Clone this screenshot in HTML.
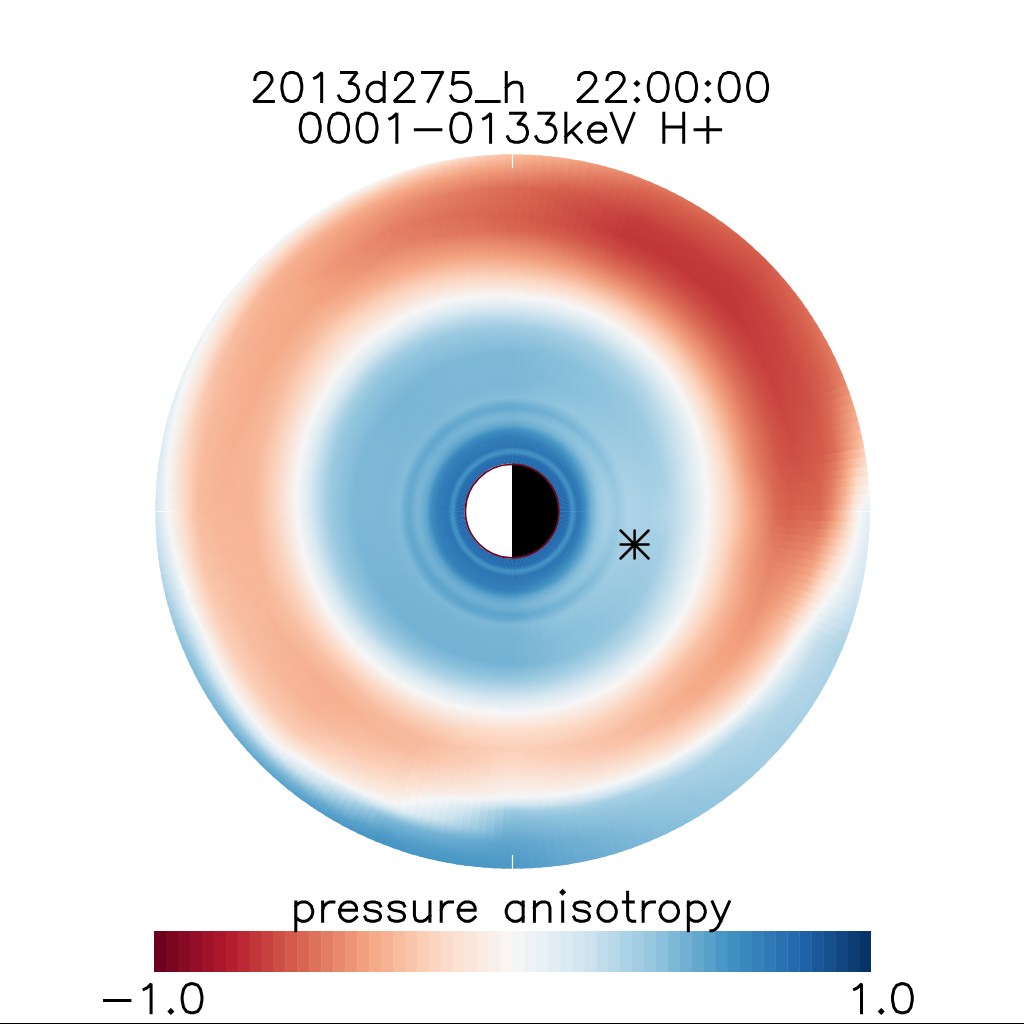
<!DOCTYPE html><html><head><meta charset="utf-8"><style>html,body{margin:0;padding:0;background:#fff;width:1024px;height:1024px;overflow:hidden}svg{display:block}</style></head><body><svg width="1024" height="1024" viewBox="0 0 1024 1024"><defs><radialGradient id="g0" gradientUnits="userSpaceOnUse" cx="512.6" cy="511.5" r="358.3"><stop offset="0.1273" stop-color="#2166ac"/><stop offset="0.1552" stop-color="#266daf"/><stop offset="0.1663" stop-color="#4292c3"/><stop offset="0.1719" stop-color="#3d8bbf"/><stop offset="0.1803" stop-color="#2c74b3"/><stop offset="0.1915" stop-color="#317bb7"/><stop offset="0.2054" stop-color="#4594c4"/><stop offset="0.2194" stop-color="#71b0d3"/><stop offset="0.2389" stop-color="#97c8e0"/><stop offset="0.2640" stop-color="#a8d0e4"/><stop offset="0.2919" stop-color="#9ccae1"/><stop offset="0.3226" stop-color="#aed3e6"/><stop offset="0.3812" stop-color="#a9d1e5"/><stop offset="0.4510" stop-color="#bcdaea"/><stop offset="0.5431" stop-color="#f7f6f6"/><stop offset="0.6073" stop-color="#fcd4bf"/><stop offset="0.6659" stop-color="#f2a07e"/><stop offset="0.7385" stop-color="#d96853"/><stop offset="0.7748" stop-color="#d65f4d"/><stop offset="0.8613" stop-color="#da6954"/><stop offset="0.8892" stop-color="#e6866a"/><stop offset="0.9171" stop-color="#f6af8f"/><stop offset="0.9366" stop-color="#fbcdb5"/><stop offset="0.9506" stop-color="#fbe3d5"/><stop offset="0.9701" stop-color="#f8f4f3"/><stop offset="0.9813" stop-color="#f2f5f6"/><stop offset="0.9980" stop-color="#e9f0f4"/></radialGradient><radialGradient id="g1" gradientUnits="userSpaceOnUse" cx="512.6" cy="511.5" r="358.3"><stop offset="0.1273" stop-color="#2166ac"/><stop offset="0.1552" stop-color="#266daf"/><stop offset="0.1663" stop-color="#4292c3"/><stop offset="0.1719" stop-color="#3d8bbf"/><stop offset="0.1803" stop-color="#2c74b3"/><stop offset="0.1915" stop-color="#317bb7"/><stop offset="0.2054" stop-color="#4594c4"/><stop offset="0.2194" stop-color="#71b0d3"/><stop offset="0.2389" stop-color="#97c8df"/><stop offset="0.2640" stop-color="#a7d0e4"/><stop offset="0.2919" stop-color="#9bcae1"/><stop offset="0.3226" stop-color="#aed3e6"/><stop offset="0.3812" stop-color="#a8d0e4"/><stop offset="0.4426" stop-color="#b7d8e9"/><stop offset="0.5431" stop-color="#f7f7f7"/><stop offset="0.6073" stop-color="#fcd4bf"/><stop offset="0.6631" stop-color="#f2a17f"/><stop offset="0.7357" stop-color="#d96853"/><stop offset="0.7748" stop-color="#d45d4c"/><stop offset="0.8585" stop-color="#d86651"/><stop offset="0.8864" stop-color="#e37d63"/><stop offset="0.9199" stop-color="#f5ab8a"/><stop offset="0.9394" stop-color="#fac9b0"/><stop offset="0.9534" stop-color="#fce0d0"/><stop offset="0.9757" stop-color="#f8f0eb"/><stop offset="0.9925" stop-color="#f5f6f7"/><stop offset="0.9980" stop-color="#f2f5f6"/></radialGradient><radialGradient id="g2" gradientUnits="userSpaceOnUse" cx="512.6" cy="511.5" r="358.3"><stop offset="0.1273" stop-color="#2166ac"/><stop offset="0.1552" stop-color="#266daf"/><stop offset="0.1663" stop-color="#4292c3"/><stop offset="0.1719" stop-color="#3d8bbf"/><stop offset="0.1803" stop-color="#2c74b3"/><stop offset="0.1915" stop-color="#317bb7"/><stop offset="0.2054" stop-color="#4494c3"/><stop offset="0.2194" stop-color="#70afd2"/><stop offset="0.2389" stop-color="#96c7df"/><stop offset="0.2640" stop-color="#a7d0e4"/><stop offset="0.2919" stop-color="#9bc9e0"/><stop offset="0.3226" stop-color="#add3e6"/><stop offset="0.3840" stop-color="#a8d0e4"/><stop offset="0.4371" stop-color="#b4d6e8"/><stop offset="0.5459" stop-color="#f7f6f5"/><stop offset="0.6073" stop-color="#fcd4bf"/><stop offset="0.6631" stop-color="#f29f7e"/><stop offset="0.7357" stop-color="#d96752"/><stop offset="0.7748" stop-color="#d35b4b"/><stop offset="0.8585" stop-color="#d7634f"/><stop offset="0.8920" stop-color="#e37e64"/><stop offset="0.9283" stop-color="#f5ae8d"/><stop offset="0.9590" stop-color="#fcdfcd"/><stop offset="0.9980" stop-color="#f8f4f1"/></radialGradient><radialGradient id="g3" gradientUnits="userSpaceOnUse" cx="512.6" cy="511.5" r="358.3"><stop offset="0.1273" stop-color="#2166ac"/><stop offset="0.1552" stop-color="#266daf"/><stop offset="0.1663" stop-color="#4292c3"/><stop offset="0.1719" stop-color="#3d8bbf"/><stop offset="0.1803" stop-color="#2c74b3"/><stop offset="0.1915" stop-color="#317bb7"/><stop offset="0.2054" stop-color="#4493c3"/><stop offset="0.2194" stop-color="#6fafd2"/><stop offset="0.2389" stop-color="#96c7df"/><stop offset="0.2640" stop-color="#a7cfe4"/><stop offset="0.2919" stop-color="#9ac9e0"/><stop offset="0.3226" stop-color="#add3e6"/><stop offset="0.3840" stop-color="#a7d0e4"/><stop offset="0.4343" stop-color="#b1d5e7"/><stop offset="0.5459" stop-color="#f7f6f6"/><stop offset="0.6073" stop-color="#fcd4bf"/><stop offset="0.6631" stop-color="#f19e7c"/><stop offset="0.7357" stop-color="#d86651"/><stop offset="0.7776" stop-color="#d25949"/><stop offset="0.8585" stop-color="#d6614d"/><stop offset="0.8948" stop-color="#e27a61"/><stop offset="0.9311" stop-color="#f5a987"/><stop offset="0.9646" stop-color="#fddcc8"/><stop offset="0.9980" stop-color="#f9ede5"/></radialGradient><radialGradient id="g4" gradientUnits="userSpaceOnUse" cx="512.6" cy="511.5" r="358.3"><stop offset="0.1273" stop-color="#2166ac"/><stop offset="0.1552" stop-color="#266daf"/><stop offset="0.1663" stop-color="#4292c3"/><stop offset="0.1719" stop-color="#3d8bbf"/><stop offset="0.1803" stop-color="#2c74b3"/><stop offset="0.1915" stop-color="#317bb7"/><stop offset="0.2054" stop-color="#4393c3"/><stop offset="0.2194" stop-color="#6eaed2"/><stop offset="0.2389" stop-color="#95c7df"/><stop offset="0.2640" stop-color="#a6cfe4"/><stop offset="0.2919" stop-color="#9ac9e0"/><stop offset="0.3226" stop-color="#acd2e6"/><stop offset="0.3840" stop-color="#a7d0e4"/><stop offset="0.4315" stop-color="#aed3e6"/><stop offset="0.5459" stop-color="#f7f7f6"/><stop offset="0.6073" stop-color="#fcd4be"/><stop offset="0.6631" stop-color="#f09c7b"/><stop offset="0.7301" stop-color="#d96853"/><stop offset="0.7748" stop-color="#d15749"/><stop offset="0.8501" stop-color="#d45c4b"/><stop offset="0.8892" stop-color="#dd7059"/><stop offset="0.9227" stop-color="#ec9475"/><stop offset="0.9394" stop-color="#f5ac8b"/><stop offset="0.9701" stop-color="#fcd5bf"/><stop offset="0.9980" stop-color="#fbe6d9"/></radialGradient><radialGradient id="g5" gradientUnits="userSpaceOnUse" cx="512.6" cy="511.5" r="358.3"><stop offset="0.1273" stop-color="#2166ac"/><stop offset="0.1552" stop-color="#266daf"/><stop offset="0.1663" stop-color="#4292c3"/><stop offset="0.1719" stop-color="#3d8bbf"/><stop offset="0.1803" stop-color="#2c74b3"/><stop offset="0.1915" stop-color="#317bb6"/><stop offset="0.2054" stop-color="#4393c3"/><stop offset="0.2194" stop-color="#6eaed2"/><stop offset="0.2389" stop-color="#95c7df"/><stop offset="0.2640" stop-color="#a6cfe4"/><stop offset="0.2919" stop-color="#99c9e0"/><stop offset="0.3226" stop-color="#acd2e5"/><stop offset="0.3868" stop-color="#a6cfe4"/><stop offset="0.4315" stop-color="#add3e6"/><stop offset="0.5180" stop-color="#e6eff4"/><stop offset="0.5487" stop-color="#f7f6f5"/><stop offset="0.6073" stop-color="#fcd4be"/><stop offset="0.6603" stop-color="#f19d7c"/><stop offset="0.7078" stop-color="#df755d"/><stop offset="0.7580" stop-color="#d2594a"/><stop offset="0.8111" stop-color="#d05447"/><stop offset="0.8725" stop-color="#d6614e"/><stop offset="0.9087" stop-color="#e17a61"/><stop offset="0.9422" stop-color="#f4a683"/><stop offset="0.9757" stop-color="#fbccb4"/><stop offset="0.9980" stop-color="#fcdecd"/></radialGradient><radialGradient id="g6" gradientUnits="userSpaceOnUse" cx="512.6" cy="511.5" r="358.3"><stop offset="0.1273" stop-color="#2166ac"/><stop offset="0.1552" stop-color="#266daf"/><stop offset="0.1663" stop-color="#4292c3"/><stop offset="0.1719" stop-color="#3d8bbf"/><stop offset="0.1803" stop-color="#2c74b3"/><stop offset="0.1915" stop-color="#307ab6"/><stop offset="0.2054" stop-color="#4392c3"/><stop offset="0.2222" stop-color="#73b1d3"/><stop offset="0.2389" stop-color="#95c6df"/><stop offset="0.2640" stop-color="#a5cfe4"/><stop offset="0.2919" stop-color="#99c8e0"/><stop offset="0.3226" stop-color="#acd2e5"/><stop offset="0.3896" stop-color="#a6cfe4"/><stop offset="0.4287" stop-color="#aad1e5"/><stop offset="0.5068" stop-color="#dfecf3"/><stop offset="0.5487" stop-color="#f7f6f5"/><stop offset="0.6073" stop-color="#fcd4be"/><stop offset="0.6603" stop-color="#f09b7b"/><stop offset="0.6994" stop-color="#e17961"/><stop offset="0.7552" stop-color="#d2594a"/><stop offset="0.8027" stop-color="#ce5146"/><stop offset="0.8752" stop-color="#d55e4c"/><stop offset="0.9115" stop-color="#df745c"/><stop offset="0.9534" stop-color="#f5a886"/><stop offset="0.9980" stop-color="#fcd4be"/></radialGradient><radialGradient id="g7" gradientUnits="userSpaceOnUse" cx="512.6" cy="511.5" r="358.3"><stop offset="0.1273" stop-color="#2166ac"/><stop offset="0.1552" stop-color="#266daf"/><stop offset="0.1663" stop-color="#4292c3"/><stop offset="0.1719" stop-color="#3d8bbf"/><stop offset="0.1803" stop-color="#2c74b3"/><stop offset="0.1915" stop-color="#307ab6"/><stop offset="0.2054" stop-color="#4292c3"/><stop offset="0.2222" stop-color="#72b1d3"/><stop offset="0.2389" stop-color="#94c6df"/><stop offset="0.2640" stop-color="#a5cfe3"/><stop offset="0.2919" stop-color="#98c8e0"/><stop offset="0.3226" stop-color="#abd2e5"/><stop offset="0.3924" stop-color="#a5cfe3"/><stop offset="0.4287" stop-color="#a8d0e4"/><stop offset="0.5013" stop-color="#dbeaf2"/><stop offset="0.5487" stop-color="#f7f6f6"/><stop offset="0.6073" stop-color="#fcd4be"/><stop offset="0.6603" stop-color="#ef9a79"/><stop offset="0.6938" stop-color="#e27c62"/><stop offset="0.7524" stop-color="#d25849"/><stop offset="0.7999" stop-color="#cd4e45"/><stop offset="0.8836" stop-color="#d55d4c"/><stop offset="0.9143" stop-color="#dc6d57"/><stop offset="0.9729" stop-color="#f6ae8e"/><stop offset="0.9980" stop-color="#fac7ad"/></radialGradient><radialGradient id="g8" gradientUnits="userSpaceOnUse" cx="512.6" cy="511.5" r="358.3"><stop offset="0.1273" stop-color="#2166ac"/><stop offset="0.1552" stop-color="#266daf"/><stop offset="0.1663" stop-color="#4292c3"/><stop offset="0.1719" stop-color="#3d8bbf"/><stop offset="0.1803" stop-color="#2c74b3"/><stop offset="0.1915" stop-color="#307ab6"/><stop offset="0.2054" stop-color="#4292c2"/><stop offset="0.2222" stop-color="#71b0d3"/><stop offset="0.2389" stop-color="#93c6de"/><stop offset="0.2640" stop-color="#a4cee3"/><stop offset="0.2919" stop-color="#97c8e0"/><stop offset="0.3226" stop-color="#abd1e5"/><stop offset="0.3924" stop-color="#a4cee3"/><stop offset="0.4287" stop-color="#a7d0e4"/><stop offset="0.5068" stop-color="#ddebf2"/><stop offset="0.5515" stop-color="#f7f6f5"/><stop offset="0.6073" stop-color="#fcd5bf"/><stop offset="0.6603" stop-color="#ef9b7a"/><stop offset="0.6966" stop-color="#e17a61"/><stop offset="0.7524" stop-color="#d25849"/><stop offset="0.7999" stop-color="#cc4d44"/><stop offset="0.8808" stop-color="#d35a4a"/><stop offset="0.9143" stop-color="#db6b55"/><stop offset="0.9813" stop-color="#f6af8f"/><stop offset="0.9980" stop-color="#f8bfa3"/></radialGradient><radialGradient id="g9" gradientUnits="userSpaceOnUse" cx="512.6" cy="511.5" r="358.3"><stop offset="0.1273" stop-color="#2166ac"/><stop offset="0.1552" stop-color="#266daf"/><stop offset="0.1663" stop-color="#4292c3"/><stop offset="0.1719" stop-color="#3d8bbf"/><stop offset="0.1803" stop-color="#2c74b3"/><stop offset="0.1915" stop-color="#307ab6"/><stop offset="0.2054" stop-color="#4291c2"/><stop offset="0.2250" stop-color="#75b3d4"/><stop offset="0.2417" stop-color="#95c7df"/><stop offset="0.2640" stop-color="#a3cee3"/><stop offset="0.2919" stop-color="#96c7df"/><stop offset="0.3226" stop-color="#aad1e5"/><stop offset="0.3924" stop-color="#a3cee3"/><stop offset="0.4315" stop-color="#a8d0e4"/><stop offset="0.5124" stop-color="#dfecf3"/><stop offset="0.5515" stop-color="#f7f6f6"/><stop offset="0.6073" stop-color="#fcd5bf"/><stop offset="0.6603" stop-color="#f09b7b"/><stop offset="0.6966" stop-color="#e17a61"/><stop offset="0.7552" stop-color="#d15749"/><stop offset="0.8027" stop-color="#cc4b43"/><stop offset="0.8836" stop-color="#d3594a"/><stop offset="0.9171" stop-color="#da6a54"/><stop offset="0.9869" stop-color="#f5ad8c"/><stop offset="0.9980" stop-color="#f7b799"/></radialGradient><radialGradient id="g10" gradientUnits="userSpaceOnUse" cx="512.6" cy="511.5" r="358.3"><stop offset="0.1273" stop-color="#2166ac"/><stop offset="0.1552" stop-color="#266daf"/><stop offset="0.1663" stop-color="#4292c3"/><stop offset="0.1719" stop-color="#3d8bbf"/><stop offset="0.1803" stop-color="#2c74b3"/><stop offset="0.1915" stop-color="#307ab6"/><stop offset="0.2082" stop-color="#4896c5"/><stop offset="0.2250" stop-color="#74b2d4"/><stop offset="0.2417" stop-color="#94c6df"/><stop offset="0.2640" stop-color="#a2cde3"/><stop offset="0.2919" stop-color="#95c7df"/><stop offset="0.3226" stop-color="#a9d1e5"/><stop offset="0.3924" stop-color="#a2cde3"/><stop offset="0.4315" stop-color="#a6cfe4"/><stop offset="0.5236" stop-color="#e5eef4"/><stop offset="0.5543" stop-color="#f7f6f5"/><stop offset="0.6073" stop-color="#fcd5c0"/><stop offset="0.6603" stop-color="#f09c7b"/><stop offset="0.6994" stop-color="#e17960"/><stop offset="0.7552" stop-color="#d15648"/><stop offset="0.8027" stop-color="#cb4a43"/><stop offset="0.8836" stop-color="#d25749"/><stop offset="0.9199" stop-color="#da6853"/><stop offset="0.9925" stop-color="#f5aa89"/><stop offset="0.9980" stop-color="#f6af8f"/></radialGradient><radialGradient id="g11" gradientUnits="userSpaceOnUse" cx="512.6" cy="511.5" r="358.3"><stop offset="0.1273" stop-color="#2166ac"/><stop offset="0.1552" stop-color="#266daf"/><stop offset="0.1663" stop-color="#4292c3"/><stop offset="0.1719" stop-color="#3d8bbf"/><stop offset="0.1803" stop-color="#2c74b3"/><stop offset="0.1943" stop-color="#337db8"/><stop offset="0.2082" stop-color="#4695c4"/><stop offset="0.2250" stop-color="#72b1d3"/><stop offset="0.2417" stop-color="#93c6de"/><stop offset="0.2640" stop-color="#a1cde2"/><stop offset="0.2919" stop-color="#94c6df"/><stop offset="0.3226" stop-color="#a8d0e4"/><stop offset="0.3896" stop-color="#a2cde2"/><stop offset="0.4315" stop-color="#a5cfe4"/><stop offset="0.5515" stop-color="#f6f6f7"/><stop offset="0.6045" stop-color="#fdd9c4"/><stop offset="0.6603" stop-color="#f09d7c"/><stop offset="0.6994" stop-color="#e17960"/><stop offset="0.7552" stop-color="#d15648"/><stop offset="0.8027" stop-color="#ca4842"/><stop offset="0.8836" stop-color="#d15548"/><stop offset="0.9255" stop-color="#da6954"/><stop offset="0.9980" stop-color="#f4a785"/></radialGradient><radialGradient id="g12" gradientUnits="userSpaceOnUse" cx="512.6" cy="511.5" r="358.3"><stop offset="0.1273" stop-color="#2166ac"/><stop offset="0.1552" stop-color="#266daf"/><stop offset="0.1663" stop-color="#4292c3"/><stop offset="0.1719" stop-color="#3d8bbf"/><stop offset="0.1803" stop-color="#2c74b3"/><stop offset="0.1943" stop-color="#337db8"/><stop offset="0.2082" stop-color="#4594c4"/><stop offset="0.2277" stop-color="#77b4d5"/><stop offset="0.2417" stop-color="#92c5de"/><stop offset="0.2640" stop-color="#a1cce2"/><stop offset="0.2919" stop-color="#94c6de"/><stop offset="0.3226" stop-color="#a7d0e4"/><stop offset="0.3896" stop-color="#a1cce2"/><stop offset="0.4315" stop-color="#a4cee3"/><stop offset="0.4929" stop-color="#d0e4f0"/><stop offset="0.5571" stop-color="#f7f6f5"/><stop offset="0.6073" stop-color="#fcd6c1"/><stop offset="0.6603" stop-color="#f19e7c"/><stop offset="0.7022" stop-color="#e0785f"/><stop offset="0.7552" stop-color="#d15648"/><stop offset="0.8027" stop-color="#ca4741"/><stop offset="0.8836" stop-color="#d05347"/><stop offset="0.9339" stop-color="#da6a55"/><stop offset="0.9980" stop-color="#f19e7c"/></radialGradient><radialGradient id="g13" gradientUnits="userSpaceOnUse" cx="512.6" cy="511.5" r="358.3"><stop offset="0.1273" stop-color="#2166ac"/><stop offset="0.1552" stop-color="#266daf"/><stop offset="0.1663" stop-color="#4292c3"/><stop offset="0.1719" stop-color="#3d8bbf"/><stop offset="0.1803" stop-color="#2c74b3"/><stop offset="0.1943" stop-color="#327db8"/><stop offset="0.2082" stop-color="#4494c3"/><stop offset="0.2305" stop-color="#7cb7d7"/><stop offset="0.2445" stop-color="#94c6df"/><stop offset="0.2668" stop-color="#a0cce2"/><stop offset="0.2919" stop-color="#93c5de"/><stop offset="0.3198" stop-color="#a7cfe4"/><stop offset="0.3924" stop-color="#a0cce2"/><stop offset="0.4343" stop-color="#a4cee3"/><stop offset="0.4929" stop-color="#cde3ef"/><stop offset="0.5571" stop-color="#f7f6f6"/><stop offset="0.6073" stop-color="#fcd6c1"/><stop offset="0.6603" stop-color="#f19e7d"/><stop offset="0.7022" stop-color="#e0785f"/><stop offset="0.7580" stop-color="#d05447"/><stop offset="0.8055" stop-color="#c94540"/><stop offset="0.8864" stop-color="#cf5246"/><stop offset="0.9422" stop-color="#da6a55"/><stop offset="0.9980" stop-color="#ec9475"/></radialGradient><radialGradient id="g14" gradientUnits="userSpaceOnUse" cx="512.6" cy="511.5" r="358.3"><stop offset="0.1273" stop-color="#2166ac"/><stop offset="0.1552" stop-color="#266daf"/><stop offset="0.1663" stop-color="#4292c3"/><stop offset="0.1719" stop-color="#3d8bbf"/><stop offset="0.1803" stop-color="#2c74b3"/><stop offset="0.1943" stop-color="#327db8"/><stop offset="0.2082" stop-color="#4393c3"/><stop offset="0.2305" stop-color="#7bb6d6"/><stop offset="0.2445" stop-color="#93c5de"/><stop offset="0.2668" stop-color="#9fcce2"/><stop offset="0.2919" stop-color="#92c5de"/><stop offset="0.3198" stop-color="#a6cfe4"/><stop offset="0.3924" stop-color="#9fcce2"/><stop offset="0.4343" stop-color="#a3cee3"/><stop offset="0.4901" stop-color="#c9e1ee"/><stop offset="0.5599" stop-color="#f7f6f5"/><stop offset="0.6073" stop-color="#fcd7c2"/><stop offset="0.6603" stop-color="#f19f7e"/><stop offset="0.7022" stop-color="#e17860"/><stop offset="0.7580" stop-color="#d05347"/><stop offset="0.8055" stop-color="#c84440"/><stop offset="0.8864" stop-color="#ce5045"/><stop offset="0.9506" stop-color="#da6954"/><stop offset="0.9980" stop-color="#e8896d"/></radialGradient><radialGradient id="g15" gradientUnits="userSpaceOnUse" cx="512.6" cy="511.5" r="358.3"><stop offset="0.1273" stop-color="#2166ac"/><stop offset="0.1552" stop-color="#266daf"/><stop offset="0.1663" stop-color="#4292c3"/><stop offset="0.1719" stop-color="#3d8bbf"/><stop offset="0.1803" stop-color="#2c74b3"/><stop offset="0.1943" stop-color="#327db8"/><stop offset="0.2082" stop-color="#4392c3"/><stop offset="0.2361" stop-color="#86bdda"/><stop offset="0.2529" stop-color="#99c9e0"/><stop offset="0.2696" stop-color="#9dcbe1"/><stop offset="0.2919" stop-color="#90c4dd"/><stop offset="0.3198" stop-color="#a5cfe3"/><stop offset="0.3924" stop-color="#9ecbe1"/><stop offset="0.4343" stop-color="#a2cde3"/><stop offset="0.4901" stop-color="#c7e0ed"/><stop offset="0.5599" stop-color="#f7f7f6"/><stop offset="0.6101" stop-color="#fcd4bf"/><stop offset="0.6631" stop-color="#f19d7c"/><stop offset="0.7078" stop-color="#df755d"/><stop offset="0.7580" stop-color="#d05347"/><stop offset="0.8055" stop-color="#c8433f"/><stop offset="0.8836" stop-color="#cd4e44"/><stop offset="0.9534" stop-color="#d96652"/><stop offset="0.9980" stop-color="#e58368"/></radialGradient><radialGradient id="g16" gradientUnits="userSpaceOnUse" cx="512.6" cy="511.5" r="358.3"><stop offset="0.1273" stop-color="#2166ac"/><stop offset="0.1552" stop-color="#266daf"/><stop offset="0.1663" stop-color="#4292c3"/><stop offset="0.1719" stop-color="#3d8bbf"/><stop offset="0.1803" stop-color="#2c74b3"/><stop offset="0.1943" stop-color="#327cb7"/><stop offset="0.2110" stop-color="#4997c5"/><stop offset="0.2389" stop-color="#89c0db"/><stop offset="0.2612" stop-color="#9dcae1"/><stop offset="0.2780" stop-color="#96c7df"/><stop offset="0.2919" stop-color="#8fc3dd"/><stop offset="0.3198" stop-color="#a4cee3"/><stop offset="0.3924" stop-color="#9dcbe1"/><stop offset="0.4343" stop-color="#a1cde2"/><stop offset="0.4901" stop-color="#c5dfec"/><stop offset="0.5627" stop-color="#f7f6f5"/><stop offset="0.6101" stop-color="#fcd6c1"/><stop offset="0.6631" stop-color="#f19f7d"/><stop offset="0.7078" stop-color="#df765e"/><stop offset="0.7580" stop-color="#d05447"/><stop offset="0.8055" stop-color="#c7433f"/><stop offset="0.8808" stop-color="#cc4b43"/><stop offset="0.9534" stop-color="#d86450"/><stop offset="0.9980" stop-color="#e48166"/></radialGradient><radialGradient id="g17" gradientUnits="userSpaceOnUse" cx="512.6" cy="511.5" r="358.3"><stop offset="0.1273" stop-color="#2166ac"/><stop offset="0.1552" stop-color="#266daf"/><stop offset="0.1663" stop-color="#4292c3"/><stop offset="0.1719" stop-color="#3d8bbf"/><stop offset="0.1803" stop-color="#2c74b3"/><stop offset="0.1943" stop-color="#327cb7"/><stop offset="0.2110" stop-color="#4896c5"/><stop offset="0.2389" stop-color="#88bfdb"/><stop offset="0.2584" stop-color="#9bc9e1"/><stop offset="0.2724" stop-color="#9ac9e0"/><stop offset="0.2919" stop-color="#8ec2dd"/><stop offset="0.3198" stop-color="#a3cee3"/><stop offset="0.3924" stop-color="#9ccae1"/><stop offset="0.4371" stop-color="#a1cde2"/><stop offset="0.4929" stop-color="#c5dfed"/><stop offset="0.5627" stop-color="#f7f7f7"/><stop offset="0.6129" stop-color="#fcd5bf"/><stop offset="0.6631" stop-color="#f2a07e"/><stop offset="0.7078" stop-color="#e0765e"/><stop offset="0.7608" stop-color="#cf5347"/><stop offset="0.8083" stop-color="#c7423f"/><stop offset="0.8808" stop-color="#cb4a43"/><stop offset="0.9562" stop-color="#d86450"/><stop offset="0.9980" stop-color="#e37e64"/></radialGradient><radialGradient id="g18" gradientUnits="userSpaceOnUse" cx="512.6" cy="511.5" r="358.3"><stop offset="0.1273" stop-color="#2166ac"/><stop offset="0.1552" stop-color="#266daf"/><stop offset="0.1663" stop-color="#4292c3"/><stop offset="0.1719" stop-color="#3d8bbf"/><stop offset="0.1803" stop-color="#2c74b3"/><stop offset="0.1943" stop-color="#327cb7"/><stop offset="0.2110" stop-color="#4695c4"/><stop offset="0.2389" stop-color="#87beda"/><stop offset="0.2584" stop-color="#9ac9e0"/><stop offset="0.2724" stop-color="#99c8e0"/><stop offset="0.2919" stop-color="#8dc2dc"/><stop offset="0.3198" stop-color="#a3cde3"/><stop offset="0.3896" stop-color="#9ccae1"/><stop offset="0.4371" stop-color="#a0cce2"/><stop offset="0.4929" stop-color="#c3deec"/><stop offset="0.5654" stop-color="#f7f6f5"/><stop offset="0.6129" stop-color="#fcd6c1"/><stop offset="0.6659" stop-color="#f19f7d"/><stop offset="0.7134" stop-color="#de735c"/><stop offset="0.7636" stop-color="#cf5146"/><stop offset="0.8111" stop-color="#c7413e"/><stop offset="0.8836" stop-color="#cb4942"/><stop offset="0.9590" stop-color="#d86450"/><stop offset="0.9980" stop-color="#e27b62"/></radialGradient><radialGradient id="g19" gradientUnits="userSpaceOnUse" cx="512.6" cy="511.5" r="358.3"><stop offset="0.1273" stop-color="#2166ac"/><stop offset="0.1552" stop-color="#266daf"/><stop offset="0.1663" stop-color="#4292c3"/><stop offset="0.1719" stop-color="#3d8bbf"/><stop offset="0.1803" stop-color="#2c74b3"/><stop offset="0.1943" stop-color="#317cb7"/><stop offset="0.2110" stop-color="#4594c4"/><stop offset="0.2389" stop-color="#86bdda"/><stop offset="0.2584" stop-color="#99c9e0"/><stop offset="0.2724" stop-color="#98c8e0"/><stop offset="0.2919" stop-color="#8cc1dc"/><stop offset="0.3198" stop-color="#a2cde3"/><stop offset="0.3896" stop-color="#9bc9e1"/><stop offset="0.4371" stop-color="#9fcce2"/><stop offset="0.4929" stop-color="#c1ddeb"/><stop offset="0.5459" stop-color="#e9f0f4"/><stop offset="0.5682" stop-color="#f7f5f4"/><stop offset="0.6157" stop-color="#fcd5bf"/><stop offset="0.6659" stop-color="#f2a07e"/><stop offset="0.7134" stop-color="#df745c"/><stop offset="0.7636" stop-color="#cf5246"/><stop offset="0.8111" stop-color="#c6403e"/><stop offset="0.8808" stop-color="#ca4741"/><stop offset="0.9590" stop-color="#d7624e"/><stop offset="0.9980" stop-color="#e17960"/></radialGradient><radialGradient id="g20" gradientUnits="userSpaceOnUse" cx="512.6" cy="511.5" r="358.3"><stop offset="0.1273" stop-color="#2166ac"/><stop offset="0.1552" stop-color="#266daf"/><stop offset="0.1663" stop-color="#4292c3"/><stop offset="0.1719" stop-color="#3d8bbf"/><stop offset="0.1803" stop-color="#2c74b3"/><stop offset="0.1943" stop-color="#317cb7"/><stop offset="0.2110" stop-color="#4494c3"/><stop offset="0.2417" stop-color="#89bfdb"/><stop offset="0.2612" stop-color="#99c9e0"/><stop offset="0.2780" stop-color="#93c5de"/><stop offset="0.2919" stop-color="#8ac0db"/><stop offset="0.3198" stop-color="#a1cde2"/><stop offset="0.3896" stop-color="#9ac9e0"/><stop offset="0.4371" stop-color="#9ecbe1"/><stop offset="0.4929" stop-color="#bfdceb"/><stop offset="0.5403" stop-color="#e4eef3"/><stop offset="0.5682" stop-color="#f7f6f5"/><stop offset="0.6157" stop-color="#fcd6c1"/><stop offset="0.6659" stop-color="#f2a27f"/><stop offset="0.7162" stop-color="#de725b"/><stop offset="0.7664" stop-color="#ce5046"/><stop offset="0.8138" stop-color="#c63f3e"/><stop offset="0.8836" stop-color="#c94741"/><stop offset="0.9618" stop-color="#d7614e"/><stop offset="0.9980" stop-color="#e0765e"/></radialGradient><radialGradient id="g21" gradientUnits="userSpaceOnUse" cx="512.6" cy="511.5" r="358.3"><stop offset="0.1273" stop-color="#2166ac"/><stop offset="0.1552" stop-color="#266daf"/><stop offset="0.1663" stop-color="#4292c3"/><stop offset="0.1719" stop-color="#3d8bbf"/><stop offset="0.1803" stop-color="#2c74b3"/><stop offset="0.1943" stop-color="#317bb7"/><stop offset="0.2110" stop-color="#4393c3"/><stop offset="0.2417" stop-color="#88beda"/><stop offset="0.2612" stop-color="#99c8e0"/><stop offset="0.2780" stop-color="#92c5de"/><stop offset="0.2919" stop-color="#89bfdb"/><stop offset="0.3198" stop-color="#a0cce2"/><stop offset="0.3896" stop-color="#99c9e0"/><stop offset="0.4371" stop-color="#9dcbe1"/><stop offset="0.4929" stop-color="#bddbea"/><stop offset="0.5431" stop-color="#e5eef4"/><stop offset="0.5710" stop-color="#f7f5f4"/><stop offset="0.6185" stop-color="#fcd5bf"/><stop offset="0.6687" stop-color="#f2a07e"/><stop offset="0.7190" stop-color="#dd715a"/><stop offset="0.7692" stop-color="#ce4f45"/><stop offset="0.8166" stop-color="#c53e3d"/><stop offset="0.8864" stop-color="#c94641"/><stop offset="0.9646" stop-color="#d6614e"/><stop offset="0.9980" stop-color="#de735c"/></radialGradient><radialGradient id="g22" gradientUnits="userSpaceOnUse" cx="512.6" cy="511.5" r="358.3"><stop offset="0.1273" stop-color="#2166ac"/><stop offset="0.1552" stop-color="#266daf"/><stop offset="0.1663" stop-color="#4292c3"/><stop offset="0.1719" stop-color="#3d8bbf"/><stop offset="0.1803" stop-color="#2c74b3"/><stop offset="0.1943" stop-color="#317bb7"/><stop offset="0.2138" stop-color="#4997c5"/><stop offset="0.2417" stop-color="#86beda"/><stop offset="0.2612" stop-color="#98c8e0"/><stop offset="0.2780" stop-color="#91c4de"/><stop offset="0.2919" stop-color="#88bfdb"/><stop offset="0.3198" stop-color="#9fcce2"/><stop offset="0.3896" stop-color="#98c8e0"/><stop offset="0.4399" stop-color="#9dcbe1"/><stop offset="0.4957" stop-color="#bedbea"/><stop offset="0.5431" stop-color="#e3eef3"/><stop offset="0.5710" stop-color="#f7f6f5"/><stop offset="0.6185" stop-color="#fcd6c1"/><stop offset="0.6687" stop-color="#f2a17f"/><stop offset="0.7190" stop-color="#de725a"/><stop offset="0.7692" stop-color="#ce4f45"/><stop offset="0.8166" stop-color="#c53e3d"/><stop offset="0.8864" stop-color="#c84540"/><stop offset="0.9673" stop-color="#d6604d"/><stop offset="0.9980" stop-color="#dd715a"/></radialGradient><radialGradient id="g23" gradientUnits="userSpaceOnUse" cx="512.6" cy="511.5" r="358.3"><stop offset="0.1273" stop-color="#2166ac"/><stop offset="0.1552" stop-color="#266daf"/><stop offset="0.1663" stop-color="#4292c3"/><stop offset="0.1719" stop-color="#3d8bbf"/><stop offset="0.1803" stop-color="#2c74b3"/><stop offset="0.1943" stop-color="#317bb7"/><stop offset="0.2138" stop-color="#4796c4"/><stop offset="0.2417" stop-color="#85bdda"/><stop offset="0.2612" stop-color="#97c7df"/><stop offset="0.2752" stop-color="#92c5de"/><stop offset="0.2919" stop-color="#87beda"/><stop offset="0.3198" stop-color="#9fcbe2"/><stop offset="0.3896" stop-color="#97c8e0"/><stop offset="0.4399" stop-color="#9ccae1"/><stop offset="0.4957" stop-color="#bcdaea"/><stop offset="0.5375" stop-color="#deebf2"/><stop offset="0.5738" stop-color="#f7f5f4"/><stop offset="0.6213" stop-color="#fcd4bf"/><stop offset="0.6715" stop-color="#f29f7e"/><stop offset="0.7245" stop-color="#dc6e58"/><stop offset="0.7776" stop-color="#cb4b43"/><stop offset="0.8250" stop-color="#c43c3c"/><stop offset="0.9032" stop-color="#ca4741"/><stop offset="0.9813" stop-color="#d86551"/><stop offset="0.9980" stop-color="#dc6e58"/></radialGradient><radialGradient id="g24" gradientUnits="userSpaceOnUse" cx="512.6" cy="511.5" r="358.3"><stop offset="0.1273" stop-color="#2166ac"/><stop offset="0.1552" stop-color="#266daf"/><stop offset="0.1663" stop-color="#4292c3"/><stop offset="0.1719" stop-color="#3d8bbf"/><stop offset="0.1803" stop-color="#2c74b3"/><stop offset="0.1970" stop-color="#337eb8"/><stop offset="0.2138" stop-color="#4695c4"/><stop offset="0.2417" stop-color="#84bcd9"/><stop offset="0.2612" stop-color="#96c7df"/><stop offset="0.2752" stop-color="#91c5de"/><stop offset="0.2919" stop-color="#86bdda"/><stop offset="0.3198" stop-color="#9ecbe1"/><stop offset="0.3896" stop-color="#97c7df"/><stop offset="0.4399" stop-color="#9bcae1"/><stop offset="0.4957" stop-color="#bad9e9"/><stop offset="0.5403" stop-color="#dfecf3"/><stop offset="0.5738" stop-color="#f7f6f6"/><stop offset="0.6213" stop-color="#fcd6c1"/><stop offset="0.6715" stop-color="#f2a17f"/><stop offset="0.7217" stop-color="#dd715a"/><stop offset="0.7748" stop-color="#cc4c44"/><stop offset="0.8222" stop-color="#c43b3c"/><stop offset="0.8948" stop-color="#c84440"/><stop offset="0.9785" stop-color="#d7614e"/><stop offset="0.9980" stop-color="#db6c56"/></radialGradient><radialGradient id="g25" gradientUnits="userSpaceOnUse" cx="512.6" cy="511.5" r="358.3"><stop offset="0.1273" stop-color="#2166ac"/><stop offset="0.1552" stop-color="#266daf"/><stop offset="0.1663" stop-color="#4292c3"/><stop offset="0.1719" stop-color="#3d8bbf"/><stop offset="0.1803" stop-color="#2c74b3"/><stop offset="0.1970" stop-color="#337eb8"/><stop offset="0.2138" stop-color="#4594c4"/><stop offset="0.2417" stop-color="#83bbd9"/><stop offset="0.2612" stop-color="#95c7df"/><stop offset="0.2752" stop-color="#90c4dd"/><stop offset="0.2919" stop-color="#85bdd9"/><stop offset="0.3198" stop-color="#9dcbe1"/><stop offset="0.3868" stop-color="#96c7df"/><stop offset="0.4399" stop-color="#9ac9e0"/><stop offset="0.4957" stop-color="#b8d8e9"/><stop offset="0.5459" stop-color="#e2edf3"/><stop offset="0.5766" stop-color="#f7f5f4"/><stop offset="0.6241" stop-color="#fcd4be"/><stop offset="0.6743" stop-color="#f19f7d"/><stop offset="0.7245" stop-color="#dd6f59"/><stop offset="0.7776" stop-color="#cb4b43"/><stop offset="0.8250" stop-color="#c33a3b"/><stop offset="0.9004" stop-color="#c84440"/><stop offset="0.9841" stop-color="#d7624e"/><stop offset="0.9980" stop-color="#da6954"/></radialGradient><radialGradient id="g26" gradientUnits="userSpaceOnUse" cx="512.6" cy="511.5" r="358.3"><stop offset="0.1273" stop-color="#2166ac"/><stop offset="0.1552" stop-color="#266daf"/><stop offset="0.1663" stop-color="#4292c3"/><stop offset="0.1719" stop-color="#3d8bbf"/><stop offset="0.1803" stop-color="#2c74b3"/><stop offset="0.1970" stop-color="#337db8"/><stop offset="0.2138" stop-color="#4393c3"/><stop offset="0.2417" stop-color="#82bbd8"/><stop offset="0.2612" stop-color="#94c6df"/><stop offset="0.2752" stop-color="#8fc3dd"/><stop offset="0.2919" stop-color="#83bcd9"/><stop offset="0.3198" stop-color="#9ccae1"/><stop offset="0.3868" stop-color="#95c6df"/><stop offset="0.4426" stop-color="#9ac9e0"/><stop offset="0.4985" stop-color="#b8d8e9"/><stop offset="0.5431" stop-color="#dfebf3"/><stop offset="0.5766" stop-color="#f7f6f6"/><stop offset="0.6241" stop-color="#fcd6c0"/><stop offset="0.6743" stop-color="#f2a17f"/><stop offset="0.7245" stop-color="#dd7059"/><stop offset="0.7776" stop-color="#cb4b43"/><stop offset="0.8250" stop-color="#c3393b"/><stop offset="0.8976" stop-color="#c7423f"/><stop offset="0.9841" stop-color="#d65f4d"/><stop offset="0.9980" stop-color="#d96652"/></radialGradient><radialGradient id="g27" gradientUnits="userSpaceOnUse" cx="512.6" cy="511.5" r="358.3"><stop offset="0.1273" stop-color="#2166ac"/><stop offset="0.1552" stop-color="#266daf"/><stop offset="0.1663" stop-color="#4292c3"/><stop offset="0.1719" stop-color="#3d8bbf"/><stop offset="0.1803" stop-color="#2c74b3"/><stop offset="0.1970" stop-color="#327db8"/><stop offset="0.2166" stop-color="#4896c5"/><stop offset="0.2417" stop-color="#81bad8"/><stop offset="0.2612" stop-color="#93c6de"/><stop offset="0.2752" stop-color="#8ec3dd"/><stop offset="0.2919" stop-color="#82bbd9"/><stop offset="0.3198" stop-color="#9bcae1"/><stop offset="0.3868" stop-color="#94c6df"/><stop offset="0.4426" stop-color="#99c8e0"/><stop offset="0.4985" stop-color="#b6d7e8"/><stop offset="0.5431" stop-color="#ddebf2"/><stop offset="0.5794" stop-color="#f7f5f4"/><stop offset="0.6268" stop-color="#fcd4be"/><stop offset="0.6771" stop-color="#f19f7d"/><stop offset="0.7273" stop-color="#dc6e58"/><stop offset="0.7831" stop-color="#ca4842"/><stop offset="0.8278" stop-color="#c2383a"/><stop offset="0.9032" stop-color="#c7423f"/><stop offset="0.9897" stop-color="#d6604d"/><stop offset="0.9980" stop-color="#d86450"/></radialGradient><radialGradient id="g28" gradientUnits="userSpaceOnUse" cx="512.6" cy="511.5" r="358.3"><stop offset="0.1273" stop-color="#2166ac"/><stop offset="0.1552" stop-color="#266daf"/><stop offset="0.1663" stop-color="#4292c3"/><stop offset="0.1719" stop-color="#3d8bbf"/><stop offset="0.1803" stop-color="#2c74b3"/><stop offset="0.1970" stop-color="#327db8"/><stop offset="0.2166" stop-color="#4795c4"/><stop offset="0.2417" stop-color="#7fb9d8"/><stop offset="0.2612" stop-color="#93c5de"/><stop offset="0.2752" stop-color="#8dc2dc"/><stop offset="0.2919" stop-color="#81bad8"/><stop offset="0.3198" stop-color="#9bc9e0"/><stop offset="0.3868" stop-color="#93c6de"/><stop offset="0.4426" stop-color="#97c8e0"/><stop offset="0.4985" stop-color="#b4d6e8"/><stop offset="0.5459" stop-color="#deebf2"/><stop offset="0.5794" stop-color="#f7f6f6"/><stop offset="0.6268" stop-color="#fcd5c0"/><stop offset="0.6771" stop-color="#f2a07e"/><stop offset="0.7245" stop-color="#dd715a"/><stop offset="0.7776" stop-color="#cc4b43"/><stop offset="0.8250" stop-color="#c2373a"/><stop offset="0.8948" stop-color="#c53e3d"/><stop offset="0.9897" stop-color="#d55d4c"/><stop offset="0.9980" stop-color="#d6614e"/></radialGradient><radialGradient id="g29" gradientUnits="userSpaceOnUse" cx="512.6" cy="511.5" r="358.3"><stop offset="0.1273" stop-color="#2166ac"/><stop offset="0.1552" stop-color="#266daf"/><stop offset="0.1663" stop-color="#4292c3"/><stop offset="0.1719" stop-color="#3d8bbf"/><stop offset="0.1803" stop-color="#2c74b3"/><stop offset="0.1970" stop-color="#327cb7"/><stop offset="0.2166" stop-color="#4594c4"/><stop offset="0.2417" stop-color="#7eb8d7"/><stop offset="0.2612" stop-color="#92c5de"/><stop offset="0.2752" stop-color="#8cc1dc"/><stop offset="0.2891" stop-color="#80b9d8"/><stop offset="0.3031" stop-color="#8ac0db"/><stop offset="0.3198" stop-color="#9ac9e0"/><stop offset="0.3868" stop-color="#92c5de"/><stop offset="0.4454" stop-color="#97c8df"/><stop offset="0.4985" stop-color="#b2d5e7"/><stop offset="0.5459" stop-color="#ddebf2"/><stop offset="0.5822" stop-color="#f7f6f5"/><stop offset="0.6268" stop-color="#fcd7c2"/><stop offset="0.6771" stop-color="#f2a17f"/><stop offset="0.7245" stop-color="#de725b"/><stop offset="0.7776" stop-color="#cc4b43"/><stop offset="0.8250" stop-color="#c13639"/><stop offset="0.8948" stop-color="#c43d3c"/><stop offset="0.9925" stop-color="#d45c4b"/><stop offset="0.9980" stop-color="#d55e4c"/></radialGradient><radialGradient id="g30" gradientUnits="userSpaceOnUse" cx="512.6" cy="511.5" r="358.3"><stop offset="0.1273" stop-color="#2166ac"/><stop offset="0.1552" stop-color="#266daf"/><stop offset="0.1663" stop-color="#4292c3"/><stop offset="0.1719" stop-color="#3d8bbf"/><stop offset="0.1803" stop-color="#2c74b3"/><stop offset="0.1970" stop-color="#327cb7"/><stop offset="0.2194" stop-color="#4a97c5"/><stop offset="0.2417" stop-color="#7db8d7"/><stop offset="0.2612" stop-color="#91c4de"/><stop offset="0.2752" stop-color="#8bc1dc"/><stop offset="0.2891" stop-color="#7fb9d7"/><stop offset="0.3031" stop-color="#89c0db"/><stop offset="0.3198" stop-color="#99c9e0"/><stop offset="0.3868" stop-color="#92c5de"/><stop offset="0.4454" stop-color="#96c7df"/><stop offset="0.4985" stop-color="#b0d4e7"/><stop offset="0.5487" stop-color="#deebf2"/><stop offset="0.5822" stop-color="#f7f6f6"/><stop offset="0.6296" stop-color="#fcd5bf"/><stop offset="0.6799" stop-color="#f19f7d"/><stop offset="0.7273" stop-color="#dd7059"/><stop offset="0.7804" stop-color="#cb4a42"/><stop offset="0.8278" stop-color="#c13539"/><stop offset="0.9004" stop-color="#c53e3d"/><stop offset="0.9953" stop-color="#d45d4b"/><stop offset="0.9980" stop-color="#d55e4c"/></radialGradient><radialGradient id="g31" gradientUnits="userSpaceOnUse" cx="512.6" cy="511.5" r="358.3"><stop offset="0.1273" stop-color="#2166ac"/><stop offset="0.1552" stop-color="#266daf"/><stop offset="0.1663" stop-color="#4292c3"/><stop offset="0.1719" stop-color="#3d8bbf"/><stop offset="0.1803" stop-color="#2c74b3"/><stop offset="0.1970" stop-color="#327cb7"/><stop offset="0.2194" stop-color="#4997c5"/><stop offset="0.2417" stop-color="#7cb7d7"/><stop offset="0.2612" stop-color="#90c4dd"/><stop offset="0.2752" stop-color="#8ac0db"/><stop offset="0.2891" stop-color="#7eb8d7"/><stop offset="0.3031" stop-color="#89bfdb"/><stop offset="0.3198" stop-color="#99c8e0"/><stop offset="0.3840" stop-color="#91c4de"/><stop offset="0.4454" stop-color="#96c7df"/><stop offset="0.4985" stop-color="#afd4e6"/><stop offset="0.5487" stop-color="#ddebf2"/><stop offset="0.5850" stop-color="#f7f5f4"/><stop offset="0.6296" stop-color="#fcd6c0"/><stop offset="0.6799" stop-color="#f2a07e"/><stop offset="0.7273" stop-color="#dd705a"/><stop offset="0.7804" stop-color="#cb4a42"/><stop offset="0.8278" stop-color="#c13539"/><stop offset="0.8976" stop-color="#c53d3d"/><stop offset="0.9897" stop-color="#d45c4b"/><stop offset="0.9980" stop-color="#d6604d"/></radialGradient><radialGradient id="g32" gradientUnits="userSpaceOnUse" cx="512.6" cy="511.5" r="358.3"><stop offset="0.1273" stop-color="#2166ac"/><stop offset="0.1552" stop-color="#266daf"/><stop offset="0.1663" stop-color="#4292c3"/><stop offset="0.1719" stop-color="#3d8bbf"/><stop offset="0.1803" stop-color="#2c74b3"/><stop offset="0.1970" stop-color="#327cb7"/><stop offset="0.2194" stop-color="#4796c5"/><stop offset="0.2417" stop-color="#7bb7d6"/><stop offset="0.2612" stop-color="#8fc3dd"/><stop offset="0.2752" stop-color="#89bfdb"/><stop offset="0.2891" stop-color="#7db8d7"/><stop offset="0.3031" stop-color="#88beda"/><stop offset="0.3198" stop-color="#98c8e0"/><stop offset="0.3840" stop-color="#90c4dd"/><stop offset="0.4454" stop-color="#95c6df"/><stop offset="0.4985" stop-color="#aed3e6"/><stop offset="0.5543" stop-color="#e1ecf3"/><stop offset="0.5850" stop-color="#f7f6f5"/><stop offset="0.6296" stop-color="#fcd7c2"/><stop offset="0.6799" stop-color="#f2a17f"/><stop offset="0.7273" stop-color="#dd715a"/><stop offset="0.7804" stop-color="#cb4a43"/><stop offset="0.8278" stop-color="#c13639"/><stop offset="0.8948" stop-color="#c43d3c"/><stop offset="0.9869" stop-color="#d45d4b"/><stop offset="0.9980" stop-color="#d7624f"/></radialGradient><radialGradient id="g33" gradientUnits="userSpaceOnUse" cx="512.6" cy="511.5" r="358.3"><stop offset="0.1273" stop-color="#2166ac"/><stop offset="0.1552" stop-color="#266daf"/><stop offset="0.1663" stop-color="#4292c3"/><stop offset="0.1719" stop-color="#3d8bbf"/><stop offset="0.1803" stop-color="#2c74b3"/><stop offset="0.1970" stop-color="#317cb7"/><stop offset="0.2194" stop-color="#4695c4"/><stop offset="0.2417" stop-color="#7ab6d6"/><stop offset="0.2612" stop-color="#8ec3dd"/><stop offset="0.2752" stop-color="#88bfdb"/><stop offset="0.2891" stop-color="#7cb7d6"/><stop offset="0.3031" stop-color="#87beda"/><stop offset="0.3171" stop-color="#96c7df"/><stop offset="0.3924" stop-color="#8fc3dd"/><stop offset="0.4482" stop-color="#95c7df"/><stop offset="0.5013" stop-color="#afd4e6"/><stop offset="0.5515" stop-color="#deebf2"/><stop offset="0.5850" stop-color="#f7f6f6"/><stop offset="0.6324" stop-color="#fcd4bf"/><stop offset="0.6827" stop-color="#f19e7d"/><stop offset="0.7273" stop-color="#dd715a"/><stop offset="0.7804" stop-color="#cb4a43"/><stop offset="0.8250" stop-color="#c13639"/><stop offset="0.8864" stop-color="#c43b3c"/><stop offset="0.9813" stop-color="#d45c4b"/><stop offset="0.9980" stop-color="#d86450"/></radialGradient><radialGradient id="g34" gradientUnits="userSpaceOnUse" cx="512.6" cy="511.5" r="358.3"><stop offset="0.1273" stop-color="#2166ac"/><stop offset="0.1552" stop-color="#266daf"/><stop offset="0.1663" stop-color="#4292c3"/><stop offset="0.1719" stop-color="#3d8bbf"/><stop offset="0.1803" stop-color="#2c74b3"/><stop offset="0.1998" stop-color="#337eb8"/><stop offset="0.2194" stop-color="#4594c4"/><stop offset="0.2417" stop-color="#7ab5d6"/><stop offset="0.2612" stop-color="#8ec2dc"/><stop offset="0.2752" stop-color="#88beda"/><stop offset="0.2891" stop-color="#7bb7d6"/><stop offset="0.3031" stop-color="#86bdda"/><stop offset="0.3171" stop-color="#96c7df"/><stop offset="0.3896" stop-color="#8ec3dd"/><stop offset="0.4454" stop-color="#93c6de"/><stop offset="0.5013" stop-color="#add3e6"/><stop offset="0.5543" stop-color="#dfecf3"/><stop offset="0.5878" stop-color="#f7f5f4"/><stop offset="0.6324" stop-color="#fcd5c0"/><stop offset="0.6827" stop-color="#f19f7d"/><stop offset="0.7273" stop-color="#de715a"/><stop offset="0.7804" stop-color="#cb4a43"/><stop offset="0.8250" stop-color="#c13639"/><stop offset="0.8864" stop-color="#c43b3c"/><stop offset="0.9785" stop-color="#d45c4b"/><stop offset="0.9980" stop-color="#d96752"/></radialGradient><radialGradient id="g35" gradientUnits="userSpaceOnUse" cx="512.6" cy="511.5" r="358.3"><stop offset="0.1273" stop-color="#2166ac"/><stop offset="0.1552" stop-color="#266daf"/><stop offset="0.1663" stop-color="#4292c3"/><stop offset="0.1719" stop-color="#3d8bbf"/><stop offset="0.1803" stop-color="#2c74b3"/><stop offset="0.1998" stop-color="#337eb8"/><stop offset="0.2222" stop-color="#4a97c5"/><stop offset="0.2417" stop-color="#79b5d5"/><stop offset="0.2612" stop-color="#8dc2dc"/><stop offset="0.2724" stop-color="#8ac0db"/><stop offset="0.2891" stop-color="#7ab6d6"/><stop offset="0.3031" stop-color="#85bdda"/><stop offset="0.3171" stop-color="#95c7df"/><stop offset="0.3896" stop-color="#8ec2dd"/><stop offset="0.4454" stop-color="#93c5de"/><stop offset="0.5013" stop-color="#acd2e5"/><stop offset="0.5543" stop-color="#deebf2"/><stop offset="0.5878" stop-color="#f7f6f5"/><stop offset="0.6324" stop-color="#fcd7c1"/><stop offset="0.6827" stop-color="#f2a07e"/><stop offset="0.7273" stop-color="#de725b"/><stop offset="0.7804" stop-color="#cb4a43"/><stop offset="0.8250" stop-color="#c13639"/><stop offset="0.8864" stop-color="#c43c3c"/><stop offset="0.9785" stop-color="#d55d4c"/><stop offset="0.9980" stop-color="#da6954"/></radialGradient><radialGradient id="g36" gradientUnits="userSpaceOnUse" cx="512.6" cy="511.5" r="358.3"><stop offset="0.1273" stop-color="#2166ac"/><stop offset="0.1552" stop-color="#266daf"/><stop offset="0.1663" stop-color="#4292c3"/><stop offset="0.1719" stop-color="#3d8bbf"/><stop offset="0.1803" stop-color="#2c74b3"/><stop offset="0.1998" stop-color="#337eb8"/><stop offset="0.2222" stop-color="#4896c5"/><stop offset="0.2417" stop-color="#78b4d5"/><stop offset="0.2612" stop-color="#8cc1dc"/><stop offset="0.2724" stop-color="#89bfdb"/><stop offset="0.2891" stop-color="#79b5d6"/><stop offset="0.3031" stop-color="#84bcd9"/><stop offset="0.3198" stop-color="#96c7df"/><stop offset="0.3812" stop-color="#8dc2dc"/><stop offset="0.4426" stop-color="#91c4de"/><stop offset="0.5013" stop-color="#abd2e5"/><stop offset="0.5599" stop-color="#e2edf3"/><stop offset="0.5878" stop-color="#f7f6f6"/><stop offset="0.6352" stop-color="#fcd4be"/><stop offset="0.6855" stop-color="#f09d7c"/><stop offset="0.7301" stop-color="#dd7059"/><stop offset="0.7831" stop-color="#ca4842"/><stop offset="0.8278" stop-color="#c13639"/><stop offset="0.8892" stop-color="#c43d3c"/><stop offset="0.9757" stop-color="#d55d4c"/><stop offset="0.9980" stop-color="#db6b55"/></radialGradient><radialGradient id="g37" gradientUnits="userSpaceOnUse" cx="512.6" cy="511.5" r="358.3"><stop offset="0.1273" stop-color="#2166ac"/><stop offset="0.1552" stop-color="#266daf"/><stop offset="0.1663" stop-color="#4292c3"/><stop offset="0.1719" stop-color="#3d8bbf"/><stop offset="0.1803" stop-color="#2c74b3"/><stop offset="0.1998" stop-color="#337db8"/><stop offset="0.2222" stop-color="#4796c4"/><stop offset="0.2417" stop-color="#77b4d5"/><stop offset="0.2612" stop-color="#8bc1dc"/><stop offset="0.2724" stop-color="#88bfdb"/><stop offset="0.2891" stop-color="#79b5d5"/><stop offset="0.3031" stop-color="#84bcd9"/><stop offset="0.3171" stop-color="#94c6df"/><stop offset="0.3868" stop-color="#8cc1dc"/><stop offset="0.4454" stop-color="#91c4de"/><stop offset="0.5040" stop-color="#acd2e5"/><stop offset="0.5571" stop-color="#dfebf2"/><stop offset="0.5906" stop-color="#f7f5f4"/><stop offset="0.6352" stop-color="#fcd5bf"/><stop offset="0.6855" stop-color="#f19e7c"/><stop offset="0.7301" stop-color="#dd7059"/><stop offset="0.7831" stop-color="#ca4942"/><stop offset="0.8278" stop-color="#c13639"/><stop offset="0.8892" stop-color="#c43d3c"/><stop offset="0.9757" stop-color="#d55f4c"/><stop offset="0.9980" stop-color="#dc6d57"/></radialGradient><radialGradient id="g38" gradientUnits="userSpaceOnUse" cx="512.6" cy="511.5" r="358.3"><stop offset="0.1273" stop-color="#2166ac"/><stop offset="0.1552" stop-color="#266daf"/><stop offset="0.1663" stop-color="#4292c3"/><stop offset="0.1719" stop-color="#3d8bbf"/><stop offset="0.1803" stop-color="#2c74b3"/><stop offset="0.1998" stop-color="#337db8"/><stop offset="0.2222" stop-color="#4695c4"/><stop offset="0.2417" stop-color="#76b3d4"/><stop offset="0.2612" stop-color="#8ac0db"/><stop offset="0.2724" stop-color="#87beda"/><stop offset="0.2891" stop-color="#78b4d5"/><stop offset="0.3031" stop-color="#83bbd9"/><stop offset="0.3171" stop-color="#93c6de"/><stop offset="0.3840" stop-color="#8bc1dc"/><stop offset="0.4454" stop-color="#90c4dd"/><stop offset="0.5040" stop-color="#abd1e5"/><stop offset="0.5599" stop-color="#e0ecf3"/><stop offset="0.5906" stop-color="#f7f6f5"/><stop offset="0.6352" stop-color="#fcd6c1"/><stop offset="0.6855" stop-color="#f19e7d"/><stop offset="0.7301" stop-color="#dd705a"/><stop offset="0.7831" stop-color="#ca4942"/><stop offset="0.8278" stop-color="#c13639"/><stop offset="0.8864" stop-color="#c43c3c"/><stop offset="0.9729" stop-color="#d55f4c"/><stop offset="0.9980" stop-color="#dc6f58"/></radialGradient><radialGradient id="g39" gradientUnits="userSpaceOnUse" cx="512.6" cy="511.5" r="358.3"><stop offset="0.1273" stop-color="#2166ac"/><stop offset="0.1552" stop-color="#266daf"/><stop offset="0.1663" stop-color="#4292c3"/><stop offset="0.1719" stop-color="#3d8bbf"/><stop offset="0.1803" stop-color="#2c74b3"/><stop offset="0.1998" stop-color="#327db8"/><stop offset="0.2222" stop-color="#4594c4"/><stop offset="0.2417" stop-color="#75b3d4"/><stop offset="0.2612" stop-color="#8ac0db"/><stop offset="0.2724" stop-color="#86beda"/><stop offset="0.2891" stop-color="#77b4d5"/><stop offset="0.3031" stop-color="#82bbd8"/><stop offset="0.3198" stop-color="#94c6df"/><stop offset="0.3785" stop-color="#8ac0db"/><stop offset="0.4426" stop-color="#8ec3dd"/><stop offset="0.5040" stop-color="#a9d1e5"/><stop offset="0.5599" stop-color="#dfecf3"/><stop offset="0.5906" stop-color="#f7f6f6"/><stop offset="0.6380" stop-color="#fcd4bd"/><stop offset="0.6883" stop-color="#f09c7b"/><stop offset="0.7329" stop-color="#dc6e58"/><stop offset="0.7859" stop-color="#ca4741"/><stop offset="0.8306" stop-color="#c13539"/><stop offset="0.8920" stop-color="#c53e3d"/><stop offset="0.9757" stop-color="#d7624e"/><stop offset="0.9980" stop-color="#dd715a"/></radialGradient><radialGradient id="g40" gradientUnits="userSpaceOnUse" cx="512.6" cy="511.5" r="358.3"><stop offset="0.1273" stop-color="#2166ac"/><stop offset="0.1552" stop-color="#266daf"/><stop offset="0.1663" stop-color="#4292c3"/><stop offset="0.1719" stop-color="#3d8bbf"/><stop offset="0.1803" stop-color="#2c74b3"/><stop offset="0.1998" stop-color="#327db8"/><stop offset="0.2222" stop-color="#4493c3"/><stop offset="0.2417" stop-color="#74b2d4"/><stop offset="0.2612" stop-color="#89bfdb"/><stop offset="0.2724" stop-color="#86bdda"/><stop offset="0.2891" stop-color="#76b3d4"/><stop offset="0.3031" stop-color="#81bad8"/><stop offset="0.3198" stop-color="#93c6de"/><stop offset="0.3785" stop-color="#8ac0db"/><stop offset="0.4454" stop-color="#8ec3dd"/><stop offset="0.5068" stop-color="#aad1e5"/><stop offset="0.5599" stop-color="#deebf2"/><stop offset="0.5934" stop-color="#f7f5f4"/><stop offset="0.6380" stop-color="#fcd5bf"/><stop offset="0.6883" stop-color="#f09c7b"/><stop offset="0.7329" stop-color="#dc6f58"/><stop offset="0.7859" stop-color="#ca4741"/><stop offset="0.8306" stop-color="#c13539"/><stop offset="0.8920" stop-color="#c53f3d"/><stop offset="0.9729" stop-color="#d7624e"/><stop offset="0.9980" stop-color="#de735c"/></radialGradient><radialGradient id="g41" gradientUnits="userSpaceOnUse" cx="512.6" cy="511.5" r="358.3"><stop offset="0.1273" stop-color="#2166ac"/><stop offset="0.1552" stop-color="#266daf"/><stop offset="0.1663" stop-color="#4292c3"/><stop offset="0.1719" stop-color="#3d8bbf"/><stop offset="0.1803" stop-color="#2c74b3"/><stop offset="0.1998" stop-color="#327cb7"/><stop offset="0.2222" stop-color="#4393c3"/><stop offset="0.2417" stop-color="#73b2d3"/><stop offset="0.2612" stop-color="#88bfdb"/><stop offset="0.2724" stop-color="#85bdda"/><stop offset="0.2891" stop-color="#75b3d4"/><stop offset="0.3031" stop-color="#80bad8"/><stop offset="0.3198" stop-color="#93c5de"/><stop offset="0.3757" stop-color="#89bfdb"/><stop offset="0.4454" stop-color="#8dc2dc"/><stop offset="0.5068" stop-color="#a9d1e5"/><stop offset="0.5627" stop-color="#e0ecf3"/><stop offset="0.5934" stop-color="#f7f6f5"/><stop offset="0.6380" stop-color="#fcd6c0"/><stop offset="0.6883" stop-color="#f19d7c"/><stop offset="0.7329" stop-color="#dd6f59"/><stop offset="0.7831" stop-color="#cb4942"/><stop offset="0.8278" stop-color="#c13639"/><stop offset="0.8836" stop-color="#c43c3c"/><stop offset="0.9701" stop-color="#d7614e"/><stop offset="0.9980" stop-color="#df755d"/></radialGradient><radialGradient id="g42" gradientUnits="userSpaceOnUse" cx="512.6" cy="511.5" r="358.3"><stop offset="0.1273" stop-color="#2166ac"/><stop offset="0.1552" stop-color="#266daf"/><stop offset="0.1663" stop-color="#4292c3"/><stop offset="0.1719" stop-color="#3d8bbf"/><stop offset="0.1803" stop-color="#2c74b3"/><stop offset="0.2026" stop-color="#347fb9"/><stop offset="0.2250" stop-color="#4896c5"/><stop offset="0.2417" stop-color="#72b1d3"/><stop offset="0.2612" stop-color="#87beda"/><stop offset="0.2724" stop-color="#84bcd9"/><stop offset="0.2891" stop-color="#74b2d4"/><stop offset="0.3031" stop-color="#7fb9d8"/><stop offset="0.3198" stop-color="#92c5de"/><stop offset="0.3757" stop-color="#88bfdb"/><stop offset="0.4454" stop-color="#8dc2dc"/><stop offset="0.5068" stop-color="#a8d0e4"/><stop offset="0.5627" stop-color="#dfecf3"/><stop offset="0.5934" stop-color="#f7f6f6"/><stop offset="0.6380" stop-color="#fcd6c1"/><stop offset="0.6883" stop-color="#f19e7c"/><stop offset="0.7301" stop-color="#de715a"/><stop offset="0.7804" stop-color="#cc4b43"/><stop offset="0.8250" stop-color="#c13639"/><stop offset="0.8780" stop-color="#c33b3b"/><stop offset="0.9673" stop-color="#d6614e"/><stop offset="0.9980" stop-color="#e0775f"/></radialGradient><radialGradient id="g43" gradientUnits="userSpaceOnUse" cx="512.6" cy="511.5" r="358.3"><stop offset="0.1273" stop-color="#2166ac"/><stop offset="0.1552" stop-color="#266daf"/><stop offset="0.1663" stop-color="#4292c3"/><stop offset="0.1719" stop-color="#3d8bbf"/><stop offset="0.1803" stop-color="#2c74b3"/><stop offset="0.2026" stop-color="#337eb8"/><stop offset="0.2250" stop-color="#4795c4"/><stop offset="0.2417" stop-color="#71b0d3"/><stop offset="0.2612" stop-color="#86beda"/><stop offset="0.2724" stop-color="#83bcd9"/><stop offset="0.2891" stop-color="#73b2d3"/><stop offset="0.3031" stop-color="#7fb9d7"/><stop offset="0.3198" stop-color="#91c5de"/><stop offset="0.3757" stop-color="#87beda"/><stop offset="0.4454" stop-color="#8cc1dc"/><stop offset="0.5096" stop-color="#a8d0e4"/><stop offset="0.5627" stop-color="#deebf2"/><stop offset="0.5961" stop-color="#f7f5f4"/><stop offset="0.6408" stop-color="#fcd4be"/><stop offset="0.6910" stop-color="#f09b7a"/><stop offset="0.7329" stop-color="#dd7059"/><stop offset="0.7831" stop-color="#cb4942"/><stop offset="0.8278" stop-color="#c13639"/><stop offset="0.8836" stop-color="#c43d3c"/><stop offset="0.9701" stop-color="#d86450"/><stop offset="0.9980" stop-color="#e17961"/></radialGradient><radialGradient id="g44" gradientUnits="userSpaceOnUse" cx="512.6" cy="511.5" r="358.3"><stop offset="0.1273" stop-color="#2166ac"/><stop offset="0.1552" stop-color="#266daf"/><stop offset="0.1663" stop-color="#4292c3"/><stop offset="0.1719" stop-color="#3d8bbf"/><stop offset="0.1803" stop-color="#2c74b3"/><stop offset="0.2026" stop-color="#337eb8"/><stop offset="0.2250" stop-color="#4595c4"/><stop offset="0.2417" stop-color="#71b0d3"/><stop offset="0.2612" stop-color="#86bdda"/><stop offset="0.2724" stop-color="#82bbd9"/><stop offset="0.2891" stop-color="#72b1d3"/><stop offset="0.3031" stop-color="#7eb8d7"/><stop offset="0.3198" stop-color="#91c4de"/><stop offset="0.3757" stop-color="#87beda"/><stop offset="0.4454" stop-color="#8bc0dc"/><stop offset="0.5096" stop-color="#a7d0e4"/><stop offset="0.5627" stop-color="#ddebf2"/><stop offset="0.5961" stop-color="#f7f6f5"/><stop offset="0.6408" stop-color="#fcd5bf"/><stop offset="0.6910" stop-color="#f09c7b"/><stop offset="0.7329" stop-color="#dd7059"/><stop offset="0.7859" stop-color="#ca4841"/><stop offset="0.8306" stop-color="#c13539"/><stop offset="0.8864" stop-color="#c53e3d"/><stop offset="0.9701" stop-color="#d86551"/><stop offset="0.9980" stop-color="#e27c62"/></radialGradient><radialGradient id="g45" gradientUnits="userSpaceOnUse" cx="512.6" cy="511.5" r="358.3"><stop offset="0.1273" stop-color="#2166ac"/><stop offset="0.1552" stop-color="#266daf"/><stop offset="0.1663" stop-color="#4292c3"/><stop offset="0.1719" stop-color="#3d8bbf"/><stop offset="0.1803" stop-color="#2c74b3"/><stop offset="0.2026" stop-color="#337eb8"/><stop offset="0.2250" stop-color="#4494c3"/><stop offset="0.2417" stop-color="#70afd2"/><stop offset="0.2612" stop-color="#85bdda"/><stop offset="0.2724" stop-color="#82bbd8"/><stop offset="0.2891" stop-color="#71b0d3"/><stop offset="0.3031" stop-color="#7db8d7"/><stop offset="0.3198" stop-color="#90c4dd"/><stop offset="0.3757" stop-color="#86bdda"/><stop offset="0.4454" stop-color="#8ac0db"/><stop offset="0.5096" stop-color="#a6cfe4"/><stop offset="0.5627" stop-color="#dceaf2"/><stop offset="0.5961" stop-color="#f7f6f6"/><stop offset="0.6408" stop-color="#fcd6c0"/><stop offset="0.6910" stop-color="#f09d7c"/><stop offset="0.7329" stop-color="#dd715a"/><stop offset="0.7831" stop-color="#cb4a43"/><stop offset="0.8278" stop-color="#c1373a"/><stop offset="0.8836" stop-color="#c53e3d"/><stop offset="0.9673" stop-color="#d96652"/><stop offset="0.9980" stop-color="#e47f65"/></radialGradient><radialGradient id="g46" gradientUnits="userSpaceOnUse" cx="512.6" cy="511.5" r="358.3"><stop offset="0.1273" stop-color="#2166ac"/><stop offset="0.1552" stop-color="#266daf"/><stop offset="0.1663" stop-color="#4292c3"/><stop offset="0.1719" stop-color="#3d8bbf"/><stop offset="0.1803" stop-color="#2c74b3"/><stop offset="0.2026" stop-color="#337db8"/><stop offset="0.2250" stop-color="#4393c3"/><stop offset="0.2417" stop-color="#6fafd2"/><stop offset="0.2612" stop-color="#84bcd9"/><stop offset="0.2724" stop-color="#81bad8"/><stop offset="0.2891" stop-color="#71b0d3"/><stop offset="0.3031" stop-color="#7cb7d7"/><stop offset="0.3198" stop-color="#8fc3dd"/><stop offset="0.3757" stop-color="#85bdda"/><stop offset="0.4454" stop-color="#89bfdb"/><stop offset="0.5096" stop-color="#a5cfe3"/><stop offset="0.5654" stop-color="#deebf2"/><stop offset="0.5961" stop-color="#f7f6f6"/><stop offset="0.6408" stop-color="#fcd6c1"/><stop offset="0.6910" stop-color="#f19e7d"/><stop offset="0.7329" stop-color="#de735c"/><stop offset="0.7804" stop-color="#cd4e45"/><stop offset="0.8250" stop-color="#c33a3b"/><stop offset="0.8808" stop-color="#c6403e"/><stop offset="0.9590" stop-color="#d86551"/><stop offset="0.9980" stop-color="#e68469"/></radialGradient><radialGradient id="g47" gradientUnits="userSpaceOnUse" cx="512.6" cy="511.5" r="358.3"><stop offset="0.1273" stop-color="#2166ac"/><stop offset="0.1552" stop-color="#266daf"/><stop offset="0.1663" stop-color="#4292c3"/><stop offset="0.1719" stop-color="#3d8bbf"/><stop offset="0.1803" stop-color="#2c74b3"/><stop offset="0.2026" stop-color="#327db8"/><stop offset="0.2250" stop-color="#4392c3"/><stop offset="0.2417" stop-color="#6eaed2"/><stop offset="0.2612" stop-color="#83bcd9"/><stop offset="0.2724" stop-color="#80bad8"/><stop offset="0.2891" stop-color="#70afd2"/><stop offset="0.3031" stop-color="#7bb7d6"/><stop offset="0.3198" stop-color="#8ec3dd"/><stop offset="0.3757" stop-color="#84bcd9"/><stop offset="0.4454" stop-color="#88bfdb"/><stop offset="0.5096" stop-color="#a4cee3"/><stop offset="0.5654" stop-color="#deebf2"/><stop offset="0.5961" stop-color="#f7f7f6"/><stop offset="0.6436" stop-color="#fcd4be"/><stop offset="0.6938" stop-color="#f09c7b"/><stop offset="0.7385" stop-color="#dd715a"/><stop offset="0.7859" stop-color="#cc4d44"/><stop offset="0.8278" stop-color="#c43d3c"/><stop offset="0.8864" stop-color="#c84540"/><stop offset="0.9590" stop-color="#da6954"/><stop offset="0.9980" stop-color="#e8896c"/></radialGradient><radialGradient id="g48" gradientUnits="userSpaceOnUse" cx="512.6" cy="511.5" r="358.3"><stop offset="0.1273" stop-color="#2166ac"/><stop offset="0.1552" stop-color="#266daf"/><stop offset="0.1663" stop-color="#4292c3"/><stop offset="0.1719" stop-color="#3d8bbf"/><stop offset="0.1803" stop-color="#2c74b3"/><stop offset="0.2026" stop-color="#327db8"/><stop offset="0.2250" stop-color="#4292c2"/><stop offset="0.2417" stop-color="#6daed1"/><stop offset="0.2612" stop-color="#82bbd9"/><stop offset="0.2724" stop-color="#7fb9d8"/><stop offset="0.2891" stop-color="#6fafd2"/><stop offset="0.3031" stop-color="#7ab6d6"/><stop offset="0.3198" stop-color="#8ec2dd"/><stop offset="0.3757" stop-color="#83bcd9"/><stop offset="0.4454" stop-color="#87beda"/><stop offset="0.5096" stop-color="#a4cee3"/><stop offset="0.5654" stop-color="#deebf2"/><stop offset="0.5961" stop-color="#f7f7f7"/><stop offset="0.6436" stop-color="#fcd4bf"/><stop offset="0.6938" stop-color="#f19e7d"/><stop offset="0.7385" stop-color="#de735b"/><stop offset="0.7831" stop-color="#ce5146"/><stop offset="0.8250" stop-color="#c6403e"/><stop offset="0.8836" stop-color="#c94641"/><stop offset="0.9422" stop-color="#d7634f"/><stop offset="0.9953" stop-color="#e98b6e"/><stop offset="0.9980" stop-color="#ea8e70"/></radialGradient><radialGradient id="g49" gradientUnits="userSpaceOnUse" cx="512.6" cy="511.5" r="358.3"><stop offset="0.1273" stop-color="#2166ac"/><stop offset="0.1552" stop-color="#266daf"/><stop offset="0.1663" stop-color="#4292c3"/><stop offset="0.1719" stop-color="#3d8bbf"/><stop offset="0.1803" stop-color="#2c74b3"/><stop offset="0.2054" stop-color="#347fb9"/><stop offset="0.2250" stop-color="#4291c2"/><stop offset="0.2417" stop-color="#6cadd1"/><stop offset="0.2612" stop-color="#82bbd8"/><stop offset="0.2724" stop-color="#7eb9d7"/><stop offset="0.2891" stop-color="#6eaed2"/><stop offset="0.3003" stop-color="#76b3d4"/><stop offset="0.3198" stop-color="#8dc2dc"/><stop offset="0.3757" stop-color="#83bbd9"/><stop offset="0.4454" stop-color="#87beda"/><stop offset="0.5124" stop-color="#a5cfe3"/><stop offset="0.5654" stop-color="#ddebf2"/><stop offset="0.5961" stop-color="#f7f7f7"/><stop offset="0.6436" stop-color="#fcd5c0"/><stop offset="0.6938" stop-color="#f2a07e"/><stop offset="0.7413" stop-color="#de725b"/><stop offset="0.7859" stop-color="#ce5146"/><stop offset="0.8278" stop-color="#c7423f"/><stop offset="0.8920" stop-color="#cc4c43"/><stop offset="0.9506" stop-color="#db6c56"/><stop offset="0.9980" stop-color="#ec9374"/></radialGradient><radialGradient id="g50" gradientUnits="userSpaceOnUse" cx="512.6" cy="511.5" r="358.3"><stop offset="0.1273" stop-color="#2166ac"/><stop offset="0.1552" stop-color="#266daf"/><stop offset="0.1663" stop-color="#4292c3"/><stop offset="0.1719" stop-color="#3d8bbf"/><stop offset="0.1803" stop-color="#2c74b3"/><stop offset="0.2054" stop-color="#337eb8"/><stop offset="0.2277" stop-color="#4695c4"/><stop offset="0.2417" stop-color="#6bacd1"/><stop offset="0.2612" stop-color="#81bad8"/><stop offset="0.2724" stop-color="#7eb8d7"/><stop offset="0.2891" stop-color="#6daed1"/><stop offset="0.3003" stop-color="#75b3d4"/><stop offset="0.3198" stop-color="#8cc1dc"/><stop offset="0.3757" stop-color="#82bbd8"/><stop offset="0.4454" stop-color="#86bdda"/><stop offset="0.5124" stop-color="#a4cee3"/><stop offset="0.5627" stop-color="#dae9f2"/><stop offset="0.5989" stop-color="#f7f6f5"/><stop offset="0.6436" stop-color="#fcd6c1"/><stop offset="0.6966" stop-color="#f19e7d"/><stop offset="0.7497" stop-color="#dc6d57"/><stop offset="0.7943" stop-color="#cd4e45"/><stop offset="0.8390" stop-color="#c84540"/><stop offset="0.9032" stop-color="#cf5247"/><stop offset="0.9562" stop-color="#de735c"/><stop offset="0.9980" stop-color="#ee9878"/></radialGradient><radialGradient id="g51" gradientUnits="userSpaceOnUse" cx="512.6" cy="511.5" r="358.3"><stop offset="0.1273" stop-color="#2166ac"/><stop offset="0.1552" stop-color="#266daf"/><stop offset="0.1663" stop-color="#4292c3"/><stop offset="0.1719" stop-color="#3d8bbf"/><stop offset="0.1803" stop-color="#2c74b3"/><stop offset="0.2054" stop-color="#337eb8"/><stop offset="0.2277" stop-color="#4594c4"/><stop offset="0.2417" stop-color="#6aacd0"/><stop offset="0.2612" stop-color="#80bad8"/><stop offset="0.2724" stop-color="#7db8d7"/><stop offset="0.2891" stop-color="#6cadd1"/><stop offset="0.3003" stop-color="#74b2d4"/><stop offset="0.3171" stop-color="#8ac0db"/><stop offset="0.3812" stop-color="#81bad8"/><stop offset="0.4482" stop-color="#86bdda"/><stop offset="0.5124" stop-color="#a3cee3"/><stop offset="0.5654" stop-color="#dceaf2"/><stop offset="0.5989" stop-color="#f7f6f5"/><stop offset="0.6464" stop-color="#fcd3bd"/><stop offset="0.6966" stop-color="#f2a07e"/><stop offset="0.7552" stop-color="#db6b55"/><stop offset="0.7999" stop-color="#cd4e45"/><stop offset="0.8473" stop-color="#ca4842"/><stop offset="0.9087" stop-color="#d25849"/><stop offset="0.9785" stop-color="#e88a6d"/><stop offset="0.9980" stop-color="#f09d7c"/></radialGradient><radialGradient id="g52" gradientUnits="userSpaceOnUse" cx="512.6" cy="511.5" r="358.3"><stop offset="0.1273" stop-color="#2166ac"/><stop offset="0.1552" stop-color="#266daf"/><stop offset="0.1663" stop-color="#4292c3"/><stop offset="0.1719" stop-color="#3d8bbf"/><stop offset="0.1803" stop-color="#2c74b3"/><stop offset="0.2054" stop-color="#337eb8"/><stop offset="0.2277" stop-color="#4493c3"/><stop offset="0.2417" stop-color="#69abd0"/><stop offset="0.2612" stop-color="#7fb9d8"/><stop offset="0.2724" stop-color="#7cb7d6"/><stop offset="0.2891" stop-color="#6bacd1"/><stop offset="0.3003" stop-color="#73b1d3"/><stop offset="0.3171" stop-color="#89c0db"/><stop offset="0.3812" stop-color="#80bad8"/><stop offset="0.4482" stop-color="#85bdda"/><stop offset="0.5124" stop-color="#a3cde3"/><stop offset="0.5682" stop-color="#deebf2"/><stop offset="0.5989" stop-color="#f7f6f5"/><stop offset="0.6464" stop-color="#fcd4be"/><stop offset="0.6994" stop-color="#f19e7d"/><stop offset="0.7692" stop-color="#d7624f"/><stop offset="0.8111" stop-color="#cd4d44"/><stop offset="0.8697" stop-color="#cd4e45"/><stop offset="0.9143" stop-color="#d55e4c"/><stop offset="0.9869" stop-color="#ee9777"/><stop offset="0.9980" stop-color="#f3a27f"/></radialGradient><radialGradient id="g53" gradientUnits="userSpaceOnUse" cx="512.6" cy="511.5" r="358.3"><stop offset="0.1273" stop-color="#2166ac"/><stop offset="0.1552" stop-color="#266daf"/><stop offset="0.1663" stop-color="#4292c3"/><stop offset="0.1719" stop-color="#3d8bbf"/><stop offset="0.1803" stop-color="#2c74b3"/><stop offset="0.2054" stop-color="#337db8"/><stop offset="0.2277" stop-color="#4393c3"/><stop offset="0.2417" stop-color="#69abd0"/><stop offset="0.2612" stop-color="#7eb9d7"/><stop offset="0.2724" stop-color="#7bb7d6"/><stop offset="0.2891" stop-color="#6aacd0"/><stop offset="0.3003" stop-color="#72b1d3"/><stop offset="0.3171" stop-color="#89bfdb"/><stop offset="0.3812" stop-color="#7fb9d8"/><stop offset="0.4482" stop-color="#84bcd9"/><stop offset="0.5124" stop-color="#a2cde3"/><stop offset="0.5682" stop-color="#deebf2"/><stop offset="0.5989" stop-color="#f7f6f6"/><stop offset="0.6464" stop-color="#fcd5bf"/><stop offset="0.6994" stop-color="#f2a07e"/><stop offset="0.7720" stop-color="#d7624f"/><stop offset="0.8111" stop-color="#ce5045"/><stop offset="0.8752" stop-color="#cf5247"/><stop offset="0.9143" stop-color="#d6614d"/><stop offset="0.9869" stop-color="#f09b7b"/><stop offset="0.9980" stop-color="#f4a684"/></radialGradient><radialGradient id="g54" gradientUnits="userSpaceOnUse" cx="512.6" cy="511.5" r="358.3"><stop offset="0.1273" stop-color="#2166ac"/><stop offset="0.1552" stop-color="#266daf"/><stop offset="0.1663" stop-color="#4292c3"/><stop offset="0.1719" stop-color="#3d8bbf"/><stop offset="0.1803" stop-color="#2c74b3"/><stop offset="0.2054" stop-color="#327db8"/><stop offset="0.2277" stop-color="#4292c2"/><stop offset="0.2417" stop-color="#68aad0"/><stop offset="0.2612" stop-color="#7eb8d7"/><stop offset="0.2724" stop-color="#7ab6d6"/><stop offset="0.2891" stop-color="#69abd0"/><stop offset="0.3003" stop-color="#71b0d3"/><stop offset="0.3171" stop-color="#88bfdb"/><stop offset="0.3812" stop-color="#7fb9d7"/><stop offset="0.4482" stop-color="#83bcd9"/><stop offset="0.5124" stop-color="#a1cde2"/><stop offset="0.5515" stop-color="#cee3ef"/><stop offset="0.5989" stop-color="#f7f6f6"/><stop offset="0.6464" stop-color="#fcd6c0"/><stop offset="0.6994" stop-color="#f3a27f"/><stop offset="0.7748" stop-color="#d7624f"/><stop offset="0.8111" stop-color="#cf5246"/><stop offset="0.8780" stop-color="#d15648"/><stop offset="0.9143" stop-color="#d76350"/><stop offset="0.9925" stop-color="#f4a683"/><stop offset="0.9980" stop-color="#f5aa88"/></radialGradient><radialGradient id="g55" gradientUnits="userSpaceOnUse" cx="512.6" cy="511.5" r="358.3"><stop offset="0.1273" stop-color="#2166ac"/><stop offset="0.1552" stop-color="#266daf"/><stop offset="0.1663" stop-color="#4292c3"/><stop offset="0.1719" stop-color="#3d8bbf"/><stop offset="0.1803" stop-color="#2c74b3"/><stop offset="0.2082" stop-color="#347fb9"/><stop offset="0.2277" stop-color="#4291c2"/><stop offset="0.2417" stop-color="#67aacf"/><stop offset="0.2612" stop-color="#7db8d7"/><stop offset="0.2724" stop-color="#7ab6d6"/><stop offset="0.2891" stop-color="#69abd0"/><stop offset="0.3003" stop-color="#71b0d3"/><stop offset="0.3171" stop-color="#87beda"/><stop offset="0.3533" stop-color="#7fb9d8"/><stop offset="0.4426" stop-color="#81bad8"/><stop offset="0.5124" stop-color="#a0cce2"/><stop offset="0.5515" stop-color="#cde3ef"/><stop offset="0.5989" stop-color="#f7f7f6"/><stop offset="0.6492" stop-color="#fcd3bd"/><stop offset="0.7022" stop-color="#f2a17f"/><stop offset="0.7831" stop-color="#d55f4c"/><stop offset="0.8194" stop-color="#d05447"/><stop offset="0.8976" stop-color="#d45d4b"/><stop offset="0.9478" stop-color="#e48167"/><stop offset="0.9953" stop-color="#f5ac8a"/><stop offset="0.9980" stop-color="#f5ae8d"/></radialGradient><radialGradient id="g56" gradientUnits="userSpaceOnUse" cx="512.6" cy="511.5" r="358.3"><stop offset="0.1273" stop-color="#2166ac"/><stop offset="0.1552" stop-color="#266daf"/><stop offset="0.1663" stop-color="#4292c3"/><stop offset="0.1719" stop-color="#3d8bbf"/><stop offset="0.1803" stop-color="#2c74b3"/><stop offset="0.2082" stop-color="#337eb8"/><stop offset="0.2277" stop-color="#4191c2"/><stop offset="0.2417" stop-color="#66a9cf"/><stop offset="0.2612" stop-color="#7cb7d7"/><stop offset="0.2724" stop-color="#79b5d5"/><stop offset="0.2891" stop-color="#68aad0"/><stop offset="0.3003" stop-color="#70afd2"/><stop offset="0.3171" stop-color="#86beda"/><stop offset="0.3505" stop-color="#7fb9d8"/><stop offset="0.4426" stop-color="#80bad8"/><stop offset="0.5124" stop-color="#a0cce2"/><stop offset="0.5515" stop-color="#cde3ef"/><stop offset="0.5989" stop-color="#f7f7f7"/><stop offset="0.6492" stop-color="#fcd4be"/><stop offset="0.7050" stop-color="#f29f7e"/><stop offset="0.7831" stop-color="#d6614e"/><stop offset="0.8194" stop-color="#d15749"/><stop offset="0.8976" stop-color="#d65f4d"/><stop offset="0.9394" stop-color="#e37e64"/><stop offset="0.9925" stop-color="#f5ad8c"/><stop offset="0.9980" stop-color="#f6b292"/></radialGradient><radialGradient id="g57" gradientUnits="userSpaceOnUse" cx="512.6" cy="511.5" r="358.3"><stop offset="0.1273" stop-color="#2166ac"/><stop offset="0.1552" stop-color="#266daf"/><stop offset="0.1663" stop-color="#4292c3"/><stop offset="0.1719" stop-color="#3d8bbf"/><stop offset="0.1803" stop-color="#2c74b3"/><stop offset="0.2082" stop-color="#337eb8"/><stop offset="0.2277" stop-color="#4190c1"/><stop offset="0.2417" stop-color="#65a8cf"/><stop offset="0.2612" stop-color="#7bb7d6"/><stop offset="0.2724" stop-color="#78b4d5"/><stop offset="0.2891" stop-color="#67aacf"/><stop offset="0.3003" stop-color="#6fafd2"/><stop offset="0.3171" stop-color="#86bdda"/><stop offset="0.3505" stop-color="#7fb9d7"/><stop offset="0.4426" stop-color="#7fb9d8"/><stop offset="0.5124" stop-color="#9fcbe2"/><stop offset="0.5487" stop-color="#c8e0ed"/><stop offset="0.5989" stop-color="#f7f7f7"/><stop offset="0.6492" stop-color="#fcd5bf"/><stop offset="0.7050" stop-color="#f2a17f"/><stop offset="0.7831" stop-color="#d7634f"/><stop offset="0.8194" stop-color="#d3594a"/><stop offset="0.9004" stop-color="#d7634f"/><stop offset="0.9562" stop-color="#eb9072"/><stop offset="0.9925" stop-color="#f6b191"/><stop offset="0.9980" stop-color="#f7b697"/></radialGradient><radialGradient id="g58" gradientUnits="userSpaceOnUse" cx="512.6" cy="511.5" r="358.3"><stop offset="0.1273" stop-color="#2166ac"/><stop offset="0.1552" stop-color="#266daf"/><stop offset="0.1663" stop-color="#4292c3"/><stop offset="0.1719" stop-color="#3d8bbf"/><stop offset="0.1803" stop-color="#2c74b3"/><stop offset="0.2082" stop-color="#337db8"/><stop offset="0.2277" stop-color="#408fc1"/><stop offset="0.2417" stop-color="#64a8ce"/><stop offset="0.2612" stop-color="#7bb6d6"/><stop offset="0.2724" stop-color="#77b4d5"/><stop offset="0.2891" stop-color="#66a9cf"/><stop offset="0.3003" stop-color="#6eaed2"/><stop offset="0.3171" stop-color="#85bdda"/><stop offset="0.3505" stop-color="#7eb8d7"/><stop offset="0.4426" stop-color="#7fb9d7"/><stop offset="0.5124" stop-color="#9ecbe1"/><stop offset="0.5487" stop-color="#c7e0ed"/><stop offset="0.5906" stop-color="#f0f4f6"/><stop offset="0.6017" stop-color="#f7f6f5"/><stop offset="0.6520" stop-color="#fcd3bd"/><stop offset="0.7078" stop-color="#f2a07e"/><stop offset="0.7859" stop-color="#d76350"/><stop offset="0.8222" stop-color="#d45c4b"/><stop offset="0.9032" stop-color="#d96752"/><stop offset="0.9813" stop-color="#f5ab8a"/><stop offset="0.9980" stop-color="#f7ba9c"/></radialGradient><radialGradient id="g59" gradientUnits="userSpaceOnUse" cx="512.6" cy="511.5" r="358.3"><stop offset="0.1273" stop-color="#2166ac"/><stop offset="0.1552" stop-color="#266daf"/><stop offset="0.1663" stop-color="#4292c3"/><stop offset="0.1719" stop-color="#3d8bbf"/><stop offset="0.1803" stop-color="#2c74b3"/><stop offset="0.2110" stop-color="#347fb9"/><stop offset="0.2277" stop-color="#408fc1"/><stop offset="0.2333" stop-color="#4d99c6"/><stop offset="0.2417" stop-color="#63a7ce"/><stop offset="0.2612" stop-color="#7ab6d6"/><stop offset="0.2724" stop-color="#76b3d5"/><stop offset="0.2891" stop-color="#65a9cf"/><stop offset="0.3003" stop-color="#6daed1"/><stop offset="0.3171" stop-color="#84bcd9"/><stop offset="0.3505" stop-color="#7db8d7"/><stop offset="0.4426" stop-color="#7eb8d7"/><stop offset="0.5124" stop-color="#9dcbe1"/><stop offset="0.5487" stop-color="#c6e0ed"/><stop offset="0.5822" stop-color="#e8f0f4"/><stop offset="0.6017" stop-color="#f7f6f5"/><stop offset="0.6520" stop-color="#fcd4be"/><stop offset="0.7078" stop-color="#f3a280"/><stop offset="0.7859" stop-color="#d86551"/><stop offset="0.8222" stop-color="#d55f4c"/><stop offset="0.9032" stop-color="#da6954"/><stop offset="0.9785" stop-color="#f5ad8c"/><stop offset="0.9980" stop-color="#f8bda1"/></radialGradient><radialGradient id="g60" gradientUnits="userSpaceOnUse" cx="512.6" cy="511.5" r="358.3"><stop offset="0.1273" stop-color="#2166ac"/><stop offset="0.1552" stop-color="#266daf"/><stop offset="0.1663" stop-color="#4292c3"/><stop offset="0.1719" stop-color="#3d8bbf"/><stop offset="0.1803" stop-color="#2c74b3"/><stop offset="0.2110" stop-color="#337eb8"/><stop offset="0.2277" stop-color="#3f8ec1"/><stop offset="0.2333" stop-color="#4c99c6"/><stop offset="0.2417" stop-color="#63a7ce"/><stop offset="0.2612" stop-color="#79b5d6"/><stop offset="0.2724" stop-color="#76b3d4"/><stop offset="0.2891" stop-color="#65a8ce"/><stop offset="0.3003" stop-color="#6dadd1"/><stop offset="0.3171" stop-color="#84bcd9"/><stop offset="0.3505" stop-color="#7db7d7"/><stop offset="0.4426" stop-color="#7db8d7"/><stop offset="0.5124" stop-color="#9ccae1"/><stop offset="0.5487" stop-color="#c5dfed"/><stop offset="0.5738" stop-color="#e0ecf3"/><stop offset="0.6017" stop-color="#f7f6f6"/><stop offset="0.6520" stop-color="#fcd5bf"/><stop offset="0.7106" stop-color="#f2a27f"/><stop offset="0.7859" stop-color="#d96753"/><stop offset="0.8222" stop-color="#d6614e"/><stop offset="0.9032" stop-color="#db6c56"/><stop offset="0.9729" stop-color="#f5ab8a"/><stop offset="0.9980" stop-color="#f9c2a7"/></radialGradient><radialGradient id="g61" gradientUnits="userSpaceOnUse" cx="512.6" cy="511.5" r="358.3"><stop offset="0.1273" stop-color="#2166ac"/><stop offset="0.1552" stop-color="#266daf"/><stop offset="0.1663" stop-color="#4292c3"/><stop offset="0.1719" stop-color="#3d8bbf"/><stop offset="0.1803" stop-color="#2c74b3"/><stop offset="0.2110" stop-color="#337eb8"/><stop offset="0.2277" stop-color="#3f8ec1"/><stop offset="0.2333" stop-color="#4c99c6"/><stop offset="0.2417" stop-color="#63a7ce"/><stop offset="0.2612" stop-color="#79b5d6"/><stop offset="0.2724" stop-color="#76b3d4"/><stop offset="0.2891" stop-color="#65a8ce"/><stop offset="0.3003" stop-color="#6dadd1"/><stop offset="0.3171" stop-color="#84bcd9"/><stop offset="0.3505" stop-color="#7db7d7"/><stop offset="0.4426" stop-color="#7db8d7"/><stop offset="0.5124" stop-color="#9ccae1"/><stop offset="0.5487" stop-color="#c4deec"/><stop offset="0.5766" stop-color="#e2edf3"/><stop offset="0.6045" stop-color="#f7f5f4"/><stop offset="0.6548" stop-color="#fcd4be"/><stop offset="0.7134" stop-color="#f2a17f"/><stop offset="0.7859" stop-color="#da6a55"/><stop offset="0.8250" stop-color="#d7634f"/><stop offset="0.9032" stop-color="#dc6e58"/><stop offset="0.9590" stop-color="#f2a17f"/><stop offset="0.9980" stop-color="#fac8af"/></radialGradient><radialGradient id="g62" gradientUnits="userSpaceOnUse" cx="512.6" cy="511.5" r="358.3"><stop offset="0.1273" stop-color="#2166ac"/><stop offset="0.1552" stop-color="#266daf"/><stop offset="0.1663" stop-color="#4292c3"/><stop offset="0.1719" stop-color="#3d8bbf"/><stop offset="0.1803" stop-color="#2c74b3"/><stop offset="0.2110" stop-color="#337eb8"/><stop offset="0.2277" stop-color="#3f8ec1"/><stop offset="0.2333" stop-color="#4c99c6"/><stop offset="0.2417" stop-color="#63a7ce"/><stop offset="0.2612" stop-color="#79b5d6"/><stop offset="0.2724" stop-color="#76b3d4"/><stop offset="0.2891" stop-color="#65a8ce"/><stop offset="0.3003" stop-color="#6dadd1"/><stop offset="0.3171" stop-color="#84bcd9"/><stop offset="0.3505" stop-color="#7db7d7"/><stop offset="0.4426" stop-color="#7db8d7"/><stop offset="0.5124" stop-color="#9bcae1"/><stop offset="0.5459" stop-color="#bfdceb"/><stop offset="0.5710" stop-color="#dceaf2"/><stop offset="0.6045" stop-color="#f7f6f5"/><stop offset="0.6575" stop-color="#fcd3bd"/><stop offset="0.7162" stop-color="#f2a07e"/><stop offset="0.7859" stop-color="#db6c56"/><stop offset="0.8250" stop-color="#d86551"/><stop offset="0.9004" stop-color="#dd6f59"/><stop offset="0.9422" stop-color="#ec9274"/><stop offset="0.9729" stop-color="#f6b191"/><stop offset="0.9980" stop-color="#fbceb6"/></radialGradient><radialGradient id="g63" gradientUnits="userSpaceOnUse" cx="512.6" cy="511.5" r="358.3"><stop offset="0.1273" stop-color="#2166ac"/><stop offset="0.1552" stop-color="#266daf"/><stop offset="0.1663" stop-color="#4292c3"/><stop offset="0.1719" stop-color="#3d8bbf"/><stop offset="0.1803" stop-color="#2c74b3"/><stop offset="0.2110" stop-color="#337eb8"/><stop offset="0.2277" stop-color="#3f8ec1"/><stop offset="0.2333" stop-color="#4c99c6"/><stop offset="0.2417" stop-color="#63a7ce"/><stop offset="0.2612" stop-color="#79b5d6"/><stop offset="0.2724" stop-color="#76b3d4"/><stop offset="0.2891" stop-color="#65a8ce"/><stop offset="0.3003" stop-color="#6dadd1"/><stop offset="0.3171" stop-color="#84bcd9"/><stop offset="0.3505" stop-color="#7db7d7"/><stop offset="0.4426" stop-color="#7db8d7"/><stop offset="0.5124" stop-color="#9bc9e0"/><stop offset="0.5459" stop-color="#bddbea"/><stop offset="0.5682" stop-color="#d8e8f1"/><stop offset="0.6045" stop-color="#f7f7f6"/><stop offset="0.6603" stop-color="#fbd2bb"/><stop offset="0.7190" stop-color="#f2a07e"/><stop offset="0.7887" stop-color="#dc6d57"/><stop offset="0.8334" stop-color="#d96752"/><stop offset="0.9032" stop-color="#de735c"/><stop offset="0.9534" stop-color="#f2a07e"/><stop offset="0.9841" stop-color="#f9c1a5"/><stop offset="0.9980" stop-color="#fcd3bd"/></radialGradient><radialGradient id="g64" gradientUnits="userSpaceOnUse" cx="512.6" cy="511.5" r="358.3"><stop offset="0.1273" stop-color="#2166ac"/><stop offset="0.1552" stop-color="#266daf"/><stop offset="0.1663" stop-color="#4292c3"/><stop offset="0.1719" stop-color="#3d8bbf"/><stop offset="0.1803" stop-color="#2c74b3"/><stop offset="0.2110" stop-color="#337eb8"/><stop offset="0.2277" stop-color="#3f8ec1"/><stop offset="0.2333" stop-color="#4c99c6"/><stop offset="0.2417" stop-color="#63a7ce"/><stop offset="0.2612" stop-color="#79b5d6"/><stop offset="0.2724" stop-color="#76b3d4"/><stop offset="0.2891" stop-color="#65a8ce"/><stop offset="0.3003" stop-color="#6dadd1"/><stop offset="0.3171" stop-color="#84bcd9"/><stop offset="0.3505" stop-color="#7db7d7"/><stop offset="0.4426" stop-color="#7db8d7"/><stop offset="0.5124" stop-color="#9ac9e0"/><stop offset="0.5459" stop-color="#bcdaea"/><stop offset="0.5710" stop-color="#dae9f2"/><stop offset="0.6073" stop-color="#f7f6f5"/><stop offset="0.6603" stop-color="#fcd4be"/><stop offset="0.7190" stop-color="#f3a280"/><stop offset="0.7887" stop-color="#dd7059"/><stop offset="0.8334" stop-color="#da6954"/><stop offset="0.9004" stop-color="#df745d"/><stop offset="0.9450" stop-color="#ef9979"/><stop offset="0.9729" stop-color="#f7b698"/><stop offset="0.9980" stop-color="#fdd9c4"/></radialGradient><radialGradient id="g65" gradientUnits="userSpaceOnUse" cx="512.6" cy="511.5" r="358.3"><stop offset="0.1273" stop-color="#2166ac"/><stop offset="0.1552" stop-color="#266daf"/><stop offset="0.1663" stop-color="#4292c3"/><stop offset="0.1719" stop-color="#3d8bbf"/><stop offset="0.1803" stop-color="#2c74b3"/><stop offset="0.2110" stop-color="#337eb8"/><stop offset="0.2277" stop-color="#3f8ec1"/><stop offset="0.2333" stop-color="#4c99c6"/><stop offset="0.2417" stop-color="#63a7ce"/><stop offset="0.2612" stop-color="#79b5d6"/><stop offset="0.2724" stop-color="#76b3d4"/><stop offset="0.2891" stop-color="#65a8ce"/><stop offset="0.3003" stop-color="#6dadd1"/><stop offset="0.3171" stop-color="#84bcd9"/><stop offset="0.3505" stop-color="#7db7d7"/><stop offset="0.4426" stop-color="#7db8d7"/><stop offset="0.5152" stop-color="#9bcae1"/><stop offset="0.5487" stop-color="#bedbeb"/><stop offset="0.5710" stop-color="#d9e9f1"/><stop offset="0.6073" stop-color="#f7f6f6"/><stop offset="0.6631" stop-color="#fcd3bd"/><stop offset="0.7217" stop-color="#f2a17f"/><stop offset="0.7887" stop-color="#de725b"/><stop offset="0.8362" stop-color="#db6b55"/><stop offset="0.9004" stop-color="#e0775f"/><stop offset="0.9450" stop-color="#f09b7b"/><stop offset="0.9729" stop-color="#f7b99c"/><stop offset="0.9980" stop-color="#fdddca"/></radialGradient><radialGradient id="g66" gradientUnits="userSpaceOnUse" cx="512.6" cy="511.5" r="358.3"><stop offset="0.1273" stop-color="#2166ac"/><stop offset="0.1552" stop-color="#266daf"/><stop offset="0.1663" stop-color="#4292c3"/><stop offset="0.1719" stop-color="#3d8bbf"/><stop offset="0.1803" stop-color="#2c74b3"/><stop offset="0.2110" stop-color="#337eb8"/><stop offset="0.2277" stop-color="#3f8ec1"/><stop offset="0.2333" stop-color="#4c99c6"/><stop offset="0.2417" stop-color="#63a7ce"/><stop offset="0.2612" stop-color="#79b5d6"/><stop offset="0.2724" stop-color="#76b3d4"/><stop offset="0.2891" stop-color="#65a8ce"/><stop offset="0.3003" stop-color="#6dadd1"/><stop offset="0.3171" stop-color="#84bcd9"/><stop offset="0.3505" stop-color="#7db7d7"/><stop offset="0.4454" stop-color="#7eb8d7"/><stop offset="0.5180" stop-color="#9ccae1"/><stop offset="0.5515" stop-color="#c0ddeb"/><stop offset="0.5738" stop-color="#dae9f2"/><stop offset="0.6073" stop-color="#f7f7f7"/><stop offset="0.6659" stop-color="#fbd2bb"/><stop offset="0.7245" stop-color="#f2a17f"/><stop offset="0.7915" stop-color="#de735c"/><stop offset="0.8418" stop-color="#db6d57"/><stop offset="0.9032" stop-color="#e27b62"/><stop offset="0.9506" stop-color="#f3a481"/><stop offset="0.9813" stop-color="#fac8ae"/><stop offset="0.9953" stop-color="#fcdecc"/><stop offset="0.9980" stop-color="#fce0cf"/></radialGradient><radialGradient id="g67" gradientUnits="userSpaceOnUse" cx="512.6" cy="511.5" r="358.3"><stop offset="0.1273" stop-color="#2166ac"/><stop offset="0.1552" stop-color="#266daf"/><stop offset="0.1663" stop-color="#4292c3"/><stop offset="0.1719" stop-color="#3d8bbf"/><stop offset="0.1803" stop-color="#2c74b3"/><stop offset="0.2110" stop-color="#337eb8"/><stop offset="0.2277" stop-color="#3f8ec1"/><stop offset="0.2333" stop-color="#4c99c6"/><stop offset="0.2417" stop-color="#63a7ce"/><stop offset="0.2612" stop-color="#79b5d6"/><stop offset="0.2724" stop-color="#76b3d4"/><stop offset="0.2891" stop-color="#65a8ce"/><stop offset="0.3003" stop-color="#6dadd1"/><stop offset="0.3171" stop-color="#84bcd9"/><stop offset="0.3505" stop-color="#7db7d7"/><stop offset="0.4454" stop-color="#7db8d7"/><stop offset="0.5180" stop-color="#9bcae1"/><stop offset="0.5515" stop-color="#bfdceb"/><stop offset="0.5766" stop-color="#dceaf2"/><stop offset="0.6101" stop-color="#f7f6f5"/><stop offset="0.6659" stop-color="#fcd4be"/><stop offset="0.7245" stop-color="#f3a380"/><stop offset="0.7915" stop-color="#df765e"/><stop offset="0.8418" stop-color="#dc6e58"/><stop offset="0.9032" stop-color="#e37d63"/><stop offset="0.9478" stop-color="#f3a380"/><stop offset="0.9785" stop-color="#fac6ad"/><stop offset="0.9925" stop-color="#fcdecc"/><stop offset="0.9980" stop-color="#fbe3d4"/></radialGradient><radialGradient id="g68" gradientUnits="userSpaceOnUse" cx="512.6" cy="511.5" r="358.3"><stop offset="0.1273" stop-color="#2166ac"/><stop offset="0.1552" stop-color="#266daf"/><stop offset="0.1663" stop-color="#4292c3"/><stop offset="0.1719" stop-color="#3d8bbf"/><stop offset="0.1803" stop-color="#2c74b3"/><stop offset="0.2110" stop-color="#337eb8"/><stop offset="0.2277" stop-color="#3f8ec1"/><stop offset="0.2333" stop-color="#4c99c6"/><stop offset="0.2417" stop-color="#63a7ce"/><stop offset="0.2612" stop-color="#79b5d6"/><stop offset="0.2724" stop-color="#76b3d4"/><stop offset="0.2891" stop-color="#65a8ce"/><stop offset="0.3003" stop-color="#6dadd1"/><stop offset="0.3171" stop-color="#84bcd9"/><stop offset="0.3505" stop-color="#7db7d7"/><stop offset="0.4454" stop-color="#7db8d7"/><stop offset="0.5180" stop-color="#9bc9e0"/><stop offset="0.5515" stop-color="#bddbea"/><stop offset="0.5738" stop-color="#d9e9f1"/><stop offset="0.6101" stop-color="#f7f6f6"/><stop offset="0.6687" stop-color="#fcd3bd"/><stop offset="0.7273" stop-color="#f3a280"/><stop offset="0.7943" stop-color="#e0775e"/><stop offset="0.8445" stop-color="#dd705a"/><stop offset="0.9032" stop-color="#e48065"/><stop offset="0.9506" stop-color="#f4a785"/><stop offset="0.9785" stop-color="#facab1"/><stop offset="0.9925" stop-color="#fce1d1"/><stop offset="0.9980" stop-color="#fbe6d9"/></radialGradient><radialGradient id="g69" gradientUnits="userSpaceOnUse" cx="512.6" cy="511.5" r="358.3"><stop offset="0.1273" stop-color="#2166ac"/><stop offset="0.1552" stop-color="#266daf"/><stop offset="0.1663" stop-color="#4292c3"/><stop offset="0.1719" stop-color="#3d8bbf"/><stop offset="0.1803" stop-color="#2c74b3"/><stop offset="0.2110" stop-color="#337eb8"/><stop offset="0.2277" stop-color="#3f8ec1"/><stop offset="0.2333" stop-color="#4c99c6"/><stop offset="0.2417" stop-color="#63a7ce"/><stop offset="0.2612" stop-color="#79b5d6"/><stop offset="0.2724" stop-color="#76b3d4"/><stop offset="0.2891" stop-color="#65a8ce"/><stop offset="0.3003" stop-color="#6dadd1"/><stop offset="0.3171" stop-color="#84bcd9"/><stop offset="0.3505" stop-color="#7db7d7"/><stop offset="0.4454" stop-color="#7db8d7"/><stop offset="0.5180" stop-color="#9ac9e0"/><stop offset="0.5515" stop-color="#bcdaea"/><stop offset="0.5766" stop-color="#dae9f2"/><stop offset="0.6129" stop-color="#f7f6f4"/><stop offset="0.6715" stop-color="#fcd2bc"/><stop offset="0.7273" stop-color="#f4a481"/><stop offset="0.7943" stop-color="#e17960"/><stop offset="0.8445" stop-color="#de725b"/><stop offset="0.9032" stop-color="#e58267"/><stop offset="0.9478" stop-color="#f4a684"/><stop offset="0.9785" stop-color="#fbcdb5"/><stop offset="0.9925" stop-color="#fbe3d5"/><stop offset="0.9980" stop-color="#fae9de"/></radialGradient><radialGradient id="g70" gradientUnits="userSpaceOnUse" cx="512.6" cy="511.5" r="358.3"><stop offset="0.1273" stop-color="#2166ac"/><stop offset="0.1552" stop-color="#266daf"/><stop offset="0.1663" stop-color="#4292c3"/><stop offset="0.1719" stop-color="#3d8bbf"/><stop offset="0.1803" stop-color="#2c74b3"/><stop offset="0.2110" stop-color="#337eb8"/><stop offset="0.2277" stop-color="#3f8ec1"/><stop offset="0.2333" stop-color="#4c99c6"/><stop offset="0.2417" stop-color="#63a7ce"/><stop offset="0.2612" stop-color="#79b5d6"/><stop offset="0.2724" stop-color="#76b3d4"/><stop offset="0.2891" stop-color="#65a8ce"/><stop offset="0.3003" stop-color="#6dadd1"/><stop offset="0.3171" stop-color="#84bcd9"/><stop offset="0.3505" stop-color="#7db7d7"/><stop offset="0.4454" stop-color="#7db8d7"/><stop offset="0.5208" stop-color="#9bc9e1"/><stop offset="0.5543" stop-color="#bedbeb"/><stop offset="0.5766" stop-color="#d9e9f1"/><stop offset="0.6129" stop-color="#f7f6f6"/><stop offset="0.6715" stop-color="#fcd4be"/><stop offset="0.7301" stop-color="#f3a481"/><stop offset="0.7971" stop-color="#e17a61"/><stop offset="0.8473" stop-color="#df745c"/><stop offset="0.9032" stop-color="#e68569"/><stop offset="0.9478" stop-color="#f5a886"/><stop offset="0.9757" stop-color="#facbb3"/><stop offset="0.9925" stop-color="#fbe6da"/><stop offset="0.9980" stop-color="#f9ece4"/></radialGradient><radialGradient id="g71" gradientUnits="userSpaceOnUse" cx="512.6" cy="511.5" r="358.3"><stop offset="0.1273" stop-color="#2166ac"/><stop offset="0.1552" stop-color="#266daf"/><stop offset="0.1663" stop-color="#4292c3"/><stop offset="0.1719" stop-color="#3d8bbf"/><stop offset="0.1803" stop-color="#2c74b3"/><stop offset="0.2110" stop-color="#337eb8"/><stop offset="0.2277" stop-color="#3f8ec1"/><stop offset="0.2333" stop-color="#4c99c6"/><stop offset="0.2417" stop-color="#63a7ce"/><stop offset="0.2612" stop-color="#79b5d6"/><stop offset="0.2724" stop-color="#76b3d4"/><stop offset="0.2891" stop-color="#65a8ce"/><stop offset="0.3003" stop-color="#6dadd1"/><stop offset="0.3171" stop-color="#84bcd9"/><stop offset="0.3505" stop-color="#7db7d7"/><stop offset="0.4454" stop-color="#7db8d7"/><stop offset="0.5208" stop-color="#9ac9e0"/><stop offset="0.5543" stop-color="#bddbea"/><stop offset="0.5766" stop-color="#d8e8f1"/><stop offset="0.6129" stop-color="#f7f7f7"/><stop offset="0.6743" stop-color="#fcd3bd"/><stop offset="0.7301" stop-color="#f4a582"/><stop offset="0.7999" stop-color="#e27c62"/><stop offset="0.8501" stop-color="#e0765e"/><stop offset="0.9059" stop-color="#e8896c"/><stop offset="0.9450" stop-color="#f4a785"/><stop offset="0.9729" stop-color="#facab1"/><stop offset="0.9953" stop-color="#f9ece4"/><stop offset="0.9980" stop-color="#f9efe9"/></radialGradient><radialGradient id="g72" gradientUnits="userSpaceOnUse" cx="512.6" cy="511.5" r="358.3"><stop offset="0.1273" stop-color="#2166ac"/><stop offset="0.1552" stop-color="#266daf"/><stop offset="0.1663" stop-color="#4292c3"/><stop offset="0.1719" stop-color="#3d8bbf"/><stop offset="0.1803" stop-color="#2c74b3"/><stop offset="0.2110" stop-color="#337eb8"/><stop offset="0.2277" stop-color="#3f8ec1"/><stop offset="0.2333" stop-color="#4c99c6"/><stop offset="0.2417" stop-color="#63a7ce"/><stop offset="0.2612" stop-color="#79b5d6"/><stop offset="0.2724" stop-color="#76b3d4"/><stop offset="0.2891" stop-color="#65a8ce"/><stop offset="0.3003" stop-color="#6dadd1"/><stop offset="0.3171" stop-color="#84bcd9"/><stop offset="0.3505" stop-color="#7db7d7"/><stop offset="0.4482" stop-color="#7eb8d7"/><stop offset="0.5236" stop-color="#9bcae1"/><stop offset="0.5571" stop-color="#bfdceb"/><stop offset="0.5822" stop-color="#dceaf2"/><stop offset="0.6157" stop-color="#f7f6f5"/><stop offset="0.6771" stop-color="#fcd2bc"/><stop offset="0.7329" stop-color="#f4a582"/><stop offset="0.8027" stop-color="#e37d63"/><stop offset="0.8501" stop-color="#e0785f"/><stop offset="0.9059" stop-color="#e98b6e"/><stop offset="0.9450" stop-color="#f5a987"/><stop offset="0.9701" stop-color="#fac9af"/><stop offset="0.9897" stop-color="#fae7dc"/><stop offset="0.9980" stop-color="#f8f2ee"/></radialGradient><radialGradient id="g73" gradientUnits="userSpaceOnUse" cx="512.6" cy="511.5" r="358.3"><stop offset="0.1273" stop-color="#2166ac"/><stop offset="0.1552" stop-color="#266daf"/><stop offset="0.1663" stop-color="#4292c3"/><stop offset="0.1719" stop-color="#3d8bbf"/><stop offset="0.1803" stop-color="#2c74b3"/><stop offset="0.2110" stop-color="#337eb8"/><stop offset="0.2277" stop-color="#3f8ec1"/><stop offset="0.2333" stop-color="#4c99c6"/><stop offset="0.2417" stop-color="#63a7ce"/><stop offset="0.2612" stop-color="#79b5d6"/><stop offset="0.2724" stop-color="#76b3d4"/><stop offset="0.2891" stop-color="#65a8ce"/><stop offset="0.3003" stop-color="#6dadd1"/><stop offset="0.3171" stop-color="#84bcd9"/><stop offset="0.3505" stop-color="#7db7d7"/><stop offset="0.4482" stop-color="#7db8d7"/><stop offset="0.5236" stop-color="#9ac9e0"/><stop offset="0.5571" stop-color="#bddbea"/><stop offset="0.5794" stop-color="#d9e9f1"/><stop offset="0.6157" stop-color="#f7f7f6"/><stop offset="0.6771" stop-color="#fcd4be"/><stop offset="0.7329" stop-color="#f4a684"/><stop offset="0.8055" stop-color="#e37e64"/><stop offset="0.8529" stop-color="#e17a61"/><stop offset="0.9059" stop-color="#ea8e70"/><stop offset="0.9450" stop-color="#f5aa89"/><stop offset="0.9701" stop-color="#facbb3"/><stop offset="0.9925" stop-color="#f9eee7"/><stop offset="0.9980" stop-color="#f8f4f3"/></radialGradient><radialGradient id="g74" gradientUnits="userSpaceOnUse" cx="512.6" cy="511.5" r="358.3"><stop offset="0.1273" stop-color="#2166ac"/><stop offset="0.1552" stop-color="#266daf"/><stop offset="0.1663" stop-color="#4292c3"/><stop offset="0.1719" stop-color="#3d8bbf"/><stop offset="0.1803" stop-color="#2c74b3"/><stop offset="0.2110" stop-color="#337eb8"/><stop offset="0.2277" stop-color="#3f8ec1"/><stop offset="0.2333" stop-color="#4c99c6"/><stop offset="0.2417" stop-color="#63a7ce"/><stop offset="0.2612" stop-color="#79b5d6"/><stop offset="0.2724" stop-color="#76b3d4"/><stop offset="0.2891" stop-color="#65a8ce"/><stop offset="0.3003" stop-color="#6dadd1"/><stop offset="0.3171" stop-color="#84bcd9"/><stop offset="0.3505" stop-color="#7db7d7"/><stop offset="0.4482" stop-color="#7db8d7"/><stop offset="0.5264" stop-color="#9bc9e1"/><stop offset="0.5599" stop-color="#c0dceb"/><stop offset="0.5822" stop-color="#dae9f2"/><stop offset="0.6185" stop-color="#f7f6f5"/><stop offset="0.6799" stop-color="#fcd3bd"/><stop offset="0.7329" stop-color="#f4a886"/><stop offset="0.8083" stop-color="#e48065"/><stop offset="0.8529" stop-color="#e27c63"/><stop offset="0.9059" stop-color="#eb9072"/><stop offset="0.9422" stop-color="#f5a988"/><stop offset="0.9646" stop-color="#f9c5ab"/><stop offset="0.9869" stop-color="#fae8dd"/><stop offset="0.9980" stop-color="#f6f7f7"/></radialGradient><radialGradient id="g75" gradientUnits="userSpaceOnUse" cx="512.6" cy="511.5" r="358.3"><stop offset="0.1273" stop-color="#2166ac"/><stop offset="0.1552" stop-color="#266daf"/><stop offset="0.1663" stop-color="#4292c3"/><stop offset="0.1719" stop-color="#3d8bbf"/><stop offset="0.1803" stop-color="#2c74b3"/><stop offset="0.2110" stop-color="#337eb8"/><stop offset="0.2277" stop-color="#3f8ec1"/><stop offset="0.2333" stop-color="#4c99c6"/><stop offset="0.2417" stop-color="#63a7ce"/><stop offset="0.2612" stop-color="#79b5d6"/><stop offset="0.2724" stop-color="#76b3d4"/><stop offset="0.2891" stop-color="#64a8ce"/><stop offset="0.3003" stop-color="#6dadd1"/><stop offset="0.3171" stop-color="#84bcd9"/><stop offset="0.3505" stop-color="#7cb7d7"/><stop offset="0.4482" stop-color="#7db8d7"/><stop offset="0.5264" stop-color="#9ac9e0"/><stop offset="0.5599" stop-color="#bfdceb"/><stop offset="0.5822" stop-color="#dae9f2"/><stop offset="0.6185" stop-color="#f7f6f6"/><stop offset="0.6799" stop-color="#fcd5bf"/><stop offset="0.7329" stop-color="#f5a988"/><stop offset="0.8083" stop-color="#e58267"/><stop offset="0.8529" stop-color="#e37e64"/><stop offset="0.9087" stop-color="#ed9475"/><stop offset="0.9422" stop-color="#f5ab8a"/><stop offset="0.9646" stop-color="#fac7ad"/><stop offset="0.9869" stop-color="#fae9df"/><stop offset="0.9953" stop-color="#f7f6f5"/><stop offset="0.9980" stop-color="#f4f6f6"/></radialGradient><radialGradient id="g76" gradientUnits="userSpaceOnUse" cx="512.6" cy="511.5" r="358.3"><stop offset="0.1273" stop-color="#2166ac"/><stop offset="0.1552" stop-color="#266daf"/><stop offset="0.1663" stop-color="#4292c3"/><stop offset="0.1719" stop-color="#3d8bbf"/><stop offset="0.1803" stop-color="#2c74b3"/><stop offset="0.2110" stop-color="#337eb8"/><stop offset="0.2277" stop-color="#3f8ec0"/><stop offset="0.2333" stop-color="#4c99c6"/><stop offset="0.2417" stop-color="#62a7ce"/><stop offset="0.2612" stop-color="#79b5d5"/><stop offset="0.2724" stop-color="#75b3d4"/><stop offset="0.2891" stop-color="#64a8ce"/><stop offset="0.3003" stop-color="#6cadd1"/><stop offset="0.3171" stop-color="#83bcd9"/><stop offset="0.3505" stop-color="#7cb7d7"/><stop offset="0.4482" stop-color="#7db8d7"/><stop offset="0.5264" stop-color="#9ac9e0"/><stop offset="0.5599" stop-color="#bedbeb"/><stop offset="0.5822" stop-color="#d9e9f2"/><stop offset="0.6185" stop-color="#f7f6f6"/><stop offset="0.6827" stop-color="#fcd3bd"/><stop offset="0.7357" stop-color="#f5a987"/><stop offset="0.8083" stop-color="#e68469"/><stop offset="0.8557" stop-color="#e58267"/><stop offset="0.9115" stop-color="#ee9878"/><stop offset="0.9422" stop-color="#f5ac8b"/><stop offset="0.9673" stop-color="#fbcdb5"/><stop offset="0.9897" stop-color="#f9eee8"/><stop offset="0.9953" stop-color="#f7f6f5"/><stop offset="0.9980" stop-color="#f4f6f6"/></radialGradient><radialGradient id="g77" gradientUnits="userSpaceOnUse" cx="512.6" cy="511.5" r="358.3"><stop offset="0.1273" stop-color="#2166ac"/><stop offset="0.1552" stop-color="#266daf"/><stop offset="0.1663" stop-color="#4292c3"/><stop offset="0.1719" stop-color="#3d8bbf"/><stop offset="0.1803" stop-color="#2c74b3"/><stop offset="0.2110" stop-color="#337eb8"/><stop offset="0.2277" stop-color="#3f8ec0"/><stop offset="0.2333" stop-color="#4b98c6"/><stop offset="0.2417" stop-color="#62a7ce"/><stop offset="0.2612" stop-color="#79b5d5"/><stop offset="0.2724" stop-color="#75b3d4"/><stop offset="0.2891" stop-color="#64a8ce"/><stop offset="0.3003" stop-color="#6cadd1"/><stop offset="0.3171" stop-color="#83bcd9"/><stop offset="0.3505" stop-color="#7cb7d6"/><stop offset="0.4482" stop-color="#7db7d7"/><stop offset="0.5264" stop-color="#99c9e0"/><stop offset="0.5599" stop-color="#bedbea"/><stop offset="0.5822" stop-color="#d9e9f1"/><stop offset="0.6185" stop-color="#f7f7f6"/><stop offset="0.6827" stop-color="#fcd4be"/><stop offset="0.7357" stop-color="#f5ab89"/><stop offset="0.8055" stop-color="#e7886b"/><stop offset="0.8529" stop-color="#e68469"/><stop offset="0.9115" stop-color="#ef9a79"/><stop offset="0.9422" stop-color="#f5ae8d"/><stop offset="0.9673" stop-color="#fbcfb7"/><stop offset="0.9897" stop-color="#f9eee8"/><stop offset="0.9953" stop-color="#f7f6f6"/><stop offset="0.9980" stop-color="#f4f5f6"/></radialGradient><radialGradient id="g78" gradientUnits="userSpaceOnUse" cx="512.6" cy="511.5" r="358.3"><stop offset="0.1273" stop-color="#2166ac"/><stop offset="0.1552" stop-color="#266daf"/><stop offset="0.1663" stop-color="#4292c3"/><stop offset="0.1719" stop-color="#3d8bbf"/><stop offset="0.1803" stop-color="#2c74b3"/><stop offset="0.2110" stop-color="#337eb8"/><stop offset="0.2277" stop-color="#3f8dc0"/><stop offset="0.2333" stop-color="#4b98c6"/><stop offset="0.2417" stop-color="#62a6cd"/><stop offset="0.2612" stop-color="#78b5d5"/><stop offset="0.2724" stop-color="#75b3d4"/><stop offset="0.2891" stop-color="#64a8ce"/><stop offset="0.3003" stop-color="#6cadd1"/><stop offset="0.3171" stop-color="#83bbd9"/><stop offset="0.3505" stop-color="#7cb7d6"/><stop offset="0.4482" stop-color="#7cb7d7"/><stop offset="0.5264" stop-color="#99c8e0"/><stop offset="0.5571" stop-color="#b9d9e9"/><stop offset="0.5822" stop-color="#d9e9f1"/><stop offset="0.6213" stop-color="#f7f5f4"/><stop offset="0.6855" stop-color="#fcd3bd"/><stop offset="0.7357" stop-color="#f5ac8b"/><stop offset="0.8027" stop-color="#e98b6e"/><stop offset="0.8529" stop-color="#e7876b"/><stop offset="0.9115" stop-color="#f09b7b"/><stop offset="0.9394" stop-color="#f5ad8c"/><stop offset="0.9646" stop-color="#faccb3"/><stop offset="0.9897" stop-color="#f9efe9"/><stop offset="0.9953" stop-color="#f7f6f6"/><stop offset="0.9980" stop-color="#f3f5f6"/></radialGradient><radialGradient id="g79" gradientUnits="userSpaceOnUse" cx="512.6" cy="511.5" r="358.3"><stop offset="0.1273" stop-color="#2166ac"/><stop offset="0.1552" stop-color="#266daf"/><stop offset="0.1663" stop-color="#4292c3"/><stop offset="0.1719" stop-color="#3d8bbf"/><stop offset="0.1803" stop-color="#2c74b3"/><stop offset="0.2110" stop-color="#337eb8"/><stop offset="0.2277" stop-color="#3f8dc0"/><stop offset="0.2333" stop-color="#4b98c6"/><stop offset="0.2417" stop-color="#61a6cd"/><stop offset="0.2612" stop-color="#78b5d5"/><stop offset="0.2724" stop-color="#75b2d4"/><stop offset="0.2891" stop-color="#63a7ce"/><stop offset="0.3003" stop-color="#6badd1"/><stop offset="0.3171" stop-color="#83bbd9"/><stop offset="0.3505" stop-color="#7bb7d6"/><stop offset="0.4482" stop-color="#7cb7d7"/><stop offset="0.5264" stop-color="#98c8e0"/><stop offset="0.5571" stop-color="#b9d9e9"/><stop offset="0.5822" stop-color="#d9e9f1"/><stop offset="0.6213" stop-color="#f7f6f4"/><stop offset="0.6855" stop-color="#fcd4be"/><stop offset="0.7357" stop-color="#f5ad8d"/><stop offset="0.7999" stop-color="#ea8e70"/><stop offset="0.8501" stop-color="#e8896d"/><stop offset="0.9115" stop-color="#f19d7c"/><stop offset="0.9394" stop-color="#f6ae8e"/><stop offset="0.9646" stop-color="#fbcdb6"/><stop offset="0.9897" stop-color="#f9efe9"/><stop offset="0.9953" stop-color="#f7f7f6"/><stop offset="0.9980" stop-color="#f3f5f6"/></radialGradient><radialGradient id="g80" gradientUnits="userSpaceOnUse" cx="512.6" cy="511.5" r="358.3"><stop offset="0.1273" stop-color="#2166ac"/><stop offset="0.1552" stop-color="#266daf"/><stop offset="0.1663" stop-color="#4292c3"/><stop offset="0.1719" stop-color="#3d8bbf"/><stop offset="0.1803" stop-color="#2c74b3"/><stop offset="0.2110" stop-color="#337eb8"/><stop offset="0.2277" stop-color="#3e8dc0"/><stop offset="0.2333" stop-color="#4a98c6"/><stop offset="0.2417" stop-color="#61a6cd"/><stop offset="0.2612" stop-color="#78b4d5"/><stop offset="0.2724" stop-color="#74b2d4"/><stop offset="0.2891" stop-color="#63a7ce"/><stop offset="0.3003" stop-color="#6bacd1"/><stop offset="0.3171" stop-color="#82bbd9"/><stop offset="0.3478" stop-color="#7cb7d7"/><stop offset="0.4399" stop-color="#7ab6d6"/><stop offset="0.5152" stop-color="#93c5de"/><stop offset="0.5431" stop-color="#a7d0e4"/><stop offset="0.5822" stop-color="#d8e8f1"/><stop offset="0.6213" stop-color="#f7f6f5"/><stop offset="0.6883" stop-color="#fcd3bc"/><stop offset="0.7357" stop-color="#f6af8f"/><stop offset="0.7943" stop-color="#ec9273"/><stop offset="0.8473" stop-color="#e98c6f"/><stop offset="0.9087" stop-color="#f19e7c"/><stop offset="0.9366" stop-color="#f5ad8c"/><stop offset="0.9618" stop-color="#facbb2"/><stop offset="0.9869" stop-color="#f9ece3"/><stop offset="0.9953" stop-color="#f7f7f7"/><stop offset="0.9980" stop-color="#f3f5f6"/></radialGradient><radialGradient id="g81" gradientUnits="userSpaceOnUse" cx="512.6" cy="511.5" r="358.3"><stop offset="0.1273" stop-color="#2166ac"/><stop offset="0.1552" stop-color="#266daf"/><stop offset="0.1663" stop-color="#4292c3"/><stop offset="0.1719" stop-color="#3d8bbf"/><stop offset="0.1803" stop-color="#2c74b3"/><stop offset="0.2110" stop-color="#337db8"/><stop offset="0.2277" stop-color="#3e8dc0"/><stop offset="0.2333" stop-color="#4a97c5"/><stop offset="0.2417" stop-color="#61a6cd"/><stop offset="0.2612" stop-color="#78b4d5"/><stop offset="0.2724" stop-color="#74b2d4"/><stop offset="0.2891" stop-color="#63a7ce"/><stop offset="0.3003" stop-color="#6bacd1"/><stop offset="0.3171" stop-color="#82bbd9"/><stop offset="0.3478" stop-color="#7cb7d6"/><stop offset="0.4399" stop-color="#7ab6d6"/><stop offset="0.5152" stop-color="#92c5de"/><stop offset="0.5431" stop-color="#a6cfe4"/><stop offset="0.5822" stop-color="#d8e8f1"/><stop offset="0.6213" stop-color="#f7f6f5"/><stop offset="0.6883" stop-color="#fcd4be"/><stop offset="0.7385" stop-color="#f6af8f"/><stop offset="0.7943" stop-color="#ed9475"/><stop offset="0.8473" stop-color="#ea8f71"/><stop offset="0.9115" stop-color="#f2a17f"/><stop offset="0.9366" stop-color="#f6ae8e"/><stop offset="0.9618" stop-color="#fbccb4"/><stop offset="0.9897" stop-color="#f9f0eb"/><stop offset="0.9953" stop-color="#f7f7f7"/><stop offset="0.9980" stop-color="#f3f5f6"/></radialGradient><radialGradient id="g82" gradientUnits="userSpaceOnUse" cx="512.6" cy="511.5" r="358.3"><stop offset="0.1273" stop-color="#2166ac"/><stop offset="0.1552" stop-color="#266daf"/><stop offset="0.1663" stop-color="#4292c3"/><stop offset="0.1719" stop-color="#3d8bbf"/><stop offset="0.1803" stop-color="#2c74b3"/><stop offset="0.2110" stop-color="#337db8"/><stop offset="0.2277" stop-color="#3e8dc0"/><stop offset="0.2333" stop-color="#4a97c5"/><stop offset="0.2417" stop-color="#60a6cd"/><stop offset="0.2612" stop-color="#77b4d5"/><stop offset="0.2724" stop-color="#74b2d4"/><stop offset="0.2891" stop-color="#62a7ce"/><stop offset="0.3003" stop-color="#6bacd1"/><stop offset="0.3171" stop-color="#82bbd8"/><stop offset="0.3478" stop-color="#7cb7d6"/><stop offset="0.4399" stop-color="#7ab6d6"/><stop offset="0.5152" stop-color="#92c5de"/><stop offset="0.5431" stop-color="#a6cfe4"/><stop offset="0.5850" stop-color="#dae9f2"/><stop offset="0.6213" stop-color="#f7f6f5"/><stop offset="0.6883" stop-color="#fcd5bf"/><stop offset="0.7385" stop-color="#f6b090"/><stop offset="0.7915" stop-color="#ee9778"/><stop offset="0.8445" stop-color="#eb9173"/><stop offset="0.9115" stop-color="#f3a380"/><stop offset="0.9366" stop-color="#f6b090"/><stop offset="0.9618" stop-color="#fbceb7"/><stop offset="0.9897" stop-color="#f8f0eb"/><stop offset="0.9953" stop-color="#f7f7f7"/><stop offset="0.9980" stop-color="#f2f5f6"/></radialGradient><radialGradient id="g83" gradientUnits="userSpaceOnUse" cx="512.6" cy="511.5" r="358.3"><stop offset="0.1273" stop-color="#2166ac"/><stop offset="0.1552" stop-color="#266daf"/><stop offset="0.1663" stop-color="#4292c3"/><stop offset="0.1719" stop-color="#3d8bbf"/><stop offset="0.1803" stop-color="#2c74b3"/><stop offset="0.2138" stop-color="#347fb9"/><stop offset="0.2277" stop-color="#3e8cc0"/><stop offset="0.2361" stop-color="#529dc8"/><stop offset="0.2473" stop-color="#68abd0"/><stop offset="0.2640" stop-color="#78b5d5"/><stop offset="0.2780" stop-color="#6dadd1"/><stop offset="0.2891" stop-color="#62a7ce"/><stop offset="0.3003" stop-color="#6aacd0"/><stop offset="0.3171" stop-color="#82bbd8"/><stop offset="0.3478" stop-color="#7bb7d6"/><stop offset="0.4399" stop-color="#7ab6d6"/><stop offset="0.5152" stop-color="#92c5de"/><stop offset="0.5431" stop-color="#a5cfe3"/><stop offset="0.5850" stop-color="#dae9f2"/><stop offset="0.6213" stop-color="#f7f6f6"/><stop offset="0.6910" stop-color="#fcd4be"/><stop offset="0.7385" stop-color="#f6b292"/><stop offset="0.7915" stop-color="#ef9a79"/><stop offset="0.8473" stop-color="#ed9475"/><stop offset="0.9199" stop-color="#f4a785"/><stop offset="0.9422" stop-color="#f7b698"/><stop offset="0.9757" stop-color="#fce1d0"/><stop offset="0.9953" stop-color="#f6f7f7"/><stop offset="0.9980" stop-color="#f2f5f6"/></radialGradient><radialGradient id="g84" gradientUnits="userSpaceOnUse" cx="512.6" cy="511.5" r="358.3"><stop offset="0.1273" stop-color="#2166ac"/><stop offset="0.1552" stop-color="#266daf"/><stop offset="0.1663" stop-color="#4292c3"/><stop offset="0.1719" stop-color="#3d8bbf"/><stop offset="0.1803" stop-color="#2c74b3"/><stop offset="0.2138" stop-color="#347fb9"/><stop offset="0.2277" stop-color="#3e8cbf"/><stop offset="0.2361" stop-color="#529cc8"/><stop offset="0.2473" stop-color="#68aad0"/><stop offset="0.2640" stop-color="#78b4d5"/><stop offset="0.2780" stop-color="#6cadd1"/><stop offset="0.2891" stop-color="#62a7ce"/><stop offset="0.3003" stop-color="#6aacd0"/><stop offset="0.3171" stop-color="#81bad8"/><stop offset="0.3478" stop-color="#7bb6d6"/><stop offset="0.4399" stop-color="#79b5d6"/><stop offset="0.5152" stop-color="#91c5de"/><stop offset="0.5431" stop-color="#a5cee3"/><stop offset="0.5850" stop-color="#dae9f2"/><stop offset="0.6213" stop-color="#f7f6f6"/><stop offset="0.6910" stop-color="#fcd5bf"/><stop offset="0.7385" stop-color="#f6b394"/><stop offset="0.7915" stop-color="#f09c7b"/><stop offset="0.8473" stop-color="#ee9777"/><stop offset="0.9199" stop-color="#f5a987"/><stop offset="0.9422" stop-color="#f7b89a"/><stop offset="0.9757" stop-color="#fce1d2"/><stop offset="0.9953" stop-color="#f6f7f7"/><stop offset="0.9980" stop-color="#f2f4f6"/></radialGradient><radialGradient id="g85" gradientUnits="userSpaceOnUse" cx="512.6" cy="511.5" r="358.3"><stop offset="0.1273" stop-color="#2166ac"/><stop offset="0.1552" stop-color="#266daf"/><stop offset="0.1663" stop-color="#4292c3"/><stop offset="0.1719" stop-color="#3d8bbf"/><stop offset="0.1803" stop-color="#2c74b3"/><stop offset="0.2138" stop-color="#347fb9"/><stop offset="0.2277" stop-color="#3e8cbf"/><stop offset="0.2361" stop-color="#529cc8"/><stop offset="0.2473" stop-color="#68aad0"/><stop offset="0.2640" stop-color="#77b4d5"/><stop offset="0.2780" stop-color="#6cadd1"/><stop offset="0.2891" stop-color="#62a6cd"/><stop offset="0.3003" stop-color="#6aacd0"/><stop offset="0.3171" stop-color="#81bad8"/><stop offset="0.3478" stop-color="#7bb6d6"/><stop offset="0.4399" stop-color="#79b5d5"/><stop offset="0.5152" stop-color="#91c4de"/><stop offset="0.5431" stop-color="#a4cee3"/><stop offset="0.5850" stop-color="#d9e9f2"/><stop offset="0.6241" stop-color="#f7f5f4"/><stop offset="0.6938" stop-color="#fcd4be"/><stop offset="0.7413" stop-color="#f6b394"/><stop offset="0.7915" stop-color="#f19e7d"/><stop offset="0.8501" stop-color="#ef9a7a"/><stop offset="0.9227" stop-color="#f5ab89"/><stop offset="0.9450" stop-color="#f8bca0"/><stop offset="0.9729" stop-color="#fce0cf"/><stop offset="0.9953" stop-color="#f6f6f7"/><stop offset="0.9980" stop-color="#f1f4f6"/></radialGradient><radialGradient id="g86" gradientUnits="userSpaceOnUse" cx="512.6" cy="511.5" r="358.3"><stop offset="0.1273" stop-color="#2166ac"/><stop offset="0.1552" stop-color="#266daf"/><stop offset="0.1663" stop-color="#4292c3"/><stop offset="0.1719" stop-color="#3d8bbf"/><stop offset="0.1803" stop-color="#2c74b3"/><stop offset="0.2138" stop-color="#337eb8"/><stop offset="0.2277" stop-color="#3d8cbf"/><stop offset="0.2361" stop-color="#519cc8"/><stop offset="0.2473" stop-color="#68aacf"/><stop offset="0.2640" stop-color="#77b4d5"/><stop offset="0.2780" stop-color="#6cadd1"/><stop offset="0.2891" stop-color="#61a6cd"/><stop offset="0.3003" stop-color="#69abd0"/><stop offset="0.3171" stop-color="#81bad8"/><stop offset="0.3478" stop-color="#7bb6d6"/><stop offset="0.4399" stop-color="#79b5d5"/><stop offset="0.5152" stop-color="#91c4dd"/><stop offset="0.5431" stop-color="#a4cee3"/><stop offset="0.5850" stop-color="#d9e9f1"/><stop offset="0.6241" stop-color="#f7f6f4"/><stop offset="0.6938" stop-color="#fcd5bf"/><stop offset="0.7413" stop-color="#f7b596"/><stop offset="0.7943" stop-color="#f19f7e"/><stop offset="0.8585" stop-color="#f19e7d"/><stop offset="0.9255" stop-color="#f5ad8c"/><stop offset="0.9478" stop-color="#f9c1a6"/><stop offset="0.9729" stop-color="#fce0d0"/><stop offset="0.9953" stop-color="#f6f6f7"/><stop offset="0.9980" stop-color="#f1f4f6"/></radialGradient><radialGradient id="g87" gradientUnits="userSpaceOnUse" cx="512.6" cy="511.5" r="358.3"><stop offset="0.1273" stop-color="#2166ac"/><stop offset="0.1552" stop-color="#266daf"/><stop offset="0.1663" stop-color="#4292c3"/><stop offset="0.1719" stop-color="#3d8bbf"/><stop offset="0.1803" stop-color="#2c74b3"/><stop offset="0.2138" stop-color="#337eb8"/><stop offset="0.2277" stop-color="#3d8bbf"/><stop offset="0.2361" stop-color="#519cc8"/><stop offset="0.2473" stop-color="#67aacf"/><stop offset="0.2640" stop-color="#77b4d5"/><stop offset="0.2780" stop-color="#6cadd1"/><stop offset="0.2891" stop-color="#61a6cd"/><stop offset="0.3003" stop-color="#69abd0"/><stop offset="0.3171" stop-color="#81bad8"/><stop offset="0.3478" stop-color="#7ab6d6"/><stop offset="0.4399" stop-color="#78b5d5"/><stop offset="0.5152" stop-color="#90c4dd"/><stop offset="0.5431" stop-color="#a3cee3"/><stop offset="0.5850" stop-color="#d9e9f1"/><stop offset="0.6241" stop-color="#f7f6f5"/><stop offset="0.6966" stop-color="#fcd4be"/><stop offset="0.7413" stop-color="#f7b698"/><stop offset="0.7971" stop-color="#f2a17f"/><stop offset="0.8697" stop-color="#f3a280"/><stop offset="0.9283" stop-color="#f6b090"/><stop offset="0.9506" stop-color="#fac6ad"/><stop offset="0.9701" stop-color="#fcdfce"/><stop offset="0.9953" stop-color="#f5f6f7"/><stop offset="0.9980" stop-color="#f1f4f6"/></radialGradient><radialGradient id="g88" gradientUnits="userSpaceOnUse" cx="512.6" cy="511.5" r="358.3"><stop offset="0.1273" stop-color="#2166ac"/><stop offset="0.1552" stop-color="#266daf"/><stop offset="0.1663" stop-color="#4292c3"/><stop offset="0.1719" stop-color="#3d8bbf"/><stop offset="0.1803" stop-color="#2c74b3"/><stop offset="0.2138" stop-color="#337eb8"/><stop offset="0.2277" stop-color="#3d8bbf"/><stop offset="0.2361" stop-color="#519cc8"/><stop offset="0.2473" stop-color="#67aacf"/><stop offset="0.2640" stop-color="#77b4d5"/><stop offset="0.2780" stop-color="#6bacd1"/><stop offset="0.2891" stop-color="#61a6cd"/><stop offset="0.3003" stop-color="#69abd0"/><stop offset="0.3171" stop-color="#80bad8"/><stop offset="0.3478" stop-color="#7ab6d6"/><stop offset="0.4399" stop-color="#78b5d5"/><stop offset="0.5152" stop-color="#90c4dd"/><stop offset="0.5431" stop-color="#a3cde3"/><stop offset="0.5850" stop-color="#d8e8f1"/><stop offset="0.6241" stop-color="#f7f6f5"/><stop offset="0.6966" stop-color="#fcd5bf"/><stop offset="0.7413" stop-color="#f7b89a"/><stop offset="0.7971" stop-color="#f3a380"/><stop offset="0.8780" stop-color="#f4a683"/><stop offset="0.9283" stop-color="#f6b191"/><stop offset="0.9506" stop-color="#fac8af"/><stop offset="0.9701" stop-color="#fce0cf"/><stop offset="0.9953" stop-color="#f5f6f7"/><stop offset="0.9980" stop-color="#f1f4f6"/></radialGradient><radialGradient id="g89" gradientUnits="userSpaceOnUse" cx="512.6" cy="511.5" r="358.3"><stop offset="0.1273" stop-color="#2166ac"/><stop offset="0.1552" stop-color="#266daf"/><stop offset="0.1663" stop-color="#4292c3"/><stop offset="0.1719" stop-color="#3d8bbf"/><stop offset="0.1803" stop-color="#2c74b3"/><stop offset="0.2138" stop-color="#337eb8"/><stop offset="0.2277" stop-color="#3d8bbf"/><stop offset="0.2361" stop-color="#509bc8"/><stop offset="0.2473" stop-color="#67aacf"/><stop offset="0.2640" stop-color="#76b4d5"/><stop offset="0.2780" stop-color="#6bacd1"/><stop offset="0.2891" stop-color="#60a6cd"/><stop offset="0.3003" stop-color="#69abd0"/><stop offset="0.3171" stop-color="#80bad8"/><stop offset="0.3478" stop-color="#7ab6d6"/><stop offset="0.4399" stop-color="#78b5d5"/><stop offset="0.5152" stop-color="#8fc3dd"/><stop offset="0.5431" stop-color="#a2cde3"/><stop offset="0.5850" stop-color="#d8e8f1"/><stop offset="0.6241" stop-color="#f7f6f5"/><stop offset="0.6994" stop-color="#fcd4be"/><stop offset="0.7441" stop-color="#f7b89a"/><stop offset="0.7999" stop-color="#f4a582"/><stop offset="0.8920" stop-color="#f5aa88"/><stop offset="0.9311" stop-color="#f7b495"/><stop offset="0.9562" stop-color="#fbd1bb"/><stop offset="0.9925" stop-color="#f7f6f5"/><stop offset="0.9980" stop-color="#f0f4f6"/></radialGradient><radialGradient id="g90" gradientUnits="userSpaceOnUse" cx="512.6" cy="511.5" r="358.3"><stop offset="0.1273" stop-color="#2166ac"/><stop offset="0.1552" stop-color="#266daf"/><stop offset="0.1663" stop-color="#4292c3"/><stop offset="0.1719" stop-color="#3d8bbf"/><stop offset="0.1803" stop-color="#2c74b3"/><stop offset="0.2138" stop-color="#337eb8"/><stop offset="0.2277" stop-color="#3d8bbf"/><stop offset="0.2361" stop-color="#509bc8"/><stop offset="0.2473" stop-color="#67aacf"/><stop offset="0.2640" stop-color="#76b4d5"/><stop offset="0.2780" stop-color="#6bacd1"/><stop offset="0.2891" stop-color="#60a6cd"/><stop offset="0.3003" stop-color="#69abd0"/><stop offset="0.3171" stop-color="#80bad8"/><stop offset="0.3478" stop-color="#7ab6d6"/><stop offset="0.4399" stop-color="#78b5d5"/><stop offset="0.5152" stop-color="#8fc3dd"/><stop offset="0.5431" stop-color="#a2cde3"/><stop offset="0.5850" stop-color="#d8e8f1"/><stop offset="0.6241" stop-color="#f7f6f5"/><stop offset="0.6994" stop-color="#fcd4be"/><stop offset="0.7441" stop-color="#f7b99b"/><stop offset="0.7999" stop-color="#f4a683"/><stop offset="0.8948" stop-color="#f5ac8b"/><stop offset="0.9311" stop-color="#f7b697"/><stop offset="0.9562" stop-color="#fcd3bd"/><stop offset="0.9925" stop-color="#f7f6f5"/><stop offset="0.9980" stop-color="#f0f4f6"/></radialGradient><radialGradient id="g91" gradientUnits="userSpaceOnUse" cx="512.6" cy="511.5" r="358.3"><stop offset="0.1273" stop-color="#2166ac"/><stop offset="0.1552" stop-color="#266daf"/><stop offset="0.1663" stop-color="#4292c3"/><stop offset="0.1719" stop-color="#3d8bbf"/><stop offset="0.1803" stop-color="#2c74b3"/><stop offset="0.2138" stop-color="#337eb8"/><stop offset="0.2277" stop-color="#3d8bbf"/><stop offset="0.2361" stop-color="#519cc8"/><stop offset="0.2473" stop-color="#67aacf"/><stop offset="0.2640" stop-color="#77b4d5"/><stop offset="0.2780" stop-color="#6bacd1"/><stop offset="0.2891" stop-color="#61a6cd"/><stop offset="0.3003" stop-color="#69abd0"/><stop offset="0.3171" stop-color="#80bad8"/><stop offset="0.3478" stop-color="#7ab6d6"/><stop offset="0.4399" stop-color="#78b5d5"/><stop offset="0.5152" stop-color="#90c4dd"/><stop offset="0.5431" stop-color="#a3cee3"/><stop offset="0.5850" stop-color="#d9e9f1"/><stop offset="0.6241" stop-color="#f7f6f5"/><stop offset="0.6994" stop-color="#fcd3bd"/><stop offset="0.7441" stop-color="#f7b89b"/><stop offset="0.7999" stop-color="#f4a684"/><stop offset="0.8948" stop-color="#f5ad8c"/><stop offset="0.9283" stop-color="#f7b697"/><stop offset="0.9506" stop-color="#fbceb6"/><stop offset="0.9701" stop-color="#fbe3d4"/><stop offset="0.9925" stop-color="#f7f7f7"/><stop offset="0.9980" stop-color="#eff3f6"/></radialGradient><radialGradient id="g92" gradientUnits="userSpaceOnUse" cx="512.6" cy="511.5" r="358.3"><stop offset="0.1273" stop-color="#2166ac"/><stop offset="0.1552" stop-color="#266daf"/><stop offset="0.1663" stop-color="#4292c3"/><stop offset="0.1719" stop-color="#3d8bbf"/><stop offset="0.1803" stop-color="#2c74b3"/><stop offset="0.2138" stop-color="#337eb8"/><stop offset="0.2277" stop-color="#3d8bbf"/><stop offset="0.2361" stop-color="#519cc8"/><stop offset="0.2473" stop-color="#67aacf"/><stop offset="0.2640" stop-color="#77b4d5"/><stop offset="0.2780" stop-color="#6cadd1"/><stop offset="0.2891" stop-color="#61a6cd"/><stop offset="0.3003" stop-color="#69abd0"/><stop offset="0.3171" stop-color="#81bad8"/><stop offset="0.3478" stop-color="#7ab6d6"/><stop offset="0.4399" stop-color="#78b5d5"/><stop offset="0.5152" stop-color="#90c4dd"/><stop offset="0.5431" stop-color="#a4cee3"/><stop offset="0.5850" stop-color="#d9e9f1"/><stop offset="0.6241" stop-color="#f7f5f4"/><stop offset="0.6966" stop-color="#fcd4bf"/><stop offset="0.7413" stop-color="#f7b99c"/><stop offset="0.7999" stop-color="#f4a784"/><stop offset="0.8920" stop-color="#f5ae8d"/><stop offset="0.9283" stop-color="#f7b89a"/><stop offset="0.9534" stop-color="#fcd4be"/><stop offset="0.9925" stop-color="#f6f7f7"/><stop offset="0.9980" stop-color="#eef3f5"/></radialGradient><radialGradient id="g93" gradientUnits="userSpaceOnUse" cx="512.6" cy="511.5" r="358.3"><stop offset="0.1273" stop-color="#2166ac"/><stop offset="0.1552" stop-color="#266daf"/><stop offset="0.1663" stop-color="#4292c3"/><stop offset="0.1719" stop-color="#3d8bbf"/><stop offset="0.1803" stop-color="#2c74b3"/><stop offset="0.2138" stop-color="#337eb8"/><stop offset="0.2277" stop-color="#3d8cbf"/><stop offset="0.2361" stop-color="#519cc8"/><stop offset="0.2473" stop-color="#68aacf"/><stop offset="0.2640" stop-color="#77b4d5"/><stop offset="0.2780" stop-color="#6cadd1"/><stop offset="0.2891" stop-color="#61a6cd"/><stop offset="0.3003" stop-color="#69abd0"/><stop offset="0.3171" stop-color="#81bad8"/><stop offset="0.3478" stop-color="#7bb6d6"/><stop offset="0.4399" stop-color="#79b5d5"/><stop offset="0.5124" stop-color="#90c3dd"/><stop offset="0.5403" stop-color="#a2cde2"/><stop offset="0.5850" stop-color="#dae9f2"/><stop offset="0.6213" stop-color="#f7f7f6"/><stop offset="0.6966" stop-color="#fcd4bd"/><stop offset="0.7413" stop-color="#f7b99c"/><stop offset="0.7999" stop-color="#f4a785"/><stop offset="0.8920" stop-color="#f6af8e"/><stop offset="0.9283" stop-color="#f7ba9c"/><stop offset="0.9534" stop-color="#fcd6c1"/><stop offset="0.9925" stop-color="#f6f6f7"/><stop offset="0.9980" stop-color="#edf2f5"/></radialGradient><radialGradient id="g94" gradientUnits="userSpaceOnUse" cx="512.6" cy="511.5" r="358.3"><stop offset="0.1273" stop-color="#2166ac"/><stop offset="0.1552" stop-color="#266daf"/><stop offset="0.1663" stop-color="#4292c3"/><stop offset="0.1719" stop-color="#3d8bbf"/><stop offset="0.1803" stop-color="#2c74b3"/><stop offset="0.2138" stop-color="#347fb9"/><stop offset="0.2277" stop-color="#3e8cbf"/><stop offset="0.2361" stop-color="#529cc8"/><stop offset="0.2473" stop-color="#68aad0"/><stop offset="0.2640" stop-color="#77b4d5"/><stop offset="0.2780" stop-color="#6cadd1"/><stop offset="0.2891" stop-color="#62a6cd"/><stop offset="0.3003" stop-color="#6aacd0"/><stop offset="0.3171" stop-color="#81bad8"/><stop offset="0.3478" stop-color="#7bb6d6"/><stop offset="0.4399" stop-color="#79b5d5"/><stop offset="0.5124" stop-color="#90c4dd"/><stop offset="0.5403" stop-color="#a2cde3"/><stop offset="0.5850" stop-color="#dae9f2"/><stop offset="0.6213" stop-color="#f7f6f6"/><stop offset="0.6966" stop-color="#fcd3bc"/><stop offset="0.7413" stop-color="#f7b99b"/><stop offset="0.7999" stop-color="#f4a886"/><stop offset="0.8892" stop-color="#f6af8f"/><stop offset="0.9255" stop-color="#f7ba9c"/><stop offset="0.9506" stop-color="#fcd5bf"/><stop offset="0.9925" stop-color="#f5f6f7"/><stop offset="0.9980" stop-color="#edf2f5"/></radialGradient><radialGradient id="g95" gradientUnits="userSpaceOnUse" cx="512.6" cy="511.5" r="358.3"><stop offset="0.1273" stop-color="#2166ac"/><stop offset="0.1552" stop-color="#266daf"/><stop offset="0.1663" stop-color="#4292c3"/><stop offset="0.1719" stop-color="#3d8bbf"/><stop offset="0.1803" stop-color="#2c74b3"/><stop offset="0.2138" stop-color="#347fb9"/><stop offset="0.2277" stop-color="#3e8cbf"/><stop offset="0.2361" stop-color="#529cc8"/><stop offset="0.2473" stop-color="#68aad0"/><stop offset="0.2640" stop-color="#78b4d5"/><stop offset="0.2780" stop-color="#6cadd1"/><stop offset="0.2891" stop-color="#62a7ce"/><stop offset="0.3003" stop-color="#6aacd0"/><stop offset="0.3171" stop-color="#81bad8"/><stop offset="0.3478" stop-color="#7bb6d6"/><stop offset="0.4399" stop-color="#79b5d6"/><stop offset="0.5124" stop-color="#91c4dd"/><stop offset="0.5403" stop-color="#a3cee3"/><stop offset="0.5822" stop-color="#d8e8f1"/><stop offset="0.6213" stop-color="#f7f6f5"/><stop offset="0.6966" stop-color="#fbd2bb"/><stop offset="0.7413" stop-color="#f7b89b"/><stop offset="0.7999" stop-color="#f5a886"/><stop offset="0.8892" stop-color="#f6b091"/><stop offset="0.9255" stop-color="#f8bc9f"/><stop offset="0.9506" stop-color="#fcd7c2"/><stop offset="0.9897" stop-color="#f7f6f6"/><stop offset="0.9980" stop-color="#ecf2f5"/></radialGradient><radialGradient id="g96" gradientUnits="userSpaceOnUse" cx="512.6" cy="511.5" r="358.3"><stop offset="0.1273" stop-color="#2166ac"/><stop offset="0.1552" stop-color="#266daf"/><stop offset="0.1663" stop-color="#4292c3"/><stop offset="0.1719" stop-color="#3d8bbf"/><stop offset="0.1803" stop-color="#2c74b3"/><stop offset="0.2138" stop-color="#347fb9"/><stop offset="0.2277" stop-color="#3e8cc0"/><stop offset="0.2361" stop-color="#529dc8"/><stop offset="0.2473" stop-color="#68abd0"/><stop offset="0.2640" stop-color="#78b5d5"/><stop offset="0.2780" stop-color="#6dadd1"/><stop offset="0.2891" stop-color="#62a7ce"/><stop offset="0.3003" stop-color="#6aacd0"/><stop offset="0.3171" stop-color="#82bbd8"/><stop offset="0.3478" stop-color="#7bb7d6"/><stop offset="0.4399" stop-color="#7ab6d6"/><stop offset="0.5124" stop-color="#91c4de"/><stop offset="0.5403" stop-color="#a4cee3"/><stop offset="0.5822" stop-color="#d8e9f1"/><stop offset="0.6213" stop-color="#f7f6f5"/><stop offset="0.6938" stop-color="#fcd3bd"/><stop offset="0.7385" stop-color="#f7b99c"/><stop offset="0.7971" stop-color="#f5a987"/><stop offset="0.8808" stop-color="#f6b090"/><stop offset="0.9227" stop-color="#f8bc9f"/><stop offset="0.9478" stop-color="#fcd5c0"/><stop offset="0.9897" stop-color="#f7f7f7"/><stop offset="0.9980" stop-color="#ebf1f5"/></radialGradient><radialGradient id="g97" gradientUnits="userSpaceOnUse" cx="512.6" cy="511.5" r="358.3"><stop offset="0.1273" stop-color="#2166ac"/><stop offset="0.1552" stop-color="#266daf"/><stop offset="0.1663" stop-color="#4292c3"/><stop offset="0.1719" stop-color="#3d8bbf"/><stop offset="0.1803" stop-color="#2c74b3"/><stop offset="0.2110" stop-color="#337db8"/><stop offset="0.2277" stop-color="#3e8dc0"/><stop offset="0.2333" stop-color="#4a97c5"/><stop offset="0.2417" stop-color="#60a6cd"/><stop offset="0.2612" stop-color="#77b4d5"/><stop offset="0.2724" stop-color="#74b2d4"/><stop offset="0.2891" stop-color="#62a7ce"/><stop offset="0.3003" stop-color="#6bacd1"/><stop offset="0.3171" stop-color="#82bbd8"/><stop offset="0.3478" stop-color="#7cb7d6"/><stop offset="0.4399" stop-color="#7ab6d6"/><stop offset="0.5152" stop-color="#93c5de"/><stop offset="0.5431" stop-color="#a7d0e4"/><stop offset="0.5822" stop-color="#d9e9f1"/><stop offset="0.6213" stop-color="#f7f5f4"/><stop offset="0.6938" stop-color="#fbd2bb"/><stop offset="0.7385" stop-color="#f7b99c"/><stop offset="0.7971" stop-color="#f5aa88"/><stop offset="0.8808" stop-color="#f6b191"/><stop offset="0.9227" stop-color="#f8bda1"/><stop offset="0.9478" stop-color="#fcd8c3"/><stop offset="0.9897" stop-color="#f6f6f7"/><stop offset="0.9980" stop-color="#eaf1f5"/></radialGradient><radialGradient id="g98" gradientUnits="userSpaceOnUse" cx="512.6" cy="511.5" r="358.3"><stop offset="0.1273" stop-color="#2166ac"/><stop offset="0.1552" stop-color="#266daf"/><stop offset="0.1663" stop-color="#4292c3"/><stop offset="0.1719" stop-color="#3d8bbf"/><stop offset="0.1803" stop-color="#2c74b3"/><stop offset="0.2110" stop-color="#337db8"/><stop offset="0.2277" stop-color="#3e8dc0"/><stop offset="0.2333" stop-color="#4a97c5"/><stop offset="0.2417" stop-color="#61a6cd"/><stop offset="0.2612" stop-color="#78b4d5"/><stop offset="0.2724" stop-color="#74b2d4"/><stop offset="0.2891" stop-color="#63a7ce"/><stop offset="0.3003" stop-color="#6bacd1"/><stop offset="0.3171" stop-color="#82bbd9"/><stop offset="0.3478" stop-color="#7cb7d6"/><stop offset="0.4399" stop-color="#7ab6d6"/><stop offset="0.5152" stop-color="#93c6de"/><stop offset="0.5431" stop-color="#a8d0e4"/><stop offset="0.5822" stop-color="#d9e9f2"/><stop offset="0.6185" stop-color="#f7f7f6"/><stop offset="0.6938" stop-color="#fbd1ba"/><stop offset="0.7385" stop-color="#f7b99b"/><stop offset="0.7971" stop-color="#f5aa88"/><stop offset="0.8808" stop-color="#f6b293"/><stop offset="0.9199" stop-color="#f8bda1"/><stop offset="0.9450" stop-color="#fcd6c1"/><stop offset="0.9897" stop-color="#f5f6f7"/><stop offset="0.9980" stop-color="#e9f1f4"/></radialGradient><radialGradient id="g99" gradientUnits="userSpaceOnUse" cx="512.6" cy="511.5" r="358.3"><stop offset="0.1273" stop-color="#2166ac"/><stop offset="0.1552" stop-color="#266daf"/><stop offset="0.1663" stop-color="#4292c3"/><stop offset="0.1719" stop-color="#3d8bbf"/><stop offset="0.1803" stop-color="#2c74b3"/><stop offset="0.2110" stop-color="#337eb8"/><stop offset="0.2277" stop-color="#3e8dc0"/><stop offset="0.2333" stop-color="#4a98c6"/><stop offset="0.2417" stop-color="#61a6cd"/><stop offset="0.2612" stop-color="#78b4d5"/><stop offset="0.2724" stop-color="#74b2d4"/><stop offset="0.2891" stop-color="#63a7ce"/><stop offset="0.3003" stop-color="#6bacd1"/><stop offset="0.3171" stop-color="#82bbd9"/><stop offset="0.3478" stop-color="#7cb7d7"/><stop offset="0.4399" stop-color="#7ab6d6"/><stop offset="0.5152" stop-color="#93c6de"/><stop offset="0.5431" stop-color="#a9d1e5"/><stop offset="0.5822" stop-color="#dae9f2"/><stop offset="0.6185" stop-color="#f7f6f6"/><stop offset="0.6938" stop-color="#fbd0b9"/><stop offset="0.7357" stop-color="#f7b99c"/><stop offset="0.7971" stop-color="#f5ab89"/><stop offset="0.8780" stop-color="#f6b293"/><stop offset="0.9199" stop-color="#f8bfa3"/><stop offset="0.9590" stop-color="#fbe3d5"/><stop offset="0.9897" stop-color="#f4f6f6"/><stop offset="0.9980" stop-color="#e9f0f4"/></radialGradient><radialGradient id="g100" gradientUnits="userSpaceOnUse" cx="512.6" cy="511.5" r="358.3"><stop offset="0.1273" stop-color="#2166ac"/><stop offset="0.1552" stop-color="#266daf"/><stop offset="0.1663" stop-color="#4292c3"/><stop offset="0.1719" stop-color="#3d8bbf"/><stop offset="0.1803" stop-color="#2c74b3"/><stop offset="0.2110" stop-color="#337eb8"/><stop offset="0.2277" stop-color="#3f8dc0"/><stop offset="0.2333" stop-color="#4b98c6"/><stop offset="0.2417" stop-color="#61a6cd"/><stop offset="0.2612" stop-color="#78b5d5"/><stop offset="0.2724" stop-color="#75b2d4"/><stop offset="0.2891" stop-color="#63a7ce"/><stop offset="0.3003" stop-color="#6badd1"/><stop offset="0.3171" stop-color="#83bbd9"/><stop offset="0.3505" stop-color="#7bb7d6"/><stop offset="0.4482" stop-color="#7cb7d7"/><stop offset="0.5236" stop-color="#98c8e0"/><stop offset="0.5543" stop-color="#b8d8e9"/><stop offset="0.5794" stop-color="#d8e8f1"/><stop offset="0.6185" stop-color="#f7f6f5"/><stop offset="0.6910" stop-color="#fbd1ba"/><stop offset="0.7329" stop-color="#f8ba9d"/><stop offset="0.7943" stop-color="#f5ab8a"/><stop offset="0.8752" stop-color="#f6b394"/><stop offset="0.9199" stop-color="#f9c1a5"/><stop offset="0.9562" stop-color="#fbe3d4"/><stop offset="0.9869" stop-color="#f7f7f7"/><stop offset="0.9980" stop-color="#e8f0f4"/></radialGradient><radialGradient id="g101" gradientUnits="userSpaceOnUse" cx="512.6" cy="511.5" r="358.3"><stop offset="0.1273" stop-color="#2166ac"/><stop offset="0.1552" stop-color="#266daf"/><stop offset="0.1663" stop-color="#4292c3"/><stop offset="0.1719" stop-color="#3d8bbf"/><stop offset="0.1803" stop-color="#2c74b3"/><stop offset="0.2110" stop-color="#337eb8"/><stop offset="0.2277" stop-color="#3f8dc0"/><stop offset="0.2333" stop-color="#4b98c6"/><stop offset="0.2417" stop-color="#62a6cd"/><stop offset="0.2612" stop-color="#78b5d5"/><stop offset="0.2724" stop-color="#75b3d4"/><stop offset="0.2891" stop-color="#64a8ce"/><stop offset="0.3003" stop-color="#6cadd1"/><stop offset="0.3171" stop-color="#83bbd9"/><stop offset="0.3505" stop-color="#7cb7d6"/><stop offset="0.4482" stop-color="#7db7d7"/><stop offset="0.5236" stop-color="#99c8e0"/><stop offset="0.5543" stop-color="#b9d9e9"/><stop offset="0.5794" stop-color="#d8e9f1"/><stop offset="0.6185" stop-color="#f7f6f5"/><stop offset="0.6910" stop-color="#fbd0b9"/><stop offset="0.7329" stop-color="#f7ba9c"/><stop offset="0.7943" stop-color="#f5ac8a"/><stop offset="0.8725" stop-color="#f6b394"/><stop offset="0.9171" stop-color="#f9c0a5"/><stop offset="0.9562" stop-color="#fbe4d6"/><stop offset="0.9869" stop-color="#f6f6f7"/><stop offset="0.9980" stop-color="#e7eff4"/></radialGradient><radialGradient id="g102" gradientUnits="userSpaceOnUse" cx="512.6" cy="511.5" r="358.3"><stop offset="0.1273" stop-color="#2166ac"/><stop offset="0.1552" stop-color="#266daf"/><stop offset="0.1663" stop-color="#4292c3"/><stop offset="0.1719" stop-color="#3d8bbf"/><stop offset="0.1803" stop-color="#2c74b3"/><stop offset="0.2110" stop-color="#337eb8"/><stop offset="0.2277" stop-color="#3f8ec0"/><stop offset="0.2333" stop-color="#4b98c6"/><stop offset="0.2417" stop-color="#62a7ce"/><stop offset="0.2612" stop-color="#79b5d5"/><stop offset="0.2724" stop-color="#75b3d4"/><stop offset="0.2891" stop-color="#64a8ce"/><stop offset="0.3003" stop-color="#6cadd1"/><stop offset="0.3171" stop-color="#83bcd9"/><stop offset="0.3505" stop-color="#7cb7d6"/><stop offset="0.4482" stop-color="#7db8d7"/><stop offset="0.5236" stop-color="#99c9e0"/><stop offset="0.5543" stop-color="#b9d9e9"/><stop offset="0.5794" stop-color="#d9e9f1"/><stop offset="0.6185" stop-color="#f7f5f4"/><stop offset="0.6910" stop-color="#fbcfb8"/><stop offset="0.7329" stop-color="#f7b99c"/><stop offset="0.7943" stop-color="#f5ac8b"/><stop offset="0.8725" stop-color="#f7b495"/><stop offset="0.9171" stop-color="#f9c2a7"/><stop offset="0.9534" stop-color="#fbe3d5"/><stop offset="0.9869" stop-color="#f5f6f7"/><stop offset="0.9980" stop-color="#e6eff4"/></radialGradient><radialGradient id="g103" gradientUnits="userSpaceOnUse" cx="512.6" cy="511.5" r="358.3"><stop offset="0.1273" stop-color="#2166ac"/><stop offset="0.1552" stop-color="#266daf"/><stop offset="0.1663" stop-color="#4292c3"/><stop offset="0.1719" stop-color="#3d8bbf"/><stop offset="0.1803" stop-color="#2c74b3"/><stop offset="0.2110" stop-color="#337eb8"/><stop offset="0.2277" stop-color="#3f8ec0"/><stop offset="0.2333" stop-color="#4c99c6"/><stop offset="0.2417" stop-color="#62a7ce"/><stop offset="0.2612" stop-color="#79b5d5"/><stop offset="0.2724" stop-color="#75b3d4"/><stop offset="0.2891" stop-color="#64a8ce"/><stop offset="0.3003" stop-color="#6cadd1"/><stop offset="0.3171" stop-color="#83bcd9"/><stop offset="0.3505" stop-color="#7cb7d7"/><stop offset="0.4482" stop-color="#7db8d7"/><stop offset="0.5236" stop-color="#9ac9e0"/><stop offset="0.5571" stop-color="#bedbeb"/><stop offset="0.5794" stop-color="#d9e9f2"/><stop offset="0.6157" stop-color="#f7f7f6"/><stop offset="0.6883" stop-color="#fbd0b9"/><stop offset="0.7301" stop-color="#f7ba9d"/><stop offset="0.7943" stop-color="#f5ac8c"/><stop offset="0.8725" stop-color="#f7b596"/><stop offset="0.9171" stop-color="#f9c3a9"/><stop offset="0.9506" stop-color="#fbe2d4"/><stop offset="0.9841" stop-color="#f7f7f7"/><stop offset="0.9980" stop-color="#e5eff4"/></radialGradient><radialGradient id="g104" gradientUnits="userSpaceOnUse" cx="512.6" cy="511.5" r="358.3"><stop offset="0.1273" stop-color="#2166ac"/><stop offset="0.1552" stop-color="#266daf"/><stop offset="0.1663" stop-color="#4292c3"/><stop offset="0.1719" stop-color="#3d8bbf"/><stop offset="0.1803" stop-color="#2c74b3"/><stop offset="0.2110" stop-color="#337eb8"/><stop offset="0.2277" stop-color="#3f8ec1"/><stop offset="0.2333" stop-color="#4c99c6"/><stop offset="0.2417" stop-color="#63a7ce"/><stop offset="0.2612" stop-color="#79b5d6"/><stop offset="0.2724" stop-color="#76b3d4"/><stop offset="0.2891" stop-color="#64a8ce"/><stop offset="0.3003" stop-color="#6dadd1"/><stop offset="0.3171" stop-color="#84bcd9"/><stop offset="0.3505" stop-color="#7cb7d7"/><stop offset="0.4482" stop-color="#7db8d7"/><stop offset="0.5236" stop-color="#9ac9e0"/><stop offset="0.5571" stop-color="#bfdceb"/><stop offset="0.5822" stop-color="#dceaf2"/><stop offset="0.6157" stop-color="#f7f6f6"/><stop offset="0.6883" stop-color="#fbcfb8"/><stop offset="0.7301" stop-color="#f7b99c"/><stop offset="0.7943" stop-color="#f5ad8c"/><stop offset="0.8725" stop-color="#f7b698"/><stop offset="0.9171" stop-color="#f9c5ab"/><stop offset="0.9506" stop-color="#fbe4d6"/><stop offset="0.9841" stop-color="#f6f6f7"/><stop offset="0.9980" stop-color="#e5eef4"/></radialGradient><radialGradient id="g105" gradientUnits="userSpaceOnUse" cx="512.6" cy="511.5" r="358.3"><stop offset="0.1273" stop-color="#2166ac"/><stop offset="0.1552" stop-color="#266daf"/><stop offset="0.1663" stop-color="#4292c3"/><stop offset="0.1719" stop-color="#3d8bbf"/><stop offset="0.1803" stop-color="#2c74b3"/><stop offset="0.2110" stop-color="#337eb8"/><stop offset="0.2277" stop-color="#3f8ec1"/><stop offset="0.2333" stop-color="#4c99c6"/><stop offset="0.2417" stop-color="#63a7ce"/><stop offset="0.2612" stop-color="#79b5d6"/><stop offset="0.2724" stop-color="#76b3d4"/><stop offset="0.2891" stop-color="#65a8ce"/><stop offset="0.3003" stop-color="#6dadd1"/><stop offset="0.3171" stop-color="#84bcd9"/><stop offset="0.3505" stop-color="#7db7d7"/><stop offset="0.4482" stop-color="#7eb8d7"/><stop offset="0.5236" stop-color="#9bc9e1"/><stop offset="0.5571" stop-color="#c0dceb"/><stop offset="0.5794" stop-color="#dbeaf2"/><stop offset="0.6157" stop-color="#f7f6f5"/><stop offset="0.6883" stop-color="#fbceb7"/><stop offset="0.7273" stop-color="#f7ba9d"/><stop offset="0.7915" stop-color="#f5ad8d"/><stop offset="0.8697" stop-color="#f7b698"/><stop offset="0.9171" stop-color="#fac6ad"/><stop offset="0.9478" stop-color="#fbe3d4"/><stop offset="0.9841" stop-color="#f5f6f7"/><stop offset="0.9980" stop-color="#e4eef3"/></radialGradient><radialGradient id="g106" gradientUnits="userSpaceOnUse" cx="512.6" cy="511.5" r="358.3"><stop offset="0.1273" stop-color="#2166ac"/><stop offset="0.1552" stop-color="#266daf"/><stop offset="0.1663" stop-color="#4292c3"/><stop offset="0.1719" stop-color="#3d8bbf"/><stop offset="0.1803" stop-color="#2c74b3"/><stop offset="0.2110" stop-color="#337eb8"/><stop offset="0.2277" stop-color="#3f8ec1"/><stop offset="0.2333" stop-color="#4c99c6"/><stop offset="0.2417" stop-color="#63a7ce"/><stop offset="0.2612" stop-color="#79b5d6"/><stop offset="0.2724" stop-color="#76b3d4"/><stop offset="0.2891" stop-color="#65a8ce"/><stop offset="0.3003" stop-color="#6dadd1"/><stop offset="0.3171" stop-color="#84bcd9"/><stop offset="0.3505" stop-color="#7db7d7"/><stop offset="0.4454" stop-color="#7db8d7"/><stop offset="0.5208" stop-color="#9ac9e0"/><stop offset="0.5543" stop-color="#bedbea"/><stop offset="0.5766" stop-color="#d9e9f1"/><stop offset="0.6157" stop-color="#f7f5f4"/><stop offset="0.6855" stop-color="#fbd0b8"/><stop offset="0.7273" stop-color="#f7b99c"/><stop offset="0.7943" stop-color="#f5ae8d"/><stop offset="0.8725" stop-color="#f7b799"/><stop offset="0.9171" stop-color="#fac8af"/><stop offset="0.9506" stop-color="#fbe5d8"/><stop offset="0.9813" stop-color="#f6f7f7"/><stop offset="0.9980" stop-color="#e2edf3"/></radialGradient><radialGradient id="g107" gradientUnits="userSpaceOnUse" cx="512.6" cy="511.5" r="358.3"><stop offset="0.1273" stop-color="#2166ac"/><stop offset="0.1552" stop-color="#266daf"/><stop offset="0.1663" stop-color="#4292c3"/><stop offset="0.1719" stop-color="#3d8bbf"/><stop offset="0.1803" stop-color="#2c74b3"/><stop offset="0.2110" stop-color="#337eb8"/><stop offset="0.2277" stop-color="#3f8ec1"/><stop offset="0.2333" stop-color="#4c99c6"/><stop offset="0.2417" stop-color="#63a7ce"/><stop offset="0.2612" stop-color="#79b5d6"/><stop offset="0.2724" stop-color="#76b3d4"/><stop offset="0.2891" stop-color="#65a8ce"/><stop offset="0.3003" stop-color="#6dadd1"/><stop offset="0.3171" stop-color="#84bcd9"/><stop offset="0.3505" stop-color="#7db7d7"/><stop offset="0.4454" stop-color="#7db8d7"/><stop offset="0.5208" stop-color="#9bc9e0"/><stop offset="0.5543" stop-color="#bfdceb"/><stop offset="0.5794" stop-color="#dceaf2"/><stop offset="0.6129" stop-color="#f7f6f6"/><stop offset="0.6855" stop-color="#fbcfb8"/><stop offset="0.7273" stop-color="#f7b99c"/><stop offset="0.7943" stop-color="#f6ae8e"/><stop offset="0.8752" stop-color="#f7b89a"/><stop offset="0.9171" stop-color="#facab1"/><stop offset="0.9478" stop-color="#fbe4d7"/><stop offset="0.9813" stop-color="#f5f6f7"/><stop offset="0.9980" stop-color="#e1edf3"/></radialGradient><radialGradient id="g108" gradientUnits="userSpaceOnUse" cx="512.6" cy="511.5" r="358.3"><stop offset="0.1273" stop-color="#2166ac"/><stop offset="0.1552" stop-color="#266daf"/><stop offset="0.1663" stop-color="#4292c3"/><stop offset="0.1719" stop-color="#3d8bbf"/><stop offset="0.1803" stop-color="#2c74b3"/><stop offset="0.2110" stop-color="#337eb8"/><stop offset="0.2277" stop-color="#3f8ec1"/><stop offset="0.2333" stop-color="#4c99c6"/><stop offset="0.2417" stop-color="#63a7ce"/><stop offset="0.2612" stop-color="#79b5d6"/><stop offset="0.2724" stop-color="#76b3d4"/><stop offset="0.2891" stop-color="#65a8ce"/><stop offset="0.3003" stop-color="#6dadd1"/><stop offset="0.3171" stop-color="#84bcd9"/><stop offset="0.3505" stop-color="#7db7d7"/><stop offset="0.4454" stop-color="#7db8d7"/><stop offset="0.5180" stop-color="#99c9e0"/><stop offset="0.5487" stop-color="#b9d9e9"/><stop offset="0.5738" stop-color="#d8e8f1"/><stop offset="0.6129" stop-color="#f7f6f5"/><stop offset="0.6855" stop-color="#fbceb7"/><stop offset="0.7273" stop-color="#f7b99b"/><stop offset="0.7943" stop-color="#f6af8e"/><stop offset="0.8752" stop-color="#f7b89a"/><stop offset="0.9171" stop-color="#facbb3"/><stop offset="0.9506" stop-color="#fbe7db"/><stop offset="0.9785" stop-color="#f6f7f7"/><stop offset="0.9980" stop-color="#e0ecf3"/></radialGradient><radialGradient id="g109" gradientUnits="userSpaceOnUse" cx="512.6" cy="511.5" r="358.3"><stop offset="0.1273" stop-color="#2166ac"/><stop offset="0.1552" stop-color="#266daf"/><stop offset="0.1663" stop-color="#4292c3"/><stop offset="0.1719" stop-color="#3d8bbf"/><stop offset="0.1803" stop-color="#2c74b3"/><stop offset="0.2110" stop-color="#337eb8"/><stop offset="0.2277" stop-color="#3f8ec1"/><stop offset="0.2333" stop-color="#4c99c6"/><stop offset="0.2417" stop-color="#63a7ce"/><stop offset="0.2612" stop-color="#79b5d6"/><stop offset="0.2724" stop-color="#76b3d4"/><stop offset="0.2891" stop-color="#65a8ce"/><stop offset="0.3003" stop-color="#6dadd1"/><stop offset="0.3171" stop-color="#84bcd9"/><stop offset="0.3505" stop-color="#7db7d7"/><stop offset="0.4454" stop-color="#7db8d7"/><stop offset="0.5180" stop-color="#9ac9e0"/><stop offset="0.5515" stop-color="#bedbeb"/><stop offset="0.5738" stop-color="#d9e9f1"/><stop offset="0.6129" stop-color="#f7f5f4"/><stop offset="0.6827" stop-color="#fbcfb8"/><stop offset="0.7273" stop-color="#f7b89b"/><stop offset="0.7971" stop-color="#f6af8f"/><stop offset="0.8780" stop-color="#f7b99c"/><stop offset="0.9171" stop-color="#fbcdb5"/><stop offset="0.9478" stop-color="#fbe6d9"/><stop offset="0.9785" stop-color="#f5f6f7"/><stop offset="0.9980" stop-color="#deebf2"/></radialGradient><radialGradient id="g110" gradientUnits="userSpaceOnUse" cx="512.6" cy="511.5" r="358.3"><stop offset="0.1273" stop-color="#2166ac"/><stop offset="0.1552" stop-color="#266daf"/><stop offset="0.1663" stop-color="#4292c3"/><stop offset="0.1719" stop-color="#3d8bbf"/><stop offset="0.1803" stop-color="#2c74b3"/><stop offset="0.2110" stop-color="#337eb8"/><stop offset="0.2277" stop-color="#3f8ec1"/><stop offset="0.2333" stop-color="#4c99c6"/><stop offset="0.2417" stop-color="#63a7ce"/><stop offset="0.2612" stop-color="#79b5d6"/><stop offset="0.2724" stop-color="#76b3d4"/><stop offset="0.2891" stop-color="#65a8ce"/><stop offset="0.3003" stop-color="#6dadd1"/><stop offset="0.3171" stop-color="#84bcd9"/><stop offset="0.3505" stop-color="#7db7d7"/><stop offset="0.4454" stop-color="#7db8d7"/><stop offset="0.5180" stop-color="#9bcae1"/><stop offset="0.5515" stop-color="#bfdceb"/><stop offset="0.5766" stop-color="#dceaf2"/><stop offset="0.6101" stop-color="#f7f6f6"/><stop offset="0.6827" stop-color="#fbcfb7"/><stop offset="0.7273" stop-color="#f7b89a"/><stop offset="0.7999" stop-color="#f6b08f"/><stop offset="0.8780" stop-color="#f7b99c"/><stop offset="0.9171" stop-color="#fbcfb7"/><stop offset="0.9562" stop-color="#f9ece4"/><stop offset="0.9757" stop-color="#f6f7f7"/><stop offset="0.9980" stop-color="#ddebf2"/></radialGradient><radialGradient id="g111" gradientUnits="userSpaceOnUse" cx="512.6" cy="511.5" r="358.3"><stop offset="0.1273" stop-color="#2166ac"/><stop offset="0.1552" stop-color="#266daf"/><stop offset="0.1663" stop-color="#4292c3"/><stop offset="0.1719" stop-color="#3d8bbf"/><stop offset="0.1803" stop-color="#2c74b3"/><stop offset="0.2110" stop-color="#337eb8"/><stop offset="0.2277" stop-color="#3f8ec1"/><stop offset="0.2333" stop-color="#4c99c6"/><stop offset="0.2417" stop-color="#63a7ce"/><stop offset="0.2612" stop-color="#79b5d6"/><stop offset="0.2724" stop-color="#76b3d4"/><stop offset="0.2891" stop-color="#65a8ce"/><stop offset="0.3003" stop-color="#6dadd1"/><stop offset="0.3171" stop-color="#84bcd9"/><stop offset="0.3505" stop-color="#7db7d7"/><stop offset="0.4454" stop-color="#7db8d7"/><stop offset="0.5180" stop-color="#9ccae1"/><stop offset="0.5515" stop-color="#c1ddeb"/><stop offset="0.5738" stop-color="#dbeaf2"/><stop offset="0.6101" stop-color="#f7f6f5"/><stop offset="0.6799" stop-color="#fbd0b9"/><stop offset="0.7273" stop-color="#f7b79a"/><stop offset="0.7999" stop-color="#f6b090"/><stop offset="0.8780" stop-color="#f7ba9c"/><stop offset="0.9171" stop-color="#fbd0b9"/><stop offset="0.9562" stop-color="#f9ece5"/><stop offset="0.9757" stop-color="#f5f6f7"/><stop offset="0.9980" stop-color="#dceaf2"/></radialGradient><radialGradient id="g112" gradientUnits="userSpaceOnUse" cx="512.6" cy="511.5" r="358.3"><stop offset="0.1273" stop-color="#2166ac"/><stop offset="0.1552" stop-color="#266daf"/><stop offset="0.1663" stop-color="#4292c3"/><stop offset="0.1719" stop-color="#3d8bbf"/><stop offset="0.1803" stop-color="#2c74b3"/><stop offset="0.2110" stop-color="#337eb8"/><stop offset="0.2277" stop-color="#3f8ec1"/><stop offset="0.2333" stop-color="#4c99c6"/><stop offset="0.2417" stop-color="#63a7ce"/><stop offset="0.2612" stop-color="#79b5d6"/><stop offset="0.2724" stop-color="#76b3d4"/><stop offset="0.2891" stop-color="#65a8ce"/><stop offset="0.3003" stop-color="#6dadd1"/><stop offset="0.3171" stop-color="#84bcd9"/><stop offset="0.3505" stop-color="#7db7d7"/><stop offset="0.4454" stop-color="#7eb8d7"/><stop offset="0.5152" stop-color="#9ac9e0"/><stop offset="0.5487" stop-color="#bedbeb"/><stop offset="0.5710" stop-color="#d9e9f1"/><stop offset="0.6101" stop-color="#f7f5f4"/><stop offset="0.6799" stop-color="#fbcfb8"/><stop offset="0.7273" stop-color="#f7b799"/><stop offset="0.8027" stop-color="#f6b091"/><stop offset="0.8780" stop-color="#f7ba9d"/><stop offset="0.9171" stop-color="#fbd2bb"/><stop offset="0.9729" stop-color="#f6f7f7"/><stop offset="0.9980" stop-color="#dae9f2"/></radialGradient><radialGradient id="g113" gradientUnits="userSpaceOnUse" cx="512.6" cy="511.5" r="358.3"><stop offset="0.1273" stop-color="#2166ac"/><stop offset="0.1552" stop-color="#266daf"/><stop offset="0.1663" stop-color="#4292c3"/><stop offset="0.1719" stop-color="#3d8bbf"/><stop offset="0.1803" stop-color="#2c74b3"/><stop offset="0.2110" stop-color="#337eb8"/><stop offset="0.2277" stop-color="#3f8ec1"/><stop offset="0.2333" stop-color="#4c99c6"/><stop offset="0.2417" stop-color="#63a7ce"/><stop offset="0.2612" stop-color="#79b5d6"/><stop offset="0.2724" stop-color="#76b3d4"/><stop offset="0.2891" stop-color="#65a8ce"/><stop offset="0.3003" stop-color="#6dadd1"/><stop offset="0.3171" stop-color="#84bcd9"/><stop offset="0.3505" stop-color="#7db7d7"/><stop offset="0.4426" stop-color="#7db8d7"/><stop offset="0.5152" stop-color="#9bcae1"/><stop offset="0.5487" stop-color="#bfdceb"/><stop offset="0.5738" stop-color="#dceaf2"/><stop offset="0.6073" stop-color="#f7f6f6"/><stop offset="0.6799" stop-color="#fbceb7"/><stop offset="0.7273" stop-color="#f7b799"/><stop offset="0.8055" stop-color="#f6b191"/><stop offset="0.8780" stop-color="#f8ba9d"/><stop offset="0.9171" stop-color="#fcd3bd"/><stop offset="0.9729" stop-color="#f5f6f7"/><stop offset="0.9980" stop-color="#d9e9f1"/></radialGradient><radialGradient id="g114" gradientUnits="userSpaceOnUse" cx="512.6" cy="511.5" r="358.3"><stop offset="0.1273" stop-color="#2166ac"/><stop offset="0.1552" stop-color="#266daf"/><stop offset="0.1663" stop-color="#4292c3"/><stop offset="0.1719" stop-color="#3d8bbf"/><stop offset="0.1803" stop-color="#2c74b3"/><stop offset="0.2110" stop-color="#337eb8"/><stop offset="0.2277" stop-color="#3f8ec1"/><stop offset="0.2333" stop-color="#4c99c6"/><stop offset="0.2417" stop-color="#63a7ce"/><stop offset="0.2612" stop-color="#79b5d6"/><stop offset="0.2724" stop-color="#76b3d4"/><stop offset="0.2891" stop-color="#65a8ce"/><stop offset="0.3003" stop-color="#6dadd1"/><stop offset="0.3171" stop-color="#84bcd9"/><stop offset="0.3505" stop-color="#7db7d7"/><stop offset="0.4426" stop-color="#7db8d7"/><stop offset="0.5124" stop-color="#9ac9e0"/><stop offset="0.5459" stop-color="#bddbea"/><stop offset="0.5682" stop-color="#d8e8f1"/><stop offset="0.6073" stop-color="#f7f6f5"/><stop offset="0.6771" stop-color="#fbcfb8"/><stop offset="0.7273" stop-color="#f7b698"/><stop offset="0.8083" stop-color="#f6b292"/><stop offset="0.8780" stop-color="#f8ba9d"/><stop offset="0.9171" stop-color="#fcd5bf"/><stop offset="0.9701" stop-color="#f6f7f7"/><stop offset="0.9980" stop-color="#d8e8f1"/></radialGradient><radialGradient id="g115" gradientUnits="userSpaceOnUse" cx="512.6" cy="511.5" r="358.3"><stop offset="0.1273" stop-color="#2166ac"/><stop offset="0.1552" stop-color="#266daf"/><stop offset="0.1663" stop-color="#4292c3"/><stop offset="0.1719" stop-color="#3d8bbf"/><stop offset="0.1803" stop-color="#2c74b3"/><stop offset="0.2110" stop-color="#337eb8"/><stop offset="0.2277" stop-color="#3f8ec1"/><stop offset="0.2333" stop-color="#4c99c6"/><stop offset="0.2417" stop-color="#63a7ce"/><stop offset="0.2612" stop-color="#79b5d6"/><stop offset="0.2724" stop-color="#76b3d4"/><stop offset="0.2891" stop-color="#65a8ce"/><stop offset="0.3003" stop-color="#6dadd1"/><stop offset="0.3171" stop-color="#84bcd9"/><stop offset="0.3505" stop-color="#7db7d7"/><stop offset="0.4426" stop-color="#7db8d7"/><stop offset="0.5124" stop-color="#9ac9e0"/><stop offset="0.5459" stop-color="#bedbeb"/><stop offset="0.5682" stop-color="#d9e9f2"/><stop offset="0.6073" stop-color="#f7f5f4"/><stop offset="0.6771" stop-color="#fbcfb7"/><stop offset="0.7273" stop-color="#f7b697"/><stop offset="0.8138" stop-color="#f6b293"/><stop offset="0.8780" stop-color="#f8bb9e"/><stop offset="0.9143" stop-color="#fcd4be"/><stop offset="0.9701" stop-color="#f5f6f7"/><stop offset="0.9980" stop-color="#d6e7f1"/></radialGradient><radialGradient id="g116" gradientUnits="userSpaceOnUse" cx="512.6" cy="511.5" r="358.3"><stop offset="0.1273" stop-color="#2166ac"/><stop offset="0.1552" stop-color="#266daf"/><stop offset="0.1663" stop-color="#4292c3"/><stop offset="0.1719" stop-color="#3d8bbf"/><stop offset="0.1803" stop-color="#2c74b3"/><stop offset="0.2110" stop-color="#337eb8"/><stop offset="0.2277" stop-color="#3f8ec1"/><stop offset="0.2333" stop-color="#4c99c6"/><stop offset="0.2417" stop-color="#63a7ce"/><stop offset="0.2612" stop-color="#79b5d6"/><stop offset="0.2724" stop-color="#76b3d4"/><stop offset="0.2891" stop-color="#65a8ce"/><stop offset="0.3003" stop-color="#6dadd1"/><stop offset="0.3171" stop-color="#84bcd9"/><stop offset="0.3505" stop-color="#7db7d7"/><stop offset="0.4426" stop-color="#7db8d7"/><stop offset="0.5124" stop-color="#9bcae1"/><stop offset="0.5459" stop-color="#c0dceb"/><stop offset="0.5682" stop-color="#dae9f2"/><stop offset="0.6045" stop-color="#f7f6f6"/><stop offset="0.6743" stop-color="#fbd0b9"/><stop offset="0.7245" stop-color="#f7b698"/><stop offset="0.8083" stop-color="#f6b293"/><stop offset="0.8780" stop-color="#f8bb9e"/><stop offset="0.9143" stop-color="#fcd6c0"/><stop offset="0.9673" stop-color="#f6f7f7"/><stop offset="0.9980" stop-color="#d5e7f1"/></radialGradient><radialGradient id="g117" gradientUnits="userSpaceOnUse" cx="512.6" cy="511.5" r="358.3"><stop offset="0.1273" stop-color="#2166ac"/><stop offset="0.1552" stop-color="#266daf"/><stop offset="0.1663" stop-color="#4292c3"/><stop offset="0.1719" stop-color="#3d8bbf"/><stop offset="0.1803" stop-color="#2c74b3"/><stop offset="0.2110" stop-color="#337eb8"/><stop offset="0.2277" stop-color="#3f8ec1"/><stop offset="0.2333" stop-color="#4c99c6"/><stop offset="0.2417" stop-color="#63a7ce"/><stop offset="0.2612" stop-color="#79b5d6"/><stop offset="0.2724" stop-color="#76b3d4"/><stop offset="0.2891" stop-color="#65a8ce"/><stop offset="0.3003" stop-color="#6dadd1"/><stop offset="0.3171" stop-color="#84bcd9"/><stop offset="0.3505" stop-color="#7db7d7"/><stop offset="0.4426" stop-color="#7db8d7"/><stop offset="0.5124" stop-color="#9ccae1"/><stop offset="0.5459" stop-color="#c1ddeb"/><stop offset="0.5682" stop-color="#dbeaf2"/><stop offset="0.6045" stop-color="#f7f6f5"/><stop offset="0.6743" stop-color="#fbcfb8"/><stop offset="0.7273" stop-color="#f7b596"/><stop offset="0.8250" stop-color="#f6b495"/><stop offset="0.8780" stop-color="#f8bb9e"/><stop offset="0.9143" stop-color="#fcd7c2"/><stop offset="0.9673" stop-color="#f5f6f7"/><stop offset="0.9980" stop-color="#d4e6f0"/></radialGradient><radialGradient id="g118" gradientUnits="userSpaceOnUse" cx="512.6" cy="511.5" r="358.3"><stop offset="0.1273" stop-color="#2166ac"/><stop offset="0.1552" stop-color="#266daf"/><stop offset="0.1663" stop-color="#4292c3"/><stop offset="0.1719" stop-color="#3d8bbf"/><stop offset="0.1803" stop-color="#2c74b3"/><stop offset="0.2110" stop-color="#337eb8"/><stop offset="0.2277" stop-color="#3f8ec1"/><stop offset="0.2333" stop-color="#4c99c6"/><stop offset="0.2417" stop-color="#63a7ce"/><stop offset="0.2612" stop-color="#79b5d6"/><stop offset="0.2724" stop-color="#76b3d4"/><stop offset="0.2891" stop-color="#65a8ce"/><stop offset="0.3003" stop-color="#6dadd1"/><stop offset="0.3171" stop-color="#84bcd9"/><stop offset="0.3505" stop-color="#7db7d7"/><stop offset="0.4426" stop-color="#7db8d7"/><stop offset="0.5124" stop-color="#9ccae1"/><stop offset="0.5487" stop-color="#c6dfed"/><stop offset="0.5766" stop-color="#e3eef3"/><stop offset="0.6045" stop-color="#f7f5f4"/><stop offset="0.6743" stop-color="#fbceb7"/><stop offset="0.7273" stop-color="#f7b596"/><stop offset="0.8362" stop-color="#f7b597"/><stop offset="0.8780" stop-color="#f8bb9f"/><stop offset="0.9115" stop-color="#fcd6c0"/><stop offset="0.9646" stop-color="#f7f7f7"/><stop offset="0.9980" stop-color="#d2e6f0"/></radialGradient><radialGradient id="g119" gradientUnits="userSpaceOnUse" cx="512.6" cy="511.5" r="358.3"><stop offset="0.1273" stop-color="#2166ac"/><stop offset="0.1552" stop-color="#266daf"/><stop offset="0.1663" stop-color="#4292c3"/><stop offset="0.1719" stop-color="#3d8bbf"/><stop offset="0.1803" stop-color="#2c74b3"/><stop offset="0.2110" stop-color="#337eb8"/><stop offset="0.2277" stop-color="#3f8ec1"/><stop offset="0.2333" stop-color="#4c99c6"/><stop offset="0.2417" stop-color="#63a7ce"/><stop offset="0.2612" stop-color="#79b5d6"/><stop offset="0.2724" stop-color="#76b3d4"/><stop offset="0.2891" stop-color="#65a8ce"/><stop offset="0.3003" stop-color="#6dadd1"/><stop offset="0.3171" stop-color="#84bcd9"/><stop offset="0.3505" stop-color="#7db7d7"/><stop offset="0.4426" stop-color="#7db8d7"/><stop offset="0.5124" stop-color="#9dcae1"/><stop offset="0.5487" stop-color="#c7e0ed"/><stop offset="0.5850" stop-color="#ebf1f5"/><stop offset="0.6045" stop-color="#f7f5f4"/><stop offset="0.6715" stop-color="#fbcfb8"/><stop offset="0.7245" stop-color="#f7b596"/><stop offset="0.8278" stop-color="#f7b596"/><stop offset="0.8780" stop-color="#f8bc9f"/><stop offset="0.9115" stop-color="#fcd7c2"/><stop offset="0.9646" stop-color="#f6f6f7"/><stop offset="0.9980" stop-color="#d1e5f0"/></radialGradient><radialGradient id="g120" gradientUnits="userSpaceOnUse" cx="512.6" cy="511.5" r="358.3"><stop offset="0.1273" stop-color="#2166ac"/><stop offset="0.1552" stop-color="#266daf"/><stop offset="0.1663" stop-color="#4292c3"/><stop offset="0.1719" stop-color="#3d8bbf"/><stop offset="0.1803" stop-color="#2c74b3"/><stop offset="0.2110" stop-color="#337eb8"/><stop offset="0.2277" stop-color="#3f8ec1"/><stop offset="0.2333" stop-color="#4c99c6"/><stop offset="0.2417" stop-color="#63a7ce"/><stop offset="0.2612" stop-color="#79b5d6"/><stop offset="0.2724" stop-color="#76b3d4"/><stop offset="0.2891" stop-color="#64a8ce"/><stop offset="0.3003" stop-color="#6dadd1"/><stop offset="0.3171" stop-color="#84bcd9"/><stop offset="0.3505" stop-color="#7cb7d7"/><stop offset="0.4426" stop-color="#7db8d7"/><stop offset="0.5124" stop-color="#9dcbe1"/><stop offset="0.5487" stop-color="#c9e1ee"/><stop offset="0.5961" stop-color="#f5f6f7"/><stop offset="0.6296" stop-color="#fae7dc"/><stop offset="0.6855" stop-color="#fac7ad"/><stop offset="0.7301" stop-color="#f6b394"/><stop offset="0.8669" stop-color="#f7b99b"/><stop offset="0.8920" stop-color="#fac6ac"/><stop offset="0.9255" stop-color="#fce2d3"/><stop offset="0.9618" stop-color="#f6f7f7"/><stop offset="0.9980" stop-color="#cde3ef"/></radialGradient><radialGradient id="g121" gradientUnits="userSpaceOnUse" cx="512.6" cy="511.5" r="358.3"><stop offset="0.1273" stop-color="#2166ac"/><stop offset="0.1552" stop-color="#266daf"/><stop offset="0.1663" stop-color="#4292c3"/><stop offset="0.1719" stop-color="#3d8bbf"/><stop offset="0.1803" stop-color="#2c74b3"/><stop offset="0.2110" stop-color="#337eb8"/><stop offset="0.2277" stop-color="#3f8ec0"/><stop offset="0.2333" stop-color="#4c99c6"/><stop offset="0.2417" stop-color="#62a7ce"/><stop offset="0.2612" stop-color="#79b5d5"/><stop offset="0.2724" stop-color="#75b3d4"/><stop offset="0.2891" stop-color="#64a8ce"/><stop offset="0.3003" stop-color="#6cadd1"/><stop offset="0.3171" stop-color="#83bcd9"/><stop offset="0.3505" stop-color="#7cb7d7"/><stop offset="0.4426" stop-color="#7db8d7"/><stop offset="0.5096" stop-color="#9ccae1"/><stop offset="0.5459" stop-color="#c6dfed"/><stop offset="0.5738" stop-color="#e3eef3"/><stop offset="0.6017" stop-color="#f7f5f4"/><stop offset="0.6687" stop-color="#fbd0b8"/><stop offset="0.7245" stop-color="#f7b596"/><stop offset="0.8250" stop-color="#f7b698"/><stop offset="0.8780" stop-color="#f8bea2"/><stop offset="0.9255" stop-color="#fbe3d5"/><stop offset="0.9590" stop-color="#f6f6f7"/><stop offset="0.9953" stop-color="#cee3ef"/><stop offset="0.9980" stop-color="#c8e1ee"/></radialGradient><radialGradient id="g122" gradientUnits="userSpaceOnUse" cx="512.6" cy="511.5" r="358.3"><stop offset="0.1273" stop-color="#2166ac"/><stop offset="0.1552" stop-color="#266daf"/><stop offset="0.1663" stop-color="#4292c3"/><stop offset="0.1719" stop-color="#3d8bbf"/><stop offset="0.1803" stop-color="#2c74b3"/><stop offset="0.2110" stop-color="#337eb8"/><stop offset="0.2277" stop-color="#3f8ec0"/><stop offset="0.2333" stop-color="#4b98c6"/><stop offset="0.2417" stop-color="#62a7ce"/><stop offset="0.2612" stop-color="#79b5d5"/><stop offset="0.2724" stop-color="#75b3d4"/><stop offset="0.2891" stop-color="#64a8ce"/><stop offset="0.3003" stop-color="#6cadd1"/><stop offset="0.3171" stop-color="#83bcd9"/><stop offset="0.3505" stop-color="#7cb7d6"/><stop offset="0.4399" stop-color="#7cb7d7"/><stop offset="0.5068" stop-color="#9bc9e0"/><stop offset="0.5403" stop-color="#c0dceb"/><stop offset="0.5627" stop-color="#dae9f2"/><stop offset="0.5989" stop-color="#f7f6f6"/><stop offset="0.6687" stop-color="#fbcfb7"/><stop offset="0.7245" stop-color="#f7b596"/><stop offset="0.8222" stop-color="#f7b698"/><stop offset="0.8752" stop-color="#f8bea2"/><stop offset="0.9032" stop-color="#fcd5bf"/><stop offset="0.9562" stop-color="#f5f6f7"/><stop offset="0.9925" stop-color="#cee4ef"/><stop offset="0.9980" stop-color="#c4deec"/></radialGradient><radialGradient id="g123" gradientUnits="userSpaceOnUse" cx="512.6" cy="511.5" r="358.3"><stop offset="0.1273" stop-color="#2166ac"/><stop offset="0.1552" stop-color="#266daf"/><stop offset="0.1663" stop-color="#4292c3"/><stop offset="0.1719" stop-color="#3d8bbf"/><stop offset="0.1803" stop-color="#2c74b3"/><stop offset="0.2110" stop-color="#337eb8"/><stop offset="0.2277" stop-color="#3f8dc0"/><stop offset="0.2333" stop-color="#4b98c6"/><stop offset="0.2417" stop-color="#62a6cd"/><stop offset="0.2612" stop-color="#78b5d5"/><stop offset="0.2724" stop-color="#75b3d4"/><stop offset="0.2891" stop-color="#64a8ce"/><stop offset="0.3003" stop-color="#6cadd1"/><stop offset="0.3171" stop-color="#83bbd9"/><stop offset="0.3505" stop-color="#7cb7d6"/><stop offset="0.4399" stop-color="#7cb7d7"/><stop offset="0.5068" stop-color="#9bcae1"/><stop offset="0.5403" stop-color="#c1ddeb"/><stop offset="0.5627" stop-color="#dbeaf2"/><stop offset="0.5989" stop-color="#f7f6f5"/><stop offset="0.6687" stop-color="#fbceb7"/><stop offset="0.7245" stop-color="#f7b596"/><stop offset="0.8194" stop-color="#f7b799"/><stop offset="0.8752" stop-color="#f8c0a4"/><stop offset="0.9032" stop-color="#fcd7c2"/><stop offset="0.9534" stop-color="#f5f6f7"/><stop offset="0.9925" stop-color="#c9e1ee"/><stop offset="0.9980" stop-color="#bfdceb"/></radialGradient><radialGradient id="g124" gradientUnits="userSpaceOnUse" cx="512.6" cy="511.5" r="358.3"><stop offset="0.1273" stop-color="#2166ac"/><stop offset="0.1552" stop-color="#266daf"/><stop offset="0.1663" stop-color="#4292c3"/><stop offset="0.1719" stop-color="#3d8bbf"/><stop offset="0.1803" stop-color="#2c74b3"/><stop offset="0.2110" stop-color="#337eb8"/><stop offset="0.2277" stop-color="#3f8dc0"/><stop offset="0.2333" stop-color="#4b98c6"/><stop offset="0.2417" stop-color="#61a6cd"/><stop offset="0.2612" stop-color="#78b5d5"/><stop offset="0.2724" stop-color="#75b2d4"/><stop offset="0.2891" stop-color="#63a7ce"/><stop offset="0.3003" stop-color="#6badd1"/><stop offset="0.3171" stop-color="#83bbd9"/><stop offset="0.3505" stop-color="#7bb7d6"/><stop offset="0.4399" stop-color="#7cb7d6"/><stop offset="0.5068" stop-color="#9ccae1"/><stop offset="0.5431" stop-color="#c6dfed"/><stop offset="0.5710" stop-color="#e3eef3"/><stop offset="0.5989" stop-color="#f7f5f4"/><stop offset="0.6659" stop-color="#fbcfb8"/><stop offset="0.7245" stop-color="#f7b597"/><stop offset="0.8138" stop-color="#f7b799"/><stop offset="0.8752" stop-color="#f9c1a6"/><stop offset="0.9227" stop-color="#fbe6d9"/><stop offset="0.9506" stop-color="#f5f6f7"/><stop offset="0.9897" stop-color="#c9e1ee"/><stop offset="0.9980" stop-color="#bad9e9"/></radialGradient><radialGradient id="g125" gradientUnits="userSpaceOnUse" cx="512.6" cy="511.5" r="358.3"><stop offset="0.1273" stop-color="#2166ac"/><stop offset="0.1552" stop-color="#266daf"/><stop offset="0.1663" stop-color="#4292c3"/><stop offset="0.1719" stop-color="#3d8bbf"/><stop offset="0.1803" stop-color="#2c74b3"/><stop offset="0.2110" stop-color="#337eb8"/><stop offset="0.2277" stop-color="#3e8dc0"/><stop offset="0.2333" stop-color="#4a98c6"/><stop offset="0.2417" stop-color="#61a6cd"/><stop offset="0.2612" stop-color="#78b4d5"/><stop offset="0.2724" stop-color="#74b2d4"/><stop offset="0.2891" stop-color="#63a7ce"/><stop offset="0.3003" stop-color="#6bacd1"/><stop offset="0.3171" stop-color="#82bbd9"/><stop offset="0.3478" stop-color="#7cb7d7"/><stop offset="0.4343" stop-color="#7ab6d6"/><stop offset="0.4985" stop-color="#97c7df"/><stop offset="0.5292" stop-color="#b4d6e8"/><stop offset="0.5571" stop-color="#d8e8f1"/><stop offset="0.5961" stop-color="#f7f6f6"/><stop offset="0.6659" stop-color="#fbceb7"/><stop offset="0.7245" stop-color="#f7b597"/><stop offset="0.8111" stop-color="#f7b799"/><stop offset="0.8752" stop-color="#f9c2a8"/><stop offset="0.9199" stop-color="#fbe5d9"/><stop offset="0.9478" stop-color="#f5f6f7"/><stop offset="0.9869" stop-color="#c8e0ed"/><stop offset="0.9980" stop-color="#b5d7e8"/></radialGradient><radialGradient id="g126" gradientUnits="userSpaceOnUse" cx="512.6" cy="511.5" r="358.3"><stop offset="0.1273" stop-color="#2166ac"/><stop offset="0.1552" stop-color="#266daf"/><stop offset="0.1663" stop-color="#4292c3"/><stop offset="0.1719" stop-color="#3d8bbf"/><stop offset="0.1803" stop-color="#2c74b3"/><stop offset="0.2110" stop-color="#337db8"/><stop offset="0.2277" stop-color="#3e8dc0"/><stop offset="0.2333" stop-color="#4a97c5"/><stop offset="0.2417" stop-color="#61a6cd"/><stop offset="0.2612" stop-color="#78b4d5"/><stop offset="0.2724" stop-color="#74b2d4"/><stop offset="0.2891" stop-color="#63a7ce"/><stop offset="0.3003" stop-color="#6bacd1"/><stop offset="0.3171" stop-color="#82bbd9"/><stop offset="0.3478" stop-color="#7cb7d6"/><stop offset="0.4343" stop-color="#7ab6d6"/><stop offset="0.4957" stop-color="#96c7df"/><stop offset="0.5264" stop-color="#b2d5e7"/><stop offset="0.5571" stop-color="#d8e8f1"/><stop offset="0.5961" stop-color="#f7f6f5"/><stop offset="0.6631" stop-color="#fbcfb8"/><stop offset="0.7217" stop-color="#f7b698"/><stop offset="0.7943" stop-color="#f7b698"/><stop offset="0.8752" stop-color="#f9c4a9"/><stop offset="0.9199" stop-color="#fae7db"/><stop offset="0.9450" stop-color="#f5f6f7"/><stop offset="0.9841" stop-color="#c7e0ed"/><stop offset="0.9980" stop-color="#b1d5e7"/></radialGradient><radialGradient id="g127" gradientUnits="userSpaceOnUse" cx="512.6" cy="511.5" r="358.3"><stop offset="0.1273" stop-color="#2166ac"/><stop offset="0.1552" stop-color="#266daf"/><stop offset="0.1663" stop-color="#4292c3"/><stop offset="0.1719" stop-color="#3d8bbf"/><stop offset="0.1803" stop-color="#2c74b3"/><stop offset="0.2110" stop-color="#337db8"/><stop offset="0.2277" stop-color="#3e8dc0"/><stop offset="0.2333" stop-color="#4a97c5"/><stop offset="0.2417" stop-color="#60a6cd"/><stop offset="0.2612" stop-color="#77b4d5"/><stop offset="0.2724" stop-color="#74b2d4"/><stop offset="0.2891" stop-color="#62a7ce"/><stop offset="0.3003" stop-color="#6bacd1"/><stop offset="0.3171" stop-color="#82bbd8"/><stop offset="0.3478" stop-color="#7cb7d6"/><stop offset="0.4343" stop-color="#7ab6d6"/><stop offset="0.4957" stop-color="#96c7df"/><stop offset="0.5264" stop-color="#b3d6e7"/><stop offset="0.5571" stop-color="#d9e9f2"/><stop offset="0.5961" stop-color="#f7f5f4"/><stop offset="0.6631" stop-color="#fbcfb7"/><stop offset="0.7245" stop-color="#f7b597"/><stop offset="0.8083" stop-color="#f7b89a"/><stop offset="0.8752" stop-color="#f9c5ab"/><stop offset="0.9171" stop-color="#fbe6da"/><stop offset="0.9422" stop-color="#f6f6f7"/><stop offset="0.9813" stop-color="#c6dfed"/><stop offset="0.9980" stop-color="#acd2e5"/></radialGradient><radialGradient id="g128" gradientUnits="userSpaceOnUse" cx="512.6" cy="511.5" r="358.3"><stop offset="0.1273" stop-color="#2166ac"/><stop offset="0.1552" stop-color="#266daf"/><stop offset="0.1663" stop-color="#4292c3"/><stop offset="0.1719" stop-color="#3d8bbf"/><stop offset="0.1803" stop-color="#2c74b3"/><stop offset="0.2138" stop-color="#347fb9"/><stop offset="0.2277" stop-color="#3e8cc0"/><stop offset="0.2361" stop-color="#529dc8"/><stop offset="0.2473" stop-color="#68abd0"/><stop offset="0.2640" stop-color="#78b5d5"/><stop offset="0.2780" stop-color="#6dadd1"/><stop offset="0.2891" stop-color="#62a7ce"/><stop offset="0.3003" stop-color="#6aacd0"/><stop offset="0.3171" stop-color="#82bbd8"/><stop offset="0.3478" stop-color="#7bb7d6"/><stop offset="0.4343" stop-color="#7ab6d6"/><stop offset="0.4957" stop-color="#96c7df"/><stop offset="0.5264" stop-color="#b4d6e8"/><stop offset="0.5543" stop-color="#d8e8f1"/><stop offset="0.5934" stop-color="#f7f6f6"/><stop offset="0.6603" stop-color="#fbcfb8"/><stop offset="0.7217" stop-color="#f7b698"/><stop offset="0.7943" stop-color="#f7b799"/><stop offset="0.8725" stop-color="#f9c5ab"/><stop offset="0.9143" stop-color="#fbe6d9"/><stop offset="0.9394" stop-color="#f7f7f7"/><stop offset="0.9785" stop-color="#c5dfed"/><stop offset="0.9980" stop-color="#a7d0e4"/></radialGradient><radialGradient id="g129" gradientUnits="userSpaceOnUse" cx="512.6" cy="511.5" r="358.3"><stop offset="0.1273" stop-color="#2166ac"/><stop offset="0.1552" stop-color="#266daf"/><stop offset="0.1663" stop-color="#4292c3"/><stop offset="0.1719" stop-color="#3d8bbf"/><stop offset="0.1803" stop-color="#2c74b3"/><stop offset="0.2138" stop-color="#347fb9"/><stop offset="0.2277" stop-color="#3e8cbf"/><stop offset="0.2361" stop-color="#529cc8"/><stop offset="0.2473" stop-color="#68aad0"/><stop offset="0.2640" stop-color="#78b4d5"/><stop offset="0.2780" stop-color="#6cadd1"/><stop offset="0.2891" stop-color="#62a7ce"/><stop offset="0.3003" stop-color="#6aacd0"/><stop offset="0.3171" stop-color="#81bad8"/><stop offset="0.3478" stop-color="#7bb6d6"/><stop offset="0.4315" stop-color="#79b5d5"/><stop offset="0.4901" stop-color="#93c6de"/><stop offset="0.5208" stop-color="#aed3e6"/><stop offset="0.5543" stop-color="#d8e8f1"/><stop offset="0.5934" stop-color="#f7f6f5"/><stop offset="0.6603" stop-color="#fbcfb7"/><stop offset="0.7217" stop-color="#f7b698"/><stop offset="0.7943" stop-color="#f7b799"/><stop offset="0.8725" stop-color="#fac7ad"/><stop offset="0.9171" stop-color="#fae9df"/><stop offset="0.9366" stop-color="#f7f7f7"/><stop offset="0.9729" stop-color="#c8e0ed"/><stop offset="0.9980" stop-color="#a2cde3"/></radialGradient><radialGradient id="g130" gradientUnits="userSpaceOnUse" cx="512.6" cy="511.5" r="358.3"><stop offset="0.1273" stop-color="#2166ac"/><stop offset="0.1552" stop-color="#266daf"/><stop offset="0.1663" stop-color="#4292c3"/><stop offset="0.1719" stop-color="#3d8bbf"/><stop offset="0.1803" stop-color="#2c74b3"/><stop offset="0.2138" stop-color="#347fb9"/><stop offset="0.2277" stop-color="#3e8cbf"/><stop offset="0.2361" stop-color="#529cc8"/><stop offset="0.2473" stop-color="#68aad0"/><stop offset="0.2640" stop-color="#77b4d5"/><stop offset="0.2780" stop-color="#6cadd1"/><stop offset="0.2891" stop-color="#62a6cd"/><stop offset="0.3003" stop-color="#6aacd0"/><stop offset="0.3171" stop-color="#81bad8"/><stop offset="0.3478" stop-color="#7bb6d6"/><stop offset="0.4315" stop-color="#79b5d5"/><stop offset="0.4873" stop-color="#92c5de"/><stop offset="0.5180" stop-color="#acd2e5"/><stop offset="0.5543" stop-color="#d9e9f2"/><stop offset="0.5934" stop-color="#f7f5f4"/><stop offset="0.6575" stop-color="#fbd0b8"/><stop offset="0.7162" stop-color="#f7b89a"/><stop offset="0.7692" stop-color="#f7b597"/><stop offset="0.8641" stop-color="#f9c5ab"/><stop offset="0.8864" stop-color="#fcd3bc"/><stop offset="0.9366" stop-color="#f5f6f7"/><stop offset="0.9701" stop-color="#c7e0ed"/><stop offset="0.9980" stop-color="#9dcbe1"/></radialGradient><radialGradient id="g131" gradientUnits="userSpaceOnUse" cx="512.6" cy="511.5" r="358.3"><stop offset="0.1273" stop-color="#2166ac"/><stop offset="0.1552" stop-color="#266daf"/><stop offset="0.1663" stop-color="#4292c3"/><stop offset="0.1719" stop-color="#3d8bbf"/><stop offset="0.1803" stop-color="#2c74b3"/><stop offset="0.2138" stop-color="#337eb8"/><stop offset="0.2277" stop-color="#3d8cbf"/><stop offset="0.2361" stop-color="#519cc8"/><stop offset="0.2473" stop-color="#68aacf"/><stop offset="0.2640" stop-color="#77b4d5"/><stop offset="0.2780" stop-color="#6cadd1"/><stop offset="0.2891" stop-color="#61a6cd"/><stop offset="0.3003" stop-color="#69abd0"/><stop offset="0.3171" stop-color="#81bad8"/><stop offset="0.3478" stop-color="#7bb6d6"/><stop offset="0.4315" stop-color="#79b5d5"/><stop offset="0.4873" stop-color="#92c5de"/><stop offset="0.5180" stop-color="#add3e6"/><stop offset="0.5515" stop-color="#d7e8f1"/><stop offset="0.5906" stop-color="#f7f6f6"/><stop offset="0.6575" stop-color="#fbcfb7"/><stop offset="0.7162" stop-color="#f7b89a"/><stop offset="0.7720" stop-color="#f7b698"/><stop offset="0.8641" stop-color="#fac6ac"/><stop offset="0.8864" stop-color="#fcd4be"/><stop offset="0.9339" stop-color="#f6f7f7"/><stop offset="0.9646" stop-color="#cce3ef"/><stop offset="0.9925" stop-color="#a0cce2"/><stop offset="0.9980" stop-color="#99c8e0"/></radialGradient><radialGradient id="g132" gradientUnits="userSpaceOnUse" cx="512.6" cy="511.5" r="358.3"><stop offset="0.1273" stop-color="#2166ac"/><stop offset="0.1552" stop-color="#266daf"/><stop offset="0.1663" stop-color="#4292c3"/><stop offset="0.1719" stop-color="#3d8bbf"/><stop offset="0.1803" stop-color="#2c74b3"/><stop offset="0.2138" stop-color="#337eb8"/><stop offset="0.2277" stop-color="#3d8bbf"/><stop offset="0.2361" stop-color="#519cc8"/><stop offset="0.2473" stop-color="#67aacf"/><stop offset="0.2640" stop-color="#77b4d5"/><stop offset="0.2780" stop-color="#6cadd1"/><stop offset="0.2891" stop-color="#61a6cd"/><stop offset="0.3003" stop-color="#69abd0"/><stop offset="0.3171" stop-color="#81bad8"/><stop offset="0.3478" stop-color="#7ab6d6"/><stop offset="0.4315" stop-color="#78b5d5"/><stop offset="0.4873" stop-color="#92c5de"/><stop offset="0.5180" stop-color="#aed3e6"/><stop offset="0.5515" stop-color="#d8e8f1"/><stop offset="0.5906" stop-color="#f7f6f5"/><stop offset="0.6520" stop-color="#fbd2bb"/><stop offset="0.6938" stop-color="#f8bea2"/><stop offset="0.7413" stop-color="#f7b596"/><stop offset="0.8278" stop-color="#f8bea2"/><stop offset="0.8752" stop-color="#fbcdb5"/><stop offset="0.9199" stop-color="#f9efe9"/><stop offset="0.9311" stop-color="#f7f7f7"/><stop offset="0.9618" stop-color="#cde3ef"/><stop offset="0.9841" stop-color="#a6cfe4"/><stop offset="0.9980" stop-color="#94c6df"/></radialGradient><radialGradient id="g133" gradientUnits="userSpaceOnUse" cx="512.6" cy="511.5" r="358.3"><stop offset="0.1273" stop-color="#2166ac"/><stop offset="0.1552" stop-color="#266daf"/><stop offset="0.1663" stop-color="#4292c3"/><stop offset="0.1719" stop-color="#3d8bbf"/><stop offset="0.1803" stop-color="#2c74b3"/><stop offset="0.2138" stop-color="#337eb8"/><stop offset="0.2277" stop-color="#3d8bbf"/><stop offset="0.2361" stop-color="#519cc8"/><stop offset="0.2473" stop-color="#67aacf"/><stop offset="0.2640" stop-color="#77b4d5"/><stop offset="0.2780" stop-color="#6bacd1"/><stop offset="0.2891" stop-color="#61a6cd"/><stop offset="0.3003" stop-color="#69abd0"/><stop offset="0.3171" stop-color="#80bad8"/><stop offset="0.3478" stop-color="#7ab6d6"/><stop offset="0.4315" stop-color="#78b5d5"/><stop offset="0.4873" stop-color="#93c5de"/><stop offset="0.5180" stop-color="#afd4e6"/><stop offset="0.5515" stop-color="#d9e9f1"/><stop offset="0.5906" stop-color="#f7f5f4"/><stop offset="0.6548" stop-color="#fbcfb7"/><stop offset="0.7078" stop-color="#f7ba9c"/><stop offset="0.7580" stop-color="#f7b597"/><stop offset="0.8445" stop-color="#f9c3a8"/><stop offset="0.8780" stop-color="#fbd0b9"/><stop offset="0.9283" stop-color="#f7f6f6"/><stop offset="0.9590" stop-color="#cee3ef"/><stop offset="0.9813" stop-color="#a4cee3"/><stop offset="0.9980" stop-color="#8ec3dd"/></radialGradient><radialGradient id="g134" gradientUnits="userSpaceOnUse" cx="512.6" cy="511.5" r="358.3"><stop offset="0.1273" stop-color="#2166ac"/><stop offset="0.1552" stop-color="#266daf"/><stop offset="0.1663" stop-color="#4292c3"/><stop offset="0.1719" stop-color="#3d8bbf"/><stop offset="0.1803" stop-color="#2c74b3"/><stop offset="0.2138" stop-color="#337eb8"/><stop offset="0.2277" stop-color="#3d8bbf"/><stop offset="0.2361" stop-color="#509bc8"/><stop offset="0.2473" stop-color="#67aacf"/><stop offset="0.2640" stop-color="#76b4d5"/><stop offset="0.2780" stop-color="#6bacd1"/><stop offset="0.2891" stop-color="#60a6cd"/><stop offset="0.3003" stop-color="#69abd0"/><stop offset="0.3171" stop-color="#80bad8"/><stop offset="0.3478" stop-color="#7ab6d6"/><stop offset="0.4315" stop-color="#78b4d5"/><stop offset="0.4873" stop-color="#93c5de"/><stop offset="0.5180" stop-color="#b0d4e7"/><stop offset="0.5487" stop-color="#d7e8f1"/><stop offset="0.5878" stop-color="#f7f6f6"/><stop offset="0.6492" stop-color="#fbd2bb"/><stop offset="0.6855" stop-color="#f9c0a5"/><stop offset="0.7385" stop-color="#f7b597"/><stop offset="0.8194" stop-color="#f8bea2"/><stop offset="0.8752" stop-color="#fbcfb8"/><stop offset="0.9255" stop-color="#f7f5f4"/><stop offset="0.9506" stop-color="#d8e8f1"/><stop offset="0.9785" stop-color="#a2cde3"/><stop offset="0.9980" stop-color="#88bfdb"/></radialGradient><radialGradient id="g135" gradientUnits="userSpaceOnUse" cx="512.6" cy="511.5" r="358.3"><stop offset="0.1273" stop-color="#2166ac"/><stop offset="0.1552" stop-color="#266daf"/><stop offset="0.1663" stop-color="#4292c3"/><stop offset="0.1719" stop-color="#3d8bbf"/><stop offset="0.1803" stop-color="#2c74b3"/><stop offset="0.2138" stop-color="#337eb8"/><stop offset="0.2277" stop-color="#3d8bbf"/><stop offset="0.2361" stop-color="#509bc7"/><stop offset="0.2473" stop-color="#66a9cf"/><stop offset="0.2640" stop-color="#76b3d4"/><stop offset="0.2780" stop-color="#6bacd1"/><stop offset="0.2891" stop-color="#60a5cd"/><stop offset="0.3003" stop-color="#68abd0"/><stop offset="0.3171" stop-color="#80bad8"/><stop offset="0.3478" stop-color="#7ab6d6"/><stop offset="0.4315" stop-color="#78b4d5"/><stop offset="0.4873" stop-color="#93c6de"/><stop offset="0.5180" stop-color="#b1d5e7"/><stop offset="0.5487" stop-color="#d8e8f1"/><stop offset="0.5878" stop-color="#f7f6f5"/><stop offset="0.6492" stop-color="#fbd1ba"/><stop offset="0.6855" stop-color="#f8c0a4"/><stop offset="0.7385" stop-color="#f7b596"/><stop offset="0.8194" stop-color="#f8bea2"/><stop offset="0.8752" stop-color="#fbd0b9"/><stop offset="0.9255" stop-color="#f7f6f6"/><stop offset="0.9534" stop-color="#d2e5f0"/><stop offset="0.9757" stop-color="#a2cde3"/><stop offset="0.9980" stop-color="#84bcd9"/></radialGradient><radialGradient id="g136" gradientUnits="userSpaceOnUse" cx="512.6" cy="511.5" r="358.3"><stop offset="0.1273" stop-color="#2166ac"/><stop offset="0.1552" stop-color="#266daf"/><stop offset="0.1663" stop-color="#4292c3"/><stop offset="0.1719" stop-color="#3d8bbf"/><stop offset="0.1803" stop-color="#2c74b3"/><stop offset="0.2138" stop-color="#337eb8"/><stop offset="0.2277" stop-color="#3d8bbf"/><stop offset="0.2361" stop-color="#509bc7"/><stop offset="0.2473" stop-color="#66a9cf"/><stop offset="0.2640" stop-color="#76b3d4"/><stop offset="0.2780" stop-color="#6aacd0"/><stop offset="0.2891" stop-color="#60a5cd"/><stop offset="0.3003" stop-color="#68aad0"/><stop offset="0.3171" stop-color="#80b9d8"/><stop offset="0.3478" stop-color="#79b5d6"/><stop offset="0.4315" stop-color="#77b4d5"/><stop offset="0.4873" stop-color="#94c6de"/><stop offset="0.5180" stop-color="#b2d5e7"/><stop offset="0.5459" stop-color="#d6e7f1"/><stop offset="0.5878" stop-color="#f7f5f4"/><stop offset="0.6492" stop-color="#fbd0b9"/><stop offset="0.6855" stop-color="#f8bfa3"/><stop offset="0.7385" stop-color="#f7b496"/><stop offset="0.8194" stop-color="#f8bea2"/><stop offset="0.8752" stop-color="#fbd0ba"/><stop offset="0.9255" stop-color="#f7f6f6"/><stop offset="0.9534" stop-color="#d1e5f0"/><stop offset="0.9757" stop-color="#a0cce2"/><stop offset="0.9980" stop-color="#81bad8"/></radialGradient><radialGradient id="g137" gradientUnits="userSpaceOnUse" cx="512.6" cy="511.5" r="358.3"><stop offset="0.1273" stop-color="#2166ac"/><stop offset="0.1552" stop-color="#266daf"/><stop offset="0.1663" stop-color="#4292c3"/><stop offset="0.1719" stop-color="#3d8bbf"/><stop offset="0.1803" stop-color="#2c74b3"/><stop offset="0.2138" stop-color="#337db8"/><stop offset="0.2277" stop-color="#3c8abf"/><stop offset="0.2361" stop-color="#4f9bc7"/><stop offset="0.2473" stop-color="#66a9cf"/><stop offset="0.2640" stop-color="#76b3d4"/><stop offset="0.2780" stop-color="#6aacd0"/><stop offset="0.2891" stop-color="#5fa5cd"/><stop offset="0.3003" stop-color="#68aad0"/><stop offset="0.3171" stop-color="#7fb9d8"/><stop offset="0.3478" stop-color="#79b5d5"/><stop offset="0.4315" stop-color="#77b4d5"/><stop offset="0.4873" stop-color="#94c6df"/><stop offset="0.5180" stop-color="#b3d6e7"/><stop offset="0.5487" stop-color="#d9e9f2"/><stop offset="0.5850" stop-color="#f7f7f6"/><stop offset="0.6464" stop-color="#fbd1bb"/><stop offset="0.6827" stop-color="#f8bfa3"/><stop offset="0.7357" stop-color="#f6b495"/><stop offset="0.8166" stop-color="#f8bda1"/><stop offset="0.8725" stop-color="#fbcfb7"/><stop offset="0.9227" stop-color="#f8f4f2"/><stop offset="0.9339" stop-color="#eef3f5"/><stop offset="0.9562" stop-color="#c9e1ee"/><stop offset="0.9757" stop-color="#9ecbe1"/><stop offset="0.9980" stop-color="#7fb9d7"/></radialGradient><radialGradient id="g138" gradientUnits="userSpaceOnUse" cx="512.6" cy="511.5" r="358.3"><stop offset="0.1273" stop-color="#2166ac"/><stop offset="0.1552" stop-color="#266daf"/><stop offset="0.1663" stop-color="#4292c3"/><stop offset="0.1719" stop-color="#3d8bbf"/><stop offset="0.1803" stop-color="#2c74b3"/><stop offset="0.2166" stop-color="#347fb9"/><stop offset="0.2277" stop-color="#3c8abe"/><stop offset="0.2361" stop-color="#4f9ac7"/><stop offset="0.2445" stop-color="#61a6cd"/><stop offset="0.2612" stop-color="#74b2d4"/><stop offset="0.2724" stop-color="#71b0d3"/><stop offset="0.2891" stop-color="#5fa5cd"/><stop offset="0.3003" stop-color="#67aacf"/><stop offset="0.3171" stop-color="#7fb9d8"/><stop offset="0.3478" stop-color="#79b5d5"/><stop offset="0.4315" stop-color="#77b4d5"/><stop offset="0.4873" stop-color="#94c6df"/><stop offset="0.5208" stop-color="#b7d8e9"/><stop offset="0.5459" stop-color="#d7e8f1"/><stop offset="0.5850" stop-color="#f7f6f5"/><stop offset="0.6464" stop-color="#fbd0b9"/><stop offset="0.6827" stop-color="#f8bea2"/><stop offset="0.7357" stop-color="#f6b394"/><stop offset="0.8166" stop-color="#f8bda1"/><stop offset="0.8725" stop-color="#fbcfb8"/><stop offset="0.9255" stop-color="#f7f6f6"/><stop offset="0.9506" stop-color="#d5e7f1"/><stop offset="0.9757" stop-color="#9ccae1"/><stop offset="0.9980" stop-color="#7cb7d6"/></radialGradient><radialGradient id="g139" gradientUnits="userSpaceOnUse" cx="512.6" cy="511.5" r="358.3"><stop offset="0.1273" stop-color="#2166ac"/><stop offset="0.1552" stop-color="#266daf"/><stop offset="0.1663" stop-color="#4292c3"/><stop offset="0.1719" stop-color="#3d8bbf"/><stop offset="0.1803" stop-color="#2c74b3"/><stop offset="0.2166" stop-color="#347fb9"/><stop offset="0.2277" stop-color="#3c8abe"/><stop offset="0.2333" stop-color="#4594c4"/><stop offset="0.2417" stop-color="#5da3cc"/><stop offset="0.2612" stop-color="#74b2d4"/><stop offset="0.2724" stop-color="#71b0d3"/><stop offset="0.2891" stop-color="#5fa5cd"/><stop offset="0.3003" stop-color="#67aacf"/><stop offset="0.3171" stop-color="#7fb9d7"/><stop offset="0.3478" stop-color="#78b5d5"/><stop offset="0.4287" stop-color="#76b3d4"/><stop offset="0.4789" stop-color="#8fc3dd"/><stop offset="0.5124" stop-color="#add3e6"/><stop offset="0.5459" stop-color="#d8e8f1"/><stop offset="0.5850" stop-color="#f7f6f5"/><stop offset="0.6436" stop-color="#fbd2bb"/><stop offset="0.6799" stop-color="#f8bea2"/><stop offset="0.7329" stop-color="#f6b394"/><stop offset="0.8138" stop-color="#f8bca0"/><stop offset="0.8725" stop-color="#fbcfb8"/><stop offset="0.9255" stop-color="#f7f6f6"/><stop offset="0.9506" stop-color="#d4e6f1"/><stop offset="0.9729" stop-color="#9fcce2"/><stop offset="0.9980" stop-color="#79b5d6"/></radialGradient><radialGradient id="g140" gradientUnits="userSpaceOnUse" cx="512.6" cy="511.5" r="358.3"><stop offset="0.1273" stop-color="#2166ac"/><stop offset="0.1552" stop-color="#266daf"/><stop offset="0.1663" stop-color="#4292c3"/><stop offset="0.1719" stop-color="#3d8bbf"/><stop offset="0.1803" stop-color="#2c74b3"/><stop offset="0.2166" stop-color="#337eb8"/><stop offset="0.2277" stop-color="#3c8abe"/><stop offset="0.2333" stop-color="#4594c4"/><stop offset="0.2417" stop-color="#5da3cc"/><stop offset="0.2612" stop-color="#74b2d4"/><stop offset="0.2724" stop-color="#70b0d3"/><stop offset="0.2891" stop-color="#5fa4cc"/><stop offset="0.3003" stop-color="#67aacf"/><stop offset="0.3171" stop-color="#7fb9d7"/><stop offset="0.3478" stop-color="#78b5d5"/><stop offset="0.4287" stop-color="#76b3d4"/><stop offset="0.4761" stop-color="#8ec2dd"/><stop offset="0.5096" stop-color="#abd2e5"/><stop offset="0.5431" stop-color="#d6e7f1"/><stop offset="0.5822" stop-color="#f7f7f7"/><stop offset="0.6408" stop-color="#fcd3bd"/><stop offset="0.6743" stop-color="#f8bfa4"/><stop offset="0.7273" stop-color="#f6b393"/><stop offset="0.8055" stop-color="#f8ba9d"/><stop offset="0.8697" stop-color="#fbceb6"/><stop offset="0.9171" stop-color="#f9f0eb"/><stop offset="0.9283" stop-color="#f5f6f7"/><stop offset="0.9534" stop-color="#cde3ef"/><stop offset="0.9729" stop-color="#9dcae1"/><stop offset="0.9980" stop-color="#76b4d5"/></radialGradient><radialGradient id="g141" gradientUnits="userSpaceOnUse" cx="512.6" cy="511.5" r="358.3"><stop offset="0.1273" stop-color="#2166ac"/><stop offset="0.1552" stop-color="#266daf"/><stop offset="0.1663" stop-color="#4292c3"/><stop offset="0.1719" stop-color="#3d8bbf"/><stop offset="0.1803" stop-color="#2c74b3"/><stop offset="0.2166" stop-color="#337eb8"/><stop offset="0.2277" stop-color="#3c89be"/><stop offset="0.2333" stop-color="#4594c4"/><stop offset="0.2417" stop-color="#5ca3cc"/><stop offset="0.2612" stop-color="#74b2d4"/><stop offset="0.2724" stop-color="#70b0d2"/><stop offset="0.2891" stop-color="#5ea4cc"/><stop offset="0.3003" stop-color="#67aacf"/><stop offset="0.3171" stop-color="#7eb9d7"/><stop offset="0.3478" stop-color="#78b5d5"/><stop offset="0.4287" stop-color="#76b3d4"/><stop offset="0.4761" stop-color="#8ec2dd"/><stop offset="0.5096" stop-color="#acd2e5"/><stop offset="0.5459" stop-color="#d9e9f2"/><stop offset="0.5822" stop-color="#f7f6f6"/><stop offset="0.6408" stop-color="#fbd2bb"/><stop offset="0.6743" stop-color="#f8bfa3"/><stop offset="0.7245" stop-color="#f6b293"/><stop offset="0.7999" stop-color="#f7b99b"/><stop offset="0.8697" stop-color="#fbceb6"/><stop offset="0.9171" stop-color="#f9f0eb"/><stop offset="0.9283" stop-color="#f5f6f7"/><stop offset="0.9534" stop-color="#cce2ef"/><stop offset="0.9729" stop-color="#9bc9e0"/><stop offset="0.9980" stop-color="#74b2d4"/></radialGradient><radialGradient id="g142" gradientUnits="userSpaceOnUse" cx="512.6" cy="511.5" r="358.3"><stop offset="0.1273" stop-color="#2166ac"/><stop offset="0.1552" stop-color="#266daf"/><stop offset="0.1663" stop-color="#4292c3"/><stop offset="0.1719" stop-color="#3d8bbf"/><stop offset="0.1803" stop-color="#2c74b3"/><stop offset="0.2166" stop-color="#337eb8"/><stop offset="0.2277" stop-color="#3c89be"/><stop offset="0.2333" stop-color="#4494c3"/><stop offset="0.2417" stop-color="#5ca3cc"/><stop offset="0.2612" stop-color="#73b2d4"/><stop offset="0.2724" stop-color="#70afd2"/><stop offset="0.2891" stop-color="#5ea4cc"/><stop offset="0.3003" stop-color="#66a9cf"/><stop offset="0.3171" stop-color="#7eb8d7"/><stop offset="0.3478" stop-color="#78b4d5"/><stop offset="0.4287" stop-color="#75b3d4"/><stop offset="0.4761" stop-color="#8ec3dd"/><stop offset="0.5096" stop-color="#acd2e6"/><stop offset="0.5431" stop-color="#d7e8f1"/><stop offset="0.5822" stop-color="#f7f6f5"/><stop offset="0.6380" stop-color="#fcd3bd"/><stop offset="0.6715" stop-color="#f8bfa3"/><stop offset="0.7217" stop-color="#f6b292"/><stop offset="0.7971" stop-color="#f7b89a"/><stop offset="0.8669" stop-color="#fbccb4"/><stop offset="0.9143" stop-color="#f9eee7"/><stop offset="0.9283" stop-color="#f5f6f7"/><stop offset="0.9506" stop-color="#d2e6f0"/><stop offset="0.9729" stop-color="#99c8e0"/><stop offset="0.9980" stop-color="#71b0d3"/></radialGradient><radialGradient id="g143" gradientUnits="userSpaceOnUse" cx="512.6" cy="511.5" r="358.3"><stop offset="0.1273" stop-color="#2166ac"/><stop offset="0.1552" stop-color="#266daf"/><stop offset="0.1663" stop-color="#4292c3"/><stop offset="0.1719" stop-color="#3d8bbf"/><stop offset="0.1803" stop-color="#2c74b3"/><stop offset="0.2166" stop-color="#337eb8"/><stop offset="0.2277" stop-color="#3b89be"/><stop offset="0.2333" stop-color="#4494c3"/><stop offset="0.2417" stop-color="#5ca3cb"/><stop offset="0.2612" stop-color="#73b1d3"/><stop offset="0.2724" stop-color="#70afd2"/><stop offset="0.2891" stop-color="#5ea4cc"/><stop offset="0.3003" stop-color="#66a9cf"/><stop offset="0.3171" stop-color="#7eb8d7"/><stop offset="0.3478" stop-color="#77b4d5"/><stop offset="0.4287" stop-color="#75b3d4"/><stop offset="0.4761" stop-color="#8ec3dd"/><stop offset="0.5096" stop-color="#add3e6"/><stop offset="0.5431" stop-color="#d8e8f1"/><stop offset="0.5822" stop-color="#f7f6f5"/><stop offset="0.6380" stop-color="#fcd2bc"/><stop offset="0.6715" stop-color="#f8bea2"/><stop offset="0.7217" stop-color="#f6b192"/><stop offset="0.7971" stop-color="#f7b89a"/><stop offset="0.8669" stop-color="#fbccb4"/><stop offset="0.9143" stop-color="#f9eee7"/><stop offset="0.9283" stop-color="#f5f6f7"/><stop offset="0.9506" stop-color="#d2e5f0"/><stop offset="0.9729" stop-color="#97c7df"/><stop offset="0.9980" stop-color="#6eaed2"/></radialGradient><radialGradient id="g144" gradientUnits="userSpaceOnUse" cx="512.6" cy="511.5" r="358.3"><stop offset="0.1273" stop-color="#2166ac"/><stop offset="0.1552" stop-color="#266daf"/><stop offset="0.1663" stop-color="#4292c3"/><stop offset="0.1719" stop-color="#3d8bbf"/><stop offset="0.1803" stop-color="#2c74b3"/><stop offset="0.2166" stop-color="#337eb8"/><stop offset="0.2277" stop-color="#3b89be"/><stop offset="0.2333" stop-color="#4493c3"/><stop offset="0.2417" stop-color="#5ba2cb"/><stop offset="0.2612" stop-color="#73b1d3"/><stop offset="0.2724" stop-color="#6fafd2"/><stop offset="0.2891" stop-color="#5da4cc"/><stop offset="0.3003" stop-color="#66a9cf"/><stop offset="0.3171" stop-color="#7eb8d7"/><stop offset="0.3478" stop-color="#77b4d5"/><stop offset="0.4287" stop-color="#75b3d4"/><stop offset="0.4761" stop-color="#8fc3dd"/><stop offset="0.5096" stop-color="#aed3e6"/><stop offset="0.5403" stop-color="#d6e7f1"/><stop offset="0.5794" stop-color="#f7f7f7"/><stop offset="0.6352" stop-color="#fcd4be"/><stop offset="0.6687" stop-color="#f8bfa3"/><stop offset="0.7190" stop-color="#f6b191"/><stop offset="0.7943" stop-color="#f7b799"/><stop offset="0.8669" stop-color="#fbcdb5"/><stop offset="0.9143" stop-color="#f9eee7"/><stop offset="0.9283" stop-color="#f5f6f7"/><stop offset="0.9506" stop-color="#d1e5f0"/><stop offset="0.9701" stop-color="#9ac9e0"/><stop offset="0.9953" stop-color="#6fafd2"/><stop offset="0.9980" stop-color="#6cadd1"/></radialGradient><radialGradient id="g145" gradientUnits="userSpaceOnUse" cx="512.6" cy="511.5" r="358.3"><stop offset="0.1273" stop-color="#2166ac"/><stop offset="0.1552" stop-color="#266daf"/><stop offset="0.1663" stop-color="#4292c3"/><stop offset="0.1719" stop-color="#3d8bbf"/><stop offset="0.1803" stop-color="#2c74b3"/><stop offset="0.2166" stop-color="#337db8"/><stop offset="0.2277" stop-color="#3b88be"/><stop offset="0.2333" stop-color="#4393c3"/><stop offset="0.2417" stop-color="#5ba2cb"/><stop offset="0.2612" stop-color="#73b1d3"/><stop offset="0.2724" stop-color="#6fafd2"/><stop offset="0.2891" stop-color="#5da4cc"/><stop offset="0.3003" stop-color="#65a9cf"/><stop offset="0.3171" stop-color="#7db8d7"/><stop offset="0.3478" stop-color="#77b4d5"/><stop offset="0.4287" stop-color="#75b3d4"/><stop offset="0.4761" stop-color="#8fc3dd"/><stop offset="0.5096" stop-color="#afd4e6"/><stop offset="0.5403" stop-color="#d7e8f1"/><stop offset="0.5794" stop-color="#f7f6f6"/><stop offset="0.6352" stop-color="#fcd3bc"/><stop offset="0.6687" stop-color="#f8bea2"/><stop offset="0.7190" stop-color="#f6b090"/><stop offset="0.7943" stop-color="#f7b799"/><stop offset="0.8641" stop-color="#facbb3"/><stop offset="0.9115" stop-color="#f9ece4"/><stop offset="0.9283" stop-color="#f5f6f7"/><stop offset="0.9506" stop-color="#d0e5f0"/><stop offset="0.9701" stop-color="#98c8e0"/><stop offset="0.9953" stop-color="#6cadd1"/><stop offset="0.9980" stop-color="#69abd0"/></radialGradient><radialGradient id="g146" gradientUnits="userSpaceOnUse" cx="512.6" cy="511.5" r="358.3"><stop offset="0.1273" stop-color="#2166ac"/><stop offset="0.1552" stop-color="#266daf"/><stop offset="0.1663" stop-color="#4292c3"/><stop offset="0.1719" stop-color="#3d8bbf"/><stop offset="0.1803" stop-color="#2c74b3"/><stop offset="0.2194" stop-color="#347fb9"/><stop offset="0.2333" stop-color="#4393c3"/><stop offset="0.2417" stop-color="#5ba2cb"/><stop offset="0.2612" stop-color="#72b1d3"/><stop offset="0.2724" stop-color="#6fafd2"/><stop offset="0.2891" stop-color="#5da3cc"/><stop offset="0.3003" stop-color="#65a9cf"/><stop offset="0.3171" stop-color="#7db8d7"/><stop offset="0.3478" stop-color="#77b4d5"/><stop offset="0.4287" stop-color="#75b2d4"/><stop offset="0.4761" stop-color="#8fc3dd"/><stop offset="0.5096" stop-color="#b0d4e7"/><stop offset="0.5403" stop-color="#d7e8f1"/><stop offset="0.5794" stop-color="#f7f6f5"/><stop offset="0.6352" stop-color="#fbd2bb"/><stop offset="0.6687" stop-color="#f8bda1"/><stop offset="0.7190" stop-color="#f6af8f"/><stop offset="0.7943" stop-color="#f7b698"/><stop offset="0.8641" stop-color="#facbb3"/><stop offset="0.9115" stop-color="#f9ece4"/><stop offset="0.9283" stop-color="#f5f6f7"/><stop offset="0.9506" stop-color="#cfe4f0"/><stop offset="0.9701" stop-color="#96c7df"/><stop offset="0.9925" stop-color="#6daed1"/><stop offset="0.9980" stop-color="#66a9cf"/></radialGradient><radialGradient id="g147" gradientUnits="userSpaceOnUse" cx="512.6" cy="511.5" r="358.3"><stop offset="0.1273" stop-color="#2166ac"/><stop offset="0.1552" stop-color="#266daf"/><stop offset="0.1663" stop-color="#4292c3"/><stop offset="0.1719" stop-color="#3d8bbf"/><stop offset="0.1803" stop-color="#2c74b3"/><stop offset="0.2194" stop-color="#337eb8"/><stop offset="0.2305" stop-color="#3f8dc0"/><stop offset="0.2361" stop-color="#4c99c6"/><stop offset="0.2445" stop-color="#5fa5cd"/><stop offset="0.2612" stop-color="#72b1d3"/><stop offset="0.2724" stop-color="#6eafd2"/><stop offset="0.2891" stop-color="#5da3cc"/><stop offset="0.3003" stop-color="#65a8cf"/><stop offset="0.3171" stop-color="#7db8d7"/><stop offset="0.3478" stop-color="#76b4d5"/><stop offset="0.4287" stop-color="#74b2d4"/><stop offset="0.4761" stop-color="#8fc3dd"/><stop offset="0.5096" stop-color="#b1d5e7"/><stop offset="0.5403" stop-color="#d8e8f1"/><stop offset="0.5794" stop-color="#f7f6f4"/><stop offset="0.6324" stop-color="#fcd3bd"/><stop offset="0.6631" stop-color="#f8bfa3"/><stop offset="0.7134" stop-color="#f6af8f"/><stop offset="0.7859" stop-color="#f7b596"/><stop offset="0.8613" stop-color="#facab1"/><stop offset="0.9087" stop-color="#faeae1"/><stop offset="0.9283" stop-color="#f5f6f7"/><stop offset="0.9506" stop-color="#cee4ef"/><stop offset="0.9701" stop-color="#95c6df"/><stop offset="0.9897" stop-color="#6fafd2"/><stop offset="0.9980" stop-color="#63a8ce"/></radialGradient><radialGradient id="g148" gradientUnits="userSpaceOnUse" cx="512.6" cy="511.5" r="358.3"><stop offset="0.1273" stop-color="#2166ac"/><stop offset="0.1552" stop-color="#266daf"/><stop offset="0.1663" stop-color="#4292c3"/><stop offset="0.1719" stop-color="#3d8bbf"/><stop offset="0.1803" stop-color="#2c74b3"/><stop offset="0.2194" stop-color="#337eb8"/><stop offset="0.2305" stop-color="#3e8dc0"/><stop offset="0.2445" stop-color="#5fa4cc"/><stop offset="0.2612" stop-color="#72b1d3"/><stop offset="0.2724" stop-color="#6eaed2"/><stop offset="0.2891" stop-color="#5ca3cc"/><stop offset="0.3003" stop-color="#65a8ce"/><stop offset="0.3171" stop-color="#7db7d7"/><stop offset="0.3478" stop-color="#76b3d4"/><stop offset="0.4287" stop-color="#74b2d4"/><stop offset="0.4761" stop-color="#90c4dd"/><stop offset="0.5096" stop-color="#b1d5e7"/><stop offset="0.5375" stop-color="#d6e7f1"/><stop offset="0.5766" stop-color="#f7f7f6"/><stop offset="0.6324" stop-color="#fcd2bc"/><stop offset="0.6631" stop-color="#f8bea2"/><stop offset="0.7134" stop-color="#f6ae8e"/><stop offset="0.7887" stop-color="#f7b596"/><stop offset="0.8641" stop-color="#facbb3"/><stop offset="0.9115" stop-color="#f9ece4"/><stop offset="0.9283" stop-color="#f5f6f7"/><stop offset="0.9478" stop-color="#d4e7f1"/><stop offset="0.9729" stop-color="#8bc1dc"/><stop offset="0.9953" stop-color="#64a8ce"/><stop offset="0.9980" stop-color="#61a6cd"/></radialGradient><radialGradient id="g149" gradientUnits="userSpaceOnUse" cx="512.6" cy="511.5" r="358.3"><stop offset="0.1273" stop-color="#2166ac"/><stop offset="0.1552" stop-color="#266daf"/><stop offset="0.1663" stop-color="#4292c3"/><stop offset="0.1719" stop-color="#3d8bbf"/><stop offset="0.1803" stop-color="#2c74b3"/><stop offset="0.2194" stop-color="#337eb8"/><stop offset="0.2305" stop-color="#3e8dc0"/><stop offset="0.2445" stop-color="#5ea4cc"/><stop offset="0.2612" stop-color="#72b0d3"/><stop offset="0.2724" stop-color="#6eaed2"/><stop offset="0.2891" stop-color="#5ca3cc"/><stop offset="0.3003" stop-color="#64a8ce"/><stop offset="0.3171" stop-color="#7cb7d7"/><stop offset="0.3478" stop-color="#76b3d4"/><stop offset="0.4287" stop-color="#74b2d4"/><stop offset="0.4761" stop-color="#90c4dd"/><stop offset="0.5096" stop-color="#b2d5e7"/><stop offset="0.5375" stop-color="#d7e8f1"/><stop offset="0.5766" stop-color="#f7f6f6"/><stop offset="0.6296" stop-color="#fcd4be"/><stop offset="0.6603" stop-color="#f8bea2"/><stop offset="0.7106" stop-color="#f6ae8e"/><stop offset="0.7831" stop-color="#f6b394"/><stop offset="0.8613" stop-color="#facab1"/><stop offset="0.9059" stop-color="#fae8de"/><stop offset="0.9283" stop-color="#f5f6f7"/><stop offset="0.9478" stop-color="#d4e6f1"/><stop offset="0.9729" stop-color="#88bfdb"/><stop offset="0.9953" stop-color="#61a6cd"/><stop offset="0.9980" stop-color="#5ea4cc"/></radialGradient><radialGradient id="g150" gradientUnits="userSpaceOnUse" cx="512.6" cy="511.5" r="358.3"><stop offset="0.1273" stop-color="#2166ac"/><stop offset="0.1552" stop-color="#266daf"/><stop offset="0.1663" stop-color="#4292c3"/><stop offset="0.1719" stop-color="#3d8bbf"/><stop offset="0.1803" stop-color="#2c74b3"/><stop offset="0.2194" stop-color="#337eb8"/><stop offset="0.2305" stop-color="#3e8dc0"/><stop offset="0.2445" stop-color="#5ea4cc"/><stop offset="0.2612" stop-color="#71b0d3"/><stop offset="0.2724" stop-color="#6eaed2"/><stop offset="0.2891" stop-color="#5ca3cb"/><stop offset="0.3003" stop-color="#64a8ce"/><stop offset="0.3171" stop-color="#7cb7d7"/><stop offset="0.3478" stop-color="#76b3d4"/><stop offset="0.4287" stop-color="#74b2d4"/><stop offset="0.4761" stop-color="#90c4dd"/><stop offset="0.5096" stop-color="#b3d6e7"/><stop offset="0.5375" stop-color="#d7e8f1"/><stop offset="0.5766" stop-color="#f7f6f5"/><stop offset="0.6296" stop-color="#fcd3bd"/><stop offset="0.6603" stop-color="#f8bea2"/><stop offset="0.7106" stop-color="#f6ae8e"/><stop offset="0.7831" stop-color="#f7b495"/><stop offset="0.8613" stop-color="#faccb3"/><stop offset="0.9087" stop-color="#f9ece4"/><stop offset="0.9255" stop-color="#f5f6f7"/><stop offset="0.9478" stop-color="#d2e5f0"/><stop offset="0.9729" stop-color="#85bdda"/><stop offset="0.9953" stop-color="#5fa5cd"/><stop offset="0.9980" stop-color="#5ca3cb"/></radialGradient><radialGradient id="g151" gradientUnits="userSpaceOnUse" cx="512.6" cy="511.5" r="358.3"><stop offset="0.1273" stop-color="#2166ac"/><stop offset="0.1552" stop-color="#266daf"/><stop offset="0.1663" stop-color="#4292c3"/><stop offset="0.1719" stop-color="#3d8bbf"/><stop offset="0.1803" stop-color="#2c74b3"/><stop offset="0.2194" stop-color="#337eb8"/><stop offset="0.2305" stop-color="#3e8dc0"/><stop offset="0.2445" stop-color="#5ea4cc"/><stop offset="0.2612" stop-color="#71b0d3"/><stop offset="0.2724" stop-color="#6eaed2"/><stop offset="0.2891" stop-color="#5ca3cb"/><stop offset="0.3003" stop-color="#64a8ce"/><stop offset="0.3171" stop-color="#7cb7d7"/><stop offset="0.3478" stop-color="#76b3d4"/><stop offset="0.4287" stop-color="#74b2d4"/><stop offset="0.4761" stop-color="#91c4de"/><stop offset="0.5096" stop-color="#b4d6e8"/><stop offset="0.5375" stop-color="#d8e8f1"/><stop offset="0.5766" stop-color="#f7f6f5"/><stop offset="0.6296" stop-color="#fcd3bd"/><stop offset="0.6603" stop-color="#f8bea2"/><stop offset="0.7106" stop-color="#f6af8f"/><stop offset="0.7831" stop-color="#f7b698"/><stop offset="0.8585" stop-color="#fbcdb6"/><stop offset="0.9032" stop-color="#f9ebe3"/><stop offset="0.9199" stop-color="#f5f6f7"/><stop offset="0.9422" stop-color="#d8e8f1"/><stop offset="0.9562" stop-color="#b1d5e7"/><stop offset="0.9757" stop-color="#7bb7d6"/><stop offset="0.9980" stop-color="#5aa2cb"/></radialGradient><radialGradient id="g152" gradientUnits="userSpaceOnUse" cx="512.6" cy="511.5" r="358.3"><stop offset="0.1273" stop-color="#2166ac"/><stop offset="0.1552" stop-color="#266daf"/><stop offset="0.1663" stop-color="#4292c3"/><stop offset="0.1719" stop-color="#3d8bbf"/><stop offset="0.1803" stop-color="#2c74b3"/><stop offset="0.2194" stop-color="#337eb8"/><stop offset="0.2305" stop-color="#3e8dc0"/><stop offset="0.2445" stop-color="#5ea4cc"/><stop offset="0.2612" stop-color="#71b0d3"/><stop offset="0.2724" stop-color="#6eaed2"/><stop offset="0.2891" stop-color="#5ca3cb"/><stop offset="0.3003" stop-color="#64a8ce"/><stop offset="0.3171" stop-color="#7cb7d7"/><stop offset="0.3478" stop-color="#76b3d4"/><stop offset="0.4259" stop-color="#73b1d3"/><stop offset="0.4678" stop-color="#8bc1dc"/><stop offset="0.5040" stop-color="#aed3e6"/><stop offset="0.5347" stop-color="#d6e7f1"/><stop offset="0.5766" stop-color="#f7f5f4"/><stop offset="0.6296" stop-color="#fcd3bd"/><stop offset="0.6603" stop-color="#f8bea3"/><stop offset="0.7078" stop-color="#f6b090"/><stop offset="0.7776" stop-color="#f7b799"/><stop offset="0.8557" stop-color="#fbcfb8"/><stop offset="0.8948" stop-color="#fae8dd"/><stop offset="0.9143" stop-color="#f6f6f7"/><stop offset="0.9422" stop-color="#d3e6f0"/><stop offset="0.9757" stop-color="#78b4d5"/><stop offset="0.9980" stop-color="#58a1ca"/></radialGradient><radialGradient id="g153" gradientUnits="userSpaceOnUse" cx="512.6" cy="511.5" r="358.3"><stop offset="0.1273" stop-color="#2166ac"/><stop offset="0.1552" stop-color="#266daf"/><stop offset="0.1663" stop-color="#4292c3"/><stop offset="0.1719" stop-color="#3d8bbf"/><stop offset="0.1803" stop-color="#2c74b3"/><stop offset="0.2194" stop-color="#337eb8"/><stop offset="0.2305" stop-color="#3e8dc0"/><stop offset="0.2445" stop-color="#5ea4cc"/><stop offset="0.2612" stop-color="#71b0d3"/><stop offset="0.2724" stop-color="#6eaed2"/><stop offset="0.2891" stop-color="#5ca3cb"/><stop offset="0.3003" stop-color="#64a8ce"/><stop offset="0.3171" stop-color="#7cb7d7"/><stop offset="0.3478" stop-color="#76b3d4"/><stop offset="0.4259" stop-color="#73b1d3"/><stop offset="0.4678" stop-color="#8bc1dc"/><stop offset="0.5040" stop-color="#aed3e6"/><stop offset="0.5347" stop-color="#d6e8f1"/><stop offset="0.5738" stop-color="#f7f7f6"/><stop offset="0.6296" stop-color="#fcd3bd"/><stop offset="0.6631" stop-color="#f8bda1"/><stop offset="0.7078" stop-color="#f6b191"/><stop offset="0.7748" stop-color="#f7b89a"/><stop offset="0.8529" stop-color="#fbd1ba"/><stop offset="0.8920" stop-color="#fae8de"/><stop offset="0.9087" stop-color="#f7f7f7"/><stop offset="0.9394" stop-color="#d3e6f0"/><stop offset="0.9757" stop-color="#74b2d4"/><stop offset="0.9980" stop-color="#57a0ca"/></radialGradient><radialGradient id="g154" gradientUnits="userSpaceOnUse" cx="512.6" cy="511.5" r="358.3"><stop offset="0.1273" stop-color="#2166ac"/><stop offset="0.1552" stop-color="#266daf"/><stop offset="0.1663" stop-color="#4292c3"/><stop offset="0.1719" stop-color="#3d8bbf"/><stop offset="0.1803" stop-color="#2c74b3"/><stop offset="0.2194" stop-color="#337eb8"/><stop offset="0.2305" stop-color="#3e8dc0"/><stop offset="0.2445" stop-color="#5ea4cc"/><stop offset="0.2612" stop-color="#71b0d3"/><stop offset="0.2724" stop-color="#6eaed2"/><stop offset="0.2891" stop-color="#5ca3cb"/><stop offset="0.3003" stop-color="#64a8ce"/><stop offset="0.3171" stop-color="#7cb7d7"/><stop offset="0.3478" stop-color="#76b3d4"/><stop offset="0.4259" stop-color="#73b2d3"/><stop offset="0.4678" stop-color="#8cc1dc"/><stop offset="0.5040" stop-color="#afd4e6"/><stop offset="0.5347" stop-color="#d7e8f1"/><stop offset="0.5738" stop-color="#f7f6f6"/><stop offset="0.6296" stop-color="#fcd3bd"/><stop offset="0.6659" stop-color="#f8bca0"/><stop offset="0.7106" stop-color="#f6b191"/><stop offset="0.7804" stop-color="#f8bb9e"/><stop offset="0.8529" stop-color="#fcd4bf"/><stop offset="0.8892" stop-color="#fae9de"/><stop offset="0.9059" stop-color="#f6f6f7"/><stop offset="0.9394" stop-color="#cce2ee"/><stop offset="0.9757" stop-color="#71b0d3"/><stop offset="0.9980" stop-color="#559ec9"/></radialGradient><radialGradient id="g155" gradientUnits="userSpaceOnUse" cx="512.6" cy="511.5" r="358.3"><stop offset="0.1273" stop-color="#2166ac"/><stop offset="0.1552" stop-color="#266daf"/><stop offset="0.1663" stop-color="#4292c3"/><stop offset="0.1719" stop-color="#3d8bbf"/><stop offset="0.1803" stop-color="#2c74b3"/><stop offset="0.2194" stop-color="#337eb8"/><stop offset="0.2305" stop-color="#3e8dc0"/><stop offset="0.2445" stop-color="#5ea4cc"/><stop offset="0.2612" stop-color="#71b0d3"/><stop offset="0.2724" stop-color="#6eaed2"/><stop offset="0.2891" stop-color="#5ca3cb"/><stop offset="0.3003" stop-color="#64a8ce"/><stop offset="0.3171" stop-color="#7cb7d7"/><stop offset="0.3478" stop-color="#76b3d4"/><stop offset="0.4259" stop-color="#73b2d3"/><stop offset="0.4678" stop-color="#8cc1dc"/><stop offset="0.5040" stop-color="#b0d4e7"/><stop offset="0.5347" stop-color="#d7e8f1"/><stop offset="0.5738" stop-color="#f7f6f5"/><stop offset="0.6296" stop-color="#fcd3bc"/><stop offset="0.6659" stop-color="#f8bda0"/><stop offset="0.7078" stop-color="#f6b293"/><stop offset="0.7748" stop-color="#f8bb9f"/><stop offset="0.8501" stop-color="#fcd6c1"/><stop offset="0.8864" stop-color="#fae9df"/><stop offset="0.9032" stop-color="#f5f6f7"/><stop offset="0.9366" stop-color="#cae1ee"/><stop offset="0.9757" stop-color="#6daed1"/><stop offset="0.9980" stop-color="#539dc9"/></radialGradient><radialGradient id="g156" gradientUnits="userSpaceOnUse" cx="512.6" cy="511.5" r="358.3"><stop offset="0.1273" stop-color="#2166ac"/><stop offset="0.1552" stop-color="#266daf"/><stop offset="0.1663" stop-color="#4292c3"/><stop offset="0.1719" stop-color="#3d8bbf"/><stop offset="0.1803" stop-color="#2c74b3"/><stop offset="0.2194" stop-color="#337eb8"/><stop offset="0.2305" stop-color="#3e8dc0"/><stop offset="0.2445" stop-color="#5ea4cc"/><stop offset="0.2612" stop-color="#71b0d3"/><stop offset="0.2724" stop-color="#6eaed2"/><stop offset="0.2891" stop-color="#5ca3cb"/><stop offset="0.3003" stop-color="#64a8ce"/><stop offset="0.3171" stop-color="#7cb7d7"/><stop offset="0.3478" stop-color="#76b3d4"/><stop offset="0.4259" stop-color="#73b2d3"/><stop offset="0.4678" stop-color="#8dc2dc"/><stop offset="0.5040" stop-color="#b1d5e7"/><stop offset="0.5347" stop-color="#d8e8f1"/><stop offset="0.5738" stop-color="#f7f6f5"/><stop offset="0.6324" stop-color="#fbd0b9"/><stop offset="0.6743" stop-color="#f7b99c"/><stop offset="0.7162" stop-color="#f6b394"/><stop offset="0.7915" stop-color="#f9c2a7"/><stop offset="0.8613" stop-color="#fcdecc"/><stop offset="0.8864" stop-color="#faebe2"/><stop offset="0.9004" stop-color="#f5f6f7"/><stop offset="0.9339" stop-color="#c6e0ed"/><stop offset="0.9646" stop-color="#80bad8"/><stop offset="0.9813" stop-color="#62a7ce"/><stop offset="0.9980" stop-color="#529cc8"/></radialGradient><radialGradient id="g157" gradientUnits="userSpaceOnUse" cx="512.6" cy="511.5" r="358.3"><stop offset="0.1273" stop-color="#2166ac"/><stop offset="0.1552" stop-color="#266daf"/><stop offset="0.1663" stop-color="#4292c3"/><stop offset="0.1719" stop-color="#3d8bbf"/><stop offset="0.1803" stop-color="#2c74b3"/><stop offset="0.2194" stop-color="#337eb8"/><stop offset="0.2305" stop-color="#3e8dc0"/><stop offset="0.2445" stop-color="#5ea4cc"/><stop offset="0.2612" stop-color="#71b0d3"/><stop offset="0.2724" stop-color="#6eaed2"/><stop offset="0.2891" stop-color="#5ca3cb"/><stop offset="0.3003" stop-color="#64a8ce"/><stop offset="0.3171" stop-color="#7cb7d7"/><stop offset="0.3478" stop-color="#76b3d4"/><stop offset="0.4259" stop-color="#73b2d3"/><stop offset="0.4678" stop-color="#8dc2dc"/><stop offset="0.5040" stop-color="#b2d5e7"/><stop offset="0.5320" stop-color="#d6e7f1"/><stop offset="0.5738" stop-color="#f7f5f4"/><stop offset="0.6324" stop-color="#fbd0b9"/><stop offset="0.6743" stop-color="#f7ba9c"/><stop offset="0.7162" stop-color="#f6b495"/><stop offset="0.7887" stop-color="#f9c3a8"/><stop offset="0.8641" stop-color="#fce1d1"/><stop offset="0.8864" stop-color="#f9ede6"/><stop offset="0.8976" stop-color="#f5f6f7"/><stop offset="0.9394" stop-color="#b3d6e7"/><stop offset="0.9729" stop-color="#6bacd1"/><stop offset="0.9980" stop-color="#509bc7"/></radialGradient><radialGradient id="g158" gradientUnits="userSpaceOnUse" cx="512.6" cy="511.5" r="358.3"><stop offset="0.1273" stop-color="#2166ac"/><stop offset="0.1552" stop-color="#266daf"/><stop offset="0.1663" stop-color="#4292c3"/><stop offset="0.1719" stop-color="#3d8bbf"/><stop offset="0.1803" stop-color="#2c74b3"/><stop offset="0.2194" stop-color="#337eb8"/><stop offset="0.2305" stop-color="#3e8dc0"/><stop offset="0.2445" stop-color="#5ea4cc"/><stop offset="0.2612" stop-color="#71b0d3"/><stop offset="0.2724" stop-color="#6eaed2"/><stop offset="0.2891" stop-color="#5ca3cb"/><stop offset="0.3003" stop-color="#64a8ce"/><stop offset="0.3171" stop-color="#7cb7d7"/><stop offset="0.3478" stop-color="#76b3d4"/><stop offset="0.4259" stop-color="#73b2d4"/><stop offset="0.4678" stop-color="#8ec2dc"/><stop offset="0.5040" stop-color="#b2d5e7"/><stop offset="0.5320" stop-color="#d7e8f1"/><stop offset="0.5710" stop-color="#f7f7f6"/><stop offset="0.6324" stop-color="#fbd0b9"/><stop offset="0.6771" stop-color="#f7b99b"/><stop offset="0.7190" stop-color="#f7b596"/><stop offset="0.7943" stop-color="#fac7ad"/><stop offset="0.8725" stop-color="#fbe6db"/><stop offset="0.8892" stop-color="#f8f2ef"/><stop offset="0.8948" stop-color="#f5f6f7"/><stop offset="0.9506" stop-color="#95c7df"/><stop offset="0.9729" stop-color="#67aacf"/><stop offset="0.9980" stop-color="#4e9ac7"/></radialGradient><radialGradient id="g159" gradientUnits="userSpaceOnUse" cx="512.6" cy="511.5" r="358.3"><stop offset="0.1273" stop-color="#2166ac"/><stop offset="0.1552" stop-color="#266daf"/><stop offset="0.1663" stop-color="#4292c3"/><stop offset="0.1719" stop-color="#3d8bbf"/><stop offset="0.1803" stop-color="#2c74b3"/><stop offset="0.2194" stop-color="#337eb8"/><stop offset="0.2305" stop-color="#3e8dc0"/><stop offset="0.2445" stop-color="#5ea4cc"/><stop offset="0.2612" stop-color="#71b0d3"/><stop offset="0.2724" stop-color="#6eaed2"/><stop offset="0.2891" stop-color="#5ca3cb"/><stop offset="0.3003" stop-color="#64a8ce"/><stop offset="0.3171" stop-color="#7cb7d7"/><stop offset="0.3478" stop-color="#76b3d4"/><stop offset="0.4259" stop-color="#73b2d4"/><stop offset="0.4678" stop-color="#8ec2dd"/><stop offset="0.5040" stop-color="#b3d6e7"/><stop offset="0.5320" stop-color="#d7e8f1"/><stop offset="0.5710" stop-color="#f7f6f6"/><stop offset="0.6352" stop-color="#fbceb7"/><stop offset="0.6799" stop-color="#f7b89a"/><stop offset="0.7245" stop-color="#f7b698"/><stop offset="0.8027" stop-color="#fbccb4"/><stop offset="0.8725" stop-color="#fae8de"/><stop offset="0.8920" stop-color="#f6f7f7"/><stop offset="0.9311" stop-color="#b0d4e7"/><stop offset="0.9562" stop-color="#82bbd8"/><stop offset="0.9757" stop-color="#60a5cd"/><stop offset="0.9980" stop-color="#4d99c6"/></radialGradient><radialGradient id="g160" gradientUnits="userSpaceOnUse" cx="512.6" cy="511.5" r="358.3"><stop offset="0.1273" stop-color="#2166ac"/><stop offset="0.1552" stop-color="#266daf"/><stop offset="0.1663" stop-color="#4292c3"/><stop offset="0.1719" stop-color="#3d8bbf"/><stop offset="0.1803" stop-color="#2c74b3"/><stop offset="0.2194" stop-color="#337eb8"/><stop offset="0.2305" stop-color="#3e8dc0"/><stop offset="0.2445" stop-color="#5ea4cc"/><stop offset="0.2612" stop-color="#71b0d3"/><stop offset="0.2724" stop-color="#6eaed2"/><stop offset="0.2891" stop-color="#5ca3cb"/><stop offset="0.3003" stop-color="#64a8ce"/><stop offset="0.3171" stop-color="#7cb7d7"/><stop offset="0.3478" stop-color="#76b3d4"/><stop offset="0.4259" stop-color="#73b2d4"/><stop offset="0.4650" stop-color="#8cc1dc"/><stop offset="0.5013" stop-color="#b0d4e7"/><stop offset="0.5320" stop-color="#d8e8f1"/><stop offset="0.5710" stop-color="#f7f6f5"/><stop offset="0.6324" stop-color="#fbd0b9"/><stop offset="0.6799" stop-color="#f7b89b"/><stop offset="0.7245" stop-color="#f7b799"/><stop offset="0.8027" stop-color="#fbceb7"/><stop offset="0.8697" stop-color="#fae9df"/><stop offset="0.8864" stop-color="#f8f4f2"/><stop offset="0.8920" stop-color="#f3f5f6"/><stop offset="0.9143" stop-color="#c6dfed"/><stop offset="0.9283" stop-color="#abd2e5"/><stop offset="0.9534" stop-color="#80bad8"/><stop offset="0.9757" stop-color="#5ca3cc"/><stop offset="0.9980" stop-color="#4b98c6"/></radialGradient><radialGradient id="g161" gradientUnits="userSpaceOnUse" cx="512.6" cy="511.5" r="358.3"><stop offset="0.1273" stop-color="#2166ac"/><stop offset="0.1552" stop-color="#266daf"/><stop offset="0.1663" stop-color="#4292c3"/><stop offset="0.1719" stop-color="#3d8bbf"/><stop offset="0.1803" stop-color="#2c74b3"/><stop offset="0.2194" stop-color="#337eb8"/><stop offset="0.2305" stop-color="#3e8dc0"/><stop offset="0.2445" stop-color="#5ea4cc"/><stop offset="0.2612" stop-color="#71b0d3"/><stop offset="0.2724" stop-color="#6eaed2"/><stop offset="0.2891" stop-color="#5ca3cb"/><stop offset="0.3003" stop-color="#64a8ce"/><stop offset="0.3171" stop-color="#7cb7d7"/><stop offset="0.3478" stop-color="#76b3d4"/><stop offset="0.4259" stop-color="#73b2d4"/><stop offset="0.4650" stop-color="#8cc2dc"/><stop offset="0.5013" stop-color="#b1d5e7"/><stop offset="0.5320" stop-color="#d8e8f1"/><stop offset="0.5710" stop-color="#f7f6f5"/><stop offset="0.6324" stop-color="#fbd0b9"/><stop offset="0.6799" stop-color="#f7b99b"/><stop offset="0.7245" stop-color="#f7b89b"/><stop offset="0.8027" stop-color="#fbd0b9"/><stop offset="0.8697" stop-color="#faebe2"/><stop offset="0.8892" stop-color="#f4f6f6"/><stop offset="0.9087" stop-color="#cee3ef"/><stop offset="0.9227" stop-color="#a9d1e5"/><stop offset="0.9506" stop-color="#7eb8d7"/><stop offset="0.9757" stop-color="#59a1ca"/><stop offset="0.9980" stop-color="#4997c5"/></radialGradient><radialGradient id="g162" gradientUnits="userSpaceOnUse" cx="512.6" cy="511.5" r="358.3"><stop offset="0.1273" stop-color="#2166ac"/><stop offset="0.1552" stop-color="#266daf"/><stop offset="0.1663" stop-color="#4292c3"/><stop offset="0.1719" stop-color="#3d8bbf"/><stop offset="0.1803" stop-color="#2c74b3"/><stop offset="0.2194" stop-color="#337eb8"/><stop offset="0.2305" stop-color="#3e8dc0"/><stop offset="0.2445" stop-color="#5ea4cc"/><stop offset="0.2612" stop-color="#71b0d3"/><stop offset="0.2724" stop-color="#6eaed2"/><stop offset="0.2891" stop-color="#5ca3cb"/><stop offset="0.3003" stop-color="#64a8ce"/><stop offset="0.3171" stop-color="#7cb7d7"/><stop offset="0.3478" stop-color="#76b3d4"/><stop offset="0.4259" stop-color="#73b2d4"/><stop offset="0.4650" stop-color="#8dc2dc"/><stop offset="0.5013" stop-color="#b2d5e7"/><stop offset="0.5292" stop-color="#d6e7f1"/><stop offset="0.5710" stop-color="#f7f5f4"/><stop offset="0.6324" stop-color="#fbd0b9"/><stop offset="0.6799" stop-color="#f7b99b"/><stop offset="0.7245" stop-color="#f7b99c"/><stop offset="0.8027" stop-color="#fcd3bc"/><stop offset="0.8669" stop-color="#faebe3"/><stop offset="0.8864" stop-color="#f5f6f7"/><stop offset="0.9059" stop-color="#cfe4ef"/><stop offset="0.9199" stop-color="#a6cfe4"/><stop offset="0.9701" stop-color="#5ba2cb"/><stop offset="0.9980" stop-color="#4896c5"/></radialGradient><radialGradient id="g163" gradientUnits="userSpaceOnUse" cx="512.6" cy="511.5" r="358.3"><stop offset="0.1273" stop-color="#2166ac"/><stop offset="0.1552" stop-color="#266daf"/><stop offset="0.1663" stop-color="#4292c3"/><stop offset="0.1719" stop-color="#3d8bbf"/><stop offset="0.1803" stop-color="#2c74b3"/><stop offset="0.2194" stop-color="#337eb8"/><stop offset="0.2305" stop-color="#3e8dc0"/><stop offset="0.2445" stop-color="#5ea4cc"/><stop offset="0.2612" stop-color="#71b0d3"/><stop offset="0.2724" stop-color="#6eaed2"/><stop offset="0.2891" stop-color="#5ca3cb"/><stop offset="0.3003" stop-color="#64a8ce"/><stop offset="0.3171" stop-color="#7cb7d7"/><stop offset="0.3478" stop-color="#76b3d4"/><stop offset="0.4259" stop-color="#73b2d4"/><stop offset="0.4650" stop-color="#8dc2dc"/><stop offset="0.5013" stop-color="#b3d6e7"/><stop offset="0.5292" stop-color="#d7e8f1"/><stop offset="0.5682" stop-color="#f7f7f6"/><stop offset="0.6324" stop-color="#fbd0b9"/><stop offset="0.6799" stop-color="#f7b99c"/><stop offset="0.7245" stop-color="#f8ba9d"/><stop offset="0.8027" stop-color="#fcd5bf"/><stop offset="0.8641" stop-color="#f9ece3"/><stop offset="0.8836" stop-color="#f6f7f7"/><stop offset="0.9032" stop-color="#d1e5f0"/><stop offset="0.9199" stop-color="#9ccae1"/><stop offset="0.9646" stop-color="#5ca3cc"/><stop offset="0.9953" stop-color="#4795c4"/><stop offset="0.9980" stop-color="#4695c4"/></radialGradient><radialGradient id="g164" gradientUnits="userSpaceOnUse" cx="512.6" cy="511.5" r="358.3"><stop offset="0.1273" stop-color="#2166ac"/><stop offset="0.1552" stop-color="#266daf"/><stop offset="0.1663" stop-color="#4292c3"/><stop offset="0.1719" stop-color="#3d8bbf"/><stop offset="0.1803" stop-color="#2c74b3"/><stop offset="0.2194" stop-color="#337eb8"/><stop offset="0.2305" stop-color="#3e8dc0"/><stop offset="0.2445" stop-color="#5ea4cc"/><stop offset="0.2612" stop-color="#71b0d3"/><stop offset="0.2724" stop-color="#6eaed2"/><stop offset="0.2891" stop-color="#5ca3cb"/><stop offset="0.3003" stop-color="#64a8ce"/><stop offset="0.3171" stop-color="#7cb7d7"/><stop offset="0.3478" stop-color="#76b3d4"/><stop offset="0.4259" stop-color="#73b2d4"/><stop offset="0.4650" stop-color="#8ec2dd"/><stop offset="0.5013" stop-color="#b4d6e8"/><stop offset="0.5292" stop-color="#d7e8f1"/><stop offset="0.5682" stop-color="#f7f6f6"/><stop offset="0.6352" stop-color="#fbceb7"/><stop offset="0.6827" stop-color="#f7b99b"/><stop offset="0.7301" stop-color="#f8bca0"/><stop offset="0.8418" stop-color="#fbe4d6"/><stop offset="0.8836" stop-color="#f3f5f6"/><stop offset="0.9004" stop-color="#d3e6f0"/><stop offset="0.9171" stop-color="#9ac9e0"/><stop offset="0.9283" stop-color="#82bbd8"/><stop offset="0.9701" stop-color="#529dc8"/><stop offset="0.9980" stop-color="#4494c3"/></radialGradient><radialGradient id="g165" gradientUnits="userSpaceOnUse" cx="512.6" cy="511.5" r="358.3"><stop offset="0.1273" stop-color="#2166ac"/><stop offset="0.1552" stop-color="#266daf"/><stop offset="0.1663" stop-color="#4292c3"/><stop offset="0.1719" stop-color="#3d8bbf"/><stop offset="0.1803" stop-color="#2c74b3"/><stop offset="0.2194" stop-color="#337eb8"/><stop offset="0.2305" stop-color="#3e8dc0"/><stop offset="0.2445" stop-color="#5ea4cc"/><stop offset="0.2612" stop-color="#71b0d3"/><stop offset="0.2724" stop-color="#6eaed2"/><stop offset="0.2891" stop-color="#5ca3cb"/><stop offset="0.3003" stop-color="#64a8ce"/><stop offset="0.3171" stop-color="#7cb7d7"/><stop offset="0.3478" stop-color="#76b3d4"/><stop offset="0.4259" stop-color="#73b2d4"/><stop offset="0.4650" stop-color="#8ec3dd"/><stop offset="0.5013" stop-color="#b4d6e8"/><stop offset="0.5292" stop-color="#d8e8f1"/><stop offset="0.5682" stop-color="#f7f6f5"/><stop offset="0.6352" stop-color="#fbceb7"/><stop offset="0.6827" stop-color="#f7ba9c"/><stop offset="0.7301" stop-color="#f8bea2"/><stop offset="0.8334" stop-color="#fbe4d6"/><stop offset="0.8780" stop-color="#f5f6f7"/><stop offset="0.8948" stop-color="#dbeaf2"/><stop offset="0.9032" stop-color="#c3deec"/><stop offset="0.9199" stop-color="#8bc1dc"/><stop offset="0.9311" stop-color="#77b4d5"/><stop offset="0.9701" stop-color="#509bc7"/><stop offset="0.9980" stop-color="#4493c3"/></radialGradient><radialGradient id="g166" gradientUnits="userSpaceOnUse" cx="512.6" cy="511.5" r="358.3"><stop offset="0.1273" stop-color="#2166ac"/><stop offset="0.1552" stop-color="#266daf"/><stop offset="0.1663" stop-color="#4292c3"/><stop offset="0.1719" stop-color="#3d8bbf"/><stop offset="0.1803" stop-color="#2c74b3"/><stop offset="0.2194" stop-color="#337eb8"/><stop offset="0.2305" stop-color="#3e8dc0"/><stop offset="0.2445" stop-color="#5ea4cc"/><stop offset="0.2612" stop-color="#71b0d3"/><stop offset="0.2724" stop-color="#6eaed2"/><stop offset="0.2891" stop-color="#5ca3cb"/><stop offset="0.3003" stop-color="#64a8ce"/><stop offset="0.3171" stop-color="#7cb7d7"/><stop offset="0.3478" stop-color="#76b3d4"/><stop offset="0.4259" stop-color="#73b2d4"/><stop offset="0.4650" stop-color="#8ec3dd"/><stop offset="0.5013" stop-color="#b5d7e8"/><stop offset="0.5292" stop-color="#d8e8f1"/><stop offset="0.5682" stop-color="#f7f6f5"/><stop offset="0.6352" stop-color="#fbcfb7"/><stop offset="0.6799" stop-color="#f8bc9f"/><stop offset="0.7245" stop-color="#f8c0a4"/><stop offset="0.7943" stop-color="#fddbc6"/><stop offset="0.8697" stop-color="#f5f6f7"/><stop offset="0.8892" stop-color="#e1edf3"/><stop offset="0.8976" stop-color="#d1e5f0"/><stop offset="0.9199" stop-color="#88bfdb"/><stop offset="0.9311" stop-color="#75b3d4"/><stop offset="0.9701" stop-color="#509bc7"/><stop offset="0.9980" stop-color="#4494c3"/></radialGradient><radialGradient id="g167" gradientUnits="userSpaceOnUse" cx="512.6" cy="511.5" r="358.3"><stop offset="0.1273" stop-color="#2166ac"/><stop offset="0.1552" stop-color="#266daf"/><stop offset="0.1663" stop-color="#4292c3"/><stop offset="0.1719" stop-color="#3d8bbf"/><stop offset="0.1803" stop-color="#2c74b3"/><stop offset="0.2194" stop-color="#337eb8"/><stop offset="0.2305" stop-color="#3e8dc0"/><stop offset="0.2445" stop-color="#5ea4cc"/><stop offset="0.2612" stop-color="#71b0d3"/><stop offset="0.2724" stop-color="#6eaed2"/><stop offset="0.2891" stop-color="#5ca3cb"/><stop offset="0.3003" stop-color="#64a8ce"/><stop offset="0.3171" stop-color="#7cb7d7"/><stop offset="0.3478" stop-color="#76b3d4"/><stop offset="0.4259" stop-color="#73b2d4"/><stop offset="0.4650" stop-color="#8fc3dd"/><stop offset="0.5013" stop-color="#b5d7e8"/><stop offset="0.5264" stop-color="#d6e7f1"/><stop offset="0.5682" stop-color="#f7f6f5"/><stop offset="0.6352" stop-color="#fbcfb8"/><stop offset="0.6799" stop-color="#f8bea1"/><stop offset="0.7273" stop-color="#f9c3a9"/><stop offset="0.8083" stop-color="#fbe2d3"/><stop offset="0.8585" stop-color="#f6f7f7"/><stop offset="0.8864" stop-color="#e0ecf3"/><stop offset="0.8976" stop-color="#cae1ee"/><stop offset="0.9199" stop-color="#85bdda"/><stop offset="0.9339" stop-color="#70b0d2"/><stop offset="0.9757" stop-color="#4d99c6"/><stop offset="0.9980" stop-color="#4594c4"/></radialGradient><radialGradient id="g168" gradientUnits="userSpaceOnUse" cx="512.6" cy="511.5" r="358.3"><stop offset="0.1273" stop-color="#2166ac"/><stop offset="0.1552" stop-color="#266daf"/><stop offset="0.1663" stop-color="#4292c3"/><stop offset="0.1719" stop-color="#3d8bbf"/><stop offset="0.1803" stop-color="#2c74b3"/><stop offset="0.2194" stop-color="#337eb8"/><stop offset="0.2305" stop-color="#3e8dc0"/><stop offset="0.2445" stop-color="#5ea4cc"/><stop offset="0.2612" stop-color="#71b0d3"/><stop offset="0.2724" stop-color="#6eaed2"/><stop offset="0.2891" stop-color="#5ca3cb"/><stop offset="0.3003" stop-color="#64a8ce"/><stop offset="0.3171" stop-color="#7cb7d7"/><stop offset="0.3478" stop-color="#76b3d4"/><stop offset="0.4259" stop-color="#73b2d4"/><stop offset="0.4650" stop-color="#8fc3dd"/><stop offset="0.5013" stop-color="#b6d7e8"/><stop offset="0.5264" stop-color="#d6e8f1"/><stop offset="0.5682" stop-color="#f7f5f4"/><stop offset="0.6352" stop-color="#fbd0b9"/><stop offset="0.6799" stop-color="#f8bfa4"/><stop offset="0.7273" stop-color="#fac6ac"/><stop offset="0.8083" stop-color="#fbe5d8"/><stop offset="0.8473" stop-color="#f6f6f7"/><stop offset="0.8864" stop-color="#dae9f2"/><stop offset="0.8948" stop-color="#cbe2ee"/><stop offset="0.9227" stop-color="#7cb7d7"/><stop offset="0.9618" stop-color="#559fc9"/><stop offset="0.9980" stop-color="#4594c4"/></radialGradient><radialGradient id="g169" gradientUnits="userSpaceOnUse" cx="512.6" cy="511.5" r="358.3"><stop offset="0.1273" stop-color="#2166ac"/><stop offset="0.1552" stop-color="#266daf"/><stop offset="0.1663" stop-color="#4292c3"/><stop offset="0.1719" stop-color="#3d8bbf"/><stop offset="0.1803" stop-color="#2c74b3"/><stop offset="0.2194" stop-color="#337eb8"/><stop offset="0.2305" stop-color="#3e8dc0"/><stop offset="0.2445" stop-color="#5ea4cc"/><stop offset="0.2612" stop-color="#71b0d3"/><stop offset="0.2724" stop-color="#6eaed2"/><stop offset="0.2891" stop-color="#5ca3cb"/><stop offset="0.3003" stop-color="#64a8ce"/><stop offset="0.3171" stop-color="#7cb7d7"/><stop offset="0.3478" stop-color="#76b3d4"/><stop offset="0.4259" stop-color="#74b2d4"/><stop offset="0.4650" stop-color="#8fc3dd"/><stop offset="0.5013" stop-color="#b7d8e8"/><stop offset="0.5292" stop-color="#d9e9f2"/><stop offset="0.5654" stop-color="#f7f7f6"/><stop offset="0.6352" stop-color="#fbd0b9"/><stop offset="0.6799" stop-color="#f9c1a6"/><stop offset="0.7301" stop-color="#facab1"/><stop offset="0.8055" stop-color="#fbe6db"/><stop offset="0.8362" stop-color="#f5f6f7"/><stop offset="0.8864" stop-color="#d5e7f1"/><stop offset="0.9004" stop-color="#b4d6e8"/><stop offset="0.9227" stop-color="#79b5d6"/><stop offset="0.9618" stop-color="#559ec9"/><stop offset="0.9980" stop-color="#4695c4"/></radialGradient><radialGradient id="g170" gradientUnits="userSpaceOnUse" cx="512.6" cy="511.5" r="358.3"><stop offset="0.1273" stop-color="#2166ac"/><stop offset="0.1552" stop-color="#266daf"/><stop offset="0.1663" stop-color="#4292c3"/><stop offset="0.1719" stop-color="#3d8bbf"/><stop offset="0.1803" stop-color="#2c74b3"/><stop offset="0.2194" stop-color="#337eb8"/><stop offset="0.2305" stop-color="#3e8dc0"/><stop offset="0.2445" stop-color="#5ea4cc"/><stop offset="0.2612" stop-color="#71b0d3"/><stop offset="0.2724" stop-color="#6eaed2"/><stop offset="0.2891" stop-color="#5ca3cb"/><stop offset="0.3003" stop-color="#64a8ce"/><stop offset="0.3171" stop-color="#7cb7d7"/><stop offset="0.3478" stop-color="#76b3d4"/><stop offset="0.4259" stop-color="#74b2d4"/><stop offset="0.4650" stop-color="#90c4dd"/><stop offset="0.5013" stop-color="#b7d8e9"/><stop offset="0.5264" stop-color="#d7e8f1"/><stop offset="0.5654" stop-color="#f7f7f6"/><stop offset="0.6324" stop-color="#fcd2bc"/><stop offset="0.6771" stop-color="#f9c3a8"/><stop offset="0.7217" stop-color="#facab1"/><stop offset="0.8027" stop-color="#fae7dc"/><stop offset="0.8278" stop-color="#f5f6f7"/><stop offset="0.8864" stop-color="#cee4ef"/><stop offset="0.9227" stop-color="#77b4d5"/><stop offset="0.9646" stop-color="#539dc8"/><stop offset="0.9980" stop-color="#4695c4"/></radialGradient><radialGradient id="g171" gradientUnits="userSpaceOnUse" cx="512.6" cy="511.5" r="358.3"><stop offset="0.1273" stop-color="#2166ac"/><stop offset="0.1552" stop-color="#266daf"/><stop offset="0.1663" stop-color="#4292c3"/><stop offset="0.1719" stop-color="#3d8bbf"/><stop offset="0.1803" stop-color="#2c74b3"/><stop offset="0.2194" stop-color="#337eb8"/><stop offset="0.2305" stop-color="#3e8dc0"/><stop offset="0.2445" stop-color="#5ea4cc"/><stop offset="0.2612" stop-color="#71b0d3"/><stop offset="0.2724" stop-color="#6eaed2"/><stop offset="0.2891" stop-color="#5ca3cb"/><stop offset="0.3003" stop-color="#64a8ce"/><stop offset="0.3171" stop-color="#7cb7d7"/><stop offset="0.3478" stop-color="#76b3d4"/><stop offset="0.4259" stop-color="#74b2d4"/><stop offset="0.4650" stop-color="#90c4dd"/><stop offset="0.5013" stop-color="#b8d8e9"/><stop offset="0.5264" stop-color="#d8e8f1"/><stop offset="0.5654" stop-color="#f7f6f6"/><stop offset="0.6268" stop-color="#fcd6c0"/><stop offset="0.6743" stop-color="#f9c5aa"/><stop offset="0.7162" stop-color="#facbb2"/><stop offset="0.7999" stop-color="#fae8de"/><stop offset="0.8222" stop-color="#f5f6f7"/><stop offset="0.8529" stop-color="#dfecf3"/><stop offset="0.8808" stop-color="#cee3ef"/><stop offset="0.9004" stop-color="#a7d0e4"/><stop offset="0.9227" stop-color="#74b2d4"/><stop offset="0.9646" stop-color="#529dc8"/><stop offset="0.9980" stop-color="#4795c4"/></radialGradient><radialGradient id="g172" gradientUnits="userSpaceOnUse" cx="512.6" cy="511.5" r="358.3"><stop offset="0.1273" stop-color="#2166ac"/><stop offset="0.1552" stop-color="#266daf"/><stop offset="0.1663" stop-color="#4292c3"/><stop offset="0.1719" stop-color="#3d8bbf"/><stop offset="0.1803" stop-color="#2c74b3"/><stop offset="0.2194" stop-color="#337eb8"/><stop offset="0.2305" stop-color="#3e8dc0"/><stop offset="0.2445" stop-color="#5ea4cc"/><stop offset="0.2612" stop-color="#71b0d3"/><stop offset="0.2724" stop-color="#6eaed2"/><stop offset="0.2891" stop-color="#5ca3cb"/><stop offset="0.3003" stop-color="#64a8ce"/><stop offset="0.3171" stop-color="#7cb7d7"/><stop offset="0.3478" stop-color="#76b3d4"/><stop offset="0.4259" stop-color="#74b2d4"/><stop offset="0.4678" stop-color="#93c5de"/><stop offset="0.5068" stop-color="#c0dceb"/><stop offset="0.5292" stop-color="#dae9f2"/><stop offset="0.5654" stop-color="#f7f6f5"/><stop offset="0.6241" stop-color="#fcd8c3"/><stop offset="0.6715" stop-color="#fac6ad"/><stop offset="0.7106" stop-color="#faccb4"/><stop offset="0.7971" stop-color="#fae9df"/><stop offset="0.8166" stop-color="#f6f7f7"/><stop offset="0.8445" stop-color="#dceaf2"/><stop offset="0.8752" stop-color="#c9e1ee"/><stop offset="0.8920" stop-color="#b2d5e7"/><stop offset="0.9227" stop-color="#71b0d3"/><stop offset="0.9673" stop-color="#509cc8"/><stop offset="0.9980" stop-color="#4796c4"/></radialGradient><radialGradient id="g173" gradientUnits="userSpaceOnUse" cx="512.6" cy="511.5" r="358.3"><stop offset="0.1273" stop-color="#2166ac"/><stop offset="0.1552" stop-color="#266daf"/><stop offset="0.1663" stop-color="#4292c3"/><stop offset="0.1719" stop-color="#3d8bbf"/><stop offset="0.1803" stop-color="#2c74b3"/><stop offset="0.2194" stop-color="#337eb8"/><stop offset="0.2305" stop-color="#3e8dc0"/><stop offset="0.2445" stop-color="#5ea4cc"/><stop offset="0.2612" stop-color="#71b0d3"/><stop offset="0.2724" stop-color="#6eaed2"/><stop offset="0.2891" stop-color="#5ca3cb"/><stop offset="0.3003" stop-color="#64a8ce"/><stop offset="0.3171" stop-color="#7cb7d7"/><stop offset="0.3478" stop-color="#76b3d4"/><stop offset="0.4259" stop-color="#74b2d4"/><stop offset="0.4678" stop-color="#93c6de"/><stop offset="0.5068" stop-color="#c1ddeb"/><stop offset="0.5264" stop-color="#d8e8f1"/><stop offset="0.5654" stop-color="#f7f6f5"/><stop offset="0.6213" stop-color="#fdd9c5"/><stop offset="0.6687" stop-color="#fac8af"/><stop offset="0.7050" stop-color="#fbccb4"/><stop offset="0.7943" stop-color="#faeae1"/><stop offset="0.8138" stop-color="#f5f6f7"/><stop offset="0.8418" stop-color="#d7e8f1"/><stop offset="0.8752" stop-color="#bfdceb"/><stop offset="0.8948" stop-color="#a5cfe3"/><stop offset="0.9227" stop-color="#6fafd2"/><stop offset="0.9701" stop-color="#4f9bc7"/><stop offset="0.9980" stop-color="#4896c5"/></radialGradient><radialGradient id="g174" gradientUnits="userSpaceOnUse" cx="512.6" cy="511.5" r="358.3"><stop offset="0.1273" stop-color="#2166ac"/><stop offset="0.1552" stop-color="#266daf"/><stop offset="0.1663" stop-color="#4292c3"/><stop offset="0.1719" stop-color="#3d8bbf"/><stop offset="0.1803" stop-color="#2c74b3"/><stop offset="0.2194" stop-color="#337eb8"/><stop offset="0.2305" stop-color="#3e8dc0"/><stop offset="0.2445" stop-color="#5ea4cc"/><stop offset="0.2612" stop-color="#71b0d3"/><stop offset="0.2724" stop-color="#6eaed2"/><stop offset="0.2891" stop-color="#5ca3cb"/><stop offset="0.3003" stop-color="#64a8ce"/><stop offset="0.3171" stop-color="#7cb7d7"/><stop offset="0.3478" stop-color="#76b3d4"/><stop offset="0.4259" stop-color="#74b2d4"/><stop offset="0.4678" stop-color="#94c6de"/><stop offset="0.5068" stop-color="#c1ddec"/><stop offset="0.5264" stop-color="#d9e9f1"/><stop offset="0.5654" stop-color="#f7f6f5"/><stop offset="0.6185" stop-color="#fddbc7"/><stop offset="0.6659" stop-color="#facab1"/><stop offset="0.7022" stop-color="#fbceb6"/><stop offset="0.7915" stop-color="#faebe2"/><stop offset="0.8111" stop-color="#f4f6f6"/><stop offset="0.8390" stop-color="#d2e6f0"/><stop offset="0.8864" stop-color="#aad1e5"/><stop offset="0.9115" stop-color="#7db8d7"/><stop offset="0.9283" stop-color="#67aacf"/><stop offset="0.9785" stop-color="#4c99c6"/><stop offset="0.9980" stop-color="#4896c5"/></radialGradient><radialGradient id="g175" gradientUnits="userSpaceOnUse" cx="512.6" cy="511.5" r="358.3"><stop offset="0.1273" stop-color="#2166ac"/><stop offset="0.1552" stop-color="#266daf"/><stop offset="0.1663" stop-color="#4292c3"/><stop offset="0.1719" stop-color="#3d8bbf"/><stop offset="0.1803" stop-color="#2c74b3"/><stop offset="0.2194" stop-color="#337eb8"/><stop offset="0.2305" stop-color="#3e8dc0"/><stop offset="0.2445" stop-color="#5ea4cc"/><stop offset="0.2612" stop-color="#71b0d3"/><stop offset="0.2724" stop-color="#6eaed2"/><stop offset="0.2891" stop-color="#5ca3cb"/><stop offset="0.3003" stop-color="#64a8ce"/><stop offset="0.3171" stop-color="#7cb7d7"/><stop offset="0.3478" stop-color="#76b3d4"/><stop offset="0.4259" stop-color="#74b2d4"/><stop offset="0.4706" stop-color="#96c7df"/><stop offset="0.5124" stop-color="#cae1ee"/><stop offset="0.5627" stop-color="#f7f7f7"/><stop offset="0.6157" stop-color="#fddcc9"/><stop offset="0.6659" stop-color="#facbb2"/><stop offset="0.7022" stop-color="#fbd0b9"/><stop offset="0.7887" stop-color="#f9ece4"/><stop offset="0.8083" stop-color="#f4f5f6"/><stop offset="0.8445" stop-color="#c3deec"/><stop offset="0.8892" stop-color="#9dcbe1"/><stop offset="0.9227" stop-color="#69abd0"/><stop offset="0.9729" stop-color="#4e9ac7"/><stop offset="0.9980" stop-color="#4997c5"/></radialGradient><radialGradient id="g176" gradientUnits="userSpaceOnUse" cx="512.6" cy="511.5" r="358.3"><stop offset="0.1273" stop-color="#2166ac"/><stop offset="0.1552" stop-color="#266daf"/><stop offset="0.1663" stop-color="#4292c3"/><stop offset="0.1719" stop-color="#3d8bbf"/><stop offset="0.1803" stop-color="#2c74b3"/><stop offset="0.2194" stop-color="#337eb8"/><stop offset="0.2305" stop-color="#3e8dc0"/><stop offset="0.2445" stop-color="#5ea4cc"/><stop offset="0.2612" stop-color="#71b0d3"/><stop offset="0.2724" stop-color="#6eaed2"/><stop offset="0.2891" stop-color="#5ca3cb"/><stop offset="0.3003" stop-color="#64a8ce"/><stop offset="0.3171" stop-color="#7cb7d7"/><stop offset="0.3478" stop-color="#76b3d4"/><stop offset="0.4259" stop-color="#74b2d4"/><stop offset="0.4706" stop-color="#97c7df"/><stop offset="0.5124" stop-color="#cbe2ee"/><stop offset="0.5627" stop-color="#f7f7f7"/><stop offset="0.6157" stop-color="#fddcc9"/><stop offset="0.6631" stop-color="#fbccb4"/><stop offset="0.6994" stop-color="#fbd1bb"/><stop offset="0.7887" stop-color="#f9eee7"/><stop offset="0.8055" stop-color="#f4f5f6"/><stop offset="0.8418" stop-color="#bad9e9"/><stop offset="0.8920" stop-color="#91c4de"/><stop offset="0.9227" stop-color="#66a9cf"/><stop offset="0.9757" stop-color="#4d99c6"/><stop offset="0.9980" stop-color="#4997c5"/></radialGradient><radialGradient id="g177" gradientUnits="userSpaceOnUse" cx="512.6" cy="511.5" r="358.3"><stop offset="0.1273" stop-color="#2166ac"/><stop offset="0.1552" stop-color="#266daf"/><stop offset="0.1663" stop-color="#4292c3"/><stop offset="0.1719" stop-color="#3d8bbf"/><stop offset="0.1803" stop-color="#2c74b3"/><stop offset="0.2194" stop-color="#337eb8"/><stop offset="0.2305" stop-color="#3e8dc0"/><stop offset="0.2445" stop-color="#5ea4cc"/><stop offset="0.2612" stop-color="#71b0d3"/><stop offset="0.2724" stop-color="#6eaed2"/><stop offset="0.2891" stop-color="#5ca3cb"/><stop offset="0.3003" stop-color="#64a8ce"/><stop offset="0.3171" stop-color="#7cb7d7"/><stop offset="0.3478" stop-color="#76b3d4"/><stop offset="0.4259" stop-color="#74b2d4"/><stop offset="0.4706" stop-color="#97c8df"/><stop offset="0.5124" stop-color="#cbe2ee"/><stop offset="0.5627" stop-color="#f7f7f6"/><stop offset="0.6157" stop-color="#fddcc9"/><stop offset="0.6631" stop-color="#fbcdb6"/><stop offset="0.6994" stop-color="#fcd4be"/><stop offset="0.7859" stop-color="#f9efe9"/><stop offset="0.8027" stop-color="#f4f5f6"/><stop offset="0.8278" stop-color="#c8e0ed"/><stop offset="0.8418" stop-color="#afd4e6"/><stop offset="0.8892" stop-color="#8ac0db"/><stop offset="0.9255" stop-color="#62a6ce"/><stop offset="0.9813" stop-color="#4c99c6"/><stop offset="0.9980" stop-color="#4a97c5"/></radialGradient><radialGradient id="g178" gradientUnits="userSpaceOnUse" cx="512.6" cy="511.5" r="358.3"><stop offset="0.1273" stop-color="#2166ac"/><stop offset="0.1552" stop-color="#266daf"/><stop offset="0.1663" stop-color="#4292c3"/><stop offset="0.1719" stop-color="#3d8bbf"/><stop offset="0.1803" stop-color="#2c74b3"/><stop offset="0.2194" stop-color="#337eb8"/><stop offset="0.2305" stop-color="#3e8dc0"/><stop offset="0.2445" stop-color="#5ea4cc"/><stop offset="0.2612" stop-color="#71b0d3"/><stop offset="0.2724" stop-color="#6eaed2"/><stop offset="0.2891" stop-color="#5ca3cb"/><stop offset="0.3003" stop-color="#64a8ce"/><stop offset="0.3171" stop-color="#7cb7d7"/><stop offset="0.3478" stop-color="#76b3d4"/><stop offset="0.4259" stop-color="#74b2d4"/><stop offset="0.4706" stop-color="#97c8e0"/><stop offset="0.5124" stop-color="#cce2ee"/><stop offset="0.5627" stop-color="#f7f6f6"/><stop offset="0.6129" stop-color="#fdddca"/><stop offset="0.6631" stop-color="#fbcfb7"/><stop offset="0.6994" stop-color="#fcd6c0"/><stop offset="0.7831" stop-color="#f9efea"/><stop offset="0.7999" stop-color="#f4f6f6"/><stop offset="0.8222" stop-color="#cde3ef"/><stop offset="0.8362" stop-color="#abd2e5"/><stop offset="0.9283" stop-color="#5ea4cc"/><stop offset="0.9869" stop-color="#4b98c6"/><stop offset="0.9980" stop-color="#4a98c5"/></radialGradient><radialGradient id="g179" gradientUnits="userSpaceOnUse" cx="512.6" cy="511.5" r="358.3"><stop offset="0.1273" stop-color="#2166ac"/><stop offset="0.1552" stop-color="#266daf"/><stop offset="0.1663" stop-color="#4292c3"/><stop offset="0.1719" stop-color="#3d8bbf"/><stop offset="0.1803" stop-color="#2c74b3"/><stop offset="0.2194" stop-color="#337eb8"/><stop offset="0.2305" stop-color="#3e8dc0"/><stop offset="0.2445" stop-color="#5ea4cc"/><stop offset="0.2612" stop-color="#71b0d3"/><stop offset="0.2724" stop-color="#6eaed2"/><stop offset="0.2891" stop-color="#5ca3cb"/><stop offset="0.3003" stop-color="#64a8ce"/><stop offset="0.3171" stop-color="#7cb7d7"/><stop offset="0.3478" stop-color="#76b3d4"/><stop offset="0.4259" stop-color="#74b2d4"/><stop offset="0.4706" stop-color="#98c8e0"/><stop offset="0.5236" stop-color="#d8e8f1"/><stop offset="0.5627" stop-color="#f7f6f6"/><stop offset="0.6129" stop-color="#fdddca"/><stop offset="0.6631" stop-color="#fbd0b8"/><stop offset="0.6994" stop-color="#fdd8c3"/><stop offset="0.7804" stop-color="#f8f0eb"/><stop offset="0.7971" stop-color="#f4f6f7"/><stop offset="0.8166" stop-color="#d4e6f1"/><stop offset="0.8362" stop-color="#a0cce2"/><stop offset="0.8780" stop-color="#7db7d7"/><stop offset="0.9339" stop-color="#59a1cb"/><stop offset="0.9980" stop-color="#4b98c6"/></radialGradient><radialGradient id="g180" gradientUnits="userSpaceOnUse" cx="512.6" cy="511.5" r="358.3"><stop offset="0.1273" stop-color="#2166ac"/><stop offset="0.1552" stop-color="#266daf"/><stop offset="0.1663" stop-color="#4292c3"/><stop offset="0.1719" stop-color="#3d8bbf"/><stop offset="0.1803" stop-color="#2c74b3"/><stop offset="0.2194" stop-color="#337eb8"/><stop offset="0.2305" stop-color="#3f8dc0"/><stop offset="0.2361" stop-color="#4c99c6"/><stop offset="0.2445" stop-color="#5fa5cd"/><stop offset="0.2612" stop-color="#72b1d3"/><stop offset="0.2724" stop-color="#6eafd2"/><stop offset="0.2891" stop-color="#5da3cc"/><stop offset="0.3003" stop-color="#65a8cf"/><stop offset="0.3171" stop-color="#7db8d7"/><stop offset="0.3478" stop-color="#76b4d5"/><stop offset="0.4259" stop-color="#74b2d4"/><stop offset="0.4706" stop-color="#98c8e0"/><stop offset="0.5236" stop-color="#d8e8f1"/><stop offset="0.5627" stop-color="#f7f6f6"/><stop offset="0.6129" stop-color="#fdddca"/><stop offset="0.6631" stop-color="#fbd0b9"/><stop offset="0.6994" stop-color="#fdd8c4"/><stop offset="0.7804" stop-color="#f8f1ec"/><stop offset="0.7971" stop-color="#f3f5f6"/><stop offset="0.8166" stop-color="#d2e6f0"/><stop offset="0.8334" stop-color="#a2cde3"/><stop offset="0.8473" stop-color="#90c3dd"/><stop offset="0.9087" stop-color="#65a9cf"/><stop offset="0.9729" stop-color="#4f9bc7"/><stop offset="0.9980" stop-color="#4d99c6"/></radialGradient><radialGradient id="g181" gradientUnits="userSpaceOnUse" cx="512.6" cy="511.5" r="358.3"><stop offset="0.1273" stop-color="#2166ac"/><stop offset="0.1552" stop-color="#266daf"/><stop offset="0.1663" stop-color="#4292c3"/><stop offset="0.1719" stop-color="#3d8bbf"/><stop offset="0.1803" stop-color="#2c74b3"/><stop offset="0.2166" stop-color="#337eb8"/><stop offset="0.2277" stop-color="#3c89be"/><stop offset="0.2333" stop-color="#4494c3"/><stop offset="0.2417" stop-color="#5ca3cc"/><stop offset="0.2612" stop-color="#73b2d4"/><stop offset="0.2724" stop-color="#70afd2"/><stop offset="0.2891" stop-color="#5ea4cc"/><stop offset="0.3003" stop-color="#66a9cf"/><stop offset="0.3171" stop-color="#7eb8d7"/><stop offset="0.3478" stop-color="#78b4d5"/><stop offset="0.4259" stop-color="#76b3d4"/><stop offset="0.4733" stop-color="#9ccae1"/><stop offset="0.5236" stop-color="#d9e9f1"/><stop offset="0.5627" stop-color="#f7f6f6"/><stop offset="0.6129" stop-color="#fdddca"/><stop offset="0.6631" stop-color="#fbcfb8"/><stop offset="0.6994" stop-color="#fcd7c2"/><stop offset="0.7804" stop-color="#f9f0eb"/><stop offset="0.7971" stop-color="#f4f6f6"/><stop offset="0.8194" stop-color="#cee3ef"/><stop offset="0.8362" stop-color="#a0cce2"/><stop offset="0.8641" stop-color="#84bcd9"/><stop offset="0.9283" stop-color="#5fa5cd"/><stop offset="0.9953" stop-color="#509bc8"/><stop offset="0.9980" stop-color="#509bc7"/></radialGradient><radialGradient id="g182" gradientUnits="userSpaceOnUse" cx="512.6" cy="511.5" r="358.3"><stop offset="0.1273" stop-color="#2166ac"/><stop offset="0.1552" stop-color="#266daf"/><stop offset="0.1663" stop-color="#4292c3"/><stop offset="0.1719" stop-color="#3d8bbf"/><stop offset="0.1803" stop-color="#2c74b3"/><stop offset="0.2166" stop-color="#347fb9"/><stop offset="0.2277" stop-color="#3c8abf"/><stop offset="0.2361" stop-color="#4f9bc7"/><stop offset="0.2445" stop-color="#62a6ce"/><stop offset="0.2612" stop-color="#75b2d4"/><stop offset="0.2724" stop-color="#71b0d3"/><stop offset="0.2891" stop-color="#5fa5cd"/><stop offset="0.3003" stop-color="#68aad0"/><stop offset="0.3171" stop-color="#7fb9d8"/><stop offset="0.3478" stop-color="#79b5d5"/><stop offset="0.4259" stop-color="#77b4d5"/><stop offset="0.4733" stop-color="#9dcae1"/><stop offset="0.5236" stop-color="#d9e9f1"/><stop offset="0.5627" stop-color="#f7f6f6"/><stop offset="0.6129" stop-color="#fdddca"/><stop offset="0.6631" stop-color="#fbceb7"/><stop offset="0.6994" stop-color="#fcd5bf"/><stop offset="0.7804" stop-color="#f9efea"/><stop offset="0.7971" stop-color="#f5f6f7"/><stop offset="0.8194" stop-color="#d1e5f0"/><stop offset="0.8362" stop-color="#a3cee3"/><stop offset="0.8585" stop-color="#8ac0db"/><stop offset="0.9227" stop-color="#65a8ce"/><stop offset="0.9897" stop-color="#549ec9"/><stop offset="0.9980" stop-color="#549dc9"/></radialGradient><radialGradient id="g183" gradientUnits="userSpaceOnUse" cx="512.6" cy="511.5" r="358.3"><stop offset="0.1273" stop-color="#2166ac"/><stop offset="0.1552" stop-color="#266daf"/><stop offset="0.1663" stop-color="#4292c3"/><stop offset="0.1719" stop-color="#3d8bbf"/><stop offset="0.1803" stop-color="#2c74b3"/><stop offset="0.2138" stop-color="#337eb8"/><stop offset="0.2277" stop-color="#3d8bbf"/><stop offset="0.2361" stop-color="#519cc8"/><stop offset="0.2473" stop-color="#67aacf"/><stop offset="0.2640" stop-color="#77b4d5"/><stop offset="0.2780" stop-color="#6cadd1"/><stop offset="0.2891" stop-color="#61a6cd"/><stop offset="0.3003" stop-color="#69abd0"/><stop offset="0.3171" stop-color="#81bad8"/><stop offset="0.3478" stop-color="#7ab6d6"/><stop offset="0.4259" stop-color="#78b5d5"/><stop offset="0.4761" stop-color="#a0cce2"/><stop offset="0.5236" stop-color="#d9e9f1"/><stop offset="0.5627" stop-color="#f7f6f6"/><stop offset="0.6157" stop-color="#fddcc9"/><stop offset="0.6659" stop-color="#fbcdb6"/><stop offset="0.7022" stop-color="#fcd5bf"/><stop offset="0.7831" stop-color="#f9f0eb"/><stop offset="0.7999" stop-color="#f3f5f6"/><stop offset="0.8222" stop-color="#cce2ef"/><stop offset="0.8390" stop-color="#a1cde2"/><stop offset="0.8725" stop-color="#83bbd9"/><stop offset="0.9394" stop-color="#61a6cd"/><stop offset="0.9980" stop-color="#57a0ca"/></radialGradient><radialGradient id="g184" gradientUnits="userSpaceOnUse" cx="512.6" cy="511.5" r="358.3"><stop offset="0.1273" stop-color="#2166ac"/><stop offset="0.1552" stop-color="#266daf"/><stop offset="0.1663" stop-color="#4292c3"/><stop offset="0.1719" stop-color="#3d8bbf"/><stop offset="0.1803" stop-color="#2c74b3"/><stop offset="0.2110" stop-color="#337db8"/><stop offset="0.2277" stop-color="#3e8cc0"/><stop offset="0.2333" stop-color="#4a97c5"/><stop offset="0.2417" stop-color="#60a6cd"/><stop offset="0.2612" stop-color="#77b4d5"/><stop offset="0.2724" stop-color="#74b2d4"/><stop offset="0.2891" stop-color="#62a7ce"/><stop offset="0.3003" stop-color="#6bacd1"/><stop offset="0.3171" stop-color="#82bbd8"/><stop offset="0.3478" stop-color="#7cb7d6"/><stop offset="0.4259" stop-color="#7ab6d6"/><stop offset="0.4761" stop-color="#a1cde2"/><stop offset="0.5236" stop-color="#d9e9f1"/><stop offset="0.5627" stop-color="#f7f6f6"/><stop offset="0.6157" stop-color="#fddcc9"/><stop offset="0.6659" stop-color="#fbcdb5"/><stop offset="0.7022" stop-color="#fcd3bd"/><stop offset="0.7831" stop-color="#f9efe9"/><stop offset="0.7999" stop-color="#f4f6f6"/><stop offset="0.8222" stop-color="#cfe4f0"/><stop offset="0.8390" stop-color="#a5cee3"/><stop offset="0.8641" stop-color="#8bc0dc"/><stop offset="0.9311" stop-color="#67aacf"/><stop offset="0.9980" stop-color="#5aa2cb"/></radialGradient><radialGradient id="g185" gradientUnits="userSpaceOnUse" cx="512.6" cy="511.5" r="358.3"><stop offset="0.1273" stop-color="#2166ac"/><stop offset="0.1552" stop-color="#266daf"/><stop offset="0.1663" stop-color="#4292c3"/><stop offset="0.1719" stop-color="#3d8bbf"/><stop offset="0.1803" stop-color="#2c74b3"/><stop offset="0.2110" stop-color="#337eb8"/><stop offset="0.2277" stop-color="#3f8ec0"/><stop offset="0.2333" stop-color="#4b98c6"/><stop offset="0.2417" stop-color="#62a7ce"/><stop offset="0.2612" stop-color="#79b5d5"/><stop offset="0.2724" stop-color="#75b3d4"/><stop offset="0.2891" stop-color="#64a8ce"/><stop offset="0.3003" stop-color="#6cadd1"/><stop offset="0.3171" stop-color="#83bcd9"/><stop offset="0.3505" stop-color="#7cb7d6"/><stop offset="0.4287" stop-color="#7cb7d6"/><stop offset="0.4845" stop-color="#abd2e5"/><stop offset="0.5236" stop-color="#d9e9f2"/><stop offset="0.5627" stop-color="#f7f6f6"/><stop offset="0.6157" stop-color="#fddcc9"/><stop offset="0.6659" stop-color="#faccb4"/><stop offset="0.7022" stop-color="#fbd1bb"/><stop offset="0.7831" stop-color="#f9eee8"/><stop offset="0.7999" stop-color="#f5f6f7"/><stop offset="0.8222" stop-color="#d2e6f0"/><stop offset="0.8390" stop-color="#a8d0e4"/><stop offset="0.8613" stop-color="#8fc3dd"/><stop offset="0.9283" stop-color="#6badd1"/><stop offset="0.9980" stop-color="#5ea4cc"/></radialGradient><radialGradient id="g186" gradientUnits="userSpaceOnUse" cx="512.6" cy="511.5" r="358.3"><stop offset="0.1273" stop-color="#2166ac"/><stop offset="0.1552" stop-color="#266daf"/><stop offset="0.1663" stop-color="#4292c3"/><stop offset="0.1719" stop-color="#3d8bbf"/><stop offset="0.1803" stop-color="#2c74b3"/><stop offset="0.2110" stop-color="#347fb9"/><stop offset="0.2277" stop-color="#408fc1"/><stop offset="0.2361" stop-color="#569fc9"/><stop offset="0.2473" stop-color="#6cadd1"/><stop offset="0.2640" stop-color="#7bb6d6"/><stop offset="0.2780" stop-color="#70afd2"/><stop offset="0.2919" stop-color="#66a9cf"/><stop offset="0.3198" stop-color="#86bdda"/><stop offset="0.3729" stop-color="#7bb6d6"/><stop offset="0.4315" stop-color="#7fb9d7"/><stop offset="0.4845" stop-color="#acd2e5"/><stop offset="0.5208" stop-color="#d7e8f1"/><stop offset="0.5627" stop-color="#f7f6f6"/><stop offset="0.6157" stop-color="#fddcc9"/><stop offset="0.6659" stop-color="#facbb3"/><stop offset="0.7022" stop-color="#fbd0b8"/><stop offset="0.7831" stop-color="#f9eee7"/><stop offset="0.8027" stop-color="#f3f5f6"/><stop offset="0.8250" stop-color="#cee4ef"/><stop offset="0.8418" stop-color="#a6cfe4"/><stop offset="0.8613" stop-color="#91c5de"/><stop offset="0.9283" stop-color="#6fafd2"/><stop offset="0.9980" stop-color="#61a6cd"/></radialGradient><radialGradient id="g187" gradientUnits="userSpaceOnUse" cx="512.6" cy="511.5" r="358.3"><stop offset="0.1273" stop-color="#2166ac"/><stop offset="0.1552" stop-color="#266daf"/><stop offset="0.1663" stop-color="#4292c3"/><stop offset="0.1719" stop-color="#3d8bbf"/><stop offset="0.1803" stop-color="#2c74b3"/><stop offset="0.2082" stop-color="#337eb8"/><stop offset="0.2277" stop-color="#4190c1"/><stop offset="0.2417" stop-color="#65a8cf"/><stop offset="0.2612" stop-color="#7bb7d6"/><stop offset="0.2724" stop-color="#78b4d5"/><stop offset="0.2891" stop-color="#67aacf"/><stop offset="0.3003" stop-color="#6fafd2"/><stop offset="0.3171" stop-color="#86bdda"/><stop offset="0.3505" stop-color="#7fb9d7"/><stop offset="0.4287" stop-color="#7fb9d7"/><stop offset="0.4845" stop-color="#acd2e6"/><stop offset="0.5208" stop-color="#d7e8f1"/><stop offset="0.5627" stop-color="#f7f6f6"/><stop offset="0.6185" stop-color="#fddbc7"/><stop offset="0.6687" stop-color="#facab1"/><stop offset="0.7050" stop-color="#fbcfb8"/><stop offset="0.7831" stop-color="#f9ede6"/><stop offset="0.8027" stop-color="#f4f6f6"/><stop offset="0.8250" stop-color="#d2e5f0"/><stop offset="0.8418" stop-color="#a9d1e5"/><stop offset="0.8613" stop-color="#93c6de"/><stop offset="0.9311" stop-color="#71b0d3"/><stop offset="0.9980" stop-color="#65a8cf"/></radialGradient><radialGradient id="g188" gradientUnits="userSpaceOnUse" cx="512.6" cy="511.5" r="358.3"><stop offset="0.1273" stop-color="#2166ac"/><stop offset="0.1552" stop-color="#266daf"/><stop offset="0.1663" stop-color="#4292c3"/><stop offset="0.1719" stop-color="#3d8bbf"/><stop offset="0.1803" stop-color="#2c74b3"/><stop offset="0.2082" stop-color="#347fb9"/><stop offset="0.2277" stop-color="#4191c2"/><stop offset="0.2417" stop-color="#66a9cf"/><stop offset="0.2612" stop-color="#7db7d7"/><stop offset="0.2724" stop-color="#79b5d6"/><stop offset="0.2891" stop-color="#68abd0"/><stop offset="0.3003" stop-color="#70b0d2"/><stop offset="0.3171" stop-color="#87beda"/><stop offset="0.3533" stop-color="#7fb9d8"/><stop offset="0.4287" stop-color="#80bad8"/><stop offset="0.4845" stop-color="#add3e6"/><stop offset="0.5208" stop-color="#d8e8f1"/><stop offset="0.5627" stop-color="#f7f6f6"/><stop offset="0.6185" stop-color="#fddbc7"/><stop offset="0.6687" stop-color="#fac9b0"/><stop offset="0.7050" stop-color="#fbcdb6"/><stop offset="0.7831" stop-color="#f9ece4"/><stop offset="0.8027" stop-color="#f5f6f7"/><stop offset="0.8278" stop-color="#cee3ef"/><stop offset="0.8445" stop-color="#a7d0e4"/><stop offset="0.8613" stop-color="#95c7df"/><stop offset="0.9366" stop-color="#72b1d3"/><stop offset="0.9980" stop-color="#68aad0"/></radialGradient><radialGradient id="g189" gradientUnits="userSpaceOnUse" cx="512.6" cy="511.5" r="358.3"><stop offset="0.1273" stop-color="#2166ac"/><stop offset="0.1552" stop-color="#266daf"/><stop offset="0.1663" stop-color="#4292c3"/><stop offset="0.1719" stop-color="#3d8bbf"/><stop offset="0.1803" stop-color="#2c74b3"/><stop offset="0.2054" stop-color="#337db8"/><stop offset="0.2277" stop-color="#4292c3"/><stop offset="0.2417" stop-color="#68aad0"/><stop offset="0.2612" stop-color="#7eb8d7"/><stop offset="0.2724" stop-color="#7bb6d6"/><stop offset="0.2891" stop-color="#6aacd0"/><stop offset="0.3003" stop-color="#72b1d3"/><stop offset="0.3171" stop-color="#88bfdb"/><stop offset="0.3812" stop-color="#7fb9d7"/><stop offset="0.4315" stop-color="#83bbd9"/><stop offset="0.4845" stop-color="#aed3e6"/><stop offset="0.5208" stop-color="#d8e8f1"/><stop offset="0.5627" stop-color="#f7f6f6"/><stop offset="0.6213" stop-color="#fddac5"/><stop offset="0.6715" stop-color="#fac8ae"/><stop offset="0.7050" stop-color="#faccb3"/><stop offset="0.7831" stop-color="#f9ebe3"/><stop offset="0.8055" stop-color="#f3f5f6"/><stop offset="0.8278" stop-color="#d1e5f0"/><stop offset="0.8445" stop-color="#aad1e5"/><stop offset="0.8613" stop-color="#97c8df"/><stop offset="0.9394" stop-color="#74b2d4"/><stop offset="0.9980" stop-color="#6cadd1"/></radialGradient><radialGradient id="g190" gradientUnits="userSpaceOnUse" cx="512.6" cy="511.5" r="358.3"><stop offset="0.1273" stop-color="#2166ac"/><stop offset="0.1552" stop-color="#266daf"/><stop offset="0.1663" stop-color="#4292c3"/><stop offset="0.1719" stop-color="#3d8bbf"/><stop offset="0.1803" stop-color="#2c74b3"/><stop offset="0.2054" stop-color="#337eb8"/><stop offset="0.2277" stop-color="#4393c3"/><stop offset="0.2417" stop-color="#69abd0"/><stop offset="0.2612" stop-color="#7fb9d8"/><stop offset="0.2724" stop-color="#7cb7d6"/><stop offset="0.2891" stop-color="#6bacd1"/><stop offset="0.3003" stop-color="#73b1d3"/><stop offset="0.3171" stop-color="#89c0db"/><stop offset="0.3812" stop-color="#80bad8"/><stop offset="0.4315" stop-color="#84bcd9"/><stop offset="0.4845" stop-color="#aed3e6"/><stop offset="0.5208" stop-color="#d8e8f1"/><stop offset="0.5627" stop-color="#f7f6f6"/><stop offset="0.6241" stop-color="#fdd8c3"/><stop offset="0.6743" stop-color="#fac6ad"/><stop offset="0.7078" stop-color="#facbb2"/><stop offset="0.7831" stop-color="#faebe2"/><stop offset="0.8055" stop-color="#f5f6f7"/><stop offset="0.8306" stop-color="#cde3ef"/><stop offset="0.8473" stop-color="#a8d0e4"/><stop offset="0.8641" stop-color="#97c8e0"/><stop offset="0.9422" stop-color="#77b4d5"/><stop offset="0.9980" stop-color="#6fafd2"/></radialGradient><radialGradient id="g191" gradientUnits="userSpaceOnUse" cx="512.6" cy="511.5" r="358.3"><stop offset="0.1273" stop-color="#2166ac"/><stop offset="0.1552" stop-color="#266daf"/><stop offset="0.1663" stop-color="#4292c3"/><stop offset="0.1719" stop-color="#3d8bbf"/><stop offset="0.1803" stop-color="#2c74b3"/><stop offset="0.2054" stop-color="#337eb8"/><stop offset="0.2277" stop-color="#4595c4"/><stop offset="0.2417" stop-color="#6bacd1"/><stop offset="0.2612" stop-color="#81bad8"/><stop offset="0.2724" stop-color="#7db8d7"/><stop offset="0.2891" stop-color="#6dadd1"/><stop offset="0.3003" stop-color="#74b2d4"/><stop offset="0.3171" stop-color="#8bc0db"/><stop offset="0.3812" stop-color="#82bbd8"/><stop offset="0.4315" stop-color="#85bdda"/><stop offset="0.4845" stop-color="#afd4e6"/><stop offset="0.5208" stop-color="#d8e8f1"/><stop offset="0.5627" stop-color="#f7f6f6"/><stop offset="0.6241" stop-color="#fdd8c3"/><stop offset="0.6743" stop-color="#f9c5ab"/><stop offset="0.7078" stop-color="#fac9b0"/><stop offset="0.7804" stop-color="#fae9de"/><stop offset="0.8055" stop-color="#f6f6f7"/><stop offset="0.8306" stop-color="#d1e5f0"/><stop offset="0.8473" stop-color="#aad1e5"/><stop offset="0.8613" stop-color="#9bc9e0"/><stop offset="0.9450" stop-color="#79b5d6"/><stop offset="0.9980" stop-color="#72b1d3"/></radialGradient><radialGradient id="g192" gradientUnits="userSpaceOnUse" cx="512.6" cy="511.5" r="358.3"><stop offset="0.1273" stop-color="#2166ac"/><stop offset="0.1552" stop-color="#266daf"/><stop offset="0.1663" stop-color="#4292c3"/><stop offset="0.1719" stop-color="#3d8bbf"/><stop offset="0.1803" stop-color="#2c74b3"/><stop offset="0.2026" stop-color="#327db8"/><stop offset="0.2250" stop-color="#4291c2"/><stop offset="0.2417" stop-color="#6cadd1"/><stop offset="0.2612" stop-color="#82bbd9"/><stop offset="0.2724" stop-color="#7fb9d7"/><stop offset="0.2891" stop-color="#6eaed2"/><stop offset="0.3003" stop-color="#76b3d4"/><stop offset="0.3198" stop-color="#8dc2dc"/><stop offset="0.3757" stop-color="#83bbd9"/><stop offset="0.4315" stop-color="#86beda"/><stop offset="0.4845" stop-color="#b0d4e7"/><stop offset="0.5208" stop-color="#d8e8f1"/><stop offset="0.5627" stop-color="#f7f6f6"/><stop offset="0.6268" stop-color="#fcd7c1"/><stop offset="0.6771" stop-color="#f9c4aa"/><stop offset="0.7106" stop-color="#fac8af"/><stop offset="0.7804" stop-color="#fae8dd"/><stop offset="0.8083" stop-color="#f4f6f6"/><stop offset="0.8334" stop-color="#cde3ef"/><stop offset="0.8501" stop-color="#a7d0e4"/><stop offset="0.8669" stop-color="#9ac9e0"/><stop offset="0.9506" stop-color="#7bb7d6"/><stop offset="0.9980" stop-color="#76b3d4"/></radialGradient><radialGradient id="g193" gradientUnits="userSpaceOnUse" cx="512.6" cy="511.5" r="358.3"><stop offset="0.1273" stop-color="#2166ac"/><stop offset="0.1552" stop-color="#266daf"/><stop offset="0.1663" stop-color="#4292c3"/><stop offset="0.1719" stop-color="#3d8bbf"/><stop offset="0.1803" stop-color="#2c74b3"/><stop offset="0.2026" stop-color="#327db8"/><stop offset="0.2250" stop-color="#4392c3"/><stop offset="0.2417" stop-color="#6eaed2"/><stop offset="0.2612" stop-color="#83bcd9"/><stop offset="0.2724" stop-color="#80bad8"/><stop offset="0.2891" stop-color="#70afd2"/><stop offset="0.3031" stop-color="#7bb7d6"/><stop offset="0.3198" stop-color="#8ec3dd"/><stop offset="0.3757" stop-color="#84bcd9"/><stop offset="0.4315" stop-color="#88beda"/><stop offset="0.4845" stop-color="#b1d5e7"/><stop offset="0.5208" stop-color="#d9e9f1"/><stop offset="0.5627" stop-color="#f7f6f6"/><stop offset="0.6296" stop-color="#fcd5bf"/><stop offset="0.6771" stop-color="#f9c3a8"/><stop offset="0.7078" stop-color="#f9c6ac"/><stop offset="0.7804" stop-color="#fae7dc"/><stop offset="0.8083" stop-color="#f6f6f7"/><stop offset="0.8334" stop-color="#d0e5f0"/><stop offset="0.8501" stop-color="#aad1e5"/><stop offset="0.8669" stop-color="#9ccae1"/><stop offset="0.9534" stop-color="#7eb8d7"/><stop offset="0.9980" stop-color="#79b5d6"/></radialGradient><radialGradient id="g194" gradientUnits="userSpaceOnUse" cx="512.6" cy="511.5" r="358.3"><stop offset="0.1273" stop-color="#2166ac"/><stop offset="0.1552" stop-color="#266daf"/><stop offset="0.1663" stop-color="#4292c3"/><stop offset="0.1719" stop-color="#3d8bbf"/><stop offset="0.1803" stop-color="#2c74b3"/><stop offset="0.2026" stop-color="#337eb8"/><stop offset="0.2250" stop-color="#4494c3"/><stop offset="0.2417" stop-color="#6fafd2"/><stop offset="0.2612" stop-color="#85bdd9"/><stop offset="0.2724" stop-color="#81bad8"/><stop offset="0.2891" stop-color="#71b0d3"/><stop offset="0.3031" stop-color="#7db7d7"/><stop offset="0.3198" stop-color="#90c3dd"/><stop offset="0.3757" stop-color="#85bdda"/><stop offset="0.4315" stop-color="#89bfdb"/><stop offset="0.4845" stop-color="#b1d5e7"/><stop offset="0.5208" stop-color="#d9e9f1"/><stop offset="0.5627" stop-color="#f7f6f6"/><stop offset="0.6324" stop-color="#fcd3bd"/><stop offset="0.6799" stop-color="#f9c1a6"/><stop offset="0.7106" stop-color="#f9c5ab"/><stop offset="0.7804" stop-color="#fbe6da"/><stop offset="0.8111" stop-color="#f5f6f7"/><stop offset="0.8362" stop-color="#cce2ef"/><stop offset="0.8529" stop-color="#a7d0e4"/><stop offset="0.8892" stop-color="#95c6df"/><stop offset="0.9701" stop-color="#7fb9d7"/><stop offset="0.9980" stop-color="#7db7d7"/></radialGradient><radialGradient id="g195" gradientUnits="userSpaceOnUse" cx="512.6" cy="511.5" r="358.3"><stop offset="0.1273" stop-color="#2166ac"/><stop offset="0.1552" stop-color="#266daf"/><stop offset="0.1663" stop-color="#4292c3"/><stop offset="0.1719" stop-color="#3d8bbf"/><stop offset="0.1803" stop-color="#2c74b3"/><stop offset="0.2026" stop-color="#337eb8"/><stop offset="0.2250" stop-color="#4595c4"/><stop offset="0.2417" stop-color="#71b0d3"/><stop offset="0.2612" stop-color="#86bdda"/><stop offset="0.2724" stop-color="#82bbd9"/><stop offset="0.2891" stop-color="#72b1d3"/><stop offset="0.3031" stop-color="#7eb8d7"/><stop offset="0.3198" stop-color="#91c4de"/><stop offset="0.3757" stop-color="#87beda"/><stop offset="0.4315" stop-color="#8ac0db"/><stop offset="0.4845" stop-color="#b2d5e7"/><stop offset="0.5208" stop-color="#d9e9f1"/><stop offset="0.5627" stop-color="#f7f6f6"/><stop offset="0.6352" stop-color="#fbd1bb"/><stop offset="0.6827" stop-color="#f8c0a4"/><stop offset="0.7162" stop-color="#f9c5ab"/><stop offset="0.7831" stop-color="#fae7db"/><stop offset="0.8111" stop-color="#f6f7f7"/><stop offset="0.8362" stop-color="#d0e4f0"/><stop offset="0.8529" stop-color="#abd1e5"/><stop offset="0.8864" stop-color="#98c8e0"/><stop offset="0.9729" stop-color="#81bad8"/><stop offset="0.9980" stop-color="#80b9d8"/></radialGradient><radialGradient id="g196" gradientUnits="userSpaceOnUse" cx="512.6" cy="511.5" r="358.3"><stop offset="0.1273" stop-color="#2166ac"/><stop offset="0.1552" stop-color="#266daf"/><stop offset="0.1663" stop-color="#4292c3"/><stop offset="0.1719" stop-color="#3d8bbf"/><stop offset="0.1803" stop-color="#2c74b3"/><stop offset="0.2026" stop-color="#337eb8"/><stop offset="0.2250" stop-color="#4795c4"/><stop offset="0.2417" stop-color="#71b0d3"/><stop offset="0.2612" stop-color="#86beda"/><stop offset="0.2724" stop-color="#83bcd9"/><stop offset="0.2891" stop-color="#73b2d3"/><stop offset="0.3031" stop-color="#7fb9d7"/><stop offset="0.3198" stop-color="#91c5de"/><stop offset="0.3757" stop-color="#87beda"/><stop offset="0.4315" stop-color="#8bc0dc"/><stop offset="0.4817" stop-color="#b0d4e6"/><stop offset="0.5208" stop-color="#d9e9f2"/><stop offset="0.5627" stop-color="#f7f6f5"/><stop offset="0.6352" stop-color="#fbd0b9"/><stop offset="0.6827" stop-color="#f8bfa3"/><stop offset="0.7162" stop-color="#f9c4a9"/><stop offset="0.7831" stop-color="#fbe5d9"/><stop offset="0.8138" stop-color="#f5f6f7"/><stop offset="0.8390" stop-color="#cde3ef"/><stop offset="0.8557" stop-color="#acd2e5"/><stop offset="0.8976" stop-color="#96c7df"/><stop offset="0.9813" stop-color="#83bcd9"/><stop offset="0.9980" stop-color="#82bbd9"/></radialGradient><radialGradient id="g197" gradientUnits="userSpaceOnUse" cx="512.6" cy="511.5" r="358.3"><stop offset="0.1273" stop-color="#2166ac"/><stop offset="0.1552" stop-color="#266daf"/><stop offset="0.1663" stop-color="#4292c3"/><stop offset="0.1719" stop-color="#3d8bbf"/><stop offset="0.1803" stop-color="#2c74b3"/><stop offset="0.2026" stop-color="#347fb9"/><stop offset="0.2250" stop-color="#4896c5"/><stop offset="0.2417" stop-color="#72b1d3"/><stop offset="0.2612" stop-color="#87beda"/><stop offset="0.2724" stop-color="#84bcd9"/><stop offset="0.2891" stop-color="#74b2d4"/><stop offset="0.3031" stop-color="#7fb9d8"/><stop offset="0.3198" stop-color="#92c5de"/><stop offset="0.3757" stop-color="#88bfdb"/><stop offset="0.4315" stop-color="#8cc1dc"/><stop offset="0.4817" stop-color="#b0d4e7"/><stop offset="0.5208" stop-color="#d9e9f2"/><stop offset="0.5627" stop-color="#f7f6f5"/><stop offset="0.6352" stop-color="#fbcfb8"/><stop offset="0.6827" stop-color="#f8bda1"/><stop offset="0.7162" stop-color="#f9c2a7"/><stop offset="0.7859" stop-color="#fbe6d9"/><stop offset="0.8138" stop-color="#f7f7f7"/><stop offset="0.8418" stop-color="#cbe2ee"/><stop offset="0.8557" stop-color="#b0d4e7"/><stop offset="0.8920" stop-color="#99c9e0"/><stop offset="0.9813" stop-color="#86bdda"/><stop offset="0.9980" stop-color="#85bdda"/></radialGradient><radialGradient id="g198" gradientUnits="userSpaceOnUse" cx="512.6" cy="511.5" r="358.3"><stop offset="0.1273" stop-color="#2166ac"/><stop offset="0.1552" stop-color="#266daf"/><stop offset="0.1663" stop-color="#4292c3"/><stop offset="0.1719" stop-color="#3d8bbf"/><stop offset="0.1803" stop-color="#2c74b3"/><stop offset="0.1998" stop-color="#327cb7"/><stop offset="0.2222" stop-color="#4393c3"/><stop offset="0.2417" stop-color="#73b2d3"/><stop offset="0.2612" stop-color="#88bfdb"/><stop offset="0.2724" stop-color="#85bdda"/><stop offset="0.2891" stop-color="#75b3d4"/><stop offset="0.3031" stop-color="#80bad8"/><stop offset="0.3198" stop-color="#93c5de"/><stop offset="0.3757" stop-color="#89bfdb"/><stop offset="0.4315" stop-color="#8cc2dc"/><stop offset="0.4817" stop-color="#b1d5e7"/><stop offset="0.5180" stop-color="#d7e8f1"/><stop offset="0.5627" stop-color="#f7f6f5"/><stop offset="0.6324" stop-color="#fbcfb8"/><stop offset="0.6827" stop-color="#f8bca0"/><stop offset="0.7162" stop-color="#f8c0a4"/><stop offset="0.7887" stop-color="#fbe6da"/><stop offset="0.8166" stop-color="#f5f6f7"/><stop offset="0.8445" stop-color="#c9e1ee"/><stop offset="0.8585" stop-color="#b1d5e7"/><stop offset="0.8920" stop-color="#9bcae1"/><stop offset="0.9841" stop-color="#88bfdb"/><stop offset="0.9980" stop-color="#88beda"/></radialGradient><radialGradient id="g199" gradientUnits="userSpaceOnUse" cx="512.6" cy="511.5" r="358.3"><stop offset="0.1273" stop-color="#2166ac"/><stop offset="0.1552" stop-color="#266daf"/><stop offset="0.1663" stop-color="#4292c3"/><stop offset="0.1719" stop-color="#3d8bbf"/><stop offset="0.1803" stop-color="#2c74b3"/><stop offset="0.1998" stop-color="#327db8"/><stop offset="0.2222" stop-color="#4493c3"/><stop offset="0.2417" stop-color="#74b2d4"/><stop offset="0.2612" stop-color="#89bfdb"/><stop offset="0.2724" stop-color="#86bdda"/><stop offset="0.2891" stop-color="#76b3d4"/><stop offset="0.3031" stop-color="#81bad8"/><stop offset="0.3198" stop-color="#93c6de"/><stop offset="0.3785" stop-color="#8ac0db"/><stop offset="0.4315" stop-color="#8dc2dc"/><stop offset="0.4817" stop-color="#b2d5e7"/><stop offset="0.5208" stop-color="#dae9f2"/><stop offset="0.5627" stop-color="#f7f6f5"/><stop offset="0.6296" stop-color="#fbd0b8"/><stop offset="0.6827" stop-color="#f8bb9e"/><stop offset="0.7162" stop-color="#f8bea2"/><stop offset="0.7748" stop-color="#fcdecc"/><stop offset="0.8138" stop-color="#f8f4f3"/><stop offset="0.8194" stop-color="#f4f5f6"/><stop offset="0.8473" stop-color="#c8e1ee"/><stop offset="0.8641" stop-color="#b0d4e6"/><stop offset="0.8920" stop-color="#9dcbe1"/><stop offset="0.9869" stop-color="#8bc0db"/><stop offset="0.9980" stop-color="#8ac0db"/></radialGradient><radialGradient id="g200" gradientUnits="userSpaceOnUse" cx="512.6" cy="511.5" r="358.3"><stop offset="0.1273" stop-color="#2166ac"/><stop offset="0.1552" stop-color="#266daf"/><stop offset="0.1663" stop-color="#4292c3"/><stop offset="0.1719" stop-color="#3d8bbf"/><stop offset="0.1803" stop-color="#2c74b3"/><stop offset="0.1998" stop-color="#327db8"/><stop offset="0.2222" stop-color="#4594c4"/><stop offset="0.2417" stop-color="#75b3d4"/><stop offset="0.2612" stop-color="#8ac0db"/><stop offset="0.2724" stop-color="#86beda"/><stop offset="0.2891" stop-color="#77b4d5"/><stop offset="0.3031" stop-color="#82bbd8"/><stop offset="0.3198" stop-color="#94c6df"/><stop offset="0.3785" stop-color="#8ac0db"/><stop offset="0.4315" stop-color="#8ec3dd"/><stop offset="0.4817" stop-color="#b2d5e7"/><stop offset="0.5208" stop-color="#dae9f2"/><stop offset="0.5627" stop-color="#f7f6f5"/><stop offset="0.6296" stop-color="#fbceb7"/><stop offset="0.6827" stop-color="#f7ba9d"/><stop offset="0.7190" stop-color="#f8bda1"/><stop offset="0.7692" stop-color="#fddac5"/><stop offset="0.8111" stop-color="#f8f1ec"/><stop offset="0.8194" stop-color="#f6f6f7"/><stop offset="0.8501" stop-color="#c8e0ed"/><stop offset="0.8697" stop-color="#add3e6"/><stop offset="0.8948" stop-color="#9ecbe1"/><stop offset="0.9925" stop-color="#8dc2dc"/><stop offset="0.9980" stop-color="#8dc2dc"/></radialGradient><radialGradient id="g201" gradientUnits="userSpaceOnUse" cx="512.6" cy="511.5" r="358.3"><stop offset="0.1273" stop-color="#2166ac"/><stop offset="0.1552" stop-color="#266daf"/><stop offset="0.1663" stop-color="#4292c3"/><stop offset="0.1719" stop-color="#3d8bbf"/><stop offset="0.1803" stop-color="#2c74b3"/><stop offset="0.1998" stop-color="#337db8"/><stop offset="0.2222" stop-color="#4695c4"/><stop offset="0.2417" stop-color="#76b3d4"/><stop offset="0.2612" stop-color="#8ac0db"/><stop offset="0.2724" stop-color="#87beda"/><stop offset="0.2891" stop-color="#78b4d5"/><stop offset="0.3031" stop-color="#83bbd9"/><stop offset="0.3171" stop-color="#93c6de"/><stop offset="0.3840" stop-color="#8bc1dc"/><stop offset="0.4315" stop-color="#8fc3dd"/><stop offset="0.4817" stop-color="#b3d6e7"/><stop offset="0.5208" stop-color="#dae9f2"/><stop offset="0.5627" stop-color="#f7f6f4"/><stop offset="0.6268" stop-color="#fbcfb8"/><stop offset="0.6799" stop-color="#f7b99c"/><stop offset="0.7162" stop-color="#f8ba9d"/><stop offset="0.7636" stop-color="#fcd3bd"/><stop offset="0.8138" stop-color="#f8f2ee"/><stop offset="0.8222" stop-color="#f4f6f6"/><stop offset="0.8529" stop-color="#c7e0ed"/><stop offset="0.8780" stop-color="#a8d0e4"/><stop offset="0.9422" stop-color="#95c6df"/><stop offset="0.9980" stop-color="#8fc3dd"/></radialGradient><radialGradient id="g202" gradientUnits="userSpaceOnUse" cx="512.6" cy="511.5" r="358.3"><stop offset="0.1273" stop-color="#2166ac"/><stop offset="0.1552" stop-color="#266daf"/><stop offset="0.1663" stop-color="#4292c3"/><stop offset="0.1719" stop-color="#3d8bbf"/><stop offset="0.1803" stop-color="#2c74b3"/><stop offset="0.1998" stop-color="#337db8"/><stop offset="0.2222" stop-color="#4796c4"/><stop offset="0.2417" stop-color="#77b4d5"/><stop offset="0.2612" stop-color="#8bc1dc"/><stop offset="0.2724" stop-color="#88bfdb"/><stop offset="0.2891" stop-color="#79b5d5"/><stop offset="0.3031" stop-color="#84bcd9"/><stop offset="0.3171" stop-color="#94c6df"/><stop offset="0.3868" stop-color="#8cc1dc"/><stop offset="0.4315" stop-color="#90c4dd"/><stop offset="0.4817" stop-color="#b3d6e8"/><stop offset="0.5208" stop-color="#dae9f2"/><stop offset="0.5627" stop-color="#f7f5f4"/><stop offset="0.6241" stop-color="#fbd0b9"/><stop offset="0.6799" stop-color="#f7b89a"/><stop offset="0.7162" stop-color="#f7b89b"/><stop offset="0.7608" stop-color="#fbcfb8"/><stop offset="0.8138" stop-color="#f8f0ec"/><stop offset="0.8222" stop-color="#f6f7f7"/><stop offset="0.8557" stop-color="#c7e0ed"/><stop offset="0.8808" stop-color="#a8d0e4"/><stop offset="0.9590" stop-color="#95c6df"/><stop offset="0.9980" stop-color="#92c5de"/></radialGradient><radialGradient id="g203" gradientUnits="userSpaceOnUse" cx="512.6" cy="511.5" r="358.3"><stop offset="0.1273" stop-color="#2166ac"/><stop offset="0.1552" stop-color="#266daf"/><stop offset="0.1663" stop-color="#4292c3"/><stop offset="0.1719" stop-color="#3d8bbf"/><stop offset="0.1803" stop-color="#2c74b3"/><stop offset="0.1998" stop-color="#337eb8"/><stop offset="0.2222" stop-color="#4896c5"/><stop offset="0.2417" stop-color="#78b4d5"/><stop offset="0.2612" stop-color="#8cc1dc"/><stop offset="0.2724" stop-color="#89bfdb"/><stop offset="0.2891" stop-color="#79b5d6"/><stop offset="0.3031" stop-color="#84bcd9"/><stop offset="0.3198" stop-color="#96c7df"/><stop offset="0.3812" stop-color="#8dc2dc"/><stop offset="0.4315" stop-color="#91c4dd"/><stop offset="0.4817" stop-color="#b4d6e8"/><stop offset="0.5208" stop-color="#dbeaf2"/><stop offset="0.5627" stop-color="#f7f5f4"/><stop offset="0.6241" stop-color="#fbcfb7"/><stop offset="0.6799" stop-color="#f7b799"/><stop offset="0.7162" stop-color="#f7b799"/><stop offset="0.7608" stop-color="#fbcdb5"/><stop offset="0.8138" stop-color="#f9efe9"/><stop offset="0.8250" stop-color="#f5f6f7"/><stop offset="0.8613" stop-color="#c2ddec"/><stop offset="0.8836" stop-color="#a8d0e4"/><stop offset="0.9701" stop-color="#96c7df"/><stop offset="0.9980" stop-color="#94c6df"/></radialGradient><radialGradient id="g204" gradientUnits="userSpaceOnUse" cx="512.6" cy="511.5" r="358.3"><stop offset="0.1273" stop-color="#2166ac"/><stop offset="0.1552" stop-color="#266daf"/><stop offset="0.1663" stop-color="#4292c3"/><stop offset="0.1719" stop-color="#3d8bbf"/><stop offset="0.1803" stop-color="#2c74b3"/><stop offset="0.1998" stop-color="#337eb8"/><stop offset="0.2222" stop-color="#4a97c5"/><stop offset="0.2417" stop-color="#79b5d5"/><stop offset="0.2612" stop-color="#8dc2dc"/><stop offset="0.2724" stop-color="#8ac0db"/><stop offset="0.2891" stop-color="#7ab6d6"/><stop offset="0.3031" stop-color="#85bdda"/><stop offset="0.3171" stop-color="#95c7df"/><stop offset="0.3896" stop-color="#8ec2dd"/><stop offset="0.4315" stop-color="#91c5de"/><stop offset="0.4817" stop-color="#b5d7e8"/><stop offset="0.5180" stop-color="#d9e9f1"/><stop offset="0.5599" stop-color="#f7f7f6"/><stop offset="0.6185" stop-color="#fbd2bb"/><stop offset="0.6631" stop-color="#f8bb9e"/><stop offset="0.7050" stop-color="#f6b394"/><stop offset="0.7385" stop-color="#f8bda1"/><stop offset="0.7999" stop-color="#fbe4d7"/><stop offset="0.8250" stop-color="#f7f7f7"/><stop offset="0.8613" stop-color="#c6dfed"/><stop offset="0.8836" stop-color="#a9d1e5"/><stop offset="0.9701" stop-color="#98c8e0"/><stop offset="0.9980" stop-color="#96c7df"/></radialGradient><radialGradient id="g205" gradientUnits="userSpaceOnUse" cx="512.6" cy="511.5" r="358.3"><stop offset="0.1273" stop-color="#2166ac"/><stop offset="0.1552" stop-color="#266daf"/><stop offset="0.1663" stop-color="#4292c3"/><stop offset="0.1719" stop-color="#3d8bbf"/><stop offset="0.1803" stop-color="#2c74b3"/><stop offset="0.1998" stop-color="#337eb8"/><stop offset="0.2194" stop-color="#4594c4"/><stop offset="0.2417" stop-color="#7ab5d6"/><stop offset="0.2612" stop-color="#8ec2dc"/><stop offset="0.2752" stop-color="#88beda"/><stop offset="0.2891" stop-color="#7bb7d6"/><stop offset="0.3031" stop-color="#86bdda"/><stop offset="0.3171" stop-color="#96c7df"/><stop offset="0.3896" stop-color="#8ec3dd"/><stop offset="0.4315" stop-color="#92c5de"/><stop offset="0.4817" stop-color="#b5d7e8"/><stop offset="0.5180" stop-color="#d9e9f1"/><stop offset="0.5599" stop-color="#f7f7f6"/><stop offset="0.6157" stop-color="#fcd3bd"/><stop offset="0.6492" stop-color="#f8bfa4"/><stop offset="0.6966" stop-color="#f6b292"/><stop offset="0.7301" stop-color="#f7b799"/><stop offset="0.7776" stop-color="#fcd5bf"/><stop offset="0.8194" stop-color="#f8f1ec"/><stop offset="0.8278" stop-color="#f6f6f7"/><stop offset="0.8641" stop-color="#c5dfec"/><stop offset="0.8836" stop-color="#abd2e5"/><stop offset="0.9701" stop-color="#9ac9e0"/><stop offset="0.9980" stop-color="#98c8e0"/></radialGradient><radialGradient id="g206" gradientUnits="userSpaceOnUse" cx="512.6" cy="511.5" r="358.3"><stop offset="0.1273" stop-color="#2166ac"/><stop offset="0.1552" stop-color="#266daf"/><stop offset="0.1663" stop-color="#4292c3"/><stop offset="0.1719" stop-color="#3d8bbf"/><stop offset="0.1803" stop-color="#2c74b3"/><stop offset="0.1970" stop-color="#317cb7"/><stop offset="0.2194" stop-color="#4695c4"/><stop offset="0.2417" stop-color="#7ab6d6"/><stop offset="0.2612" stop-color="#8ec3dd"/><stop offset="0.2752" stop-color="#88bfdb"/><stop offset="0.2891" stop-color="#7cb7d6"/><stop offset="0.3031" stop-color="#87beda"/><stop offset="0.3171" stop-color="#96c7df"/><stop offset="0.3924" stop-color="#8fc3dd"/><stop offset="0.4315" stop-color="#93c5de"/><stop offset="0.4817" stop-color="#b6d7e8"/><stop offset="0.5180" stop-color="#d9e9f2"/><stop offset="0.5599" stop-color="#f7f6f6"/><stop offset="0.6157" stop-color="#fcd2bc"/><stop offset="0.6492" stop-color="#f8bea2"/><stop offset="0.6966" stop-color="#f6b091"/><stop offset="0.7301" stop-color="#f7b597"/><stop offset="0.7776" stop-color="#fcd3bc"/><stop offset="0.8222" stop-color="#f8f1ee"/><stop offset="0.8306" stop-color="#f5f6f7"/><stop offset="0.8641" stop-color="#c8e1ed"/><stop offset="0.8836" stop-color="#add3e6"/><stop offset="0.9701" stop-color="#9ccae1"/><stop offset="0.9980" stop-color="#9ac9e0"/></radialGradient><radialGradient id="g207" gradientUnits="userSpaceOnUse" cx="512.6" cy="511.5" r="358.3"><stop offset="0.1273" stop-color="#2166ac"/><stop offset="0.1552" stop-color="#266daf"/><stop offset="0.1663" stop-color="#4292c3"/><stop offset="0.1719" stop-color="#3d8bbf"/><stop offset="0.1803" stop-color="#2c74b3"/><stop offset="0.1970" stop-color="#327cb7"/><stop offset="0.2194" stop-color="#4796c5"/><stop offset="0.2417" stop-color="#7bb7d6"/><stop offset="0.2612" stop-color="#8fc3dd"/><stop offset="0.2752" stop-color="#89bfdb"/><stop offset="0.2891" stop-color="#7db8d7"/><stop offset="0.3031" stop-color="#88beda"/><stop offset="0.3198" stop-color="#98c8e0"/><stop offset="0.3840" stop-color="#90c4dd"/><stop offset="0.4315" stop-color="#93c6de"/><stop offset="0.4817" stop-color="#b7d8e8"/><stop offset="0.5180" stop-color="#d9e9f2"/><stop offset="0.5599" stop-color="#f7f6f6"/><stop offset="0.6129" stop-color="#fcd4be"/><stop offset="0.6408" stop-color="#f9c1a6"/><stop offset="0.6938" stop-color="#f6af8f"/><stop offset="0.7273" stop-color="#f6b293"/><stop offset="0.7720" stop-color="#fbccb4"/><stop offset="0.8194" stop-color="#f9eee7"/><stop offset="0.8306" stop-color="#f7f7f6"/><stop offset="0.8641" stop-color="#cce2ee"/><stop offset="0.8808" stop-color="#b1d5e7"/><stop offset="0.9478" stop-color="#a0cce2"/><stop offset="0.9980" stop-color="#9dcae1"/></radialGradient><radialGradient id="g208" gradientUnits="userSpaceOnUse" cx="512.6" cy="511.5" r="358.3"><stop offset="0.1273" stop-color="#2166ac"/><stop offset="0.1552" stop-color="#266daf"/><stop offset="0.1663" stop-color="#4292c3"/><stop offset="0.1719" stop-color="#3d8bbf"/><stop offset="0.1803" stop-color="#2c74b3"/><stop offset="0.1970" stop-color="#327cb7"/><stop offset="0.2194" stop-color="#4997c5"/><stop offset="0.2417" stop-color="#7cb7d7"/><stop offset="0.2612" stop-color="#90c4dd"/><stop offset="0.2752" stop-color="#8ac0db"/><stop offset="0.2891" stop-color="#7eb8d7"/><stop offset="0.3031" stop-color="#89bfdb"/><stop offset="0.3198" stop-color="#99c8e0"/><stop offset="0.3840" stop-color="#91c4de"/><stop offset="0.4315" stop-color="#94c6df"/><stop offset="0.4817" stop-color="#b7d8e9"/><stop offset="0.5180" stop-color="#dae9f2"/><stop offset="0.5599" stop-color="#f7f6f6"/><stop offset="0.6129" stop-color="#fcd3bd"/><stop offset="0.6408" stop-color="#f8c0a4"/><stop offset="0.6966" stop-color="#f5ae8d"/><stop offset="0.7301" stop-color="#f6b191"/><stop offset="0.7776" stop-color="#fbceb7"/><stop offset="0.8278" stop-color="#f8f3f0"/><stop offset="0.8362" stop-color="#f4f6f6"/><stop offset="0.8669" stop-color="#c9e1ee"/><stop offset="0.8836" stop-color="#b1d5e7"/><stop offset="0.9701" stop-color="#a0cce2"/><stop offset="0.9980" stop-color="#9fcbe2"/></radialGradient><radialGradient id="g209" gradientUnits="userSpaceOnUse" cx="512.6" cy="511.5" r="358.3"><stop offset="0.1273" stop-color="#2166ac"/><stop offset="0.1552" stop-color="#266daf"/><stop offset="0.1663" stop-color="#4292c3"/><stop offset="0.1719" stop-color="#3d8bbf"/><stop offset="0.1803" stop-color="#2c74b3"/><stop offset="0.1970" stop-color="#327cb7"/><stop offset="0.2194" stop-color="#4a97c5"/><stop offset="0.2417" stop-color="#7db8d7"/><stop offset="0.2612" stop-color="#91c4de"/><stop offset="0.2752" stop-color="#8bc1dc"/><stop offset="0.2891" stop-color="#7fb9d7"/><stop offset="0.3031" stop-color="#89c0db"/><stop offset="0.3198" stop-color="#99c9e0"/><stop offset="0.3868" stop-color="#92c5de"/><stop offset="0.4315" stop-color="#95c6df"/><stop offset="0.4817" stop-color="#b8d8e9"/><stop offset="0.5208" stop-color="#dceaf2"/><stop offset="0.5599" stop-color="#f7f6f6"/><stop offset="0.6101" stop-color="#fcd5c0"/><stop offset="0.6380" stop-color="#f8c0a4"/><stop offset="0.6966" stop-color="#f5ac8b"/><stop offset="0.7301" stop-color="#f6af8f"/><stop offset="0.7776" stop-color="#faccb4"/><stop offset="0.8222" stop-color="#f9ede6"/><stop offset="0.8362" stop-color="#f7f7f7"/><stop offset="0.8669" stop-color="#cde3ef"/><stop offset="0.8836" stop-color="#b3d6e7"/><stop offset="0.9701" stop-color="#a2cde3"/><stop offset="0.9980" stop-color="#a1cce2"/></radialGradient><radialGradient id="g210" gradientUnits="userSpaceOnUse" cx="512.6" cy="511.5" r="358.3"><stop offset="0.1273" stop-color="#2166ac"/><stop offset="0.1552" stop-color="#266daf"/><stop offset="0.1663" stop-color="#4292c3"/><stop offset="0.1719" stop-color="#3d8bbf"/><stop offset="0.1803" stop-color="#2c74b3"/><stop offset="0.1970" stop-color="#327cb7"/><stop offset="0.2166" stop-color="#4594c4"/><stop offset="0.2417" stop-color="#7eb8d7"/><stop offset="0.2612" stop-color="#92c5de"/><stop offset="0.2752" stop-color="#8cc1dc"/><stop offset="0.2891" stop-color="#80b9d8"/><stop offset="0.3031" stop-color="#8ac0db"/><stop offset="0.3198" stop-color="#9ac9e0"/><stop offset="0.3868" stop-color="#92c5de"/><stop offset="0.4315" stop-color="#95c7df"/><stop offset="0.4845" stop-color="#bbdaea"/><stop offset="0.5180" stop-color="#dae9f2"/><stop offset="0.5599" stop-color="#f7f6f5"/><stop offset="0.6101" stop-color="#fcd5bf"/><stop offset="0.6380" stop-color="#f8bfa3"/><stop offset="0.6966" stop-color="#f5ab8a"/><stop offset="0.7301" stop-color="#f5ad8c"/><stop offset="0.7776" stop-color="#fac9b1"/><stop offset="0.8194" stop-color="#fae9df"/><stop offset="0.8390" stop-color="#f7f7f7"/><stop offset="0.8697" stop-color="#cbe2ee"/><stop offset="0.8836" stop-color="#b6d7e8"/><stop offset="0.9590" stop-color="#a5cee3"/><stop offset="0.9980" stop-color="#a2cde3"/></radialGradient><radialGradient id="g211" gradientUnits="userSpaceOnUse" cx="512.6" cy="511.5" r="358.3"><stop offset="0.1273" stop-color="#2166ac"/><stop offset="0.1552" stop-color="#266daf"/><stop offset="0.1663" stop-color="#4292c3"/><stop offset="0.1719" stop-color="#3d8bbf"/><stop offset="0.1803" stop-color="#2c74b3"/><stop offset="0.1970" stop-color="#327db8"/><stop offset="0.2166" stop-color="#4795c4"/><stop offset="0.2417" stop-color="#7fb9d8"/><stop offset="0.2612" stop-color="#93c5de"/><stop offset="0.2752" stop-color="#8dc2dc"/><stop offset="0.2919" stop-color="#81bad8"/><stop offset="0.3198" stop-color="#9bc9e0"/><stop offset="0.3868" stop-color="#93c6de"/><stop offset="0.4315" stop-color="#96c7df"/><stop offset="0.4845" stop-color="#bddbea"/><stop offset="0.5180" stop-color="#dbeaf2"/><stop offset="0.5599" stop-color="#f7f6f5"/><stop offset="0.6101" stop-color="#fcd5bf"/><stop offset="0.6380" stop-color="#f8bfa3"/><stop offset="0.6966" stop-color="#f5aa89"/><stop offset="0.7301" stop-color="#f5ac8a"/><stop offset="0.7748" stop-color="#f9c5ab"/><stop offset="0.8166" stop-color="#fbe5d9"/><stop offset="0.8418" stop-color="#f6f7f7"/><stop offset="0.8864" stop-color="#b9d9e9"/><stop offset="0.9506" stop-color="#a7d0e4"/><stop offset="0.9980" stop-color="#a3cee3"/></radialGradient><radialGradient id="g212" gradientUnits="userSpaceOnUse" cx="512.6" cy="511.5" r="358.3"><stop offset="0.1273" stop-color="#2166ac"/><stop offset="0.1552" stop-color="#266daf"/><stop offset="0.1663" stop-color="#4292c3"/><stop offset="0.1719" stop-color="#3d8bbf"/><stop offset="0.1803" stop-color="#2c74b3"/><stop offset="0.1970" stop-color="#327db8"/><stop offset="0.2166" stop-color="#4896c5"/><stop offset="0.2417" stop-color="#81bad8"/><stop offset="0.2612" stop-color="#93c6de"/><stop offset="0.2752" stop-color="#8ec3dd"/><stop offset="0.2919" stop-color="#82bbd9"/><stop offset="0.3198" stop-color="#9bcae1"/><stop offset="0.3868" stop-color="#94c6df"/><stop offset="0.4315" stop-color="#97c8e0"/><stop offset="0.4845" stop-color="#bedbeb"/><stop offset="0.5208" stop-color="#ddebf2"/><stop offset="0.5599" stop-color="#f7f5f4"/><stop offset="0.6101" stop-color="#fcd5bf"/><stop offset="0.6380" stop-color="#f8bfa3"/><stop offset="0.6966" stop-color="#f5a988"/><stop offset="0.7301" stop-color="#f5aa89"/><stop offset="0.7748" stop-color="#f9c3a8"/><stop offset="0.8194" stop-color="#fbe6d9"/><stop offset="0.8445" stop-color="#f5f6f7"/><stop offset="0.8864" stop-color="#bedbeb"/><stop offset="0.9422" stop-color="#aad1e5"/><stop offset="0.9980" stop-color="#a3cee3"/></radialGradient><radialGradient id="g213" gradientUnits="userSpaceOnUse" cx="512.6" cy="511.5" r="358.3"><stop offset="0.1273" stop-color="#2166ac"/><stop offset="0.1552" stop-color="#266daf"/><stop offset="0.1663" stop-color="#4292c3"/><stop offset="0.1719" stop-color="#3d8bbf"/><stop offset="0.1803" stop-color="#2c74b3"/><stop offset="0.1970" stop-color="#337db8"/><stop offset="0.2138" stop-color="#4393c3"/><stop offset="0.2417" stop-color="#82bbd8"/><stop offset="0.2612" stop-color="#94c6df"/><stop offset="0.2752" stop-color="#8fc3dd"/><stop offset="0.2919" stop-color="#83bcd9"/><stop offset="0.3198" stop-color="#9ccae1"/><stop offset="0.3868" stop-color="#95c6df"/><stop offset="0.4315" stop-color="#98c8e0"/><stop offset="0.4845" stop-color="#bfdceb"/><stop offset="0.5180" stop-color="#dceaf2"/><stop offset="0.5571" stop-color="#f7f7f6"/><stop offset="0.6101" stop-color="#fcd4bf"/><stop offset="0.6380" stop-color="#f8bfa3"/><stop offset="0.6994" stop-color="#f5a886"/><stop offset="0.7329" stop-color="#f5a988"/><stop offset="0.7804" stop-color="#f9c4aa"/><stop offset="0.8222" stop-color="#fbe6d9"/><stop offset="0.8473" stop-color="#f4f6f7"/><stop offset="0.8892" stop-color="#c1ddeb"/><stop offset="0.9366" stop-color="#acd2e5"/><stop offset="0.9980" stop-color="#a4cee3"/></radialGradient><radialGradient id="g214" gradientUnits="userSpaceOnUse" cx="512.6" cy="511.5" r="358.3"><stop offset="0.1273" stop-color="#2166ac"/><stop offset="0.1552" stop-color="#266daf"/><stop offset="0.1663" stop-color="#4292c3"/><stop offset="0.1719" stop-color="#3d8bbf"/><stop offset="0.1803" stop-color="#2c74b3"/><stop offset="0.1970" stop-color="#337eb8"/><stop offset="0.2138" stop-color="#4594c4"/><stop offset="0.2417" stop-color="#83bbd9"/><stop offset="0.2612" stop-color="#95c7df"/><stop offset="0.2752" stop-color="#90c4dd"/><stop offset="0.2919" stop-color="#85bdd9"/><stop offset="0.3198" stop-color="#9dcbe1"/><stop offset="0.3868" stop-color="#96c7df"/><stop offset="0.4315" stop-color="#99c9e0"/><stop offset="0.4845" stop-color="#c0dceb"/><stop offset="0.5180" stop-color="#ddebf2"/><stop offset="0.5571" stop-color="#f7f6f6"/><stop offset="0.6101" stop-color="#fcd4bf"/><stop offset="0.6380" stop-color="#f8bfa3"/><stop offset="0.6994" stop-color="#f4a785"/><stop offset="0.7329" stop-color="#f4a886"/><stop offset="0.7776" stop-color="#f8c0a4"/><stop offset="0.8222" stop-color="#fbe4d6"/><stop offset="0.8473" stop-color="#f7f7f7"/><stop offset="0.8892" stop-color="#c6dfed"/><stop offset="0.9311" stop-color="#afd4e6"/><stop offset="0.9980" stop-color="#a5cfe3"/></radialGradient><radialGradient id="g215" gradientUnits="userSpaceOnUse" cx="512.6" cy="511.5" r="358.3"><stop offset="0.1273" stop-color="#2166ac"/><stop offset="0.1552" stop-color="#266daf"/><stop offset="0.1663" stop-color="#4292c3"/><stop offset="0.1719" stop-color="#3d8bbf"/><stop offset="0.1803" stop-color="#2c74b3"/><stop offset="0.1970" stop-color="#337eb8"/><stop offset="0.2138" stop-color="#4695c4"/><stop offset="0.2417" stop-color="#84bcd9"/><stop offset="0.2612" stop-color="#96c7df"/><stop offset="0.2752" stop-color="#91c5de"/><stop offset="0.2919" stop-color="#86bdda"/><stop offset="0.3198" stop-color="#9ecbe1"/><stop offset="0.3896" stop-color="#97c7df"/><stop offset="0.4315" stop-color="#9ac9e0"/><stop offset="0.4845" stop-color="#c1ddec"/><stop offset="0.5236" stop-color="#e1edf3"/><stop offset="0.5571" stop-color="#f7f6f5"/><stop offset="0.6101" stop-color="#fcd4be"/><stop offset="0.6408" stop-color="#f8bda1"/><stop offset="0.7022" stop-color="#f4a683"/><stop offset="0.7357" stop-color="#f4a785"/><stop offset="0.7831" stop-color="#f9c1a6"/><stop offset="0.8250" stop-color="#fbe4d6"/><stop offset="0.8501" stop-color="#f6f7f7"/><stop offset="0.8864" stop-color="#cde3ef"/><stop offset="0.9283" stop-color="#b2d5e7"/><stop offset="0.9980" stop-color="#a5cfe4"/></radialGradient><radialGradient id="g216" gradientUnits="userSpaceOnUse" cx="512.6" cy="511.5" r="358.3"><stop offset="0.1273" stop-color="#2166ac"/><stop offset="0.1552" stop-color="#266daf"/><stop offset="0.1663" stop-color="#4292c3"/><stop offset="0.1719" stop-color="#3d8bbf"/><stop offset="0.1803" stop-color="#2c74b3"/><stop offset="0.1943" stop-color="#317bb7"/><stop offset="0.2138" stop-color="#4796c4"/><stop offset="0.2417" stop-color="#85bdda"/><stop offset="0.2612" stop-color="#97c7df"/><stop offset="0.2752" stop-color="#92c5de"/><stop offset="0.2919" stop-color="#87beda"/><stop offset="0.3198" stop-color="#9fcbe2"/><stop offset="0.3896" stop-color="#97c8e0"/><stop offset="0.4315" stop-color="#9bcae1"/><stop offset="0.4873" stop-color="#c5dfed"/><stop offset="0.5375" stop-color="#ebf1f5"/><stop offset="0.5571" stop-color="#f7f6f5"/><stop offset="0.6101" stop-color="#fcd4be"/><stop offset="0.6408" stop-color="#f8bda0"/><stop offset="0.7022" stop-color="#f4a582"/><stop offset="0.7357" stop-color="#f4a683"/><stop offset="0.7804" stop-color="#f8bda1"/><stop offset="0.8278" stop-color="#fbe4d6"/><stop offset="0.8529" stop-color="#f5f6f7"/><stop offset="0.8836" stop-color="#d3e6f0"/><stop offset="0.9283" stop-color="#b3d6e8"/><stop offset="0.9980" stop-color="#a6cfe4"/></radialGradient><radialGradient id="g217" gradientUnits="userSpaceOnUse" cx="512.6" cy="511.5" r="358.3"><stop offset="0.1273" stop-color="#2166ac"/><stop offset="0.1552" stop-color="#266daf"/><stop offset="0.1663" stop-color="#4292c3"/><stop offset="0.1719" stop-color="#3d8bbf"/><stop offset="0.1803" stop-color="#2c74b3"/><stop offset="0.1943" stop-color="#317bb7"/><stop offset="0.2138" stop-color="#4997c5"/><stop offset="0.2417" stop-color="#86beda"/><stop offset="0.2612" stop-color="#98c8e0"/><stop offset="0.2780" stop-color="#91c4de"/><stop offset="0.2919" stop-color="#88bfdb"/><stop offset="0.3198" stop-color="#9fcce2"/><stop offset="0.3896" stop-color="#98c8e0"/><stop offset="0.4315" stop-color="#9ccae1"/><stop offset="0.4873" stop-color="#c6e0ed"/><stop offset="0.5543" stop-color="#f7f7f7"/><stop offset="0.6101" stop-color="#fcd4be"/><stop offset="0.6408" stop-color="#f8bda0"/><stop offset="0.6994" stop-color="#f4a481"/><stop offset="0.7329" stop-color="#f3a380"/><stop offset="0.7720" stop-color="#f7b596"/><stop offset="0.8111" stop-color="#fcd5bf"/><stop offset="0.8557" stop-color="#f4f6f7"/><stop offset="0.8864" stop-color="#d4e7f1"/><stop offset="0.9283" stop-color="#b5d7e8"/><stop offset="0.9980" stop-color="#a7d0e4"/></radialGradient><radialGradient id="g218" gradientUnits="userSpaceOnUse" cx="512.6" cy="511.5" r="358.3"><stop offset="0.1273" stop-color="#2166ac"/><stop offset="0.1552" stop-color="#266daf"/><stop offset="0.1663" stop-color="#4292c3"/><stop offset="0.1719" stop-color="#3d8bbf"/><stop offset="0.1803" stop-color="#2c74b3"/><stop offset="0.1943" stop-color="#317bb7"/><stop offset="0.2110" stop-color="#4393c3"/><stop offset="0.2417" stop-color="#88beda"/><stop offset="0.2612" stop-color="#99c8e0"/><stop offset="0.2780" stop-color="#92c5de"/><stop offset="0.2919" stop-color="#89bfdb"/><stop offset="0.3198" stop-color="#a0cce2"/><stop offset="0.3896" stop-color="#99c9e0"/><stop offset="0.4315" stop-color="#9dcbe1"/><stop offset="0.4873" stop-color="#c8e0ed"/><stop offset="0.5543" stop-color="#f7f7f6"/><stop offset="0.6101" stop-color="#fcd4be"/><stop offset="0.6408" stop-color="#f8bca0"/><stop offset="0.6994" stop-color="#f3a381"/><stop offset="0.7357" stop-color="#f2a17f"/><stop offset="0.7748" stop-color="#f7b496"/><stop offset="0.8166" stop-color="#fcd7c2"/><stop offset="0.8557" stop-color="#f7f7f7"/><stop offset="0.8892" stop-color="#d5e7f1"/><stop offset="0.9283" stop-color="#b7d8e8"/><stop offset="0.9980" stop-color="#a7d0e4"/></radialGradient><radialGradient id="g219" gradientUnits="userSpaceOnUse" cx="512.6" cy="511.5" r="358.3"><stop offset="0.1273" stop-color="#2166ac"/><stop offset="0.1552" stop-color="#266daf"/><stop offset="0.1663" stop-color="#4292c3"/><stop offset="0.1719" stop-color="#3d8bbf"/><stop offset="0.1803" stop-color="#2c74b3"/><stop offset="0.1943" stop-color="#317cb7"/><stop offset="0.2110" stop-color="#4494c3"/><stop offset="0.2417" stop-color="#89bfdb"/><stop offset="0.2612" stop-color="#99c9e0"/><stop offset="0.2780" stop-color="#93c5de"/><stop offset="0.2919" stop-color="#8ac0db"/><stop offset="0.3198" stop-color="#a1cde2"/><stop offset="0.3896" stop-color="#9ac9e0"/><stop offset="0.4315" stop-color="#9ecbe1"/><stop offset="0.4873" stop-color="#c9e1ee"/><stop offset="0.5543" stop-color="#f7f6f6"/><stop offset="0.6101" stop-color="#fcd4be"/><stop offset="0.6436" stop-color="#f8bb9e"/><stop offset="0.6994" stop-color="#f3a280"/><stop offset="0.7357" stop-color="#f29f7e"/><stop offset="0.7692" stop-color="#f6af8e"/><stop offset="0.8111" stop-color="#fbcfb7"/><stop offset="0.8557" stop-color="#f7f5f3"/><stop offset="0.8641" stop-color="#f0f4f6"/><stop offset="0.9283" stop-color="#b8d9e9"/><stop offset="0.9980" stop-color="#a8d0e4"/></radialGradient><radialGradient id="g220" gradientUnits="userSpaceOnUse" cx="512.6" cy="511.5" r="358.3"><stop offset="0.1273" stop-color="#2166ac"/><stop offset="0.1552" stop-color="#266daf"/><stop offset="0.1663" stop-color="#4292c3"/><stop offset="0.1719" stop-color="#3d8bbf"/><stop offset="0.1803" stop-color="#2c74b3"/><stop offset="0.1943" stop-color="#317cb7"/><stop offset="0.2110" stop-color="#4594c4"/><stop offset="0.2389" stop-color="#86bdda"/><stop offset="0.2584" stop-color="#99c9e0"/><stop offset="0.2724" stop-color="#98c8e0"/><stop offset="0.2919" stop-color="#8cc1dc"/><stop offset="0.3198" stop-color="#a2cde3"/><stop offset="0.3896" stop-color="#9bc9e1"/><stop offset="0.4315" stop-color="#9fcbe2"/><stop offset="0.4901" stop-color="#cde3ef"/><stop offset="0.5543" stop-color="#f7f6f6"/><stop offset="0.6101" stop-color="#fcd4be"/><stop offset="0.6436" stop-color="#f8bb9e"/><stop offset="0.6994" stop-color="#f2a17f"/><stop offset="0.7357" stop-color="#f19d7c"/><stop offset="0.7692" stop-color="#f5ac8b"/><stop offset="0.8138" stop-color="#fbceb6"/><stop offset="0.8585" stop-color="#f7f5f4"/><stop offset="0.8808" stop-color="#e2edf3"/><stop offset="0.9311" stop-color="#b9d9e9"/><stop offset="0.9980" stop-color="#a9d1e5"/></radialGradient><radialGradient id="g221" gradientUnits="userSpaceOnUse" cx="512.6" cy="511.5" r="358.3"><stop offset="0.1273" stop-color="#2166ac"/><stop offset="0.1552" stop-color="#266daf"/><stop offset="0.1663" stop-color="#4292c3"/><stop offset="0.1719" stop-color="#3d8bbf"/><stop offset="0.1803" stop-color="#2c74b3"/><stop offset="0.1943" stop-color="#327cb7"/><stop offset="0.2110" stop-color="#4695c4"/><stop offset="0.2389" stop-color="#87beda"/><stop offset="0.2584" stop-color="#9ac9e0"/><stop offset="0.2724" stop-color="#99c8e0"/><stop offset="0.2919" stop-color="#8dc2dc"/><stop offset="0.3198" stop-color="#a3cde3"/><stop offset="0.3896" stop-color="#9ccae1"/><stop offset="0.4315" stop-color="#a0cce2"/><stop offset="0.4901" stop-color="#cee3ef"/><stop offset="0.5543" stop-color="#f7f6f5"/><stop offset="0.6101" stop-color="#fcd4be"/><stop offset="0.6436" stop-color="#f8ba9d"/><stop offset="0.6994" stop-color="#f2a07e"/><stop offset="0.7357" stop-color="#f09b7b"/><stop offset="0.7720" stop-color="#f5ac8a"/><stop offset="0.8194" stop-color="#fbd0b9"/><stop offset="0.8641" stop-color="#f6f6f7"/><stop offset="0.9283" stop-color="#bcdaea"/><stop offset="0.9980" stop-color="#a9d1e5"/></radialGradient><radialGradient id="g222" gradientUnits="userSpaceOnUse" cx="512.6" cy="511.5" r="358.3"><stop offset="0.1273" stop-color="#2166ac"/><stop offset="0.1552" stop-color="#266daf"/><stop offset="0.1663" stop-color="#4292c3"/><stop offset="0.1719" stop-color="#3d8bbf"/><stop offset="0.1803" stop-color="#2c74b3"/><stop offset="0.1943" stop-color="#327cb7"/><stop offset="0.2110" stop-color="#4896c5"/><stop offset="0.2389" stop-color="#88bfdb"/><stop offset="0.2584" stop-color="#9bc9e1"/><stop offset="0.2724" stop-color="#9ac9e0"/><stop offset="0.2919" stop-color="#8ec2dd"/><stop offset="0.3198" stop-color="#a3cee3"/><stop offset="0.3924" stop-color="#9ccae1"/><stop offset="0.4315" stop-color="#a1cce2"/><stop offset="0.5180" stop-color="#e1edf3"/><stop offset="0.5543" stop-color="#f7f6f5"/><stop offset="0.6101" stop-color="#fcd4be"/><stop offset="0.6436" stop-color="#f8ba9d"/><stop offset="0.6994" stop-color="#f19e7d"/><stop offset="0.7357" stop-color="#ef9979"/><stop offset="0.7720" stop-color="#f5a987"/><stop offset="0.8194" stop-color="#fbccb4"/><stop offset="0.8585" stop-color="#f8f1ed"/><stop offset="0.8669" stop-color="#f6f6f7"/><stop offset="0.9283" stop-color="#bedbea"/><stop offset="0.9953" stop-color="#aad1e5"/><stop offset="0.9980" stop-color="#aad1e5"/></radialGradient><radialGradient id="g223" gradientUnits="userSpaceOnUse" cx="512.6" cy="511.5" r="358.3"><stop offset="0.1273" stop-color="#2166ac"/><stop offset="0.1552" stop-color="#266daf"/><stop offset="0.1663" stop-color="#4292c3"/><stop offset="0.1719" stop-color="#3d8bbf"/><stop offset="0.1803" stop-color="#2c74b3"/><stop offset="0.1943" stop-color="#327cb7"/><stop offset="0.2110" stop-color="#4997c5"/><stop offset="0.2389" stop-color="#89c0db"/><stop offset="0.2612" stop-color="#9dcae1"/><stop offset="0.2780" stop-color="#96c7df"/><stop offset="0.2919" stop-color="#8fc3dd"/><stop offset="0.3198" stop-color="#a4cee3"/><stop offset="0.3924" stop-color="#9dcbe1"/><stop offset="0.4315" stop-color="#a2cde2"/><stop offset="0.5152" stop-color="#e0ecf3"/><stop offset="0.5543" stop-color="#f7f5f4"/><stop offset="0.6101" stop-color="#fcd4be"/><stop offset="0.6464" stop-color="#f7b89b"/><stop offset="0.6994" stop-color="#f19d7c"/><stop offset="0.7357" stop-color="#ee9777"/><stop offset="0.7748" stop-color="#f5a986"/><stop offset="0.8222" stop-color="#faccb4"/><stop offset="0.8529" stop-color="#faeae1"/><stop offset="0.8697" stop-color="#f6f7f7"/><stop offset="0.9311" stop-color="#bedbeb"/><stop offset="0.9980" stop-color="#abd2e5"/></radialGradient><radialGradient id="g224" gradientUnits="userSpaceOnUse" cx="512.6" cy="511.5" r="358.3"><stop offset="0.1273" stop-color="#2166ac"/><stop offset="0.1552" stop-color="#266daf"/><stop offset="0.1663" stop-color="#4292c3"/><stop offset="0.1719" stop-color="#3d8bbf"/><stop offset="0.1803" stop-color="#2c74b3"/><stop offset="0.1943" stop-color="#327db8"/><stop offset="0.2082" stop-color="#4392c3"/><stop offset="0.2361" stop-color="#86bdda"/><stop offset="0.2529" stop-color="#99c9e0"/><stop offset="0.2696" stop-color="#9dcbe1"/><stop offset="0.2919" stop-color="#90c4dd"/><stop offset="0.3198" stop-color="#a5cfe3"/><stop offset="0.3924" stop-color="#9ecbe1"/><stop offset="0.4315" stop-color="#a2cde3"/><stop offset="0.5124" stop-color="#dfecf3"/><stop offset="0.5515" stop-color="#f7f6f6"/><stop offset="0.6101" stop-color="#fcd4be"/><stop offset="0.6464" stop-color="#f7b89b"/><stop offset="0.6966" stop-color="#f19d7c"/><stop offset="0.7357" stop-color="#ed9576"/><stop offset="0.7776" stop-color="#f4a885"/><stop offset="0.8250" stop-color="#facbb3"/><stop offset="0.8501" stop-color="#fbe6d9"/><stop offset="0.8725" stop-color="#f6f7f7"/><stop offset="0.9311" stop-color="#c0dceb"/><stop offset="0.9953" stop-color="#acd2e5"/><stop offset="0.9980" stop-color="#abd2e5"/></radialGradient><radialGradient id="g225" gradientUnits="userSpaceOnUse" cx="512.6" cy="511.5" r="358.3"><stop offset="0.1273" stop-color="#2166ac"/><stop offset="0.1552" stop-color="#266daf"/><stop offset="0.1663" stop-color="#4292c3"/><stop offset="0.1719" stop-color="#3d8bbf"/><stop offset="0.1803" stop-color="#2c74b3"/><stop offset="0.1943" stop-color="#327db8"/><stop offset="0.2082" stop-color="#4393c3"/><stop offset="0.2305" stop-color="#7bb6d6"/><stop offset="0.2445" stop-color="#93c5de"/><stop offset="0.2668" stop-color="#9fcce2"/><stop offset="0.2919" stop-color="#92c5de"/><stop offset="0.3198" stop-color="#a6cfe4"/><stop offset="0.3924" stop-color="#9fcce2"/><stop offset="0.4287" stop-color="#a2cde3"/><stop offset="0.5124" stop-color="#e0ecf3"/><stop offset="0.5515" stop-color="#f7f6f5"/><stop offset="0.6073" stop-color="#fcd6c0"/><stop offset="0.6436" stop-color="#f7b99c"/><stop offset="0.6966" stop-color="#f09c7b"/><stop offset="0.7357" stop-color="#ec9374"/><stop offset="0.7748" stop-color="#f3a380"/><stop offset="0.8250" stop-color="#fac6ad"/><stop offset="0.8501" stop-color="#fbe2d4"/><stop offset="0.8780" stop-color="#f6f7f7"/><stop offset="0.9311" stop-color="#c6dfed"/><stop offset="0.9925" stop-color="#afd4e6"/><stop offset="0.9980" stop-color="#afd4e6"/></radialGradient><radialGradient id="g226" gradientUnits="userSpaceOnUse" cx="512.6" cy="511.5" r="358.3"><stop offset="0.1273" stop-color="#2166ac"/><stop offset="0.1552" stop-color="#266daf"/><stop offset="0.1663" stop-color="#4292c3"/><stop offset="0.1719" stop-color="#3d8bbf"/><stop offset="0.1803" stop-color="#2c74b3"/><stop offset="0.1943" stop-color="#327db8"/><stop offset="0.2082" stop-color="#4494c3"/><stop offset="0.2305" stop-color="#7cb7d7"/><stop offset="0.2445" stop-color="#94c6df"/><stop offset="0.2668" stop-color="#a0cce2"/><stop offset="0.2919" stop-color="#93c5de"/><stop offset="0.3198" stop-color="#a7cfe4"/><stop offset="0.3924" stop-color="#a0cce2"/><stop offset="0.4287" stop-color="#a3cee3"/><stop offset="0.5068" stop-color="#ddebf2"/><stop offset="0.5515" stop-color="#f7f6f5"/><stop offset="0.6073" stop-color="#fcd5bf"/><stop offset="0.6436" stop-color="#f7b89a"/><stop offset="0.6938" stop-color="#f09c7b"/><stop offset="0.7329" stop-color="#eb9072"/><stop offset="0.7720" stop-color="#f19d7c"/><stop offset="0.8194" stop-color="#f8bb9e"/><stop offset="0.8557" stop-color="#fce2d3"/><stop offset="0.8864" stop-color="#f5f6f7"/><stop offset="0.9255" stop-color="#d4e6f0"/><stop offset="0.9869" stop-color="#b6d7e8"/><stop offset="0.9980" stop-color="#b4d6e8"/></radialGradient><radialGradient id="g227" gradientUnits="userSpaceOnUse" cx="512.6" cy="511.5" r="358.3"><stop offset="0.1273" stop-color="#2166ac"/><stop offset="0.1552" stop-color="#266daf"/><stop offset="0.1663" stop-color="#4292c3"/><stop offset="0.1719" stop-color="#3d8bbf"/><stop offset="0.1803" stop-color="#2c74b3"/><stop offset="0.1943" stop-color="#337db8"/><stop offset="0.2082" stop-color="#4594c4"/><stop offset="0.2277" stop-color="#77b4d5"/><stop offset="0.2417" stop-color="#92c5de"/><stop offset="0.2640" stop-color="#a1cce2"/><stop offset="0.2919" stop-color="#94c6de"/><stop offset="0.3226" stop-color="#a7d0e4"/><stop offset="0.3896" stop-color="#a1cce2"/><stop offset="0.4287" stop-color="#a4cee3"/><stop offset="0.5068" stop-color="#ddebf2"/><stop offset="0.5515" stop-color="#f7f5f4"/><stop offset="0.6073" stop-color="#fcd4be"/><stop offset="0.6436" stop-color="#f7b799"/><stop offset="0.6938" stop-color="#ef9a7a"/><stop offset="0.7329" stop-color="#ea8e70"/><stop offset="0.7748" stop-color="#f09b7a"/><stop offset="0.8194" stop-color="#f7b597"/><stop offset="0.8473" stop-color="#fcd3bd"/><stop offset="0.8808" stop-color="#f9efea"/><stop offset="0.8920" stop-color="#f6f7f7"/><stop offset="0.9311" stop-color="#d8e8f1"/><stop offset="0.9953" stop-color="#bad9e9"/><stop offset="0.9980" stop-color="#b9d9e9"/></radialGradient><radialGradient id="g228" gradientUnits="userSpaceOnUse" cx="512.6" cy="511.5" r="358.3"><stop offset="0.1273" stop-color="#2166ac"/><stop offset="0.1552" stop-color="#266daf"/><stop offset="0.1663" stop-color="#4292c3"/><stop offset="0.1719" stop-color="#3d8bbf"/><stop offset="0.1803" stop-color="#2c74b3"/><stop offset="0.1943" stop-color="#337db8"/><stop offset="0.2082" stop-color="#4695c4"/><stop offset="0.2250" stop-color="#72b1d3"/><stop offset="0.2417" stop-color="#93c6de"/><stop offset="0.2640" stop-color="#a1cde2"/><stop offset="0.2919" stop-color="#94c6df"/><stop offset="0.3226" stop-color="#a8d0e4"/><stop offset="0.3896" stop-color="#a2cde2"/><stop offset="0.4287" stop-color="#a5cfe3"/><stop offset="0.5013" stop-color="#dbeaf2"/><stop offset="0.5487" stop-color="#f7f6f6"/><stop offset="0.6045" stop-color="#fcd6c0"/><stop offset="0.6408" stop-color="#f7b79a"/><stop offset="0.6938" stop-color="#ee9878"/><stop offset="0.7357" stop-color="#e98c6f"/><stop offset="0.7804" stop-color="#ef9a79"/><stop offset="0.8222" stop-color="#f6b292"/><stop offset="0.8501" stop-color="#fbcdb6"/><stop offset="0.8697" stop-color="#fbe2d3"/><stop offset="0.9004" stop-color="#f5f6f7"/><stop offset="0.9422" stop-color="#d9e9f2"/><stop offset="0.9980" stop-color="#bfdceb"/></radialGradient><radialGradient id="g229" gradientUnits="userSpaceOnUse" cx="512.6" cy="511.5" r="358.3"><stop offset="0.1273" stop-color="#2166ac"/><stop offset="0.1552" stop-color="#266daf"/><stop offset="0.1663" stop-color="#4292c3"/><stop offset="0.1719" stop-color="#3d8bbf"/><stop offset="0.1803" stop-color="#2c74b3"/><stop offset="0.1915" stop-color="#307ab6"/><stop offset="0.2082" stop-color="#4896c5"/><stop offset="0.2250" stop-color="#74b2d4"/><stop offset="0.2417" stop-color="#94c6df"/><stop offset="0.2640" stop-color="#a2cde3"/><stop offset="0.2919" stop-color="#95c7df"/><stop offset="0.3226" stop-color="#a9d1e5"/><stop offset="0.3924" stop-color="#a2cde3"/><stop offset="0.4287" stop-color="#a6cfe4"/><stop offset="0.5013" stop-color="#dbeaf2"/><stop offset="0.5487" stop-color="#f7f6f5"/><stop offset="0.6045" stop-color="#fcd5bf"/><stop offset="0.6408" stop-color="#f7b698"/><stop offset="0.6910" stop-color="#ee9878"/><stop offset="0.7329" stop-color="#e88a6d"/><stop offset="0.7804" stop-color="#ed9576"/><stop offset="0.8250" stop-color="#f5ae8d"/><stop offset="0.8529" stop-color="#fac8ae"/><stop offset="0.8725" stop-color="#fcdfce"/><stop offset="0.9087" stop-color="#f5f6f7"/><stop offset="0.9869" stop-color="#c8e1ee"/><stop offset="0.9980" stop-color="#c4dfec"/></radialGradient><radialGradient id="g230" gradientUnits="userSpaceOnUse" cx="512.6" cy="511.5" r="358.3"><stop offset="0.1273" stop-color="#2166ac"/><stop offset="0.1552" stop-color="#266daf"/><stop offset="0.1663" stop-color="#4292c3"/><stop offset="0.1719" stop-color="#3d8bbf"/><stop offset="0.1803" stop-color="#2c74b3"/><stop offset="0.1915" stop-color="#307ab6"/><stop offset="0.2054" stop-color="#4291c2"/><stop offset="0.2250" stop-color="#75b3d4"/><stop offset="0.2417" stop-color="#95c7df"/><stop offset="0.2640" stop-color="#a3cee3"/><stop offset="0.2919" stop-color="#96c7df"/><stop offset="0.3226" stop-color="#aad1e5"/><stop offset="0.3924" stop-color="#a3cee3"/><stop offset="0.4287" stop-color="#a7d0e4"/><stop offset="0.4957" stop-color="#d9e9f1"/><stop offset="0.5487" stop-color="#f7f6f5"/><stop offset="0.6045" stop-color="#fcd4be"/><stop offset="0.6408" stop-color="#f7b597"/><stop offset="0.6910" stop-color="#ee9777"/><stop offset="0.7329" stop-color="#e7876b"/><stop offset="0.7831" stop-color="#ec9273"/><stop offset="0.8306" stop-color="#f5ab89"/><stop offset="0.8529" stop-color="#f8bea2"/><stop offset="0.8808" stop-color="#fce0cf"/><stop offset="0.9171" stop-color="#f6f7f7"/><stop offset="0.9813" stop-color="#d1e5f0"/><stop offset="0.9980" stop-color="#cae1ee"/></radialGradient><radialGradient id="g231" gradientUnits="userSpaceOnUse" cx="512.6" cy="511.5" r="358.3"><stop offset="0.1273" stop-color="#2166ac"/><stop offset="0.1552" stop-color="#266daf"/><stop offset="0.1663" stop-color="#4292c3"/><stop offset="0.1719" stop-color="#3d8bbf"/><stop offset="0.1803" stop-color="#2c74b3"/><stop offset="0.1915" stop-color="#307ab6"/><stop offset="0.2054" stop-color="#4292c2"/><stop offset="0.2222" stop-color="#71b0d3"/><stop offset="0.2389" stop-color="#93c6de"/><stop offset="0.2640" stop-color="#a4cee3"/><stop offset="0.2919" stop-color="#97c8e0"/><stop offset="0.3226" stop-color="#abd1e5"/><stop offset="0.3924" stop-color="#a4cee3"/><stop offset="0.4287" stop-color="#a8d0e4"/><stop offset="0.4957" stop-color="#dae9f2"/><stop offset="0.5487" stop-color="#f7f5f4"/><stop offset="0.6017" stop-color="#fcd6c1"/><stop offset="0.6408" stop-color="#f7b495"/><stop offset="0.6938" stop-color="#ec9374"/><stop offset="0.7357" stop-color="#e68569"/><stop offset="0.7915" stop-color="#eb9072"/><stop offset="0.8418" stop-color="#f5aa89"/><stop offset="0.8669" stop-color="#fac7ad"/><stop offset="0.8864" stop-color="#fcdfce"/><stop offset="0.9255" stop-color="#f7f7f7"/><stop offset="0.9813" stop-color="#d5e7f1"/><stop offset="0.9980" stop-color="#cfe4f0"/></radialGradient><radialGradient id="g232" gradientUnits="userSpaceOnUse" cx="512.6" cy="511.5" r="358.3"><stop offset="0.1273" stop-color="#2166ac"/><stop offset="0.1552" stop-color="#266daf"/><stop offset="0.1663" stop-color="#4292c3"/><stop offset="0.1719" stop-color="#3d8bbf"/><stop offset="0.1803" stop-color="#2c74b3"/><stop offset="0.1915" stop-color="#307ab6"/><stop offset="0.2054" stop-color="#4292c3"/><stop offset="0.2222" stop-color="#72b1d3"/><stop offset="0.2389" stop-color="#94c6df"/><stop offset="0.2640" stop-color="#a5cfe3"/><stop offset="0.2919" stop-color="#98c8e0"/><stop offset="0.3226" stop-color="#abd2e5"/><stop offset="0.3924" stop-color="#a5cfe3"/><stop offset="0.4287" stop-color="#a9d1e5"/><stop offset="0.4929" stop-color="#d9e9f1"/><stop offset="0.5459" stop-color="#f7f6f6"/><stop offset="0.6017" stop-color="#fcd5bf"/><stop offset="0.6408" stop-color="#f6b394"/><stop offset="0.6938" stop-color="#ec9173"/><stop offset="0.7357" stop-color="#e58368"/><stop offset="0.7971" stop-color="#ea8d70"/><stop offset="0.8473" stop-color="#f4a683"/><stop offset="0.8780" stop-color="#fbcdb5"/><stop offset="0.8948" stop-color="#fce0cf"/><stop offset="0.9366" stop-color="#f6f6f7"/><stop offset="0.9813" stop-color="#d9e9f1"/><stop offset="0.9980" stop-color="#d3e6f0"/></radialGradient><radialGradient id="g233" gradientUnits="userSpaceOnUse" cx="512.6" cy="511.5" r="358.3"><stop offset="0.1273" stop-color="#2166ac"/><stop offset="0.1552" stop-color="#266daf"/><stop offset="0.1663" stop-color="#4292c3"/><stop offset="0.1719" stop-color="#3d8bbf"/><stop offset="0.1803" stop-color="#2c74b3"/><stop offset="0.1915" stop-color="#307ab6"/><stop offset="0.2054" stop-color="#4392c3"/><stop offset="0.2222" stop-color="#73b1d3"/><stop offset="0.2389" stop-color="#95c6df"/><stop offset="0.2640" stop-color="#a5cfe4"/><stop offset="0.2919" stop-color="#99c8e0"/><stop offset="0.3226" stop-color="#acd2e5"/><stop offset="0.3896" stop-color="#a6cfe4"/><stop offset="0.4287" stop-color="#aad1e5"/><stop offset="0.4957" stop-color="#dae9f2"/><stop offset="0.5459" stop-color="#f7f6f5"/><stop offset="0.6017" stop-color="#fcd6c0"/><stop offset="0.6436" stop-color="#f6b292"/><stop offset="0.6938" stop-color="#eb9072"/><stop offset="0.7385" stop-color="#e37f65"/><stop offset="0.7971" stop-color="#e7876b"/><stop offset="0.8473" stop-color="#f19e7c"/><stop offset="0.8669" stop-color="#f6b495"/><stop offset="0.9004" stop-color="#fcdecb"/><stop offset="0.9422" stop-color="#f7f7f7"/><stop offset="0.9813" stop-color="#dceaf2"/><stop offset="0.9980" stop-color="#d5e7f1"/></radialGradient><radialGradient id="g234" gradientUnits="userSpaceOnUse" cx="512.6" cy="511.5" r="358.3"><stop offset="0.1273" stop-color="#2166ac"/><stop offset="0.1552" stop-color="#266daf"/><stop offset="0.1663" stop-color="#4292c3"/><stop offset="0.1719" stop-color="#3d8bbf"/><stop offset="0.1803" stop-color="#2c74b3"/><stop offset="0.1915" stop-color="#317bb6"/><stop offset="0.2054" stop-color="#4393c3"/><stop offset="0.2194" stop-color="#6eaed2"/><stop offset="0.2389" stop-color="#95c7df"/><stop offset="0.2640" stop-color="#a6cfe4"/><stop offset="0.2919" stop-color="#99c9e0"/><stop offset="0.3226" stop-color="#acd2e5"/><stop offset="0.3868" stop-color="#a6cfe4"/><stop offset="0.4287" stop-color="#acd2e5"/><stop offset="0.5040" stop-color="#dfecf3"/><stop offset="0.5459" stop-color="#f7f6f5"/><stop offset="0.6017" stop-color="#fcd6c1"/><stop offset="0.6464" stop-color="#f6b090"/><stop offset="0.6966" stop-color="#ea8e70"/><stop offset="0.7413" stop-color="#e27b62"/><stop offset="0.7999" stop-color="#e58267"/><stop offset="0.8473" stop-color="#ed9576"/><stop offset="0.8669" stop-color="#f5ab8a"/><stop offset="0.9087" stop-color="#fcddcb"/><stop offset="0.9478" stop-color="#f7f7f7"/><stop offset="0.9813" stop-color="#deebf2"/><stop offset="0.9980" stop-color="#d8e8f1"/></radialGradient><radialGradient id="g235" gradientUnits="userSpaceOnUse" cx="512.6" cy="511.5" r="358.3"><stop offset="0.1273" stop-color="#2166ac"/><stop offset="0.1552" stop-color="#266daf"/><stop offset="0.1663" stop-color="#4292c3"/><stop offset="0.1719" stop-color="#3d8bbf"/><stop offset="0.1803" stop-color="#2c74b3"/><stop offset="0.1915" stop-color="#317bb7"/><stop offset="0.2054" stop-color="#4393c3"/><stop offset="0.2194" stop-color="#6eaed2"/><stop offset="0.2389" stop-color="#95c7df"/><stop offset="0.2640" stop-color="#a6cfe4"/><stop offset="0.2919" stop-color="#9ac9e0"/><stop offset="0.3226" stop-color="#acd2e6"/><stop offset="0.3840" stop-color="#a7d0e4"/><stop offset="0.4315" stop-color="#afd4e6"/><stop offset="0.5264" stop-color="#edf2f5"/><stop offset="0.5459" stop-color="#f7f6f5"/><stop offset="0.6045" stop-color="#fcd4be"/><stop offset="0.6520" stop-color="#f5ad8c"/><stop offset="0.7162" stop-color="#e48166"/><stop offset="0.7580" stop-color="#df765e"/><stop offset="0.8362" stop-color="#e7876b"/><stop offset="0.8613" stop-color="#ef9a7a"/><stop offset="0.8864" stop-color="#f7ba9d"/><stop offset="0.9199" stop-color="#fcdfce"/><stop offset="0.9534" stop-color="#f6f6f7"/><stop offset="0.9869" stop-color="#deebf2"/><stop offset="0.9980" stop-color="#dae9f2"/></radialGradient><radialGradient id="g236" gradientUnits="userSpaceOnUse" cx="512.6" cy="511.5" r="358.3"><stop offset="0.1273" stop-color="#2166ac"/><stop offset="0.1552" stop-color="#266daf"/><stop offset="0.1663" stop-color="#4292c3"/><stop offset="0.1719" stop-color="#3d8bbf"/><stop offset="0.1803" stop-color="#2c74b3"/><stop offset="0.1915" stop-color="#317bb7"/><stop offset="0.2054" stop-color="#4493c3"/><stop offset="0.2194" stop-color="#6fafd2"/><stop offset="0.2389" stop-color="#96c7df"/><stop offset="0.2640" stop-color="#a7cfe4"/><stop offset="0.2919" stop-color="#9ac9e0"/><stop offset="0.3226" stop-color="#add3e6"/><stop offset="0.3840" stop-color="#a7d0e4"/><stop offset="0.4315" stop-color="#b0d4e7"/><stop offset="0.5431" stop-color="#f7f7f7"/><stop offset="0.6045" stop-color="#fcd5bf"/><stop offset="0.6575" stop-color="#f5a987"/><stop offset="0.7273" stop-color="#e17960"/><stop offset="0.7692" stop-color="#de715a"/><stop offset="0.8445" stop-color="#e58368"/><stop offset="0.8697" stop-color="#ef9a79"/><stop offset="0.9059" stop-color="#fac8ae"/><stop offset="0.9283" stop-color="#fce0cf"/><stop offset="0.9562" stop-color="#f7f7f7"/><stop offset="0.9897" stop-color="#e0ecf3"/><stop offset="0.9980" stop-color="#dceaf2"/></radialGradient><radialGradient id="g237" gradientUnits="userSpaceOnUse" cx="512.6" cy="511.5" r="358.3"><stop offset="0.1273" stop-color="#2166ac"/><stop offset="0.1552" stop-color="#266daf"/><stop offset="0.1663" stop-color="#4292c3"/><stop offset="0.1719" stop-color="#3d8bbf"/><stop offset="0.1803" stop-color="#2c74b3"/><stop offset="0.1915" stop-color="#317bb7"/><stop offset="0.2054" stop-color="#4494c3"/><stop offset="0.2194" stop-color="#70afd2"/><stop offset="0.2389" stop-color="#96c7df"/><stop offset="0.2640" stop-color="#a7d0e4"/><stop offset="0.2919" stop-color="#9bc9e0"/><stop offset="0.3226" stop-color="#add3e6"/><stop offset="0.3840" stop-color="#a8d0e4"/><stop offset="0.4343" stop-color="#b3d6e7"/><stop offset="0.5431" stop-color="#f7f7f6"/><stop offset="0.6045" stop-color="#fcd5c0"/><stop offset="0.6603" stop-color="#f4a784"/><stop offset="0.7301" stop-color="#df755d"/><stop offset="0.7692" stop-color="#db6c57"/><stop offset="0.8473" stop-color="#e27c62"/><stop offset="0.8725" stop-color="#ec9273"/><stop offset="0.8976" stop-color="#f6b394"/><stop offset="0.9366" stop-color="#fce1d2"/><stop offset="0.9590" stop-color="#f7f6f6"/><stop offset="0.9980" stop-color="#deebf2"/></radialGradient><radialGradient id="g238" gradientUnits="userSpaceOnUse" cx="512.6" cy="511.5" r="358.3"><stop offset="0.1273" stop-color="#2166ac"/><stop offset="0.1552" stop-color="#266daf"/><stop offset="0.1663" stop-color="#4292c3"/><stop offset="0.1719" stop-color="#3d8bbf"/><stop offset="0.1803" stop-color="#2c74b3"/><stop offset="0.1915" stop-color="#317bb7"/><stop offset="0.2054" stop-color="#4594c4"/><stop offset="0.2194" stop-color="#71b0d3"/><stop offset="0.2389" stop-color="#97c8df"/><stop offset="0.2640" stop-color="#a7d0e4"/><stop offset="0.2919" stop-color="#9bcae1"/><stop offset="0.3226" stop-color="#aed3e6"/><stop offset="0.3812" stop-color="#a8d0e4"/><stop offset="0.4426" stop-color="#b7d8e9"/><stop offset="0.5431" stop-color="#f7f7f6"/><stop offset="0.6045" stop-color="#fcd6c1"/><stop offset="0.6631" stop-color="#f4a482"/><stop offset="0.7329" stop-color="#dd7059"/><stop offset="0.7720" stop-color="#d96853"/><stop offset="0.8529" stop-color="#df755d"/><stop offset="0.8780" stop-color="#e98d6f"/><stop offset="0.9032" stop-color="#f6b090"/><stop offset="0.9422" stop-color="#fbe3d4"/><stop offset="0.9618" stop-color="#f7f6f5"/><stop offset="0.9980" stop-color="#e0ecf3"/></radialGradient><radialGradient id="g239" gradientUnits="userSpaceOnUse" cx="512.6" cy="511.5" r="358.3"><stop offset="0.1273" stop-color="#2166ac"/><stop offset="0.1552" stop-color="#266daf"/><stop offset="0.1663" stop-color="#4292c3"/><stop offset="0.1719" stop-color="#3d8bbf"/><stop offset="0.1803" stop-color="#2c74b3"/><stop offset="0.1915" stop-color="#317bb7"/><stop offset="0.2054" stop-color="#4594c4"/><stop offset="0.2194" stop-color="#71b0d3"/><stop offset="0.2389" stop-color="#97c8e0"/><stop offset="0.2640" stop-color="#a8d0e4"/><stop offset="0.2919" stop-color="#9ccae1"/><stop offset="0.3226" stop-color="#aed3e6"/><stop offset="0.3812" stop-color="#a9d1e5"/><stop offset="0.4510" stop-color="#bcdaea"/><stop offset="0.5431" stop-color="#f7f6f6"/><stop offset="0.6073" stop-color="#fcd4be"/><stop offset="0.6659" stop-color="#f3a27f"/><stop offset="0.7357" stop-color="#db6b56"/><stop offset="0.7720" stop-color="#d7634f"/><stop offset="0.8585" stop-color="#dc6e58"/><stop offset="0.8836" stop-color="#e7876b"/><stop offset="0.9087" stop-color="#f5ad8c"/><stop offset="0.9339" stop-color="#fbd1ba"/><stop offset="0.9506" stop-color="#fae8dd"/><stop offset="0.9673" stop-color="#f6f7f7"/><stop offset="0.9980" stop-color="#e3edf3"/></radialGradient><clipPath id="cc"><circle cx="512.60" cy="511.50" r="357.30"/></clipPath></defs><g clip-path="url(#cc)"><path d="M512.6 511.5L871.9 513.1A359.3 359.3 0 0 0 871.7 500.5Z" fill="url(#g0)"/><path d="M512.6 511.5L871.8 503.7A359.3 359.3 0 0 0 871.3 491.1Z" fill="url(#g1)"/><path d="M512.6 511.5L871.5 494.3A359.3 359.3 0 0 0 870.7 481.7Z" fill="url(#g2)"/><path d="M512.6 511.5L870.9 484.9A359.3 359.3 0 0 0 869.8 472.4Z" fill="url(#g3)"/><path d="M512.6 511.5L870.1 475.5A359.3 359.3 0 0 0 868.6 463.0Z" fill="url(#g4)"/><path d="M512.6 511.5L869.0 466.2A359.3 359.3 0 0 0 867.2 453.7Z" fill="url(#g5)"/><path d="M512.6 511.5L867.7 456.8A359.3 359.3 0 0 0 865.6 444.5Z" fill="url(#g6)"/><path d="M512.6 511.5L866.2 447.6A359.3 359.3 0 0 0 863.7 435.3Z" fill="url(#g7)"/><path d="M512.6 511.5L864.4 438.3A359.3 359.3 0 0 0 861.6 426.1Z" fill="url(#g8)"/><path d="M512.6 511.5L862.3 429.1A359.3 359.3 0 0 0 859.2 417.0Z" fill="url(#g9)"/><path d="M512.6 511.5L860.1 420.0A359.3 359.3 0 0 0 856.7 408.0Z" fill="url(#g10)"/><path d="M512.6 511.5L857.5 411.0A359.3 359.3 0 0 0 853.8 399.0Z" fill="url(#g11)"/><path d="M512.6 511.5L854.8 402.0A359.3 359.3 0 0 0 850.8 390.1Z" fill="url(#g12)"/><path d="M512.6 511.5L851.8 393.0A359.3 359.3 0 0 0 847.5 381.3Z" fill="url(#g13)"/><path d="M512.6 511.5L848.6 384.2A359.3 359.3 0 0 0 843.9 372.6Z" fill="url(#g14)"/><path d="M512.6 511.5L845.1 375.5A359.3 359.3 0 0 0 840.2 363.9Z" fill="url(#g15)"/><path d="M512.6 511.5L841.5 366.8A359.3 359.3 0 0 0 836.2 355.4Z" fill="url(#g16)"/><path d="M512.6 511.5L837.6 358.2A359.3 359.3 0 0 0 832.0 347.0Z" fill="url(#g17)"/><path d="M512.6 511.5L833.4 349.8A359.3 359.3 0 0 0 827.6 338.7Z" fill="url(#g18)"/><path d="M512.6 511.5L829.1 341.4A359.3 359.3 0 0 0 823.0 330.5Z" fill="url(#g19)"/><path d="M512.6 511.5L824.5 333.2A359.3 359.3 0 0 0 818.1 322.4Z" fill="url(#g20)"/><path d="M512.6 511.5L819.8 325.1A359.3 359.3 0 0 0 813.1 314.5Z" fill="url(#g21)"/><path d="M512.6 511.5L814.8 317.1A359.3 359.3 0 0 0 807.8 306.7Z" fill="url(#g22)"/><path d="M512.6 511.5L809.6 309.3A359.3 359.3 0 0 0 802.4 299.0Z" fill="url(#g23)"/><path d="M512.6 511.5L804.2 301.6A359.3 359.3 0 0 0 796.7 291.5Z" fill="url(#g24)"/><path d="M512.6 511.5L798.6 294.0A359.3 359.3 0 0 0 790.8 284.2Z" fill="url(#g25)"/><path d="M512.6 511.5L792.8 286.6A359.3 359.3 0 0 0 784.8 277.0Z" fill="url(#g26)"/><path d="M512.6 511.5L786.8 279.3A359.3 359.3 0 0 0 778.6 269.9Z" fill="url(#g27)"/><path d="M512.6 511.5L780.7 272.2A359.3 359.3 0 0 0 772.1 263.0Z" fill="url(#g28)"/><path d="M512.6 511.5L774.3 265.3A359.3 359.3 0 0 0 765.6 256.3Z" fill="url(#g29)"/><path d="M512.6 511.5L767.8 258.5A359.3 359.3 0 0 0 758.8 249.8Z" fill="url(#g30)"/><path d="M512.6 511.5L761.1 252.0A359.3 359.3 0 0 0 751.9 243.4Z" fill="url(#g31)"/><path d="M512.6 511.5L754.2 245.5A359.3 359.3 0 0 0 744.8 237.3Z" fill="url(#g32)"/><path d="M512.6 511.5L747.1 239.3A359.3 359.3 0 0 0 737.5 231.3Z" fill="url(#g33)"/><path d="M512.6 511.5L739.9 233.3A359.3 359.3 0 0 0 730.1 225.5Z" fill="url(#g34)"/><path d="M512.6 511.5L732.6 227.4A359.3 359.3 0 0 0 722.5 219.9Z" fill="url(#g35)"/><path d="M512.6 511.5L725.1 221.7A359.3 359.3 0 0 0 714.8 214.5Z" fill="url(#g36)"/><path d="M512.6 511.5L717.4 216.3A359.3 359.3 0 0 0 707.0 209.3Z" fill="url(#g37)"/><path d="M512.6 511.5L709.6 211.0A359.3 359.3 0 0 0 699.0 204.3Z" fill="url(#g38)"/><path d="M512.6 511.5L701.7 206.0A359.3 359.3 0 0 0 690.9 199.6Z" fill="url(#g39)"/><path d="M512.6 511.5L693.6 201.1A359.3 359.3 0 0 0 682.7 195.0Z" fill="url(#g40)"/><path d="M512.6 511.5L685.4 196.5A359.3 359.3 0 0 0 674.3 190.7Z" fill="url(#g41)"/><path d="M512.6 511.5L677.1 192.1A359.3 359.3 0 0 0 665.9 186.5Z" fill="url(#g42)"/><path d="M512.6 511.5L668.7 187.9A359.3 359.3 0 0 0 657.3 182.6Z" fill="url(#g43)"/><path d="M512.6 511.5L660.2 183.9A359.3 359.3 0 0 0 648.6 179.0Z" fill="url(#g44)"/><path d="M512.6 511.5L651.5 180.2A359.3 359.3 0 0 0 639.9 175.5Z" fill="url(#g45)"/><path d="M512.6 511.5L642.8 176.6A359.3 359.3 0 0 0 631.1 172.3Z" fill="url(#g46)"/><path d="M512.6 511.5L634.0 173.3A359.3 359.3 0 0 0 622.1 169.3Z" fill="url(#g47)"/><path d="M512.6 511.5L625.1 170.3A359.3 359.3 0 0 0 613.1 166.6Z" fill="url(#g48)"/><path d="M512.6 511.5L616.1 167.4A359.3 359.3 0 0 0 604.1 164.0Z" fill="url(#g49)"/><path d="M512.6 511.5L607.1 164.9A359.3 359.3 0 0 0 595.0 161.8Z" fill="url(#g50)"/><path d="M512.6 511.5L598.0 162.5A359.3 359.3 0 0 0 585.8 159.7Z" fill="url(#g51)"/><path d="M512.6 511.5L588.8 160.4A359.3 359.3 0 0 0 576.5 157.9Z" fill="url(#g52)"/><path d="M512.6 511.5L579.6 158.5A359.3 359.3 0 0 0 567.3 156.4Z" fill="url(#g53)"/><path d="M512.6 511.5L570.4 156.9A359.3 359.3 0 0 0 557.9 155.1Z" fill="url(#g54)"/><path d="M512.6 511.5L561.1 155.5A359.3 359.3 0 0 0 548.6 154.0Z" fill="url(#g55)"/><path d="M512.6 511.5L551.7 154.3A359.3 359.3 0 0 0 539.2 153.2Z" fill="url(#g56)"/><path d="M512.6 511.5L542.4 153.4A359.3 359.3 0 0 0 529.8 152.6Z" fill="url(#g57)"/><path d="M512.6 511.5L533.0 152.8A359.3 359.3 0 0 0 520.4 152.3Z" fill="url(#g58)"/><path d="M512.6 511.5L523.6 152.4A359.3 359.3 0 0 0 511.0 152.2Z" fill="url(#g59)"/><path d="M512.6 511.5L514.2 152.2A359.3 359.3 0 0 0 501.6 152.4Z" fill="url(#g60)"/><path d="M512.6 511.5L504.8 152.3A359.3 359.3 0 0 0 492.2 152.8Z" fill="url(#g61)"/><path d="M512.6 511.5L495.4 152.6A359.3 359.3 0 0 0 482.8 153.4Z" fill="url(#g62)"/><path d="M512.6 511.5L486.0 153.2A359.3 359.3 0 0 0 473.5 154.3Z" fill="url(#g63)"/><path d="M512.6 511.5L476.6 154.0A359.3 359.3 0 0 0 464.1 155.5Z" fill="url(#g64)"/><path d="M512.6 511.5L467.3 155.1A359.3 359.3 0 0 0 454.8 156.9Z" fill="url(#g65)"/><path d="M512.6 511.5L457.9 156.4A359.3 359.3 0 0 0 445.6 158.5Z" fill="url(#g66)"/><path d="M512.6 511.5L448.7 157.9A359.3 359.3 0 0 0 436.4 160.4Z" fill="url(#g67)"/><path d="M512.6 511.5L439.4 159.7A359.3 359.3 0 0 0 427.2 162.5Z" fill="url(#g68)"/><path d="M512.6 511.5L430.2 161.8A359.3 359.3 0 0 0 418.1 164.9Z" fill="url(#g69)"/><path d="M512.6 511.5L421.1 164.0A359.3 359.3 0 0 0 409.1 167.4Z" fill="url(#g70)"/><path d="M512.6 511.5L412.1 166.6A359.3 359.3 0 0 0 400.1 170.3Z" fill="url(#g71)"/><path d="M512.6 511.5L403.1 169.3A359.3 359.3 0 0 0 391.2 173.3Z" fill="url(#g72)"/><path d="M512.6 511.5L394.1 172.3A359.3 359.3 0 0 0 382.4 176.6Z" fill="url(#g73)"/><path d="M512.6 511.5L385.3 175.5A359.3 359.3 0 0 0 373.7 180.2Z" fill="url(#g74)"/><path d="M512.6 511.5L376.6 179.0A359.3 359.3 0 0 0 365.0 183.9Z" fill="url(#g75)"/><path d="M512.6 511.5L367.9 182.6A359.3 359.3 0 0 0 356.5 187.9Z" fill="url(#g76)"/><path d="M512.6 511.5L359.3 186.5A359.3 359.3 0 0 0 348.1 192.1Z" fill="url(#g77)"/><path d="M512.6 511.5L350.9 190.7A359.3 359.3 0 0 0 339.8 196.5Z" fill="url(#g78)"/><path d="M512.6 511.5L342.5 195.0A359.3 359.3 0 0 0 331.6 201.1Z" fill="url(#g79)"/><path d="M512.6 511.5L334.3 199.6A359.3 359.3 0 0 0 323.5 206.0Z" fill="url(#g80)"/><path d="M512.6 511.5L326.2 204.3A359.3 359.3 0 0 0 315.6 211.0Z" fill="url(#g81)"/><path d="M512.6 511.5L318.2 209.3A359.3 359.3 0 0 0 307.8 216.3Z" fill="url(#g82)"/><path d="M512.6 511.5L310.4 214.5A359.3 359.3 0 0 0 300.1 221.7Z" fill="url(#g83)"/><path d="M512.6 511.5L302.7 219.9A359.3 359.3 0 0 0 292.6 227.4Z" fill="url(#g84)"/><path d="M512.6 511.5L295.1 225.5A359.3 359.3 0 0 0 285.3 233.3Z" fill="url(#g85)"/><path d="M512.6 511.5L287.7 231.3A359.3 359.3 0 0 0 278.1 239.3Z" fill="url(#g86)"/><path d="M512.6 511.5L280.4 237.3A359.3 359.3 0 0 0 271.0 245.5Z" fill="url(#g87)"/><path d="M512.6 511.5L273.3 243.4A359.3 359.3 0 0 0 264.1 252.0Z" fill="url(#g88)"/><path d="M512.6 511.5L266.4 249.8A359.3 359.3 0 0 0 257.4 258.5Z" fill="url(#g89)"/><path d="M512.6 511.5L259.6 256.3A359.3 359.3 0 0 0 250.9 265.3Z" fill="url(#g90)"/><path d="M512.6 511.5L253.1 263.0A359.3 359.3 0 0 0 244.5 272.2Z" fill="url(#g91)"/><path d="M512.6 511.5L246.6 269.9A359.3 359.3 0 0 0 238.4 279.3Z" fill="url(#g92)"/><path d="M512.6 511.5L240.4 277.0A359.3 359.3 0 0 0 232.4 286.6Z" fill="url(#g93)"/><path d="M512.6 511.5L234.4 284.2A359.3 359.3 0 0 0 226.6 294.0Z" fill="url(#g94)"/><path d="M512.6 511.5L228.5 291.5A359.3 359.3 0 0 0 221.0 301.6Z" fill="url(#g95)"/><path d="M512.6 511.5L222.8 299.0A359.3 359.3 0 0 0 215.6 309.3Z" fill="url(#g96)"/><path d="M512.6 511.5L217.4 306.7A359.3 359.3 0 0 0 210.4 317.1Z" fill="url(#g97)"/><path d="M512.6 511.5L212.1 314.5A359.3 359.3 0 0 0 205.4 325.1Z" fill="url(#g98)"/><path d="M512.6 511.5L207.1 322.4A359.3 359.3 0 0 0 200.7 333.2Z" fill="url(#g99)"/><path d="M512.6 511.5L202.2 330.5A359.3 359.3 0 0 0 196.1 341.4Z" fill="url(#g100)"/><path d="M512.6 511.5L197.6 338.7A359.3 359.3 0 0 0 191.8 349.8Z" fill="url(#g101)"/><path d="M512.6 511.5L193.2 347.0A359.3 359.3 0 0 0 187.6 358.2Z" fill="url(#g102)"/><path d="M512.6 511.5L189.0 355.4A359.3 359.3 0 0 0 183.7 366.8Z" fill="url(#g103)"/><path d="M512.6 511.5L185.0 363.9A359.3 359.3 0 0 0 180.1 375.5Z" fill="url(#g104)"/><path d="M512.6 511.5L181.3 372.6A359.3 359.3 0 0 0 176.6 384.2Z" fill="url(#g105)"/><path d="M512.6 511.5L177.7 381.3A359.3 359.3 0 0 0 173.4 393.0Z" fill="url(#g106)"/><path d="M512.6 511.5L174.4 390.1A359.3 359.3 0 0 0 170.4 402.0Z" fill="url(#g107)"/><path d="M512.6 511.5L171.4 399.0A359.3 359.3 0 0 0 167.7 411.0Z" fill="url(#g108)"/><path d="M512.6 511.5L168.5 408.0A359.3 359.3 0 0 0 165.1 420.0Z" fill="url(#g109)"/><path d="M512.6 511.5L166.0 417.0A359.3 359.3 0 0 0 162.9 429.1Z" fill="url(#g110)"/><path d="M512.6 511.5L163.6 426.1A359.3 359.3 0 0 0 160.8 438.3Z" fill="url(#g111)"/><path d="M512.6 511.5L161.5 435.3A359.3 359.3 0 0 0 159.0 447.6Z" fill="url(#g112)"/><path d="M512.6 511.5L159.6 444.5A359.3 359.3 0 0 0 157.5 456.8Z" fill="url(#g113)"/><path d="M512.6 511.5L158.0 453.7A359.3 359.3 0 0 0 156.2 466.2Z" fill="url(#g114)"/><path d="M512.6 511.5L156.6 463.0A359.3 359.3 0 0 0 155.1 475.5Z" fill="url(#g115)"/><path d="M512.6 511.5L155.4 472.4A359.3 359.3 0 0 0 154.3 484.9Z" fill="url(#g116)"/><path d="M512.6 511.5L154.5 481.7A359.3 359.3 0 0 0 153.7 494.3Z" fill="url(#g117)"/><path d="M512.6 511.5L153.9 491.1A359.3 359.3 0 0 0 153.4 503.7Z" fill="url(#g118)"/><path d="M512.6 511.5L153.5 500.5A359.3 359.3 0 0 0 153.3 513.1Z" fill="url(#g119)"/><path d="M512.6 511.5L153.3 509.9A359.3 359.3 0 0 0 153.5 522.5Z" fill="url(#g120)"/><path d="M512.6 511.5L153.4 519.3A359.3 359.3 0 0 0 153.9 531.9Z" fill="url(#g121)"/><path d="M512.6 511.5L153.7 528.7A359.3 359.3 0 0 0 154.5 541.3Z" fill="url(#g122)"/><path d="M512.6 511.5L154.3 538.1A359.3 359.3 0 0 0 155.4 550.6Z" fill="url(#g123)"/><path d="M512.6 511.5L155.1 547.5A359.3 359.3 0 0 0 156.6 560.0Z" fill="url(#g124)"/><path d="M512.6 511.5L156.2 556.8A359.3 359.3 0 0 0 158.0 569.3Z" fill="url(#g125)"/><path d="M512.6 511.5L157.5 566.2A359.3 359.3 0 0 0 159.6 578.5Z" fill="url(#g126)"/><path d="M512.6 511.5L159.0 575.4A359.3 359.3 0 0 0 161.5 587.7Z" fill="url(#g127)"/><path d="M512.6 511.5L160.8 584.7A359.3 359.3 0 0 0 163.6 596.9Z" fill="url(#g128)"/><path d="M512.6 511.5L162.9 593.9A359.3 359.3 0 0 0 166.0 606.0Z" fill="url(#g129)"/><path d="M512.6 511.5L165.1 603.0A359.3 359.3 0 0 0 168.5 615.0Z" fill="url(#g130)"/><path d="M512.6 511.5L167.7 612.0A359.3 359.3 0 0 0 171.4 624.0Z" fill="url(#g131)"/><path d="M512.6 511.5L170.4 621.0A359.3 359.3 0 0 0 174.4 632.9Z" fill="url(#g132)"/><path d="M512.6 511.5L173.4 630.0A359.3 359.3 0 0 0 177.7 641.7Z" fill="url(#g133)"/><path d="M512.6 511.5L176.6 638.8A359.3 359.3 0 0 0 181.3 650.4Z" fill="url(#g134)"/><path d="M512.6 511.5L180.1 647.5A359.3 359.3 0 0 0 185.0 659.1Z" fill="url(#g135)"/><path d="M512.6 511.5L183.7 656.2A359.3 359.3 0 0 0 189.0 667.6Z" fill="url(#g136)"/><path d="M512.6 511.5L187.6 664.8A359.3 359.3 0 0 0 193.2 676.0Z" fill="url(#g137)"/><path d="M512.6 511.5L191.8 673.2A359.3 359.3 0 0 0 197.6 684.3Z" fill="url(#g138)"/><path d="M512.6 511.5L196.1 681.6A359.3 359.3 0 0 0 202.2 692.5Z" fill="url(#g139)"/><path d="M512.6 511.5L200.7 689.8A359.3 359.3 0 0 0 207.1 700.6Z" fill="url(#g140)"/><path d="M512.6 511.5L205.4 697.9A359.3 359.3 0 0 0 212.1 708.5Z" fill="url(#g141)"/><path d="M512.6 511.5L210.4 705.9A359.3 359.3 0 0 0 217.4 716.3Z" fill="url(#g142)"/><path d="M512.6 511.5L215.6 713.7A359.3 359.3 0 0 0 222.8 724.0Z" fill="url(#g143)"/><path d="M512.6 511.5L221.0 721.4A359.3 359.3 0 0 0 228.5 731.5Z" fill="url(#g144)"/><path d="M512.6 511.5L226.6 729.0A359.3 359.3 0 0 0 234.4 738.8Z" fill="url(#g145)"/><path d="M512.6 511.5L232.4 736.4A359.3 359.3 0 0 0 240.4 746.0Z" fill="url(#g146)"/><path d="M512.6 511.5L238.4 743.7A359.3 359.3 0 0 0 246.6 753.1Z" fill="url(#g147)"/><path d="M512.6 511.5L244.5 750.8A359.3 359.3 0 0 0 253.1 760.0Z" fill="url(#g148)"/><path d="M512.6 511.5L250.9 757.7A359.3 359.3 0 0 0 259.6 766.7Z" fill="url(#g149)"/><path d="M512.6 511.5L257.4 764.5A359.3 359.3 0 0 0 266.4 773.2Z" fill="url(#g150)"/><path d="M512.6 511.5L264.1 771.0A359.3 359.3 0 0 0 273.3 779.6Z" fill="url(#g151)"/><path d="M512.6 511.5L271.0 777.5A359.3 359.3 0 0 0 280.4 785.7Z" fill="url(#g152)"/><path d="M512.6 511.5L278.1 783.7A359.3 359.3 0 0 0 287.7 791.7Z" fill="url(#g153)"/><path d="M512.6 511.5L285.3 789.7A359.3 359.3 0 0 0 295.1 797.5Z" fill="url(#g154)"/><path d="M512.6 511.5L292.6 795.6A359.3 359.3 0 0 0 302.7 803.1Z" fill="url(#g155)"/><path d="M512.6 511.5L300.1 801.3A359.3 359.3 0 0 0 310.4 808.5Z" fill="url(#g156)"/><path d="M512.6 511.5L307.8 806.7A359.3 359.3 0 0 0 318.2 813.7Z" fill="url(#g157)"/><path d="M512.6 511.5L315.6 812.0A359.3 359.3 0 0 0 326.2 818.7Z" fill="url(#g158)"/><path d="M512.6 511.5L323.5 817.0A359.3 359.3 0 0 0 334.3 823.4Z" fill="url(#g159)"/><path d="M512.6 511.5L331.6 821.9A359.3 359.3 0 0 0 342.5 828.0Z" fill="url(#g160)"/><path d="M512.6 511.5L339.8 826.5A359.3 359.3 0 0 0 350.9 832.3Z" fill="url(#g161)"/><path d="M512.6 511.5L348.1 830.9A359.3 359.3 0 0 0 359.3 836.5Z" fill="url(#g162)"/><path d="M512.6 511.5L356.5 835.1A359.3 359.3 0 0 0 367.9 840.4Z" fill="url(#g163)"/><path d="M512.6 511.5L365.0 839.1A359.3 359.3 0 0 0 376.6 844.0Z" fill="url(#g164)"/><path d="M512.6 511.5L373.7 842.8A359.3 359.3 0 0 0 385.3 847.5Z" fill="url(#g165)"/><path d="M512.6 511.5L382.4 846.4A359.3 359.3 0 0 0 394.1 850.7Z" fill="url(#g166)"/><path d="M512.6 511.5L391.2 849.7A359.3 359.3 0 0 0 403.1 853.7Z" fill="url(#g167)"/><path d="M512.6 511.5L400.1 852.7A359.3 359.3 0 0 0 412.1 856.4Z" fill="url(#g168)"/><path d="M512.6 511.5L409.1 855.6A359.3 359.3 0 0 0 421.1 859.0Z" fill="url(#g169)"/><path d="M512.6 511.5L418.1 858.1A359.3 359.3 0 0 0 430.2 861.2Z" fill="url(#g170)"/><path d="M512.6 511.5L427.2 860.5A359.3 359.3 0 0 0 439.4 863.3Z" fill="url(#g171)"/><path d="M512.6 511.5L436.4 862.6A359.3 359.3 0 0 0 448.7 865.1Z" fill="url(#g172)"/><path d="M512.6 511.5L445.6 864.5A359.3 359.3 0 0 0 457.9 866.6Z" fill="url(#g173)"/><path d="M512.6 511.5L454.8 866.1A359.3 359.3 0 0 0 467.3 867.9Z" fill="url(#g174)"/><path d="M512.6 511.5L464.1 867.5A359.3 359.3 0 0 0 476.6 869.0Z" fill="url(#g175)"/><path d="M512.6 511.5L473.5 868.7A359.3 359.3 0 0 0 486.0 869.8Z" fill="url(#g176)"/><path d="M512.6 511.5L482.8 869.6A359.3 359.3 0 0 0 495.4 870.4Z" fill="url(#g177)"/><path d="M512.6 511.5L492.2 870.2A359.3 359.3 0 0 0 504.8 870.7Z" fill="url(#g178)"/><path d="M512.6 511.5L501.6 870.6A359.3 359.3 0 0 0 514.2 870.8Z" fill="url(#g179)"/><path d="M512.6 511.5L511.0 870.8A359.3 359.3 0 0 0 523.6 870.6Z" fill="url(#g180)"/><path d="M512.6 511.5L520.4 870.7A359.3 359.3 0 0 0 533.0 870.2Z" fill="url(#g181)"/><path d="M512.6 511.5L529.8 870.4A359.3 359.3 0 0 0 542.4 869.6Z" fill="url(#g182)"/><path d="M512.6 511.5L539.2 869.8A359.3 359.3 0 0 0 551.7 868.7Z" fill="url(#g183)"/><path d="M512.6 511.5L548.6 869.0A359.3 359.3 0 0 0 561.1 867.5Z" fill="url(#g184)"/><path d="M512.6 511.5L557.9 867.9A359.3 359.3 0 0 0 570.4 866.1Z" fill="url(#g185)"/><path d="M512.6 511.5L567.3 866.6A359.3 359.3 0 0 0 579.6 864.5Z" fill="url(#g186)"/><path d="M512.6 511.5L576.5 865.1A359.3 359.3 0 0 0 588.8 862.6Z" fill="url(#g187)"/><path d="M512.6 511.5L585.8 863.3A359.3 359.3 0 0 0 598.0 860.5Z" fill="url(#g188)"/><path d="M512.6 511.5L595.0 861.2A359.3 359.3 0 0 0 607.1 858.1Z" fill="url(#g189)"/><path d="M512.6 511.5L604.1 859.0A359.3 359.3 0 0 0 616.1 855.6Z" fill="url(#g190)"/><path d="M512.6 511.5L613.1 856.4A359.3 359.3 0 0 0 625.1 852.7Z" fill="url(#g191)"/><path d="M512.6 511.5L622.1 853.7A359.3 359.3 0 0 0 634.0 849.7Z" fill="url(#g192)"/><path d="M512.6 511.5L631.1 850.7A359.3 359.3 0 0 0 642.8 846.4Z" fill="url(#g193)"/><path d="M512.6 511.5L639.9 847.5A359.3 359.3 0 0 0 651.5 842.8Z" fill="url(#g194)"/><path d="M512.6 511.5L648.6 844.0A359.3 359.3 0 0 0 660.2 839.1Z" fill="url(#g195)"/><path d="M512.6 511.5L657.3 840.4A359.3 359.3 0 0 0 668.7 835.1Z" fill="url(#g196)"/><path d="M512.6 511.5L665.9 836.5A359.3 359.3 0 0 0 677.1 830.9Z" fill="url(#g197)"/><path d="M512.6 511.5L674.3 832.3A359.3 359.3 0 0 0 685.4 826.5Z" fill="url(#g198)"/><path d="M512.6 511.5L682.7 828.0A359.3 359.3 0 0 0 693.6 821.9Z" fill="url(#g199)"/><path d="M512.6 511.5L690.9 823.4A359.3 359.3 0 0 0 701.7 817.0Z" fill="url(#g200)"/><path d="M512.6 511.5L699.0 818.7A359.3 359.3 0 0 0 709.6 812.0Z" fill="url(#g201)"/><path d="M512.6 511.5L707.0 813.7A359.3 359.3 0 0 0 717.4 806.7Z" fill="url(#g202)"/><path d="M512.6 511.5L714.8 808.5A359.3 359.3 0 0 0 725.1 801.3Z" fill="url(#g203)"/><path d="M512.6 511.5L722.5 803.1A359.3 359.3 0 0 0 732.6 795.6Z" fill="url(#g204)"/><path d="M512.6 511.5L730.1 797.5A359.3 359.3 0 0 0 739.9 789.7Z" fill="url(#g205)"/><path d="M512.6 511.5L737.5 791.7A359.3 359.3 0 0 0 747.1 783.7Z" fill="url(#g206)"/><path d="M512.6 511.5L744.8 785.7A359.3 359.3 0 0 0 754.2 777.5Z" fill="url(#g207)"/><path d="M512.6 511.5L751.9 779.6A359.3 359.3 0 0 0 761.1 771.0Z" fill="url(#g208)"/><path d="M512.6 511.5L758.8 773.2A359.3 359.3 0 0 0 767.8 764.5Z" fill="url(#g209)"/><path d="M512.6 511.5L765.6 766.7A359.3 359.3 0 0 0 774.3 757.7Z" fill="url(#g210)"/><path d="M512.6 511.5L772.1 760.0A359.3 359.3 0 0 0 780.7 750.8Z" fill="url(#g211)"/><path d="M512.6 511.5L778.6 753.1A359.3 359.3 0 0 0 786.8 743.7Z" fill="url(#g212)"/><path d="M512.6 511.5L784.8 746.0A359.3 359.3 0 0 0 792.8 736.4Z" fill="url(#g213)"/><path d="M512.6 511.5L790.8 738.8A359.3 359.3 0 0 0 798.6 729.0Z" fill="url(#g214)"/><path d="M512.6 511.5L796.7 731.5A359.3 359.3 0 0 0 804.2 721.4Z" fill="url(#g215)"/><path d="M512.6 511.5L802.4 724.0A359.3 359.3 0 0 0 809.6 713.7Z" fill="url(#g216)"/><path d="M512.6 511.5L807.8 716.3A359.3 359.3 0 0 0 814.8 705.9Z" fill="url(#g217)"/><path d="M512.6 511.5L813.1 708.5A359.3 359.3 0 0 0 819.8 697.9Z" fill="url(#g218)"/><path d="M512.6 511.5L818.1 700.6A359.3 359.3 0 0 0 824.5 689.8Z" fill="url(#g219)"/><path d="M512.6 511.5L823.0 692.5A359.3 359.3 0 0 0 829.1 681.6Z" fill="url(#g220)"/><path d="M512.6 511.5L827.6 684.3A359.3 359.3 0 0 0 833.4 673.2Z" fill="url(#g221)"/><path d="M512.6 511.5L832.0 676.0A359.3 359.3 0 0 0 837.6 664.8Z" fill="url(#g222)"/><path d="M512.6 511.5L836.2 667.6A359.3 359.3 0 0 0 841.5 656.2Z" fill="url(#g223)"/><path d="M512.6 511.5L840.2 659.1A359.3 359.3 0 0 0 845.1 647.5Z" fill="url(#g224)"/><path d="M512.6 511.5L843.9 650.4A359.3 359.3 0 0 0 848.6 638.8Z" fill="url(#g225)"/><path d="M512.6 511.5L847.5 641.7A359.3 359.3 0 0 0 851.8 630.0Z" fill="url(#g226)"/><path d="M512.6 511.5L850.8 632.9A359.3 359.3 0 0 0 854.8 621.0Z" fill="url(#g227)"/><path d="M512.6 511.5L853.8 624.0A359.3 359.3 0 0 0 857.5 612.0Z" fill="url(#g228)"/><path d="M512.6 511.5L856.7 615.0A359.3 359.3 0 0 0 860.1 603.0Z" fill="url(#g229)"/><path d="M512.6 511.5L859.2 606.0A359.3 359.3 0 0 0 862.3 593.9Z" fill="url(#g230)"/><path d="M512.6 511.5L861.6 596.9A359.3 359.3 0 0 0 864.4 584.7Z" fill="url(#g231)"/><path d="M512.6 511.5L863.7 587.7A359.3 359.3 0 0 0 866.2 575.4Z" fill="url(#g232)"/><path d="M512.6 511.5L865.6 578.5A359.3 359.3 0 0 0 867.7 566.2Z" fill="url(#g233)"/><path d="M512.6 511.5L867.2 569.3A359.3 359.3 0 0 0 869.0 556.8Z" fill="url(#g234)"/><path d="M512.6 511.5L868.6 560.0A359.3 359.3 0 0 0 870.1 547.5Z" fill="url(#g235)"/><path d="M512.6 511.5L869.8 550.6A359.3 359.3 0 0 0 870.9 538.1Z" fill="url(#g236)"/><path d="M512.6 511.5L870.7 541.3A359.3 359.3 0 0 0 871.5 528.7Z" fill="url(#g237)"/><path d="M512.6 511.5L871.3 531.9A359.3 359.3 0 0 0 871.8 519.3Z" fill="url(#g238)"/><path d="M512.6 511.5L871.7 522.5A359.3 359.3 0 0 0 871.9 509.9Z" fill="url(#g239)"/></g><path d="M512.5 154V168M512.5 855V869M155.5 511.5H169.5M856 511.5H870" stroke="#fbfbfb" stroke-width="1.2"/><circle cx="512.10" cy="511.10" r="47.60" fill="#fff"/><path d="M512 463.50A47.60 47.60 0 0 1 512 558.70Z" fill="#000"/><circle cx="512.10" cy="511.10" r="46.70" fill="none" stroke="#6b0a24" stroke-width="1.8"/><path d="M620.60 544.50H648.60M634.60 530.50V558.50M620.60 530.50L648.60 558.50M620.60 558.50L648.60 530.50" stroke="#000" stroke-width="2.5" stroke-linecap="round"/><rect x="154.00" y="931.0" width="12.35" height="41.0" fill="#6d0220"/><rect x="165.95" y="931.0" width="12.35" height="41.0" fill="#7a0622"/><rect x="177.90" y="931.0" width="12.35" height="41.0" fill="#860a24"/><rect x="189.85" y="931.0" width="12.35" height="41.0" fill="#930e26"/><rect x="201.80" y="931.0" width="12.35" height="41.0" fill="#9f1228"/><rect x="213.75" y="931.0" width="12.35" height="41.0" fill="#ac162a"/><rect x="225.70" y="931.0" width="12.35" height="41.0" fill="#b51e2e"/><rect x="237.65" y="931.0" width="12.35" height="41.0" fill="#bb2a34"/><rect x="249.60" y="931.0" width="12.35" height="41.0" fill="#c13639"/><rect x="261.55" y="931.0" width="12.35" height="41.0" fill="#c7423f"/><rect x="273.50" y="931.0" width="12.35" height="41.0" fill="#cd4e44"/><rect x="285.45" y="931.0" width="12.35" height="41.0" fill="#d35a4a"/><rect x="297.40" y="931.0" width="12.35" height="41.0" fill="#d86651"/><rect x="309.35" y="931.0" width="12.35" height="41.0" fill="#de715a"/><rect x="321.30" y="931.0" width="12.35" height="41.0" fill="#e27d63"/><rect x="333.25" y="931.0" width="12.35" height="41.0" fill="#e8886c"/><rect x="345.20" y="931.0" width="12.35" height="41.0" fill="#ec9475"/><rect x="357.15" y="931.0" width="12.35" height="41.0" fill="#f29f7e"/><rect x="369.10" y="931.0" width="12.35" height="41.0" fill="#f5aa88"/><rect x="381.05" y="931.0" width="12.35" height="41.0" fill="#f6b293"/><rect x="393.00" y="931.0" width="12.35" height="41.0" fill="#f8bc9f"/><rect x="404.95" y="931.0" width="12.35" height="41.0" fill="#f9c4aa"/><rect x="416.90" y="931.0" width="12.35" height="41.0" fill="#fbceb6"/><rect x="428.85" y="931.0" width="12.35" height="41.0" fill="#fcd6c1"/><rect x="440.80" y="931.0" width="12.35" height="41.0" fill="#fcddcb"/><rect x="452.75" y="931.0" width="12.35" height="41.0" fill="#fce2d3"/><rect x="464.70" y="931.0" width="12.35" height="41.0" fill="#fae7db"/><rect x="476.65" y="931.0" width="12.35" height="41.0" fill="#faebe3"/><rect x="488.60" y="931.0" width="12.35" height="41.0" fill="#f8f0eb"/><rect x="500.55" y="931.0" width="12.35" height="41.0" fill="#f8f5f3"/><rect x="512.50" y="931.0" width="12.35" height="41.0" fill="#f4f6f6"/><rect x="524.45" y="931.0" width="12.35" height="41.0" fill="#eef2f5"/><rect x="536.40" y="931.0" width="12.35" height="41.0" fill="#e7f0f4"/><rect x="548.35" y="931.0" width="12.35" height="41.0" fill="#e1ecf3"/><rect x="560.30" y="931.0" width="12.35" height="41.0" fill="#daeaf2"/><rect x="572.25" y="931.0" width="12.35" height="41.0" fill="#d4e6f1"/><rect x="584.20" y="931.0" width="12.35" height="41.0" fill="#cce2ee"/><rect x="596.15" y="931.0" width="12.35" height="41.0" fill="#c1ddec"/><rect x="608.10" y="931.0" width="12.35" height="41.0" fill="#b7d8e8"/><rect x="620.05" y="931.0" width="12.35" height="41.0" fill="#acd2e6"/><rect x="632.00" y="931.0" width="12.35" height="41.0" fill="#a2cde2"/><rect x="643.95" y="931.0" width="12.35" height="41.0" fill="#97c8e0"/><rect x="655.90" y="931.0" width="12.35" height="41.0" fill="#8bc1dc"/><rect x="667.85" y="931.0" width="12.35" height="41.0" fill="#7eb8d7"/><rect x="679.80" y="931.0" width="12.35" height="41.0" fill="#71b0d3"/><rect x="691.75" y="931.0" width="12.35" height="41.0" fill="#64a8ce"/><rect x="703.70" y="931.0" width="12.35" height="41.0" fill="#57a0ca"/><rect x="715.65" y="931.0" width="12.35" height="41.0" fill="#4a97c5"/><rect x="727.60" y="931.0" width="12.35" height="41.0" fill="#408fc1"/><rect x="739.55" y="931.0" width="12.35" height="41.0" fill="#3a88bd"/><rect x="751.50" y="931.0" width="12.35" height="41.0" fill="#3580b9"/><rect x="763.45" y="931.0" width="12.35" height="41.0" fill="#2f79b6"/><rect x="775.40" y="931.0" width="12.35" height="41.0" fill="#2a71b2"/><rect x="787.35" y="931.0" width="12.35" height="41.0" fill="#246aae"/><rect x="799.30" y="931.0" width="12.35" height="41.0" fill="#1f61a6"/><rect x="811.25" y="931.0" width="12.35" height="41.0" fill="#1a5899"/><rect x="823.20" y="931.0" width="12.35" height="41.0" fill="#15508d"/><rect x="835.15" y="931.0" width="12.35" height="41.0" fill="#114680"/><rect x="847.10" y="931.0" width="12.35" height="41.0" fill="#0c3e74"/><rect x="859.05" y="931.0" width="11.95" height="41.0" fill="#073467"/><path d="M254.92 79.40L254.92 78.03L256.34 75.28L257.76 73.90L260.60 72.53L266.28 72.53L269.12 73.90L270.54 75.28L271.96 78.03L271.96 80.78L270.54 83.53L267.70 87.65L253.50 101.40L273.38 101.40M290.42 72.53L286.16 73.90L283.32 78.03L281.90 84.90L281.90 89.03L283.32 95.90L286.16 100.03L290.42 101.40L293.26 101.40L297.52 100.03L300.36 95.90L301.78 89.03L301.78 84.90L300.36 78.03L297.52 73.90L293.26 72.53L290.42 72.53M314.56 78.03L317.40 76.65L321.66 72.53L321.66 101.40M341.54 72.53L357.16 72.53L348.64 83.53L352.90 83.53L355.74 84.90L357.16 86.28L358.58 90.40L358.58 93.15L357.16 97.28L354.32 100.03L350.06 101.40L345.80 101.40L341.54 100.03L340.12 98.65L338.70 95.90M384.14 72.53L384.14 101.40M384.14 86.28L381.30 83.53L378.46 82.15L374.20 82.15L371.36 83.53L368.52 86.28L367.10 90.40L367.10 93.15L368.52 97.28L371.36 100.03L374.20 101.40L378.46 101.40L381.30 100.03L384.14 97.28M395.50 79.40L395.50 78.03L396.92 75.28L398.34 73.90L401.18 72.53L406.86 72.53L409.70 73.90L411.12 75.28L412.54 78.03L412.54 80.78L411.12 83.53L408.28 87.65L394.08 101.40L413.96 101.40M442.36 72.53L428.16 101.40M422.48 72.53L442.36 72.53M467.92 72.53L453.72 72.53L452.30 84.90L453.72 83.53L457.98 82.15L462.24 82.15L466.50 83.53L469.34 86.28L470.76 90.40L470.76 93.15L469.34 97.28L466.50 100.03L462.24 101.40L457.98 101.40L453.72 100.03L452.30 98.65L450.88 95.90M476.44 101.40L499.16 101.40M506.26 72.53L506.26 101.40M506.26 87.65L510.52 83.53L513.36 82.15L517.62 82.15L520.46 83.53L521.88 87.65L521.88 101.40M578.68 79.40L578.68 78.03L580.10 75.28L581.52 73.90L584.36 72.53L590.04 72.53L592.88 73.90L594.30 75.28L595.72 78.03L595.72 80.78L594.30 83.53L591.46 87.65L577.26 101.40L597.14 101.40M607.08 79.40L607.08 78.03L608.50 75.28L609.92 73.90L612.76 72.53L618.44 72.53L621.28 73.90L622.70 75.28L624.12 78.03L624.12 80.78L622.70 83.53L619.86 87.65L605.66 101.40L625.54 101.40M636.90 82.15L635.48 83.53L636.90 84.90L638.32 83.53L636.90 82.15M636.90 98.65L635.48 100.03L636.90 101.40L638.32 100.03L636.90 98.65M656.78 72.53L652.52 73.90L649.68 78.03L648.26 84.90L648.26 89.03L649.68 95.90L652.52 100.03L656.78 101.40L659.62 101.40L663.88 100.03L666.72 95.90L668.14 89.03L668.14 84.90L666.72 78.03L663.88 73.90L659.62 72.53L656.78 72.53M685.18 72.53L680.92 73.90L678.08 78.03L676.66 84.90L676.66 89.03L678.08 95.90L680.92 100.03L685.18 101.40L688.02 101.40L692.28 100.03L695.12 95.90L696.54 89.03L696.54 84.90L695.12 78.03L692.28 73.90L688.02 72.53L685.18 72.53M707.90 82.15L706.48 83.53L707.90 84.90L709.32 83.53L707.90 82.15M707.90 98.65L706.48 100.03L707.90 101.40L709.32 100.03L707.90 98.65M727.78 72.53L723.52 73.90L720.68 78.03L719.26 84.90L719.26 89.03L720.68 95.90L723.52 100.03L727.78 101.40L730.62 101.40L734.88 100.03L737.72 95.90L739.14 89.03L739.14 84.90L737.72 78.03L734.88 73.90L730.62 72.53L727.78 72.53M756.18 72.53L751.92 73.90L749.08 78.03L747.66 84.90L747.66 89.03L749.08 95.90L751.92 100.03L756.18 101.40L759.02 101.40L763.28 100.03L766.12 95.90L767.54 89.03L767.54 84.90L766.12 78.03L763.28 73.90L759.02 72.53L756.18 72.53" fill="none" stroke="#000" stroke-width="3.00" stroke-linecap="square" stroke-linejoin="miter" stroke-miterlimit="2"/><path d="M308.82 113.32L304.56 114.70L301.72 118.82L300.30 125.70L300.30 129.82L301.72 136.70L304.56 140.82L308.82 142.20L311.66 142.20L315.92 140.82L318.76 136.70L320.18 129.82L320.18 125.70L318.76 118.82L315.92 114.70L311.66 113.32L308.82 113.32M337.22 113.32L332.96 114.70L330.12 118.82L328.70 125.70L328.70 129.82L330.12 136.70L332.96 140.82L337.22 142.20L340.06 142.20L344.32 140.82L347.16 136.70L348.58 129.82L348.58 125.70L347.16 118.82L344.32 114.70L340.06 113.32L337.22 113.32M365.62 113.32L361.36 114.70L358.52 118.82L357.10 125.70L357.10 129.82L358.52 136.70L361.36 140.82L365.62 142.20L368.46 142.20L372.72 140.82L375.56 136.70L376.98 129.82L376.98 125.70L375.56 118.82L372.72 114.70L368.46 113.32L365.62 113.32M389.76 118.82L392.60 117.45L396.86 113.32L396.86 142.20M415.32 129.82L440.88 129.82M459.34 113.32L455.08 114.70L452.24 118.82L450.82 125.70L450.82 129.82L452.24 136.70L455.08 140.82L459.34 142.20L462.18 142.20L466.44 140.82L469.28 136.70L470.70 129.82L470.70 125.70L469.28 118.82L466.44 114.70L462.18 113.32L459.34 113.32M483.48 118.82L486.32 117.45L490.58 113.32L490.58 142.20M510.46 113.32L526.08 113.32L517.56 124.32L521.82 124.32L524.66 125.70L526.08 127.07L527.50 131.20L527.50 133.95L526.08 138.07L523.24 140.82L518.98 142.20L514.72 142.20L510.46 140.82L509.04 139.45L507.62 136.70M538.86 113.32L554.48 113.32L545.96 124.32L550.22 124.32L553.06 125.70L554.48 127.07L555.90 131.20L555.90 133.95L554.48 138.07L551.64 140.82L547.38 142.20L543.12 142.20L538.86 140.82L537.44 139.45L536.02 136.70M565.84 113.32L565.84 142.20M580.04 122.95L565.84 136.70M571.52 131.20L581.46 142.20M588.56 131.20L605.60 131.20L605.60 128.45L604.18 125.70L602.76 124.32L599.92 122.95L595.66 122.95L592.82 124.32L589.98 127.07L588.56 131.20L588.56 133.95L589.98 138.07L592.82 140.82L595.66 142.20L599.92 142.20L602.76 140.82L605.60 138.07M611.28 113.32L622.64 142.20M634.00 113.32L622.64 142.20M663.82 113.32L663.82 142.20M683.70 113.32L683.70 142.20M663.82 127.07L683.70 127.07M707.84 117.45L707.84 142.20M695.06 129.82L720.62 129.82" fill="none" stroke="#000" stroke-width="3.00" stroke-linecap="square" stroke-linejoin="miter" stroke-miterlimit="2"/><path d="M295.80 901.88L295.80 930.86M295.80 906.02L298.62 903.26L301.45 901.88L305.68 901.88L308.51 903.26L311.33 906.02L312.74 910.16L312.74 912.92L311.33 917.06L308.51 919.82L305.68 921.20L301.45 921.20L298.62 919.82L295.80 917.06M322.63 901.88L322.63 921.20M322.63 910.16L324.04 906.02L326.86 903.26L329.69 901.88L333.92 901.88M339.57 910.16L356.51 910.16L356.51 907.40L355.10 904.64L353.69 903.26L350.87 901.88L346.63 901.88L343.81 903.26L340.98 906.02L339.57 910.16L339.57 912.92L340.98 917.06L343.81 919.82L346.63 921.20L350.87 921.20L353.69 919.82L356.51 917.06M380.52 906.02L379.11 903.26L374.87 901.88L370.63 901.88L366.40 903.26L364.99 906.02L366.40 908.78L369.22 910.16L376.28 911.54L379.11 912.92L380.52 915.68L380.52 917.06L379.11 919.82L374.87 921.20L370.63 921.20L366.40 919.82L364.99 917.06M404.52 906.02L403.11 903.26L398.87 901.88L394.64 901.88L390.40 903.26L388.99 906.02L390.40 908.78L393.23 910.16L400.29 911.54L403.11 912.92L404.52 915.68L404.52 917.06L403.11 919.82L398.87 921.20L394.64 921.20L390.40 919.82L388.99 917.06M414.41 901.88L414.41 915.68L415.82 919.82L418.64 921.20L422.88 921.20L425.70 919.82L429.94 915.68M429.94 901.88L429.94 921.20M441.23 901.88L441.23 921.20M441.23 910.16L442.65 906.02L445.47 903.26L448.29 901.88L452.53 901.88M458.18 910.16L475.12 910.16L475.12 907.40L473.71 904.64L472.30 903.26L469.47 901.88L465.24 901.88L462.41 903.26L459.59 906.02L458.18 910.16L458.18 912.92L459.59 917.06L462.41 919.82L465.24 921.20L469.47 921.20L472.30 919.82L475.12 917.06M523.13 901.88L523.13 921.20M523.13 906.02L520.31 903.26L517.48 901.88L513.25 901.88L510.42 903.26L507.60 906.02L506.19 910.16L506.19 912.92L507.60 917.06L510.42 919.82L513.25 921.20L517.48 921.20L520.31 919.82L523.13 917.06M534.43 901.88L534.43 921.20M534.43 907.40L538.66 903.26L541.49 901.88L545.72 901.88L548.55 903.26L549.96 907.40L549.96 921.20M561.25 892.22L562.67 893.60L564.08 892.22L562.67 890.84L561.25 892.22M562.67 901.88L562.67 921.20M589.49 906.02L588.08 903.26L583.85 901.88L579.61 901.88L575.37 903.26L573.96 906.02L575.37 908.78L578.20 910.16L585.26 911.54L588.08 912.92L589.49 915.68L589.49 917.06L588.08 919.82L583.85 921.20L579.61 921.20L575.37 919.82L573.96 917.06M605.03 901.88L602.20 903.26L599.38 906.02L597.97 910.16L597.97 912.92L599.38 917.06L602.20 919.82L605.03 921.20L609.26 921.20L612.09 919.82L614.91 917.06L616.32 912.92L616.32 910.16L614.91 906.02L612.09 903.26L609.26 901.88L605.03 901.88M627.62 892.22L627.62 915.68L629.03 919.82L631.85 921.20L634.68 921.20M623.38 901.88L633.27 901.88M643.15 901.88L643.15 921.20M643.15 910.16L644.56 906.02L647.39 903.26L650.21 901.88L654.45 901.88M667.15 901.88L664.33 903.26L661.51 906.02L660.09 910.16L660.09 912.92L661.51 917.06L664.33 919.82L667.15 921.20L671.39 921.20L674.21 919.82L677.04 917.06L678.45 912.92L678.45 910.16L677.04 906.02L674.21 903.26L671.39 901.88L667.15 901.88M688.33 901.88L688.33 930.86M688.33 906.02L691.16 903.26L693.98 901.88L698.22 901.88L701.04 903.26L703.87 906.02L705.28 910.16L705.28 912.92L703.87 917.06L701.04 919.82L698.22 921.20L693.98 921.20L691.16 919.82L688.33 917.06M712.34 901.88L720.81 921.20M729.28 901.88L720.81 921.20L717.99 926.72L715.16 929.48L712.34 930.86L710.93 930.86" fill="none" stroke="#000" stroke-width="3.00" stroke-linecap="square" stroke-linejoin="miter" stroke-miterlimit="2"/><path d="M104.50 1000.38L129.91 1000.38M144.03 989.34L146.86 987.96L151.09 983.82L151.09 1012.80M170.86 1010.04L169.45 1011.42L170.86 1012.80L172.27 1011.42L170.86 1010.04M190.63 983.82L186.39 985.20L183.57 989.34L182.16 996.24L182.16 1000.38L183.57 1007.28L186.39 1011.42L190.63 1012.80L193.45 1012.80L197.69 1011.42L200.51 1007.28L201.93 1000.38L201.93 996.24L200.51 989.34L197.69 985.20L193.45 983.82L190.63 983.82" fill="none" stroke="#000" stroke-width="3.00" stroke-linecap="square" stroke-linejoin="miter" stroke-miterlimit="2"/><path d="M854.46 989.34L857.28 987.96L861.51 983.82L861.51 1012.80M881.25 1010.04L879.84 1011.42L881.25 1012.80L882.66 1011.42L881.25 1010.04M900.99 983.82L896.76 985.20L893.94 989.34L892.53 996.24L892.53 1000.38L893.94 1007.28L896.76 1011.42L900.99 1012.80L903.81 1012.80L908.04 1011.42L910.86 1007.28L912.27 1000.38L912.27 996.24L910.86 989.34L908.04 985.20L903.81 983.82L900.99 983.82" fill="none" stroke="#000" stroke-width="3.00" stroke-linecap="square" stroke-linejoin="miter" stroke-miterlimit="2"/><rect x="0" y="1023" width="1024" height="1" fill="#000"/></svg></body></html>
